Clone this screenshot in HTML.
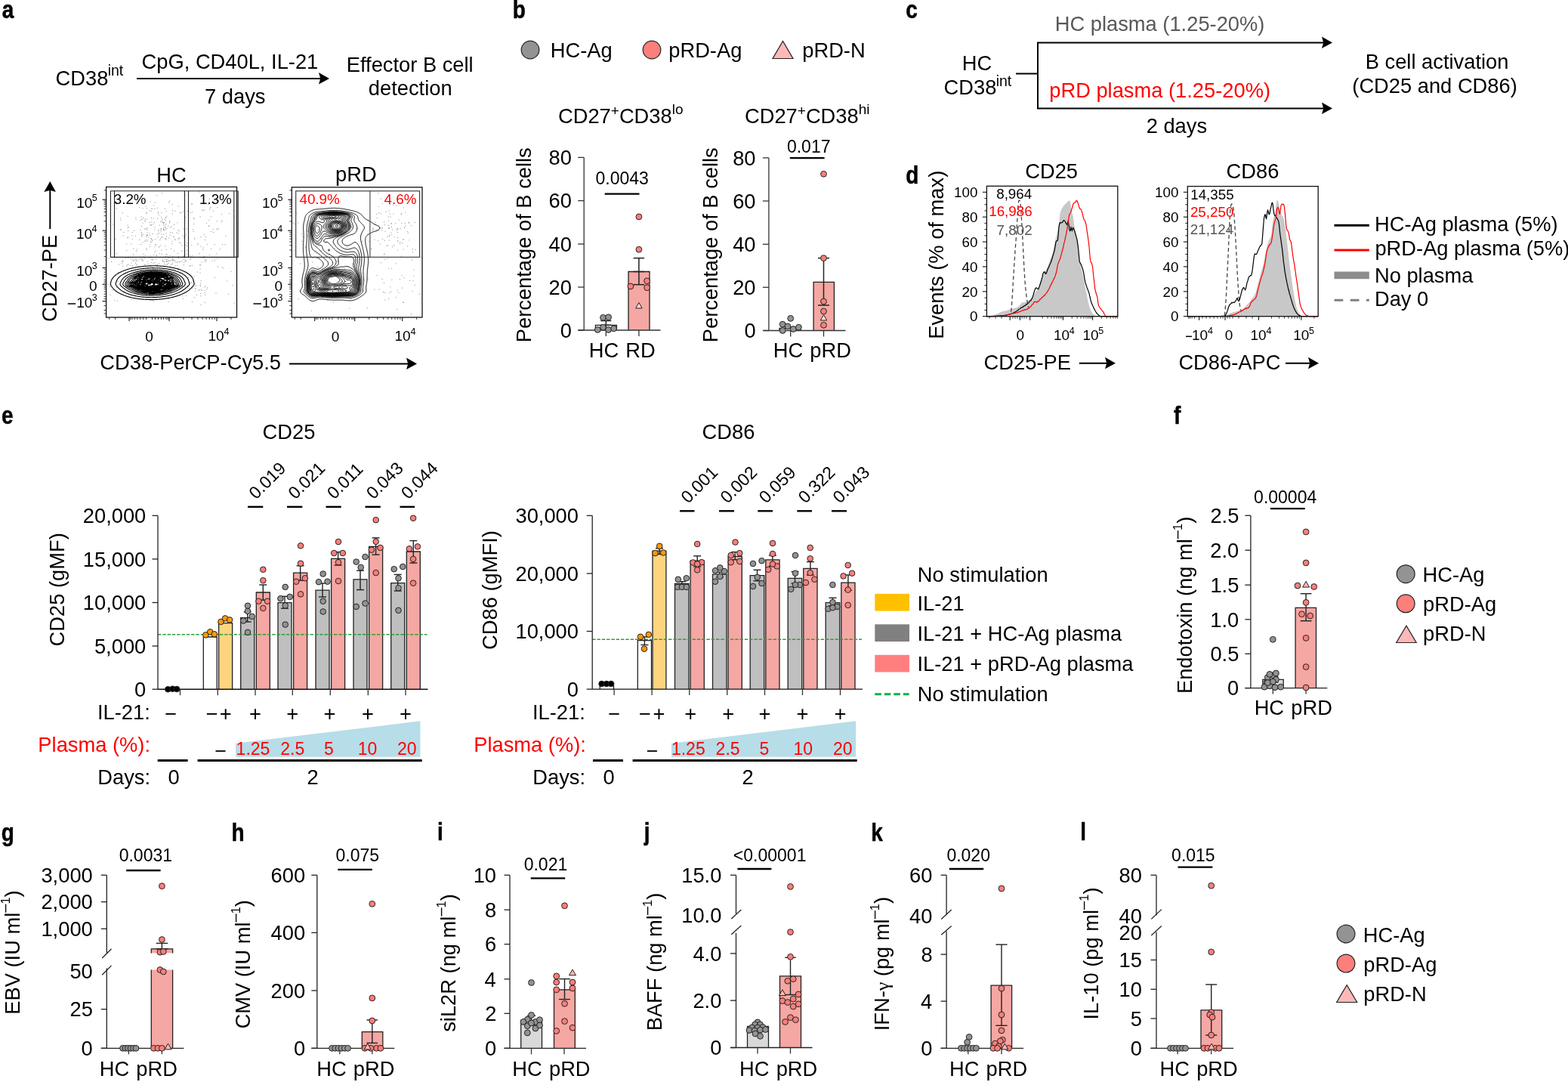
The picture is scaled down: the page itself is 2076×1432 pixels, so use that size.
<!DOCTYPE html>
<html><head><meta charset="utf-8"><title>Figure</title>
<style>
html,body{margin:0;padding:0;background:#fff;width:2076px;height:1432px;overflow:hidden}
svg{display:block}
svg{font-family:"Liberation Sans",Arial,Helvetica,sans-serif;font-size:27.3px;fill:#000}
</style></head><body>
<svg width="2076" height="1432" viewBox="0 0 2076 1432">
<rect width="2076" height="1432" fill="#fff"/>
<text transform="translate(2.68 24.4) scale(0.86 1)" font-size="32.5" font-weight="bold" stroke="#000" stroke-width="0.5">a</text>
<text transform="translate(678.66 24.2) scale(0.86 1)" font-size="32.5" font-weight="bold" stroke="#000" stroke-width="0.5">b</text>
<text transform="translate(1199.21 24.2) scale(0.86 1)" font-size="32.5" font-weight="bold" stroke="#000" stroke-width="0.5">c</text>
<text transform="translate(1199.35 243.4) scale(0.86 1)" font-size="32.5" font-weight="bold" stroke="#000" stroke-width="0.5">d</text>
<text transform="translate(2.11 561.2) scale(0.86 1)" font-size="32.5" font-weight="bold" stroke="#000" stroke-width="0.5">e</text>
<text transform="translate(1553.92 560.8) scale(0.86 1)" font-size="32.5" font-weight="bold" stroke="#000" stroke-width="0.5">f</text>
<text transform="translate(1.85 1112.5) scale(0.86 1)" font-size="32.5" font-weight="bold" stroke="#000" stroke-width="0.5">g</text>
<text transform="translate(306.45 1112.7) scale(0.86 1)" font-size="32.5" font-weight="bold" stroke="#000" stroke-width="0.5">h</text>
<text transform="translate(579.05 1112.3) scale(0.86 1)" font-size="32.5" font-weight="bold" stroke="#000" stroke-width="0.5">i</text>
<text transform="translate(852.74 1112.3) scale(0.86 1)" font-size="32.5" font-weight="bold" stroke="#000" stroke-width="0.5">j</text>
<text transform="translate(1153.25 1112.7) scale(0.86 1)" font-size="32.5" font-weight="bold" stroke="#000" stroke-width="0.5">k</text>
<text transform="translate(1430.15 1112.3) scale(0.86 1)" font-size="32.5" font-weight="bold" stroke="#000" stroke-width="0.5">l</text>
<text x="73.61" y="112.5">CD38</text>
<text x="142.7" y="100" font-size="19.5">int</text>
<line x1="181" y1="104" x2="425" y2="104" stroke="#000" stroke-width="2"/>
<polygon points="422,96 436,104 422,111.6 424.2,104" fill="#000" stroke="none" stroke-width="1"/>
<text x="187.61" y="91">CpG, CD40L, IL-21</text>
<text x="271.1" y="137">7 days</text>
<text x="458.76" y="94.5">Effector B cell</text>
<text x="487.85" y="126">detection</text>
<circle cx="702" cy="66" r="11.8" fill="#939393" stroke="#222" stroke-width="1.2"/>
<text x="728.76" y="76">HC-Ag</text>
<circle cx="863" cy="66" r="11.8" fill="#fc7f7b" stroke="#222" stroke-width="1.2"/>
<text x="885.24" y="76">pRD-Ag</text>
<polygon points="1023,77.5 1050,77.5 1036.5,54.5" fill="#ffb8b8" stroke="#222" stroke-width="1.2"/>
<text x="1062.24" y="76">pRD-N</text>
<text x="739" y="163">CD27<tspan font-size="19" dy="-10.5">+</tspan><tspan dy="10.5">CD38</tspan><tspan font-size="19" dy="-12">lo</tspan></text>
<text x="986" y="163">CD27<tspan font-size="19" dy="-10.5">+</tspan><tspan dy="10.5">CD38</tspan><tspan font-size="19" dy="-12">hi</tspan></text>
<line x1="773.2" y1="208.4" x2="773.2" y2="437" stroke="#333" stroke-width="1.3"/>
<line x1="765.2" y1="208.4" x2="773.2" y2="208.4" stroke="#333" stroke-width="1.3"/>
<text x="726.5" y="218.1">80</text>
<line x1="765.2" y1="265.6" x2="773.2" y2="265.6" stroke="#333" stroke-width="1.3"/>
<text x="726.5" y="275.3">60</text>
<line x1="765.2" y1="323" x2="773.2" y2="323" stroke="#333" stroke-width="1.3"/>
<text x="726.5" y="332.7">40</text>
<line x1="765.2" y1="380" x2="773.2" y2="380" stroke="#333" stroke-width="1.3"/>
<text x="726.5" y="389.7">20</text>
<line x1="765.2" y1="437" x2="773.2" y2="437" stroke="#333" stroke-width="1.3"/>
<text x="741.68" y="446.7">0</text>
<path d="M788.4 437V430.3H816.4V437" fill="#fff" stroke="#222" stroke-width="1.3"/>
<path d="M832 437V359.5H860V437" fill="#f5a7a3" stroke="#222" stroke-width="1.3"/>
<line x1="765.4" y1="437" x2="874.5" y2="437" stroke="#333" stroke-width="1.3"/>
<line x1="802.3" y1="437" x2="802.3" y2="445" stroke="#333" stroke-width="1.3"/>
<line x1="845.9" y1="437" x2="845.9" y2="445" stroke="#333" stroke-width="1.3"/>
<line x1="802.3" y1="424.5" x2="802.3" y2="436" stroke="#222" stroke-width="1.5"/>
<line x1="795.3" y1="424.5" x2="809.3" y2="424.5" stroke="#222" stroke-width="1.5"/>
<line x1="795.3" y1="430.3" x2="809.3" y2="430.3" stroke="#222" stroke-width="1.5"/>
<line x1="795.3" y1="436" x2="809.3" y2="436" stroke="#222" stroke-width="1.5"/>
<line x1="845.9" y1="341.6" x2="845.9" y2="376.7" stroke="#222" stroke-width="1.5"/>
<line x1="838.7" y1="341.6" x2="853.1" y2="341.6" stroke="#222" stroke-width="1.5"/>
<line x1="838.7" y1="359.5" x2="853.1" y2="359.5" stroke="#222" stroke-width="1.5"/>
<line x1="838.7" y1="376.7" x2="853.1" y2="376.7" stroke="#222" stroke-width="1.5"/>
<circle cx="798.5" cy="420.3" r="3.9" fill="#939393" stroke="#222" stroke-width="1"/>
<circle cx="805.6" cy="419.8" r="3.9" fill="#939393" stroke="#222" stroke-width="1"/>
<circle cx="791.3" cy="436.4" r="3.9" fill="#939393" stroke="#222" stroke-width="1"/>
<circle cx="798.5" cy="433.2" r="3.9" fill="#939393" stroke="#222" stroke-width="1"/>
<circle cx="805.6" cy="436.4" r="3.9" fill="#939393" stroke="#222" stroke-width="1"/>
<circle cx="812.6" cy="434.8" r="3.9" fill="#939393" stroke="#222" stroke-width="1"/>
<circle cx="845.9" cy="286.9" r="3.9" fill="#fc7f7b" stroke="#222" stroke-width="1"/>
<circle cx="845.9" cy="330.2" r="3.9" fill="#fc7f7b" stroke="#222" stroke-width="1"/>
<circle cx="856.6" cy="371.8" r="3.9" fill="#fc7f7b" stroke="#222" stroke-width="1"/>
<circle cx="834.9" cy="378.9" r="3.9" fill="#fc7f7b" stroke="#222" stroke-width="1"/>
<circle cx="856.6" cy="380.7" r="3.9" fill="#fc7f7b" stroke="#222" stroke-width="1"/>
<polygon points="841.65,407.95 850.15,407.95 845.9,400.59" fill="#fdd" stroke="#222" stroke-width="1"/>
<line x1="800.7" y1="256.7" x2="846.5" y2="256.7" stroke="#000" stroke-width="2.2"/>
<text x="788.48" y="244.4" font-size="23">0.0043</text>
<text x="779.76" y="473" word-spacing="1.6">HC RD</text>
<text transform="translate(702.5 323.6) rotate(-90)" x="-129.62" y="0">Percentage of B cells</text>
<line x1="1017.9" y1="208.9" x2="1017.9" y2="437.5" stroke="#333" stroke-width="1.3"/>
<line x1="1009.9" y1="208.9" x2="1017.9" y2="208.9" stroke="#333" stroke-width="1.3"/>
<text x="970.2" y="218.6">80</text>
<line x1="1009.9" y1="266" x2="1017.9" y2="266" stroke="#333" stroke-width="1.3"/>
<text x="970.2" y="275.7">60</text>
<line x1="1009.9" y1="323.3" x2="1017.9" y2="323.3" stroke="#333" stroke-width="1.3"/>
<text x="970.2" y="333">40</text>
<line x1="1009.9" y1="380.3" x2="1017.9" y2="380.3" stroke="#333" stroke-width="1.3"/>
<text x="970.2" y="390">20</text>
<line x1="1009.9" y1="437.5" x2="1017.9" y2="437.5" stroke="#333" stroke-width="1.3"/>
<text x="985.38" y="447.2">0</text>
<path d="M1077.1 437.5V373.4H1104.4V437.5" fill="#f5a7a3" stroke="#222" stroke-width="1.3"/>
<path d="M1032 437.5V434.5H1060V437.5" fill="#fff" stroke="#222" stroke-width="1.3"/>
<line x1="1010.5" y1="437.5" x2="1119.5" y2="437.5" stroke="#333" stroke-width="1.3"/>
<line x1="1046.7" y1="437.5" x2="1046.7" y2="445.5" stroke="#333" stroke-width="1.3"/>
<line x1="1090.5" y1="437.5" x2="1090.5" y2="445.5" stroke="#333" stroke-width="1.3"/>
<line x1="1090.5" y1="341.6" x2="1090.5" y2="404" stroke="#222" stroke-width="1.5"/>
<line x1="1083" y1="341.6" x2="1098" y2="341.6" stroke="#222" stroke-width="1.5"/>
<line x1="1083" y1="404" x2="1098" y2="404" stroke="#222" stroke-width="1.5"/>
<circle cx="1046.7" cy="421.4" r="3.9" fill="#939393" stroke="#222" stroke-width="1"/>
<circle cx="1036.2" cy="429.2" r="3.9" fill="#939393" stroke="#222" stroke-width="1"/>
<circle cx="1042.9" cy="431.9" r="3.9" fill="#939393" stroke="#222" stroke-width="1"/>
<circle cx="1050.3" cy="435.5" r="3.9" fill="#939393" stroke="#222" stroke-width="1"/>
<circle cx="1057.4" cy="433.2" r="3.9" fill="#939393" stroke="#222" stroke-width="1"/>
<circle cx="1036.2" cy="437.5" r="3.9" fill="#939393" stroke="#222" stroke-width="1"/>
<circle cx="1090.5" cy="230.3" r="3.9" fill="#fc7f7b" stroke="#222" stroke-width="1"/>
<circle cx="1090.5" cy="341.6" r="3.9" fill="#fc7f7b" stroke="#222" stroke-width="1"/>
<circle cx="1090.5" cy="399" r="3.9" fill="#fc7f7b" stroke="#222" stroke-width="1"/>
<circle cx="1090.5" cy="412" r="3.9" fill="#fc7f7b" stroke="#222" stroke-width="1"/>
<circle cx="1090.5" cy="430.3" r="3.9" fill="#fc7f7b" stroke="#222" stroke-width="1"/>
<polygon points="1086.25,423.95 1094.75,423.95 1090.5,416.59" fill="#fdd" stroke="#222" stroke-width="1"/>
<line x1="1045.8" y1="209.1" x2="1091.6" y2="209.1" stroke="#000" stroke-width="2.2"/>
<text x="1041.95" y="202" font-size="23">0.017</text>
<text x="1023.76" y="473" word-spacing="1.6">HC pRD</text>
<text transform="translate(949.5 323.6) rotate(-90)" x="-129.62" y="0">Percentage of B cells</text>
<text x="1396.76" y="41" fill="#595959">HC plasma (1.25-20%)</text>
<line x1="1374" y1="56.5" x2="1374" y2="143.5" stroke="#000" stroke-width="2"/>
<line x1="1345" y1="97.5" x2="1374" y2="97.5" stroke="#000" stroke-width="2"/>
<line x1="1373" y1="56.5" x2="1753" y2="56.5" stroke="#000" stroke-width="2"/>
<polygon points="1750,48.5 1764,56.5 1750,64.1 1752.2,56.5" fill="#000" stroke="none" stroke-width="1"/>
<line x1="1373" y1="143.5" x2="1753" y2="143.5" stroke="#000" stroke-width="2"/>
<polygon points="1750,135.5 1764,143.5 1750,151.1 1752.2,143.5" fill="#000" stroke="none" stroke-width="1"/>
<text x="1273.76" y="93">HC</text>
<text x="1249.61" y="125">CD38</text>
<text x="1318.7" y="113.75" font-size="19.5">int</text>
<text x="1389.24" y="129" fill="#ff0000">pRD plasma (1.25-20%)</text>
<text x="1517.63" y="175.5">2 days</text>
<text x="1807.76" y="90.5">B cell activation</text>
<text x="1790.31" y="122.5">(CD25 and CD86)</text>
<text x="207.36" y="240.5">HC</text>
<text x="444.04" y="240.2">pRD</text>
<rect x="140.6" y="247.4" width="172.9" height="172.6" fill="none" stroke="#111" stroke-width="1.3"/>
<line x1="135.6" y1="264.2" x2="140.6" y2="264.2" stroke="#111" stroke-width="1.1"/>
<line x1="135.6" y1="305.2" x2="140.6" y2="305.2" stroke="#111" stroke-width="1.1"/>
<line x1="135.6" y1="354.5" x2="140.6" y2="354.5" stroke="#111" stroke-width="1.1"/>
<line x1="135.6" y1="376.3" x2="140.6" y2="376.3" stroke="#111" stroke-width="1.1"/>
<line x1="135.6" y1="398.6" x2="140.6" y2="398.6" stroke="#111" stroke-width="1.1"/>
<line x1="137.6" y1="292.86" x2="140.6" y2="292.86" stroke="#111" stroke-width="0.8"/>
<line x1="137.6" y1="339.66" x2="140.6" y2="339.66" stroke="#111" stroke-width="0.8"/>
<line x1="137.6" y1="285.64" x2="140.6" y2="285.64" stroke="#111" stroke-width="0.8"/>
<line x1="137.6" y1="330.98" x2="140.6" y2="330.98" stroke="#111" stroke-width="0.8"/>
<line x1="137.6" y1="280.52" x2="140.6" y2="280.52" stroke="#111" stroke-width="0.8"/>
<line x1="137.6" y1="324.82" x2="140.6" y2="324.82" stroke="#111" stroke-width="0.8"/>
<line x1="137.6" y1="276.54" x2="140.6" y2="276.54" stroke="#111" stroke-width="0.8"/>
<line x1="137.6" y1="320.04" x2="140.6" y2="320.04" stroke="#111" stroke-width="0.8"/>
<line x1="137.6" y1="273.3" x2="140.6" y2="273.3" stroke="#111" stroke-width="0.8"/>
<line x1="137.6" y1="316.14" x2="140.6" y2="316.14" stroke="#111" stroke-width="0.8"/>
<line x1="137.6" y1="270.55" x2="140.6" y2="270.55" stroke="#111" stroke-width="0.8"/>
<line x1="137.6" y1="312.84" x2="140.6" y2="312.84" stroke="#111" stroke-width="0.8"/>
<line x1="137.6" y1="268.17" x2="140.6" y2="268.17" stroke="#111" stroke-width="0.8"/>
<line x1="137.6" y1="309.98" x2="140.6" y2="309.98" stroke="#111" stroke-width="0.8"/>
<line x1="137.6" y1="266.08" x2="140.6" y2="266.08" stroke="#111" stroke-width="0.8"/>
<line x1="137.6" y1="307.46" x2="140.6" y2="307.46" stroke="#111" stroke-width="0.8"/>
<line x1="137.6" y1="251.86" x2="140.6" y2="251.86" stroke="#111" stroke-width="0.8"/>
<line x1="137.6" y1="374.15" x2="140.6" y2="374.15" stroke="#111" stroke-width="0.8"/>
<line x1="137.6" y1="378.45" x2="140.6" y2="378.45" stroke="#111" stroke-width="0.8"/>
<line x1="137.6" y1="372" x2="140.6" y2="372" stroke="#111" stroke-width="0.8"/>
<line x1="137.6" y1="380.6" x2="140.6" y2="380.6" stroke="#111" stroke-width="0.8"/>
<line x1="137.6" y1="369.85" x2="140.6" y2="369.85" stroke="#111" stroke-width="0.8"/>
<line x1="137.6" y1="382.75" x2="140.6" y2="382.75" stroke="#111" stroke-width="0.8"/>
<line x1="137.6" y1="366.62" x2="140.6" y2="366.62" stroke="#111" stroke-width="0.8"/>
<line x1="137.6" y1="385.98" x2="140.6" y2="385.98" stroke="#111" stroke-width="0.8"/>
<line x1="137.6" y1="363.4" x2="140.6" y2="363.4" stroke="#111" stroke-width="0.8"/>
<line x1="137.6" y1="389.2" x2="140.6" y2="389.2" stroke="#111" stroke-width="0.8"/>
<line x1="137.6" y1="360.18" x2="140.6" y2="360.18" stroke="#111" stroke-width="0.8"/>
<line x1="137.6" y1="392.43" x2="140.6" y2="392.43" stroke="#111" stroke-width="0.8"/>
<line x1="137.6" y1="356.95" x2="140.6" y2="356.95" stroke="#111" stroke-width="0.8"/>
<line x1="137.6" y1="395.65" x2="140.6" y2="395.65" stroke="#111" stroke-width="0.8"/>
<line x1="137.6" y1="404.5" x2="140.6" y2="404.5" stroke="#111" stroke-width="0.8"/>
<line x1="137.6" y1="410.5" x2="140.6" y2="410.5" stroke="#111" stroke-width="0.8"/>
<line x1="137.6" y1="415" x2="140.6" y2="415" stroke="#111" stroke-width="0.8"/>
<line x1="171" y1="420" x2="171" y2="425" stroke="#111" stroke-width="1.1"/>
<line x1="224" y1="420" x2="224" y2="425" stroke="#111" stroke-width="1.1"/>
<line x1="287" y1="420" x2="287" y2="425" stroke="#111" stroke-width="1.1"/>
<line x1="193.61" y1="420" x2="193.61" y2="423" stroke="#111" stroke-width="0.8"/>
<line x1="201.56" y1="420" x2="201.56" y2="423" stroke="#111" stroke-width="0.8"/>
<line x1="189.62" y1="420" x2="189.62" y2="423" stroke="#111" stroke-width="0.8"/>
<line x1="205.52" y1="420" x2="205.52" y2="423" stroke="#111" stroke-width="0.8"/>
<line x1="185.63" y1="420" x2="185.63" y2="423" stroke="#111" stroke-width="0.8"/>
<line x1="209.48" y1="420" x2="209.48" y2="423" stroke="#111" stroke-width="0.8"/>
<line x1="181.64" y1="420" x2="181.64" y2="423" stroke="#111" stroke-width="0.8"/>
<line x1="213.44" y1="420" x2="213.44" y2="423" stroke="#111" stroke-width="0.8"/>
<line x1="178.45" y1="420" x2="178.45" y2="423" stroke="#111" stroke-width="0.8"/>
<line x1="216.61" y1="420" x2="216.61" y2="423" stroke="#111" stroke-width="0.8"/>
<line x1="174.99" y1="420" x2="174.99" y2="423" stroke="#111" stroke-width="0.8"/>
<line x1="220.04" y1="420" x2="220.04" y2="423" stroke="#111" stroke-width="0.8"/>
<line x1="172.86" y1="420" x2="172.86" y2="423" stroke="#111" stroke-width="0.8"/>
<line x1="222.15" y1="420" x2="222.15" y2="423" stroke="#111" stroke-width="0.8"/>
<line x1="242.96" y1="420" x2="242.96" y2="423" stroke="#111" stroke-width="0.8"/>
<line x1="305.96" y1="420" x2="305.96" y2="423" stroke="#111" stroke-width="0.8"/>
<line x1="254.06" y1="420" x2="254.06" y2="423" stroke="#111" stroke-width="0.8"/>
<line x1="261.93" y1="420" x2="261.93" y2="423" stroke="#111" stroke-width="0.8"/>
<line x1="268.04" y1="420" x2="268.04" y2="423" stroke="#111" stroke-width="0.8"/>
<line x1="273.02" y1="420" x2="273.02" y2="423" stroke="#111" stroke-width="0.8"/>
<line x1="277.24" y1="420" x2="277.24" y2="423" stroke="#111" stroke-width="0.8"/>
<line x1="280.89" y1="420" x2="280.89" y2="423" stroke="#111" stroke-width="0.8"/>
<line x1="284.12" y1="420" x2="284.12" y2="423" stroke="#111" stroke-width="0.8"/>
<line x1="144.6" y1="420" x2="144.6" y2="423" stroke="#111" stroke-width="0.8"/>
<line x1="152.6" y1="420" x2="152.6" y2="423" stroke="#111" stroke-width="0.8"/>
<text x="101.28" y="274.8" font-size="19">10</text>
<text x="121.77" y="266.2" font-size="12.5">5</text>
<text x="100.91" y="316" font-size="19">10</text>
<text x="121.61" y="307.4" font-size="12.5">4</text>
<text x="101.28" y="364.5" font-size="19">10</text>
<text x="121.8" y="355.9" font-size="12.5">3</text>
<text x="117.88" y="385.2" font-size="19">0</text>
<text x="101.28" y="406.6" font-size="19">10</text>
<text x="121.8" y="398" font-size="12.5">3</text>
<line x1="89.73" y1="402" x2="100.23" y2="402" stroke="#000" stroke-width="1.5"/>
<text x="192.32" y="451.5" font-size="19">0</text>
<text x="275.55" y="451.2" font-size="19">10</text>
<text x="296.46" y="442.6" font-size="12.5">4</text>
<rect x="386.3" y="247.8" width="172.7" height="172.2" fill="none" stroke="#111" stroke-width="1.3"/>
<line x1="381.3" y1="264.2" x2="386.3" y2="264.2" stroke="#111" stroke-width="1.1"/>
<line x1="381.3" y1="305.2" x2="386.3" y2="305.2" stroke="#111" stroke-width="1.1"/>
<line x1="381.3" y1="354.5" x2="386.3" y2="354.5" stroke="#111" stroke-width="1.1"/>
<line x1="381.3" y1="376.3" x2="386.3" y2="376.3" stroke="#111" stroke-width="1.1"/>
<line x1="381.3" y1="398.6" x2="386.3" y2="398.6" stroke="#111" stroke-width="1.1"/>
<line x1="383.3" y1="292.86" x2="386.3" y2="292.86" stroke="#111" stroke-width="0.8"/>
<line x1="383.3" y1="339.66" x2="386.3" y2="339.66" stroke="#111" stroke-width="0.8"/>
<line x1="383.3" y1="285.64" x2="386.3" y2="285.64" stroke="#111" stroke-width="0.8"/>
<line x1="383.3" y1="330.98" x2="386.3" y2="330.98" stroke="#111" stroke-width="0.8"/>
<line x1="383.3" y1="280.52" x2="386.3" y2="280.52" stroke="#111" stroke-width="0.8"/>
<line x1="383.3" y1="324.82" x2="386.3" y2="324.82" stroke="#111" stroke-width="0.8"/>
<line x1="383.3" y1="276.54" x2="386.3" y2="276.54" stroke="#111" stroke-width="0.8"/>
<line x1="383.3" y1="320.04" x2="386.3" y2="320.04" stroke="#111" stroke-width="0.8"/>
<line x1="383.3" y1="273.3" x2="386.3" y2="273.3" stroke="#111" stroke-width="0.8"/>
<line x1="383.3" y1="316.14" x2="386.3" y2="316.14" stroke="#111" stroke-width="0.8"/>
<line x1="383.3" y1="270.55" x2="386.3" y2="270.55" stroke="#111" stroke-width="0.8"/>
<line x1="383.3" y1="312.84" x2="386.3" y2="312.84" stroke="#111" stroke-width="0.8"/>
<line x1="383.3" y1="268.17" x2="386.3" y2="268.17" stroke="#111" stroke-width="0.8"/>
<line x1="383.3" y1="309.98" x2="386.3" y2="309.98" stroke="#111" stroke-width="0.8"/>
<line x1="383.3" y1="266.08" x2="386.3" y2="266.08" stroke="#111" stroke-width="0.8"/>
<line x1="383.3" y1="307.46" x2="386.3" y2="307.46" stroke="#111" stroke-width="0.8"/>
<line x1="383.3" y1="251.86" x2="386.3" y2="251.86" stroke="#111" stroke-width="0.8"/>
<line x1="383.3" y1="374.15" x2="386.3" y2="374.15" stroke="#111" stroke-width="0.8"/>
<line x1="383.3" y1="378.45" x2="386.3" y2="378.45" stroke="#111" stroke-width="0.8"/>
<line x1="383.3" y1="372" x2="386.3" y2="372" stroke="#111" stroke-width="0.8"/>
<line x1="383.3" y1="380.6" x2="386.3" y2="380.6" stroke="#111" stroke-width="0.8"/>
<line x1="383.3" y1="369.85" x2="386.3" y2="369.85" stroke="#111" stroke-width="0.8"/>
<line x1="383.3" y1="382.75" x2="386.3" y2="382.75" stroke="#111" stroke-width="0.8"/>
<line x1="383.3" y1="366.62" x2="386.3" y2="366.62" stroke="#111" stroke-width="0.8"/>
<line x1="383.3" y1="385.98" x2="386.3" y2="385.98" stroke="#111" stroke-width="0.8"/>
<line x1="383.3" y1="363.4" x2="386.3" y2="363.4" stroke="#111" stroke-width="0.8"/>
<line x1="383.3" y1="389.2" x2="386.3" y2="389.2" stroke="#111" stroke-width="0.8"/>
<line x1="383.3" y1="360.18" x2="386.3" y2="360.18" stroke="#111" stroke-width="0.8"/>
<line x1="383.3" y1="392.43" x2="386.3" y2="392.43" stroke="#111" stroke-width="0.8"/>
<line x1="383.3" y1="356.95" x2="386.3" y2="356.95" stroke="#111" stroke-width="0.8"/>
<line x1="383.3" y1="395.65" x2="386.3" y2="395.65" stroke="#111" stroke-width="0.8"/>
<line x1="383.3" y1="404.5" x2="386.3" y2="404.5" stroke="#111" stroke-width="0.8"/>
<line x1="383.3" y1="410.5" x2="386.3" y2="410.5" stroke="#111" stroke-width="0.8"/>
<line x1="383.3" y1="415" x2="386.3" y2="415" stroke="#111" stroke-width="0.8"/>
<line x1="416.7" y1="420" x2="416.7" y2="425" stroke="#111" stroke-width="1.1"/>
<line x1="469.7" y1="420" x2="469.7" y2="425" stroke="#111" stroke-width="1.1"/>
<line x1="532.7" y1="420" x2="532.7" y2="425" stroke="#111" stroke-width="1.1"/>
<line x1="439.9" y1="420" x2="439.9" y2="423" stroke="#111" stroke-width="0.8"/>
<line x1="447.86" y1="420" x2="447.86" y2="423" stroke="#111" stroke-width="0.8"/>
<line x1="435.81" y1="420" x2="435.81" y2="423" stroke="#111" stroke-width="0.8"/>
<line x1="451.71" y1="420" x2="451.71" y2="423" stroke="#111" stroke-width="0.8"/>
<line x1="431.71" y1="420" x2="431.71" y2="423" stroke="#111" stroke-width="0.8"/>
<line x1="455.56" y1="420" x2="455.56" y2="423" stroke="#111" stroke-width="0.8"/>
<line x1="427.62" y1="420" x2="427.62" y2="423" stroke="#111" stroke-width="0.8"/>
<line x1="459.42" y1="420" x2="459.42" y2="423" stroke="#111" stroke-width="0.8"/>
<line x1="424.34" y1="420" x2="424.34" y2="423" stroke="#111" stroke-width="0.8"/>
<line x1="462.5" y1="420" x2="462.5" y2="423" stroke="#111" stroke-width="0.8"/>
<line x1="420.8" y1="420" x2="420.8" y2="423" stroke="#111" stroke-width="0.8"/>
<line x1="465.84" y1="420" x2="465.84" y2="423" stroke="#111" stroke-width="0.8"/>
<line x1="418.61" y1="420" x2="418.61" y2="423" stroke="#111" stroke-width="0.8"/>
<line x1="467.9" y1="420" x2="467.9" y2="423" stroke="#111" stroke-width="0.8"/>
<line x1="488.66" y1="420" x2="488.66" y2="423" stroke="#111" stroke-width="0.8"/>
<line x1="551.66" y1="420" x2="551.66" y2="423" stroke="#111" stroke-width="0.8"/>
<line x1="499.76" y1="420" x2="499.76" y2="423" stroke="#111" stroke-width="0.8"/>
<line x1="507.63" y1="420" x2="507.63" y2="423" stroke="#111" stroke-width="0.8"/>
<line x1="513.74" y1="420" x2="513.74" y2="423" stroke="#111" stroke-width="0.8"/>
<line x1="518.72" y1="420" x2="518.72" y2="423" stroke="#111" stroke-width="0.8"/>
<line x1="522.94" y1="420" x2="522.94" y2="423" stroke="#111" stroke-width="0.8"/>
<line x1="526.59" y1="420" x2="526.59" y2="423" stroke="#111" stroke-width="0.8"/>
<line x1="529.82" y1="420" x2="529.82" y2="423" stroke="#111" stroke-width="0.8"/>
<line x1="390.3" y1="420" x2="390.3" y2="423" stroke="#111" stroke-width="0.8"/>
<line x1="398.3" y1="420" x2="398.3" y2="423" stroke="#111" stroke-width="0.8"/>
<text x="346.98" y="274.8" font-size="19">10</text>
<text x="367.47" y="266.2" font-size="12.5">5</text>
<text x="346.61" y="316" font-size="19">10</text>
<text x="367.31" y="307.4" font-size="12.5">4</text>
<text x="346.98" y="364.5" font-size="19">10</text>
<text x="367.5" y="355.9" font-size="12.5">3</text>
<text x="363.58" y="385.2" font-size="19">0</text>
<text x="346.98" y="406.6" font-size="19">10</text>
<text x="367.5" y="398" font-size="12.5">3</text>
<line x1="335.43" y1="402" x2="345.93" y2="402" stroke="#000" stroke-width="1.5"/>
<text x="438.72" y="451.5" font-size="19">0</text>
<text x="522.55" y="451.2" font-size="19">10</text>
<text x="543.46" y="442.6" font-size="12.5">4</text>
<path d="M205.8 332.2h1M234.4 294.8h1M197.8 294.5h1M218.7 303.9h1M222.9 268.1h1M242.6 303.1h1M221.3 302.3h1M195.9 314.3h1M224.8 300.9h1M201.3 318.7h1M184.1 274.7h1M214.5 291.6h1M158.9 288.7h1M193.8 281.1h1M169.2 305.7h1M226.5 300.3h1M187.2 312.7h1M222.2 299.0h1M218.1 325.9h1M200.0 288.7h1M213.3 310.0h1M231.4 279.3h1M189.1 288.2h1M163.4 307.5h1M217.7 290.2h1M238.3 321.4h1M220.1 313.0h1M227.9 278.4h1M219.7 317.1h1M162.6 311.9h1M199.0 320.6h1M194.5 304.6h1M213.2 287.5h1M219.4 302.9h1M216.8 294.6h1M231.1 317.1h1M200.7 317.6h1M235.2 340.8h1M167.2 322.7h1M216.2 303.1h1M180.8 330.1h1M174.7 316.3h1M236.2 273.0h1M197.7 278.8h1M210.9 335.3h1M253.6 269.4h1M191.2 319.1h1M242.9 313.4h1M187.1 310.9h1M204.6 300.9h1M187.4 312.7h1M212.4 303.1h1M199.7 279.3h1M193.3 329.1h1M200.4 276.2h1M237.0 315.6h1M255.6 306.3h1M193.9 276.0h1M236.8 356.4h1M185.3 292.1h1M219.3 288.4h1M198.5 298.0h1M209.6 326.9h1M205.5 323.4h1M194.9 311.6h1M153.7 276.0h1M224.1 293.2h1M218.9 315.8h1M236.7 321.2h1M229.4 302.8h1M188.2 290.4h1M193.3 282.4h1M191.9 303.1h1M211.0 298.2h1M158.8 303.6h1M210.4 326.7h1M218.9 292.1h1M187.6 345.2h1M223.2 341.6h1M256.1 288.6h1M214.2 314.2h1M218.4 315.8h1M209.8 308.5h1M168.9 301.7h1M187.1 307.5h1M193.8 317.4h1M224.7 311.2h1M212.6 306.9h1M194.3 301.7h1M193.1 312.8h1M205.3 316.6h1M173.1 322.8h1M186.7 290.3h1M200.3 293.7h1M212.0 293.5h1M179.3 288.1h1M236.5 305.9h1M177.0 305.2h1M167.7 340.8h1M168.4 314.6h1M218.0 276.0h1M212.2 324.9h1M216.2 310.2h1M227.8 308.2h1M213.1 302.5h1M220.2 286.2h1M224.0 294.9h1M178.8 312.3h1M245.6 324.2h1M192.6 319.0h1M194.1 302.5h1M207.1 258.7h1M209.6 284.4h1M188.3 275.5h1M168.6 286.1h1M224.8 338.3h1M204.4 326.8h1M198.7 266.8h1M208.6 313.9h1M194.7 311.0h1M218.7 287.7h1M169.6 300.6h1M199.9 297.9h1M228.7 339.5h1M195.0 319.0h1M227.6 319.3h1M230.1 297.2h1M222.8 345.5h1M224.3 292.6h1M219.6 330.2h1M213.9 293.7h1M242.0 280.0h1M217.1 304.7h1M176.4 329.4h1M213.3 281.7h1M219.4 296.4h1M159.3 291.2h1M211.3 317.7h1M209.0 305.9h1M216.3 300.8h1M233.2 308.0h1M212.1 315.8h1M179.6 290.8h1M241.7 311.7h1M198.2 311.8h1M193.4 310.6h1M189.0 310.5h1M167.1 331.6h1M192.7 273.4h1M199.6 297.6h1M208.7 282.1h1M214.5 377.5h1M174.3 311.8h1M197.5 308.9h1M161.5 282.0h1M216.0 304.2h1M244.2 290.9h1M209.2 363.3h1M186.6 286.9h1M204.2 304.1h1M225.3 307.6h1M186.8 309.2h1M268.3 330.4h1M184.0 317.4h1M200.8 343.7h1M227.3 322.8h1M209.5 304.2h1M213.2 330.9h1M217.8 298.0h1M235.6 308.8h1M203.1 289.2h1M191.4 292.3h1M218.6 300.7h1M230.1 313.8h1M213.9 255.5h1M199.4 315.6h1M243.6 341.8h1M239.2 281.8h1M152.3 316.4h1M205.7 324.3h1M202.0 309.4h1M169.0 314.0h1M194.3 312.0h1M216.0 302.7h1M212.6 304.7h1M223.2 315.0h1M191.9 293.2h1M246.8 303.0h1M228.8 312.9h1M191.5 290.0h1M207.9 310.1h1M219.7 279.7h1M190.7 303.1h1M243.4 257.8h1M215.5 294.2h1M215.4 295.2h1M213.7 336.3h1M213.5 313.7h1M213.9 290.0h1M218.0 300.8h1M185.5 304.2h1M199.5 320.1h1M204.0 294.4h1M239.9 324.8h1M235.5 317.2h1M202.4 296.6h1M198.3 324.0h1M207.7 275.3h1M204.1 276.7h1M209.0 280.9h1M174.7 307.4h1M203.1 271.8h1M223.0 348.3h1M169.4 341.4h1M188.5 295.1h1M200.7 276.1h1M236.2 314.9h1M187.0 299.5h1M168.6 298.0h1M227.5 270.7h1M194.5 307.9h1M230.2 332.0h1M194.0 290.2h1M215.8 297.7h1M197.6 326.6h1M245.6 310.3h1M200.4 316.4h1M159.7 304.6h1M250.8 352.6h1M286.4 303.1h1M286.3 335.8h1M257.4 315.0h1M286.5 265.9h1M290.7 329.8h1M276.6 298.6h1M287.8 266.1h1M273.9 323.2h1M247.2 321.8h1M263.6 254.2h1M269.9 278.6h1M278.4 274.2h1M293.0 283.7h1M279.1 286.9h1M265.5 326.2h1M276.3 291.3h1M247.0 325.5h1M286.7 292.8h1M276.9 277.3h1M251.7 281.8h1M279.1 306.5h1M257.1 316.2h1M287.7 303.8h1M292.8 293.7h1M269.7 310.4h1M271.3 317.5h1M246.9 331.4h1M256.4 296.4h1M244.4 313.2h1M297.5 323.6h1M288.7 265.7h1M256.4 289.8h1M253.3 324.7h1M275.7 299.5h1M281.8 279.1h1M253.8 280.6h1M282.0 307.5h1M283.6 323.7h1M244.9 287.7h1M275.0 270.3h1M261.4 322.3h1M294.1 323.7h1M272.9 295.3h1M293.6 291.8h1M278.8 329.2h1M264.6 286.6h1M271.8 313.2h1M281.6 303.4h1M283.1 264.8h1M254.8 303.6h1M253.4 270.5h1M247.8 279.8h1M268.4 277.5h1M276.7 337.3h1M269.0 328.0h1M277.8 275.4h1M266.9 278.4h1M287.4 274.6h1M298.5 312.7h1M231.6 317.3h1M303.1 282.6h1M291.7 260.4h1M277.0 263.4h1M281.6 260.7h1M219.3 308.7h1M288.6 302.4h1M265.5 313.5h1M269.5 339.4h1M231.7 346.6h1M162.1 352.3h1M280.2 340.7h1M272.8 345.3h1M206.3 351.8h1M220.0 346.5h1M265.1 350.8h1M243.3 338.7h1M157.0 350.1h1M179.6 345.7h1M174.4 344.2h1M167.2 352.3h1M176.3 344.5h1M205.4 350.4h1M162.3 344.8h1M204.7 347.4h1M228.5 342.9h1M220.4 343.3h1M228.4 344.5h1M189.1 344.9h1M224.7 355.2h1M194.8 346.4h1M263.2 335.6h1M151.0 339.7h1M208.0 356.0h1M225.7 350.4h1M204.2 333.9h1M218.5 339.2h1M251.1 338.1h1M251.7 351.5h1M185.2 340.0h1M241.6 340.1h1M242.2 339.6h1M240.3 345.4h1M196.9 341.0h1M220.3 336.5h1M202.3 343.2h1M235.7 339.4h1M272.0 343.6h1M172.2 351.2h1M270.2 344.2h1M180.8 345.1h1M187.8 343.6h1M266.5 346.8h1M217.1 346.6h1M210.0 348.8h1M242.8 343.3h1M215.7 355.9h1M226.8 344.2h1M283.7 345.0h1M173.6 348.0h1M180.5 342.8h1M223.4 344.4h1M185.3 342.5h1M191.2 350.2h1M186.8 342.4h1M283.3 342.5h1M264.1 350.9h1M206.7 338.6h1M227.9 348.0h1M245.9 345.3h1M254.2 351.3h1M175.1 351.4h1M218.1 342.5h1M200.8 353.4h1M246.4 336.9h1M214.9 344.4h1M205.9 342.7h1M161.0 348.9h1M179.1 343.3h1M190.9 341.7h1M238.0 346.7h1M188.4 340.7h1M195.6 349.4h1M216.4 346.0h1M200.5 343.8h1M219.6 336.7h1M268.4 341.5h1M192.1 351.0h1M219.8 345.2h1M191.6 338.0h1M218.5 350.4h1M180.5 351.1h1M172.6 341.7h1M229.7 345.0h1M236.2 341.7h1M175.9 336.6h1M169.9 340.2h1M162.1 346.4h1M188.8 336.1h1M298.9 341.2h1M168.1 350.6h1M252.8 339.8h1M160.4 340.5h1M251.5 343.6h1M183.7 344.9h1M254.1 338.7h1M198.6 338.8h1M288.0 353.2h1M245.3 344.4h1M235.1 335.5h1M221.7 339.0h1M165.6 341.8h1M199.7 347.6h1M236.5 346.2h1M178.9 348.0h1M207.8 350.3h1M179.9 332.6h1M195.3 354.7h1M228.4 344.1h1M242.9 347.3h1M228.1 342.7h1M214.7 345.9h1M189.5 340.0h1M216.9 349.4h1M234.7 347.2h1M229.7 356.6h1M221.1 349.7h1M280.5 345.2h1M221.3 349.7h1M271.1 346.4h1M224.7 345.4h1M169.8 350.0h1M203.2 337.3h1M207.0 337.2h1M176.8 345.1h1M179.9 349.8h1M160.8 346.2h1M231.7 351.6h1M244.5 346.1h1M215.1 344.8h1M252.2 342.1h1M230.6 344.6h1M220.8 343.9h1M287.1 342.1h1M221.2 346.3h1M233.7 347.1h1M227.3 349.5h1M142.3 376.3h1M153.7 379.9h1M155.8 360.8h1M203.0 398.5h1M229.8 380.9h1M264.5 361.1h1M193.9 396.0h1M295.4 354.9h1M309.6 401.2h1M240.8 382.1h1M307.5 377.5h1M185.7 378.4h1M148.1 383.8h1M201.0 381.5h1M220.7 359.3h1M260.9 360.0h1M242.9 350.7h1M221.2 363.1h1M207.4 365.8h1M208.5 386.2h1M143.9 342.2h1M169.0 372.9h1M179.1 363.3h1M241.4 391.7h1M236.8 361.2h1M208.9 373.1h1M145.7 390.4h1M209.3 368.5h1M265.2 388.5h1M241.6 395.4h1M235.8 356.0h1M189.3 392.3h1M173.3 376.8h1M222.3 399.3h1M260.2 390.6h1M197.8 390.9h1M227.8 373.6h1M262.6 384.1h1M173.8 396.5h1M194.8 385.7h1M165.8 360.6h1M199.2 380.0h1M252.0 374.2h1M227.0 354.4h1M213.7 369.5h1M226.4 379.0h1M147.2 346.5h1M162.7 387.9h1M223.2 382.6h1M179.1 370.8h1M179.9 381.8h1M198.1 357.1h1M168.3 378.4h1M208.3 374.9h1M300.4 371.9h1M210.2 360.1h1M190.0 384.4h1M228.9 373.5h1M221.7 376.9h1M302.1 389.3h1M202.6 348.2h1M151.4 397.7h1M241.5 378.3h1M236.7 373.9h1M305.5 359.6h1M147.8 380.4h1M265.0 375.1h1M249.1 367.5h1M155.2 398.4h1M270.9 400.5h1M186.6 357.5h1M155.9 372.4h1M229.5 384.1h1M144.8 379.1h1M205.7 377.4h1M204.0 372.8h1M229.9 378.0h1M214.5 364.9h1M221.6 374.1h1M193.9 390.8h1M198.2 374.5h1M213.9 375.8h1M256.6 365.7h1M284.1 367.4h1M257.9 385.2h1M266.6 384.5h1M271.2 390.1h1M265.6 403.3h1M249.8 381.8h1M257.7 375.6h1M265.4 391.7h1M253.5 374.3h1M270.7 384.4h1M285.5 388.2h1M264.8 377.4h1M264.6 378.6h1M245.6 380.1h1M259.9 378.1h1M256.8 393.5h1M270.4 387.5h1M254.7 371.8h1M258.6 382.0h1M257.9 378.5h1M273.5 382.4h1M250.2 376.6h1M254.1 381.4h1M248.0 378.6h1M270.3 380.2h1M251.0 375.1h1M263.5 383.9h1M272.0 378.8h1M246.2 391.4h1M265.6 383.2h1M265.7 371.7h1M258.2 382.1h1M274.4 380.5h1M224.6 378.1h1M234.4 351.8h1M254.1 399.6h1M293.3 353.9h1M261.6 324.0h1M186.1 323.5h1M238.0 281.4h1M208.2 289.5h1M227.7 283.0h1M188.4 320.7h1M216.2 295.6h1M218.8 362.8h1M154.2 335.5h1M224.0 265.9h1M226.3 329.1h1M149.3 296.9h1M204.7 268.1h1M288.6 265.0h1M308.5 278.7h1M240.0 332.2h1M264.6 356.1h1M310.3 286.1h1M193.7 330.4h1M235.8 304.6h1" stroke="#8a8a8a" stroke-width="1" fill="none"/>
<path d="M210.0,396.2 209.2,396.3 208.4,396.3 207.6,396.4 206.8,396.4 206.0,396.5 205.2,396.5 204.4,396.5 203.6,396.5 202.8,396.6 202.0,396.6 201.2,396.6 200.4,396.6 199.6,396.6 198.8,396.6 198.0,396.6 197.2,396.5 196.4,396.5 195.6,396.5 194.8,396.5 194.0,396.4 193.2,396.4 192.4,396.3 191.6,396.3 190.8,396.2 190.3,396.2 189.6,396.1 188.8,396.1 188.0,396.0 187.2,395.9 186.4,395.8 186.0,395.8 185.2,395.7 184.4,395.6 183.6,395.5 182.9,395.4 182.4,395.3 181.6,395.2 180.8,395.1 180.3,395.0 179.6,394.9 178.8,394.8 178.0,394.6 177.2,394.5 176.4,394.3 176.0,394.2 175.2,394.0 174.4,393.9 174.0,393.8 173.2,393.6 172.5,393.4 172.0,393.3 171.2,393.1 170.8,393.0 170.0,392.7 169.5,392.6 168.8,392.4 168.2,392.2 167.6,392.0 167.0,391.8 166.4,391.6 165.8,391.4 165.2,391.2 164.7,391.0 164.0,390.8 163.6,390.6 162.8,390.3 162.4,390.1 161.7,389.8 161.2,389.6 160.8,389.4 160.0,389.0 159.6,388.9 159.1,388.6 158.4,388.2 158.0,388.0 157.6,387.8 156.9,387.4 156.4,387.1 156.0,386.9 155.5,386.6 154.9,386.2 154.4,385.8 154.0,385.5 153.6,385.3 153.2,385.0 152.8,384.6 152.3,384.2 151.8,383.8 151.4,383.4 151.0,383.0 150.6,382.6 150.2,382.2 149.8,381.8 149.5,381.4 149.2,381.0 148.8,380.5 148.4,380.0 148.0,379.5 147.7,379.0 147.4,378.6 147.2,378.2 146.8,377.4 146.6,377.0 146.5,376.2 146.4,375.4 146.5,374.6 146.7,373.8 146.8,373.3 147.0,372.6 147.2,371.9 147.4,371.4 147.6,370.9 147.9,370.2 148.1,369.8 148.4,369.3 148.8,368.6 149.1,368.2 149.4,367.8 149.7,367.4 150.0,367.0 150.4,366.6 150.8,366.1 151.2,365.7 151.6,365.4 152.0,365.0 152.5,364.6 153.0,364.2 153.5,363.8 154.0,363.4 154.4,363.1 154.8,362.9 155.2,362.6 155.8,362.2 156.4,361.8 156.8,361.6 157.2,361.4 157.8,361.0 158.4,360.7 158.8,360.5 159.4,360.2 160.0,359.9 160.4,359.7 161.1,359.4 161.6,359.2 162.0,359.0 162.8,358.7 163.2,358.5 163.9,358.2 164.4,358.0 165.0,357.8 165.6,357.6 166.1,357.4 166.8,357.2 167.3,357.0 168.0,356.8 168.5,356.6 169.2,356.4 169.8,356.2 170.4,356.0 171.2,355.8 171.6,355.7 172.4,355.5 172.8,355.4 173.6,355.2 174.4,355.0 174.8,354.9 175.6,354.7 176.1,354.6 176.8,354.5 177.6,354.3 178.1,354.2 178.8,354.1 179.6,353.9 180.2,353.8 180.8,353.7 181.6,353.6 182.4,353.4 182.8,353.4 183.6,353.2 184.4,353.1 185.2,353.0 185.6,353.0 186.4,352.9 187.2,352.8 188.0,352.7 188.7,352.6 189.2,352.5 190.0,352.5 190.8,352.4 191.6,352.3 192.4,352.3 193.1,352.2 193.6,352.2 194.4,352.1 195.2,352.1 196.0,352.0 196.8,352.0 197.6,351.9 198.4,351.9 199.2,351.9 200.0,351.9 200.8,351.8 201.6,351.8 202.4,351.8 203.2,351.8 204.0,351.8 204.8,351.8 205.6,351.8 206.4,351.8 207.2,351.9 208.0,351.9 208.8,351.9 209.6,351.9 210.4,352.0 211.2,352.0 212.0,352.1 212.8,352.1 213.6,352.2 214.0,352.2 214.8,352.3 215.6,352.3 216.4,352.4 217.2,352.5 218.0,352.6 218.4,352.6 219.2,352.7 220.0,352.8 220.8,352.9 221.5,353.0 222.0,353.1 222.8,353.2 223.6,353.3 224.2,353.4 224.8,353.5 225.6,353.6 226.4,353.8 226.8,353.9 227.6,354.0 228.4,354.2 228.8,354.3 229.6,354.4 230.3,354.6 230.8,354.7 231.6,354.9 232.0,355.0 232.8,355.2 233.5,355.4 234.0,355.5 234.8,355.8 235.2,355.9 236.0,356.1 236.4,356.2 237.2,356.5 237.6,356.6 238.4,356.9 238.8,357.1 239.6,357.3 240.0,357.5 240.8,357.8 241.2,358.0 241.7,358.2 242.4,358.5 242.8,358.7 243.5,359.0 244.0,359.2 244.4,359.4 245.2,359.8 245.6,360.0 246.0,360.2 246.6,360.6 247.2,360.9 247.6,361.2 248.0,361.4 248.6,361.8 249.2,362.2 249.6,362.5 250.0,362.8 250.4,363.1 250.8,363.4 251.2,363.8 251.7,364.2 252.1,364.6 252.5,365.0 252.9,365.4 253.3,365.8 253.6,366.2 254.0,366.7 254.4,367.2 254.8,367.8 255.0,368.2 255.2,368.6 255.6,369.4 255.8,369.8 256.0,370.4 256.2,371.0 256.4,371.8 256.5,372.2 256.6,373.0 256.8,373.8 256.9,374.2 257.0,375.0 257.0,375.8 256.8,376.6 256.7,377.0 256.4,377.5 256.0,378.1 255.6,378.6 255.3,379.0 254.9,379.4 254.6,379.8 254.2,380.2 253.8,380.6 253.4,381.0 253.0,381.4 252.6,381.8 252.2,382.2 251.7,382.6 251.3,383.0 250.8,383.4 250.4,383.7 250.0,384.1 249.6,384.4 249.2,384.7 248.7,385.0 248.1,385.4 247.6,385.8 247.2,386.0 246.8,386.3 246.2,386.6 245.6,387.0 245.2,387.2 244.8,387.4 244.0,387.8 243.6,388.0 243.2,388.2 242.4,388.6 242.0,388.8 241.6,389.0 240.8,389.3 240.4,389.5 239.7,389.8 239.2,390.0 238.7,390.2 238.0,390.5 237.6,390.6 236.8,390.9 236.4,391.0 235.6,391.3 235.2,391.4 234.4,391.7 234.0,391.8 233.2,392.1 232.8,392.2 232.0,392.4 231.4,392.6 230.8,392.8 230.0,393.0 229.6,393.1 228.8,393.3 228.3,393.4 227.6,393.6 226.8,393.8 226.4,393.8 225.6,394.0 224.8,394.2 224.4,394.3 223.6,394.4 222.8,394.6 222.4,394.6 221.6,394.8 220.8,394.9 220.3,395.0 219.6,395.1 218.8,395.2 218.0,395.3 217.6,395.4 216.8,395.5 216.0,395.6 215.2,395.7 214.4,395.8 214.0,395.8 213.2,395.9 212.4,396.0 211.6,396.1 210.8,396.1 210.1,396.2Z M208.0,393.4 207.2,393.5 206.4,393.5 205.6,393.6 204.8,393.6 204.0,393.6 203.2,393.6 202.4,393.6 201.6,393.7 200.8,393.7 200.0,393.7 199.2,393.7 198.4,393.7 197.6,393.6 196.8,393.6 196.0,393.6 195.2,393.5 194.4,393.5 193.6,393.5 192.8,393.4 192.4,393.4 191.6,393.3 190.8,393.2 190.0,393.2 189.2,393.1 188.4,393.0 188.0,393.0 187.2,392.9 186.4,392.8 185.6,392.7 185.1,392.6 184.4,392.5 183.6,392.4 182.8,392.2 182.4,392.2 181.6,392.0 180.8,391.9 180.4,391.8 179.6,391.6 178.8,391.5 178.4,391.4 177.6,391.2 176.8,391.0 176.4,390.9 175.6,390.7 175.1,390.6 174.4,390.4 173.7,390.2 173.2,390.1 172.4,389.8 172.0,389.7 171.2,389.4 170.8,389.3 170.0,389.0 169.6,388.9 168.9,388.6 168.4,388.4 167.8,388.2 167.2,387.9 166.8,387.8 166.0,387.4 165.6,387.2 165.2,387.0 164.4,386.6 164.0,386.4 163.6,386.2 162.9,385.8 162.4,385.5 162.0,385.3 161.5,385.0 160.9,384.6 160.4,384.2 160.0,384.0 159.6,383.7 159.2,383.4 158.8,383.0 158.3,382.6 157.9,382.2 157.4,381.8 157.0,381.4 156.6,381.0 156.2,380.6 155.8,380.2 155.5,379.8 155.1,379.4 154.7,379.0 154.1,378.2 153.8,377.8 153.6,377.4 153.3,376.6 153.2,375.8 153.3,375.0 153.5,374.2 153.6,373.8 153.9,373.0 154.1,372.6 154.4,371.8 154.5,371.4 154.8,370.9 155.1,370.2 155.4,369.8 155.6,369.4 156.0,368.9 156.4,368.3 156.8,367.9 157.2,367.4 157.6,367.0 158.0,366.6 158.4,366.2 158.8,365.9 159.2,365.6 159.6,365.3 160.0,365.0 160.5,364.6 161.1,364.2 161.6,363.9 162.0,363.6 162.4,363.4 163.1,363.0 163.6,362.7 164.0,362.5 164.6,362.2 165.2,361.9 165.6,361.7 166.3,361.4 166.8,361.2 167.2,361.0 168.0,360.7 168.4,360.5 169.1,360.2 169.6,360.0 170.2,359.8 170.8,359.6 171.3,359.4 172.0,359.2 172.5,359.0 173.2,358.8 173.8,358.6 174.4,358.4 175.2,358.2 175.6,358.1 176.4,357.9 176.8,357.8 177.6,357.6 178.3,357.4 178.8,357.3 179.6,357.1 180.2,357.0 180.8,356.9 181.6,356.7 182.2,356.6 182.8,356.5 183.6,356.3 184.4,356.2 184.8,356.1 185.6,356.0 186.4,355.9 187.1,355.8 187.6,355.7 188.4,355.6 189.2,355.5 190.0,355.4 190.4,355.4 191.2,355.3 192.0,355.2 192.8,355.1 193.6,355.1 194.4,355.0 194.8,355.0 195.6,354.9 196.4,354.9 197.2,354.8 198.0,354.8 198.8,354.7 199.6,354.7 200.4,354.7 201.2,354.7 202.0,354.7 202.8,354.6 203.6,354.6 204.4,354.7 205.2,354.7 206.0,354.7 206.8,354.7 207.6,354.7 208.4,354.7 209.2,354.8 210.0,354.8 210.8,354.8 211.6,354.9 212.4,355.0 212.9,355.0 213.6,355.1 214.4,355.1 215.2,355.2 216.0,355.3 216.8,355.4 217.2,355.4 218.0,355.5 218.8,355.6 219.6,355.7 220.2,355.8 220.8,355.9 221.6,356.0 222.4,356.1 222.8,356.2 223.6,356.4 224.4,356.5 224.9,356.6 225.6,356.7 226.4,356.9 226.8,357.0 227.6,357.2 228.4,357.4 228.8,357.5 229.6,357.7 230.0,357.8 230.8,358.0 231.3,358.2 232.0,358.4 232.6,358.6 233.2,358.8 233.9,359.0 234.4,359.2 235.0,359.4 235.6,359.6 236.0,359.8 236.8,360.1 237.2,360.3 238.0,360.6 238.4,360.8 238.8,361.0 239.6,361.4 240.0,361.6 240.4,361.8 241.2,362.2 241.6,362.5 242.0,362.7 242.5,363.0 243.1,363.4 243.6,363.7 244.0,364.0 244.4,364.3 244.8,364.6 245.3,365.0 245.7,365.4 246.1,365.8 246.5,366.2 246.9,366.6 247.3,367.0 247.6,367.4 248.0,368.0 248.4,368.6 248.7,369.0 248.9,369.4 249.2,370.1 249.4,370.6 249.6,371.0 249.8,371.8 250.0,372.4 250.2,373.0 250.4,373.8 250.5,374.2 250.7,375.0 250.7,375.8 250.6,376.6 250.4,377.0 250.0,377.6 249.6,378.1 249.2,378.5 248.8,378.9 248.4,379.3 248.0,379.6 247.6,380.0 247.2,380.3 246.8,380.7 246.4,381.0 245.9,381.4 245.4,381.8 244.9,382.2 244.4,382.6 244.0,382.9 243.6,383.2 243.2,383.5 242.7,383.8 242.1,384.2 241.6,384.5 241.2,384.8 240.8,385.0 240.1,385.4 239.6,385.7 239.2,385.9 238.6,386.2 238.0,386.5 237.6,386.7 236.9,387.0 236.4,387.2 236.0,387.4 235.2,387.7 234.8,387.9 234.0,388.2 233.6,388.3 232.9,388.6 232.4,388.8 231.7,389.0 231.2,389.2 230.5,389.4 230.0,389.6 229.2,389.8 228.8,389.9 228.0,390.2 227.6,390.3 226.8,390.5 226.3,390.6 225.6,390.8 224.8,391.0 224.4,391.1 223.6,391.2 222.9,391.4 222.4,391.5 221.6,391.7 220.9,391.8 220.4,391.9 219.6,392.0 218.8,392.2 218.4,392.2 217.6,392.4 216.8,392.5 216.0,392.6 215.6,392.6 214.8,392.8 214.0,392.9 213.2,393.0 212.7,393.0 212.0,393.1 211.2,393.2 210.4,393.2 209.6,393.3 208.8,393.4 208.2,393.4Z M205.2,391.0 204.4,391.0 203.6,391.1 202.8,391.1 202.0,391.1 201.2,391.1 200.4,391.1 199.6,391.1 198.8,391.1 198.0,391.1 197.2,391.1 196.4,391.0 196.0,391.0 195.2,391.0 194.4,390.9 193.6,390.9 192.8,390.8 192.0,390.7 191.2,390.7 190.5,390.6 190.0,390.5 189.2,390.5 188.4,390.4 187.6,390.3 187.2,390.2 186.4,390.1 185.6,390.0 184.8,389.8 184.4,389.8 183.6,389.6 182.8,389.4 182.4,389.4 181.6,389.2 180.8,389.0 180.4,388.9 179.6,388.7 179.2,388.6 178.4,388.4 177.7,388.2 177.2,388.0 176.4,387.8 176.0,387.7 175.2,387.5 174.8,387.3 174.0,387.0 173.6,386.9 172.9,386.6 172.4,386.4 171.9,386.2 171.2,385.9 170.8,385.7 170.1,385.4 169.6,385.2 169.2,385.0 168.4,384.6 168.0,384.4 167.6,384.1 167.0,383.8 166.4,383.4 166.0,383.1 165.6,382.8 165.2,382.5 164.7,382.2 164.2,381.8 163.7,381.4 163.2,381.0 162.8,380.7 162.4,380.3 162.0,380.0 161.6,379.7 161.2,379.3 160.8,378.9 160.4,378.5 160.0,378.1 159.6,377.5 159.3,377.0 159.1,376.6 159.0,375.8 159.1,375.0 159.2,374.6 159.6,373.8 159.8,373.4 160.0,372.9 160.4,372.2 160.6,371.8 160.8,371.3 161.2,370.7 161.5,370.2 161.8,369.8 162.1,369.4 162.4,369.0 162.8,368.6 163.2,368.1 163.6,367.7 164.0,367.3 164.4,367.0 164.9,366.6 165.4,366.2 166.0,365.8 166.4,365.6 166.8,365.3 167.3,365.0 167.9,364.6 168.4,364.3 168.8,364.1 169.4,363.8 170.0,363.5 170.4,363.3 171.1,363.0 171.6,362.8 172.0,362.6 172.8,362.3 173.2,362.1 174.0,361.8 174.4,361.7 175.2,361.4 175.6,361.3 176.3,361.0 176.8,360.8 177.5,360.6 178.0,360.5 178.8,360.2 179.2,360.1 180.0,359.9 180.5,359.8 181.2,359.6 182.0,359.5 182.4,359.4 183.2,359.2 184.0,359.0 184.4,358.9 185.2,358.8 186.0,358.6 186.4,358.6 187.2,358.4 188.0,358.3 188.8,358.2 189.2,358.1 190.0,358.0 190.8,357.9 191.6,357.8 192.0,357.8 192.8,357.7 193.6,357.6 194.4,357.5 195.2,357.5 195.9,357.4 196.4,357.4 197.2,357.3 198.0,357.3 198.8,357.2 199.6,357.2 200.4,357.2 201.2,357.1 202.0,357.1 202.8,357.1 203.6,357.1 204.4,357.1 205.2,357.1 206.0,357.1 206.8,357.1 207.6,357.2 208.4,357.2 209.2,357.3 210.0,357.3 210.8,357.3 211.6,357.4 212.0,357.4 212.8,357.5 213.6,357.6 214.4,357.6 215.2,357.7 215.8,357.8 216.4,357.9 217.2,358.0 218.0,358.1 218.8,358.2 219.2,358.3 220.0,358.4 220.8,358.6 221.2,358.6 222.0,358.8 222.8,358.9 223.2,359.0 224.0,359.2 224.8,359.3 225.2,359.4 226.0,359.6 226.6,359.8 227.2,360.0 228.0,360.2 228.4,360.3 229.2,360.6 229.6,360.7 230.4,361.0 230.8,361.1 231.5,361.4 232.0,361.6 232.5,361.8 233.2,362.1 233.6,362.3 234.2,362.6 234.8,362.9 235.2,363.1 235.9,363.4 236.4,363.7 236.8,363.9 237.4,364.2 238.0,364.6 238.4,364.9 238.8,365.2 239.2,365.4 239.7,365.8 240.2,366.2 240.6,366.6 241.0,367.0 241.4,367.4 241.8,367.8 242.1,368.2 242.4,368.6 242.8,369.2 243.2,369.8 243.4,370.2 243.6,370.7 243.9,371.4 244.1,371.8 244.4,372.5 244.6,373.0 244.8,373.6 245.0,374.2 245.2,374.8 245.3,375.4 245.3,376.2 245.2,376.6 244.8,377.2 244.4,377.7 244.0,378.1 243.6,378.5 243.2,378.8 242.8,379.1 242.4,379.4 241.9,379.8 241.3,380.2 240.8,380.6 240.4,380.8 240.0,381.1 239.5,381.4 239.0,381.8 238.4,382.2 238.0,382.4 237.6,382.7 237.1,383.0 236.5,383.4 236.0,383.7 235.6,383.9 235.0,384.2 234.4,384.5 234.0,384.7 233.5,385.0 232.8,385.3 232.4,385.5 231.6,385.8 231.2,386.0 230.5,386.2 230.0,386.4 229.5,386.6 228.8,386.8 228.4,387.0 227.6,387.2 227.1,387.4 226.4,387.6 225.7,387.8 225.2,388.0 224.4,388.2 224.0,388.3 223.2,388.5 222.8,388.6 222.0,388.8 221.2,389.0 220.8,389.1 220.0,389.2 219.2,389.4 218.4,389.6 217.6,389.7 217.1,389.8 216.4,389.9 215.6,390.0 214.8,390.1 214.4,390.2 213.6,390.3 212.8,390.4 212.0,390.5 211.2,390.6 210.8,390.6 210.0,390.7 209.2,390.8 208.4,390.8 207.6,390.9 206.8,390.9 206.0,391.0 205.5,391.0Z M203.2,389.4 202.4,389.4 201.6,389.4 200.8,389.5 200.0,389.4 199.2,389.4 198.5,389.4 198.0,389.4 197.2,389.4 196.4,389.3 195.6,389.3 194.8,389.3 194.0,389.2 193.2,389.1 192.4,389.1 191.7,389.0 191.2,388.9 190.4,388.8 189.6,388.7 189.0,388.6 188.4,388.5 187.6,388.4 186.8,388.3 186.2,388.2 185.6,388.1 184.8,387.9 184.0,387.8 183.6,387.8 182.8,387.6 182.2,387.4 181.6,387.2 180.8,387.0 180.4,386.9 179.6,386.7 179.2,386.6 178.4,386.3 178.0,386.2 177.2,385.9 176.8,385.7 176.0,385.4 175.6,385.3 174.8,385.0 174.4,384.8 173.9,384.6 173.2,384.3 172.8,384.1 172.1,383.8 171.6,383.5 171.2,383.3 170.7,383.0 170.0,382.6 169.6,382.4 169.2,382.1 168.8,381.8 168.2,381.4 167.6,381.0 167.2,380.6 166.8,380.3 166.4,380.0 166.0,379.7 165.6,379.4 165.0,379.0 164.5,378.6 164.0,378.2 163.6,377.8 163.3,377.4 163.0,377.0 162.8,376.4 162.8,375.8 162.8,375.4 163.1,374.6 163.3,374.2 163.6,373.7 164.0,373.0 164.2,372.6 164.4,372.2 164.8,371.5 165.1,371.0 165.4,370.6 165.7,370.2 166.0,369.8 166.4,369.4 166.8,369.0 167.2,368.5 167.6,368.1 168.0,367.8 168.5,367.4 169.0,367.0 169.6,366.7 170.0,366.4 170.4,366.1 170.9,365.8 171.5,365.4 172.0,365.1 172.4,364.9 173.0,364.6 173.6,364.3 174.0,364.2 174.8,363.9 175.2,363.7 176.0,363.4 176.4,363.2 176.9,363.0 177.6,362.7 178.0,362.6 178.8,362.3 179.2,362.2 180.0,362.0 180.6,361.8 181.2,361.6 182.0,361.4 182.8,361.2 183.5,361.0 184.0,360.9 184.8,360.7 185.3,360.6 186.0,360.5 186.8,360.3 187.2,360.2 188.0,360.1 188.8,359.9 189.6,359.8 190.0,359.8 190.8,359.6 191.6,359.5 192.4,359.4 192.8,359.4 193.6,359.3 194.4,359.2 195.2,359.1 196.0,359.1 196.8,359.0 197.2,359.0 198.0,358.9 198.8,358.9 199.6,358.9 200.4,358.9 201.2,358.8 202.0,358.8 202.8,358.8 203.6,358.7 204.4,358.7 205.2,358.7 206.0,358.7 206.8,358.8 207.6,358.8 208.4,358.9 209.2,358.9 210.0,359.0 210.4,359.0 211.2,359.0 212.0,359.1 212.8,359.2 213.6,359.2 214.4,359.3 215.0,359.4 215.6,359.5 216.4,359.6 217.2,359.7 217.7,359.8 218.4,359.9 219.2,360.0 220.0,360.2 220.4,360.3 221.2,360.4 221.9,360.6 222.4,360.7 223.2,360.9 223.6,361.0 224.4,361.2 225.2,361.4 225.6,361.5 226.4,361.7 226.8,361.9 227.6,362.1 228.0,362.3 228.8,362.6 229.2,362.7 229.9,363.0 230.4,363.2 230.9,363.4 231.6,363.7 232.0,363.9 232.5,364.2 233.2,364.6 233.6,364.8 234.0,365.0 234.7,365.4 235.2,365.7 235.6,366.0 236.0,366.3 236.4,366.7 236.8,367.0 237.3,367.4 237.7,367.8 238.1,368.2 238.4,368.7 238.8,369.3 239.1,369.8 239.4,370.2 239.6,370.6 240.0,371.3 240.2,371.8 240.4,372.2 240.7,373.0 240.9,373.4 241.2,374.0 241.5,374.6 241.7,375.0 241.8,375.8 241.7,376.6 241.5,377.0 241.2,377.4 240.8,377.8 240.3,378.2 239.8,378.6 239.2,379.0 238.8,379.3 238.4,379.5 237.9,379.8 237.2,380.2 236.8,380.5 236.4,380.7 235.8,381.0 235.2,381.4 234.8,381.6 234.4,381.8 233.8,382.2 233.2,382.5 232.8,382.8 232.3,383.0 231.6,383.4 231.2,383.6 230.8,383.8 230.0,384.1 229.6,384.3 229.0,384.6 228.4,384.8 228.0,385.0 227.2,385.3 226.8,385.4 226.0,385.7 225.6,385.8 224.8,386.1 224.4,386.2 223.6,386.4 223.0,386.6 222.4,386.8 221.8,387.0 221.2,387.2 220.4,387.3 219.8,387.4 219.2,387.5 218.4,387.7 218.0,387.8 217.2,388.0 216.4,388.2 216.0,388.3 215.2,388.4 214.4,388.5 213.6,388.6 213.2,388.6 212.4,388.8 211.6,388.9 210.8,389.0 210.4,389.0 209.6,389.1 208.8,389.2 208.0,389.2 207.2,389.3 206.4,389.3 205.6,389.3 204.8,389.4 204.0,389.4 203.6,389.4Z M210.0,387.8 209.2,387.8 208.4,387.9 207.6,388.0 206.8,388.0 206.0,388.0 205.2,388.1 204.4,388.1 203.6,388.1 202.8,388.1 202.0,388.2 201.2,388.2 200.4,388.2 199.6,388.2 198.8,388.2 198.0,388.1 197.2,388.1 196.4,388.0 195.6,388.0 194.8,388.0 194.0,387.9 193.5,387.8 192.8,387.8 192.0,387.7 191.2,387.6 190.4,387.4 190.0,387.3 189.2,387.1 188.4,387.1 187.6,387.0 187.2,386.9 186.4,386.8 185.8,386.6 185.2,386.5 184.4,386.4 183.6,386.2 183.2,386.1 182.4,385.9 182.0,385.8 181.2,385.6 180.5,385.4 180.0,385.2 179.4,385.0 178.8,384.7 178.4,384.5 177.6,384.2 177.2,384.0 176.6,383.8 176.0,383.5 175.6,383.4 174.9,383.0 174.4,382.7 174.0,382.5 173.3,382.2 172.8,381.9 172.4,381.7 171.8,381.4 171.2,381.1 170.8,380.9 170.3,380.6 169.6,380.2 169.2,380.0 168.8,379.7 168.4,379.4 167.9,379.0 167.4,378.6 167.0,378.2 166.6,377.8 166.3,377.4 166.0,377.0 165.8,376.2 166.0,375.4 166.1,375.0 166.4,374.3 166.6,373.8 166.9,373.4 167.2,373.0 167.6,372.6 168.0,372.1 168.4,371.5 168.7,371.0 169.0,370.6 169.3,370.2 169.6,369.7 170.0,369.2 170.4,368.8 170.8,368.4 171.2,368.1 171.6,367.7 172.1,367.4 172.6,367.0 173.2,366.6 173.6,366.3 174.0,366.1 174.6,365.8 175.2,365.6 175.7,365.4 176.4,365.1 176.8,364.9 177.4,364.6 178.0,364.3 178.4,364.1 179.2,363.8 179.6,363.7 180.4,363.4 180.8,363.3 181.6,363.1 182.0,363.0 182.8,362.7 183.2,362.5 184.0,362.3 184.5,362.2 185.2,362.1 186.0,361.9 186.7,361.8 187.2,361.7 188.0,361.5 188.6,361.4 189.2,361.3 190.0,361.2 190.7,361.0 191.2,360.9 192.0,360.7 192.8,360.7 193.6,360.6 194.4,360.6 194.8,360.6 195.6,360.5 196.4,360.3 197.2,360.3 198.0,360.2 198.5,360.2 199.2,360.2 200.0,360.1 200.8,360.1 201.6,360.1 202.4,360.0 203.2,360.0 204.0,360.0 204.8,359.9 205.6,360.0 206.4,360.1 207.2,360.1 208.0,360.1 208.8,360.2 209.2,360.2 210.0,360.3 210.8,360.4 211.6,360.4 212.4,360.4 213.2,360.5 214.0,360.6 214.4,360.6 215.2,360.7 216.0,360.9 216.6,361.0 217.2,361.1 218.0,361.2 218.8,361.4 219.2,361.4 220.0,361.6 220.8,361.7 221.2,361.8 222.0,362.0 222.8,362.2 223.2,362.3 224.0,362.6 224.8,362.8 225.3,363.0 226.0,363.2 226.6,363.4 227.2,363.6 227.6,363.8 228.4,364.2 228.8,364.4 229.3,364.6 230.0,364.9 230.4,365.1 230.9,365.4 231.6,365.8 232.0,366.1 232.4,366.3 232.9,366.6 233.4,367.0 233.9,367.4 234.3,367.8 234.7,368.2 235.0,368.6 235.4,369.0 235.7,369.4 236.0,369.8 236.4,370.4 236.8,371.0 237.1,371.4 237.3,371.8 237.6,372.4 237.9,373.0 238.0,373.4 238.4,374.1 238.7,374.6 238.9,375.0 239.0,375.8 238.8,376.6 238.6,377.0 238.2,377.4 237.9,377.8 237.4,378.2 236.9,378.6 236.4,378.9 236.0,379.1 235.5,379.4 234.8,379.8 234.4,380.0 234.0,380.2 233.3,380.6 232.8,380.9 232.4,381.1 231.7,381.4 231.2,381.6 230.8,381.8 230.1,382.2 229.6,382.5 229.2,382.7 228.7,383.0 228.0,383.4 227.6,383.6 227.1,383.8 226.4,384.1 225.9,384.2 225.2,384.4 224.5,384.6 224.0,384.7 223.2,385.0 222.8,385.1 222.0,385.4 221.6,385.5 220.8,385.8 220.4,385.9 219.6,386.0 218.8,386.1 218.4,386.2 217.6,386.5 216.9,386.6 216.4,386.7 215.6,386.9 214.9,387.0 214.4,387.1 213.6,387.3 212.9,387.4 212.4,387.5 211.6,387.6 210.8,387.8 210.1,387.8Z M203.2,387.0 202.4,387.1 201.6,387.1 200.8,387.1 200.0,387.1 199.2,387.1 198.4,387.0 198.0,387.0 197.2,386.8 196.4,386.8 195.6,386.8 194.8,386.7 194.0,386.6 193.6,386.6 192.8,386.6 192.0,386.5 191.2,386.4 190.5,386.2 190.0,386.1 189.2,385.9 188.4,385.9 187.7,385.8 187.2,385.7 186.4,385.5 186.0,385.3 185.2,385.1 184.6,385.0 184.0,384.9 183.2,384.7 182.8,384.6 182.0,384.3 181.6,384.2 180.8,384.0 180.2,383.8 179.6,383.6 179.2,383.4 178.4,383.0 178.0,382.8 177.4,382.6 176.8,382.3 176.4,382.1 175.8,381.8 175.3,381.4 174.8,381.1 174.4,380.8 174.0,380.6 173.2,380.2 172.8,380.0 172.3,379.8 171.6,379.4 171.2,379.3 170.6,379.0 170.0,378.7 169.6,378.5 168.8,377.8 168.4,377.4 168.2,377.0 168.0,376.2 168.1,375.4 168.4,374.7 168.7,374.2 169.1,373.8 169.5,373.4 169.9,373.0 170.2,372.6 170.5,372.2 170.8,371.6 171.1,371.0 171.4,370.6 171.7,370.2 172.1,369.8 172.6,369.4 173.0,369.0 173.5,368.6 174.0,368.2 174.4,368.0 174.8,367.7 175.3,367.4 176.0,367.0 176.4,366.8 176.8,366.6 177.6,366.2 178.0,366.0 178.4,365.8 179.1,365.4 179.6,365.2 180.0,365.0 180.8,364.7 181.4,364.6 182.0,364.4 182.4,364.2 183.2,363.8 183.6,363.6 184.4,363.4 184.8,363.3 185.6,363.3 186.4,363.2 186.8,363.0 187.6,362.7 188.2,362.6 188.8,362.5 189.6,362.3 190.4,362.2 190.8,362.1 191.6,362.0 192.4,361.9 193.1,361.8 193.6,361.8 194.4,361.7 195.2,361.6 196.0,361.5 196.7,361.4 197.2,361.4 198.0,361.4 198.8,361.3 199.6,361.2 200.4,361.2 201.2,361.2 202.0,361.1 202.8,361.1 203.6,361.1 204.4,361.0 205.2,361.0 206.0,361.1 206.8,361.1 207.6,361.1 208.4,361.2 209.2,361.3 209.9,361.4 210.4,361.4 211.2,361.5 212.0,361.5 212.8,361.5 213.6,361.6 214.4,361.8 214.8,361.8 215.6,362.0 216.4,362.1 216.9,362.2 217.6,362.3 218.4,362.4 219.2,362.6 219.6,362.7 220.4,362.9 220.8,363.1 221.6,363.2 222.4,363.4 222.8,363.5 223.6,363.8 224.0,364.0 224.7,364.2 225.2,364.4 225.7,364.6 226.4,365.0 226.8,365.2 227.2,365.4 227.8,365.8 228.4,366.1 228.8,366.3 229.4,366.6 230.0,366.9 230.4,367.1 230.8,367.4 231.3,367.8 231.7,368.2 232.2,368.6 232.6,369.0 233.0,369.4 233.4,369.8 233.8,370.2 234.1,370.6 234.4,371.0 234.8,371.6 235.2,372.1 235.5,372.6 235.7,373.0 235.9,373.8 236.0,374.2 236.3,375.0 236.4,375.4 236.5,376.2 236.4,376.8 236.1,377.4 235.7,377.8 235.2,378.2 234.8,378.5 234.4,378.7 233.9,379.0 233.2,379.3 232.8,379.5 232.1,379.8 231.6,380.0 231.2,380.2 230.4,380.6 230.0,380.8 229.5,381.0 228.8,381.3 228.4,381.5 227.8,381.8 227.2,382.2 226.8,382.4 226.3,382.6 225.6,382.9 225.2,383.0 224.4,383.3 224.0,383.4 223.2,383.6 222.6,383.8 222.0,384.0 221.5,384.2 220.8,384.5 220.4,384.6 219.6,384.7 218.8,384.9 218.3,385.0 217.6,385.2 216.8,385.4 216.4,385.5 215.6,385.6 215.0,385.8 214.4,385.9 213.6,386.2 213.2,386.3 212.4,386.5 211.7,386.6 211.2,386.7 210.4,386.7 209.6,386.7 208.8,386.7 208.0,386.8 207.2,386.9 206.4,386.9 205.6,386.9 204.8,387.0 204.0,387.0 203.4,387.0Z M208.0,385.8 207.2,385.9 206.4,385.9 205.6,385.9 204.8,386.0 204.0,386.0 203.2,386.0 202.4,386.0 201.6,386.0 200.8,386.1 200.0,386.2 199.2,386.1 198.4,386.0 197.7,385.8 197.2,385.7 196.4,385.6 195.6,385.6 194.8,385.7 194.0,385.6 193.2,385.6 192.4,385.5 191.6,385.4 191.2,385.3 190.4,385.0 190.0,384.9 189.2,384.8 188.4,384.7 187.7,384.6 187.2,384.5 186.5,384.2 186.0,384.0 185.2,383.8 184.8,383.8 184.0,383.7 183.2,383.5 182.8,383.4 182.0,383.1 181.6,383.0 180.8,382.7 180.4,382.5 179.7,382.2 179.2,382.0 178.7,381.8 178.0,381.5 177.6,381.3 177.1,381.0 176.5,380.6 176.0,380.3 175.6,380.0 175.2,379.8 174.4,379.5 174.0,379.4 173.2,379.1 172.8,378.9 172.2,378.6 171.6,378.2 171.2,377.9 170.8,377.6 170.4,377.0 170.2,376.6 170.2,375.8 170.4,375.0 170.6,374.6 170.9,374.2 171.2,373.8 171.7,373.4 172.2,373.0 172.6,372.6 173.0,372.2 173.4,371.8 173.9,371.4 174.4,371.0 174.8,370.7 175.1,370.2 175.3,369.8 175.6,369.4 176.0,368.9 176.4,368.6 176.9,368.2 177.5,367.8 178.0,367.4 178.4,367.2 178.8,366.9 179.4,366.6 180.0,366.3 180.4,366.1 181.2,366.0 182.0,365.8 182.4,365.6 182.8,365.4 183.4,365.0 184.0,364.7 184.4,364.6 185.2,364.5 186.0,364.4 186.6,364.2 187.2,363.9 187.6,363.7 188.4,363.4 188.8,363.4 189.6,363.3 190.4,363.3 191.2,363.2 192.0,363.0 192.4,362.9 193.2,362.8 194.0,362.7 194.4,362.6 195.2,362.4 196.0,362.4 196.8,362.4 197.6,362.4 198.4,362.4 199.2,362.3 199.9,362.2 200.4,362.1 201.2,362.1 202.0,362.0 202.8,361.9 203.6,362.0 204.4,362.0 205.2,361.9 206.0,361.9 206.8,361.9 207.6,362.0 208.4,362.1 208.9,362.2 209.6,362.3 210.4,362.4 211.2,362.4 212.0,362.3 212.8,362.4 213.6,362.6 214.0,362.7 214.8,363.0 215.2,363.1 216.0,363.3 216.8,363.4 217.2,363.4 217.6,363.4 218.0,363.4 218.8,363.5 219.6,363.8 220.0,364.0 220.6,364.2 221.2,364.4 222.0,364.6 222.4,364.7 223.2,364.9 223.6,365.1 224.2,365.4 224.8,365.7 225.2,365.9 225.8,366.2 226.4,366.5 226.8,366.7 227.6,367.0 228.0,367.3 228.4,367.5 228.8,367.8 229.3,368.2 229.7,368.6 230.0,369.0 230.4,369.4 230.9,369.8 231.3,370.2 231.8,370.6 232.1,371.0 232.4,371.4 232.8,371.9 233.2,372.5 233.5,373.0 233.7,373.4 234.0,374.2 234.2,374.6 234.4,375.0 234.8,375.6 235.0,376.2 234.8,377.0 234.5,377.4 234.0,377.7 233.6,378.0 233.0,378.2 232.4,378.4 231.9,378.6 231.2,378.9 230.8,379.2 230.4,379.5 229.8,379.8 229.2,380.1 228.8,380.2 228.0,380.5 227.6,380.7 226.9,381.0 226.4,381.2 226.0,381.4 225.2,381.8 224.8,382.0 224.1,382.2 223.6,382.4 222.8,382.5 222.0,382.7 221.2,382.9 220.8,383.1 220.1,383.4 219.6,383.6 218.8,383.8 218.4,383.9 217.6,384.1 217.0,384.2 216.4,384.3 215.6,384.5 215.2,384.7 214.4,384.9 214.0,385.0 213.2,385.3 212.8,385.4 212.0,385.6 211.2,385.7 210.4,385.8 209.6,385.7 208.8,385.7 208.0,385.8Z M206.8,385.0 206.0,385.1 205.2,385.1 204.4,385.1 203.6,385.1 203.2,385.0 202.4,384.8 201.6,384.8 200.8,384.9 200.4,385.0 199.6,385.1 198.8,385.1 198.1,385.0 197.6,384.9 196.8,384.9 196.0,384.8 195.2,384.8 194.4,384.9 193.6,384.9 192.8,384.8 192.2,384.6 191.6,384.3 191.2,384.2 190.4,383.9 189.9,383.8 189.2,383.6 188.4,383.5 187.6,383.4 187.2,383.3 186.6,383.0 186.0,382.8 185.2,382.8 184.4,382.8 183.6,382.7 183.2,382.6 182.4,382.3 182.0,382.1 181.4,381.8 180.8,381.5 180.4,381.4 179.6,381.1 179.2,380.9 178.7,380.6 178.0,380.2 177.6,380.0 177.2,379.8 176.4,379.4 176.0,379.2 175.6,379.0 174.8,378.7 174.3,378.6 173.6,378.4 173.2,378.2 172.7,377.8 172.3,377.4 172.0,376.7 171.9,376.2 171.9,375.4 172.1,375.0 172.4,374.5 172.8,374.2 173.4,373.8 174.0,373.4 174.4,373.1 174.8,372.8 175.2,372.5 175.6,372.2 176.1,371.8 176.4,371.4 176.8,370.8 177.0,370.2 177.2,369.8 177.6,369.3 178.0,368.9 178.4,368.5 178.8,368.1 179.3,367.8 180.0,367.4 180.4,367.3 181.2,367.1 182.0,367.0 182.4,367.0 183.1,366.6 183.6,366.2 184.0,366.0 184.4,365.8 185.2,365.6 186.0,365.5 186.4,365.4 187.1,365.0 187.6,364.7 188.0,364.5 188.8,364.3 189.6,364.3 190.4,364.2 190.8,364.2 191.6,364.0 192.4,363.8 192.8,363.7 193.6,363.6 194.4,363.4 194.8,363.4 195.6,363.3 196.4,363.3 197.2,363.3 198.0,363.2 198.8,363.2 199.6,363.2 200.4,363.1 200.8,363.0 201.6,362.9 202.4,362.7 203.2,362.8 204.0,362.9 204.8,362.9 205.6,362.7 206.4,362.7 207.2,362.7 208.0,362.9 208.8,363.0 209.2,363.0 210.0,363.2 210.8,363.3 211.6,363.2 212.4,363.2 213.2,363.4 213.6,363.6 214.2,363.8 214.8,364.0 215.6,364.2 216.0,364.2 216.8,364.4 217.6,364.4 218.4,364.4 219.1,364.6 219.6,364.8 220.1,365.0 220.8,365.3 221.2,365.5 221.9,365.8 222.4,366.2 222.6,366.6 222.9,367.0 223.6,367.2 224.4,367.2 225.2,367.3 225.7,367.4 226.4,367.5 227.1,367.8 227.6,368.1 228.0,368.6 228.4,369.3 228.6,369.8 228.9,370.2 229.3,370.6 229.6,371.0 230.0,371.6 230.3,372.2 230.5,372.6 230.8,373.0 231.5,373.4 232.0,373.8 232.3,374.2 232.5,374.6 232.8,375.2 233.1,375.8 233.1,376.6 232.6,377.0 232.0,377.2 231.5,377.4 230.8,377.8 230.4,378.1 230.0,378.6 229.6,378.9 229.2,379.2 228.8,379.4 228.0,379.6 227.4,379.8 226.8,380.0 226.3,380.2 225.6,380.5 225.2,380.7 224.7,381.0 224.0,381.3 223.6,381.4 222.8,381.7 222.0,381.8 221.6,381.9 220.8,382.0 220.3,382.2 219.6,382.5 219.2,382.7 218.4,383.0 218.0,383.1 217.2,383.2 216.4,383.3 216.0,383.4 215.2,383.7 214.8,383.8 214.0,384.0 213.2,384.2 212.8,384.3 212.0,384.5 211.6,384.7 210.8,384.8 210.0,384.8 209.2,384.7 208.4,384.8 207.6,384.9 207.1,385.0Z M206.4,384.3 205.6,384.4 204.8,384.5 204.0,384.4 203.3,384.2 202.8,384.0 202.1,383.8 201.6,383.8 201.2,383.8 200.4,383.9 199.6,384.1 198.9,384.2 198.4,384.2 198.0,384.2 197.2,384.2 196.4,384.1 195.6,384.1 194.8,384.2 194.4,384.3 193.6,384.3 193.2,384.2 192.4,383.8 192.0,383.6 191.6,383.4 190.8,383.1 190.4,383.0 189.6,382.9 188.8,382.7 188.0,382.6 187.6,382.5 186.8,382.2 186.4,382.1 185.6,382.0 184.8,382.0 184.0,381.8 183.6,381.8 182.8,381.5 182.4,381.3 181.6,381.0 181.2,380.9 180.4,380.6 180.0,380.4 179.6,380.2 179.0,379.8 178.4,379.5 178.0,379.3 177.2,379.0 176.8,378.8 176.4,378.6 175.7,378.2 175.2,378.0 174.7,377.8 174.0,377.5 173.6,377.2 173.3,376.6 173.3,375.8 173.6,375.2 174.0,374.8 174.4,374.5 174.8,374.2 175.4,373.8 176.0,373.4 176.4,373.2 176.8,373.0 177.4,372.6 177.8,372.2 178.2,371.8 178.5,371.4 178.8,370.7 178.9,370.2 179.2,369.5 179.6,369.0 180.0,368.8 180.7,368.6 181.2,368.5 182.0,368.3 182.4,368.2 183.2,368.0 183.6,367.8 184.2,367.4 184.6,367.0 185.2,366.6 185.6,366.5 186.4,366.4 187.0,366.2 187.6,365.8 188.0,365.5 188.4,365.3 189.2,365.2 190.0,365.1 190.5,365.0 191.2,364.9 192.0,364.7 192.4,364.5 193.2,364.3 194.0,364.2 194.7,364.2 195.2,364.2 196.0,364.2 196.4,364.2 197.2,364.2 197.6,364.2 198.4,364.1 199.2,364.1 200.0,364.2 200.8,364.0 201.3,363.8 202.0,363.6 202.8,363.6 203.6,363.7 204.0,363.8 204.7,363.8 205.2,363.7 206.0,363.6 206.8,363.5 207.6,363.6 208.4,363.7 209.2,363.8 209.6,363.9 210.4,364.1 211.2,364.2 212.0,364.1 212.6,364.2 213.2,364.4 213.6,364.6 214.4,364.8 215.2,364.9 216.0,365.0 216.4,365.1 217.2,365.2 218.0,365.3 218.8,365.4 219.2,365.5 220.0,365.7 220.4,365.9 220.9,366.2 221.3,366.6 221.6,367.1 222.0,367.6 222.4,367.9 223.2,368.1 224.0,368.2 224.4,368.3 225.2,368.5 225.6,368.6 226.4,368.8 226.8,369.1 227.2,369.8 227.3,370.2 227.6,370.6 228.0,371.0 228.4,371.4 228.8,372.0 229.0,372.6 229.2,373.4 229.4,373.8 229.6,374.2 230.0,374.6 230.4,375.2 230.7,375.8 230.4,376.5 230.0,377.0 229.7,377.4 229.5,377.8 229.1,378.2 228.6,378.6 228.0,378.9 227.5,379.0 226.8,379.2 226.3,379.4 225.6,379.7 225.2,379.8 224.5,380.2 224.0,380.5 223.6,380.7 222.8,381.0 222.4,381.1 221.6,381.2 220.8,381.3 220.1,381.4 219.6,381.6 219.1,381.8 218.4,382.1 218.0,382.2 217.2,382.4 216.4,382.4 215.6,382.5 214.8,382.3 214.0,382.3 213.3,382.6 212.8,382.9 212.4,383.1 211.7,383.4 211.2,383.7 210.8,383.8 210.0,383.9 209.2,383.8 208.4,383.8 207.6,384.0 206.8,384.2Z M204.4,383.8 204.0,383.8 203.2,383.4 202.8,383.2 202.0,383.1 201.2,383.1 200.4,383.1 199.6,383.2 198.8,383.3 198.0,383.4 197.6,383.4 196.8,383.5 196.0,383.4 195.2,383.5 194.4,383.5 193.6,383.4 193.2,383.3 192.6,383.0 192.0,382.7 191.6,382.5 190.8,382.3 190.0,382.2 189.6,382.2 188.8,382.0 188.0,381.9 187.6,381.8 186.8,381.6 186.0,381.5 185.6,381.4 184.8,381.2 184.2,381.0 183.6,380.8 182.8,380.6 182.4,380.5 181.6,380.2 181.2,380.1 180.5,379.8 180.0,379.5 179.6,379.2 179.2,379.0 178.4,378.6 178.0,378.4 177.5,378.2 176.8,377.9 176.4,377.7 176.0,377.4 175.4,377.0 174.9,376.6 174.8,376.2 174.9,375.8 175.2,375.3 175.6,374.8 176.0,374.5 176.8,374.3 177.2,374.2 177.8,373.8 178.3,373.4 178.8,373.0 179.2,372.7 179.6,372.4 180.0,372.0 180.4,371.4 180.6,371.0 180.9,370.6 181.3,370.2 181.9,369.8 182.4,369.5 182.8,369.3 183.3,369.0 184.0,368.7 184.4,368.5 184.8,368.2 185.3,367.8 186.0,367.5 186.8,367.5 187.3,367.4 188.0,367.0 188.4,366.7 188.8,366.5 189.5,367.0 190.0,367.2 190.6,367.0 190.9,366.6 191.2,366.1 191.6,365.7 192.1,365.4 192.8,365.1 193.4,365.0 193.9,365.0 194.4,365.0 195.2,365.0 195.6,365.0 196.4,365.0 196.8,365.1 197.6,365.2 198.4,365.3 199.2,365.3 200.0,365.2 200.8,365.0 201.2,364.8 202.0,364.6 202.4,364.6 202.8,364.7 203.6,364.8 204.4,364.7 204.8,364.6 205.6,364.5 206.4,364.4 207.2,364.4 208.0,364.4 208.8,364.4 209.6,364.6 210.0,364.7 210.8,364.9 211.4,365.0 212.0,365.1 212.8,365.4 213.2,365.6 213.7,365.8 214.4,365.8 214.8,365.8 215.6,365.7 216.4,365.8 216.8,365.8 217.6,366.0 218.3,366.2 218.8,366.3 219.6,366.5 220.0,366.6 220.5,367.0 220.8,367.4 221.2,368.0 221.6,368.3 222.3,368.6 222.8,368.7 223.6,368.9 224.0,369.1 224.4,369.4 224.9,369.8 225.5,370.2 225.9,370.6 226.1,371.0 226.4,371.8 226.8,372.1 227.2,372.2 227.7,372.6 228.0,373.2 228.2,373.8 228.5,374.2 228.9,374.6 229.2,375.0 229.6,375.8 229.6,375.8 229.4,376.6 229.1,377.0 228.8,377.4 228.3,377.8 227.6,378.1 227.2,378.3 226.6,378.6 226.0,378.8 225.3,379.0 224.8,379.2 224.3,379.4 223.8,379.8 223.2,380.2 222.8,380.4 222.0,380.6 221.6,380.6 220.8,380.6 220.0,380.7 219.2,381.0 218.8,381.2 218.2,381.4 217.6,381.5 216.8,381.7 216.0,381.7 215.2,381.6 214.6,381.4 214.0,381.4 213.6,381.5 213.1,381.8 212.4,382.2 212.0,382.4 211.4,382.6 210.8,382.8 210.0,383.0 209.6,383.0 208.8,383.0 208.0,383.0 207.2,383.1 206.4,383.2 205.9,383.4 205.2,383.7 204.5,383.8Z M204.8,383.1 204.0,383.2 203.6,383.0 202.8,382.7 202.4,382.6 201.6,382.5 200.8,382.5 200.0,382.4 199.2,382.2 198.4,382.4 197.9,382.6 197.2,382.8 196.4,382.8 195.6,382.8 194.8,382.6 194.4,382.5 193.6,382.4 192.8,382.3 192.4,382.1 191.6,381.9 191.2,381.8 190.4,381.7 189.6,381.6 188.8,381.5 188.4,381.4 187.6,381.2 186.9,381.0 186.4,380.9 185.6,380.7 185.2,380.6 184.4,380.3 184.0,380.1 183.2,380.0 182.5,379.8 182.0,379.6 181.6,379.3 181.1,379.0 180.4,378.7 180.0,378.6 179.3,378.2 178.9,377.8 178.5,377.4 178.0,377.0 177.6,376.9 176.8,376.7 176.4,376.2 176.8,375.5 177.2,375.4 177.9,375.0 178.2,374.6 178.6,374.2 179.0,373.8 179.6,373.5 180.0,373.3 180.5,373.0 180.9,372.6 181.2,372.0 181.6,371.4 182.0,371.0 182.8,370.6 183.2,370.5 184.0,370.3 184.4,369.9 184.8,369.4 185.2,369.0 185.6,368.7 186.0,368.5 186.8,368.5 187.6,368.5 188.4,368.5 189.2,368.4 189.7,368.2 190.4,368.0 191.1,367.8 191.6,367.5 191.9,367.0 192.1,366.6 192.4,366.1 192.9,365.8 193.6,365.7 194.4,365.8 194.8,365.8 195.2,365.8 196.0,365.7 196.8,365.7 197.2,365.8 198.0,366.0 198.8,366.0 199.6,365.9 200.0,365.8 200.8,365.7 201.6,365.6 202.3,365.8 202.8,365.9 203.6,365.9 204.0,365.7 204.6,365.4 205.2,365.2 206.0,365.1 206.8,365.2 207.6,365.2 208.4,365.1 209.2,365.1 210.0,365.3 210.4,365.4 211.2,365.8 211.6,366.1 212.0,366.3 212.8,366.5 213.2,366.6 214.0,366.7 214.7,366.6 215.2,366.5 216.0,366.5 216.6,366.6 217.2,366.9 217.6,367.2 218.0,367.5 218.6,367.8 219.2,367.9 220.0,368.2 220.4,368.4 220.8,368.7 221.5,369.0 222.0,369.2 222.6,369.4 223.2,369.8 223.6,370.2 224.0,370.6 224.4,371.0 224.6,371.4 224.6,372.2 224.8,372.8 225.2,373.4 225.6,373.7 226.4,373.7 226.9,373.8 227.5,374.2 227.8,374.6 228.3,375.0 228.6,375.4 228.7,376.2 228.4,376.6 227.7,377.0 227.2,377.3 226.8,377.7 226.4,378.0 226.0,378.2 225.2,378.5 224.5,378.6 224.0,378.8 223.6,379.1 223.2,379.5 222.7,379.8 222.0,380.0 221.2,380.1 220.4,380.0 219.6,380.1 219.2,380.3 218.6,380.6 218.0,380.9 217.3,381.0 216.8,381.1 216.0,381.1 215.3,381.0 214.8,380.9 214.0,380.8 213.4,381.0 212.9,381.4 212.4,381.7 212.0,381.9 211.2,382.0 210.4,382.1 210.0,382.2 209.2,382.4 208.4,382.4 207.6,382.2 207.2,382.1 206.4,382.0 205.9,382.2 205.4,382.6 205.0,383.0Z M204.8,382.3 204.0,382.5 203.2,382.3 202.8,382.2 202.0,382.0 201.2,381.9 200.8,381.8 200.2,381.4 199.6,381.0 199.6,381.0 198.8,381.3 198.4,381.6 197.9,381.8 197.2,382.0 196.4,382.1 195.6,382.0 194.8,381.8 194.4,381.8 193.6,381.7 192.8,381.7 192.0,381.5 191.2,381.4 190.8,381.3 190.0,381.2 189.2,381.0 188.8,381.0 188.0,380.8 187.3,380.6 186.8,380.4 186.4,380.2 185.6,379.9 185.2,379.8 184.4,379.5 183.8,379.4 183.2,379.3 182.5,379.0 182.2,378.6 181.9,378.2 181.5,377.8 180.8,377.4 180.4,377.3 179.7,377.0 179.2,376.6 178.9,376.2 178.7,375.8 178.8,375.0 179.0,374.6 179.5,374.2 180.0,374.0 180.5,373.8 181.0,373.4 181.3,373.0 181.6,372.5 182.0,371.9 182.4,371.5 182.8,371.4 183.6,371.3 184.4,371.1 184.8,370.8 185.2,370.4 185.6,370.0 186.0,369.8 186.7,369.8 187.2,370.0 187.6,370.3 188.0,370.7 188.5,371.0 188.9,371.0 189.2,370.6 189.3,369.8 189.6,369.0 190.0,368.7 190.4,368.5 191.2,368.4 192.0,368.5 192.6,368.2 192.8,367.8 193.1,367.0 193.5,366.6 194.0,366.6 194.4,366.6 195.2,366.6 195.6,366.5 196.4,366.4 197.2,366.5 198.0,366.6 198.8,366.6 199.6,366.4 200.4,366.3 201.2,366.4 201.7,366.6 202.4,366.9 202.8,367.0 203.3,367.0 204.0,366.6 204.4,366.3 204.8,366.0 205.2,365.8 206.0,365.7 206.4,365.8 207.2,366.0 208.0,365.8 208.4,365.8 209.2,365.8 209.6,365.9 210.2,366.2 210.5,366.6 211.2,367.3 211.6,367.4 212.4,367.5 213.2,367.5 214.0,367.5 214.4,367.4 215.2,367.2 216.0,367.2 216.4,367.4 216.8,367.9 217.2,368.3 218.0,368.5 218.7,368.6 219.2,368.7 219.7,369.0 220.4,369.3 220.8,369.5 221.5,369.8 222.0,370.2 222.1,370.6 222.0,371.0 221.7,371.8 222.0,372.6 222.4,372.7 223.1,372.6 223.3,372.6 224.0,373.0 224.3,373.4 224.7,373.8 225.2,374.2 225.6,374.5 226.0,374.6 226.7,375.0 226.9,375.4 226.8,375.9 226.6,376.6 226.4,377.1 226.0,377.6 225.6,377.8 224.8,378.0 224.1,378.2 223.6,378.5 223.2,378.8 222.8,379.1 222.3,379.4 221.6,379.6 220.8,379.5 220.0,379.5 219.2,379.7 218.8,380.0 218.4,380.2 217.6,380.5 216.8,380.5 216.0,380.6 215.2,380.5 214.4,380.3 213.6,380.4 213.2,380.6 212.7,381.0 212.0,381.4 211.6,381.5 210.8,381.5 210.0,381.5 209.2,381.7 208.4,381.6 207.6,381.4 207.2,381.3 206.4,381.4 206.0,381.5 205.4,381.8 204.9,382.2Z M204.4,381.4 203.6,381.6 202.8,381.6 202.1,381.4 201.6,381.2 201.2,381.0 200.5,380.6 200.0,380.5 199.2,380.5 198.8,380.7 198.3,381.0 197.6,381.2 196.8,381.2 196.0,381.2 195.2,381.1 194.4,381.1 193.6,381.1 192.8,381.2 192.0,381.1 191.2,381.0 190.8,380.9 190.0,380.6 189.6,380.4 188.8,380.4 188.0,380.3 187.6,380.2 187.0,379.8 186.4,379.4 186.0,379.3 185.2,379.0 184.8,378.9 184.0,378.8 183.2,378.6 182.8,378.3 182.4,377.9 182.0,377.4 181.7,377.0 181.2,376.6 180.8,376.5 180.1,376.2 179.6,375.8 179.5,375.4 179.7,375.0 180.2,374.6 180.8,374.4 181.2,374.1 181.6,373.7 182.0,373.1 182.3,372.6 182.8,372.3 183.6,372.6 183.8,373.0 184.3,373.0 184.5,372.6 184.8,371.9 185.2,371.4 185.6,371.0 186.0,370.7 186.8,370.7 187.4,371.0 188.0,371.4 188.4,371.6 189.2,371.6 189.6,371.2 189.9,370.6 190.0,369.8 190.2,369.4 190.8,369.1 191.6,369.3 192.4,369.2 192.8,369.0 193.3,368.6 193.7,368.2 194.3,367.8 194.8,367.7 195.6,367.5 196.0,367.3 196.8,367.1 197.6,367.2 198.4,367.3 199.2,367.2 200.0,367.0 200.8,367.2 201.2,367.4 202.0,367.6 202.8,367.7 203.6,367.7 204.1,367.4 204.5,367.0 204.9,366.6 205.6,366.3 206.4,366.5 206.8,366.7 207.6,366.8 208.2,366.6 208.8,366.6 209.2,366.7 209.6,367.0 210.1,367.4 210.7,367.8 211.2,368.0 211.7,368.2 212.3,368.6 212.8,368.9 213.2,369.2 213.7,369.4 214.4,369.7 214.8,370.0 215.2,370.2 216.0,370.5 216.8,370.3 217.2,369.9 217.6,369.5 218.0,369.3 218.8,369.4 219.2,369.7 219.6,370.0 220.0,370.2 220.6,370.6 220.8,371.0 220.9,371.8 221.1,372.6 221.4,373.0 221.9,373.4 222.4,373.6 223.2,373.7 223.6,373.9 224.0,374.2 224.5,374.6 225.1,375.0 225.5,375.4 225.7,375.8 225.7,376.6 225.6,377.0 224.9,377.4 224.4,377.5 223.8,377.8 223.3,378.2 222.8,378.6 222.4,378.8 221.9,379.0 221.2,379.0 220.8,379.0 220.0,378.9 219.6,379.0 218.9,379.4 218.4,379.7 218.0,379.9 217.2,380.0 216.4,380.0 215.6,379.9 214.8,379.9 214.0,379.8 213.2,380.0 212.8,380.4 212.4,380.7 211.6,381.0 210.8,380.8 210.0,380.7 209.2,380.8 208.4,380.7 207.9,380.6 207.5,380.6 206.8,380.7 206.0,380.9 205.6,381.1 204.8,381.3 204.4,381.4Z M205.2,380.6 204.4,380.6 203.6,380.7 202.8,380.8 202.2,380.6 201.6,380.3 201.2,380.1 200.4,380.0 199.6,380.1 199.1,380.2 198.4,380.6 198.0,380.7 197.2,380.8 196.4,380.6 196.0,380.5 195.2,380.3 194.4,380.5 193.6,380.5 193.2,380.6 192.4,380.7 191.6,380.7 191.0,380.6 190.4,380.2 190.2,379.8 190.0,379.1 189.6,379.0 189.2,379.4 188.8,379.7 188.4,379.9 187.9,379.8 187.2,379.4 186.8,379.1 186.4,378.9 185.6,378.6 185.2,378.5 184.4,378.4 183.6,378.2 183.2,378.0 182.8,377.7 182.4,377.2 182.0,376.6 181.6,376.2 181.2,375.9 181.0,375.4 181.3,375.0 181.9,374.6 182.4,374.2 183.2,374.5 184.0,374.2 184.4,373.9 184.8,373.6 185.2,373.0 185.3,372.6 185.6,372.0 186.0,371.6 186.4,371.4 186.9,371.4 187.6,371.7 188.0,372.0 188.4,372.2 189.2,372.3 189.6,372.0 190.0,371.6 190.4,371.0 190.7,370.6 191.2,370.2 191.6,370.1 192.4,369.8 192.8,369.6 193.2,369.4 193.8,369.0 194.4,368.8 195.2,368.8 195.9,368.6 196.2,368.2 196.8,367.9 197.6,367.9 198.4,368.2 198.8,368.6 199.0,369.0 199.2,369.4 199.4,369.0 200.0,368.2 200.4,368.1 201.2,368.2 202.0,368.1 202.8,368.2 203.2,368.2 204.0,368.3 204.4,368.1 204.8,367.6 205.2,367.2 205.6,367.0 206.0,367.0 206.7,367.4 207.2,367.7 208.0,367.7 208.8,367.5 209.6,367.8 210.0,368.0 210.5,368.2 211.2,368.5 211.6,368.8 212.0,369.1 212.4,369.4 213.1,369.8 213.6,370.2 214.0,370.5 214.4,370.7 215.2,371.0 215.6,371.1 216.4,371.2 217.2,371.3 217.6,371.4 218.1,371.8 218.7,372.2 219.2,372.4 219.9,372.2 220.0,372.2 220.4,372.6 220.8,373.1 221.2,373.5 221.6,373.8 222.1,374.2 222.6,374.6 223.2,374.9 223.6,375.1 224.1,375.4 224.6,375.8 224.6,376.6 224.0,377.0 223.6,377.3 223.2,377.7 222.8,378.1 222.4,378.3 221.6,378.5 220.8,378.2 220.4,378.2 220.0,378.3 219.5,378.6 218.8,379.0 218.4,379.2 217.8,379.4 217.2,379.5 216.8,379.4 216.0,379.2 215.2,379.4 214.8,379.4 214.4,379.4 213.6,379.3 213.2,379.4 212.8,379.8 212.4,380.2 211.6,380.5 210.8,380.2 210.4,380.1 209.6,380.0 208.8,380.0 208.0,380.0 207.2,380.1 206.8,380.2 206.0,380.4 205.3,380.6Z M198.4,380.3 197.6,380.5 196.8,380.4 196.3,380.2 195.6,379.9 195.2,379.7 194.4,379.8 194.0,379.8 193.2,380.0 192.7,380.2 192.0,380.4 191.2,380.3 190.8,379.9 190.6,379.4 190.4,378.6 190.0,378.4 189.2,378.6 188.8,379.0 188.4,379.3 187.6,379.2 187.2,378.9 186.6,378.6 186.0,378.4 185.5,378.2 184.8,378.1 184.0,377.9 183.6,377.8 183.1,377.4 182.8,377.0 182.5,376.2 182.8,375.5 183.2,375.3 183.7,375.0 184.2,374.6 184.6,374.2 185.2,373.8 185.6,373.4 185.9,373.0 186.1,372.6 186.6,372.2 187.0,372.2 187.6,372.6 187.9,373.0 188.4,373.1 188.8,373.0 189.6,372.7 190.4,372.7 190.7,373.4 191.2,373.5 191.4,373.0 191.0,372.6 190.6,372.2 190.8,371.7 191.2,371.2 191.6,370.8 192.0,370.5 192.8,370.3 193.2,370.2 194.0,369.8 194.4,369.7 195.1,369.8 195.6,370.0 196.4,370.2 197.2,370.0 198.0,370.0 198.4,370.3 199.2,370.5 199.6,370.2 200.0,369.8 200.4,369.2 200.8,368.9 201.5,368.6 202.0,368.5 202.8,368.5 203.2,368.7 203.7,369.0 204.0,369.6 204.1,370.2 204.3,371.0 204.8,371.3 205.2,371.0 205.5,370.2 205.6,369.8 205.8,369.0 206.1,368.6 206.8,368.5 207.6,368.6 208.0,368.6 208.4,368.6 209.2,368.4 210.0,368.5 210.4,368.6 211.2,369.0 211.6,369.4 212.0,369.7 212.4,369.9 212.8,370.3 213.2,370.9 213.6,371.3 214.4,371.3 215.2,371.4 215.6,371.5 216.4,371.7 216.9,371.8 217.6,372.1 218.0,372.5 218.4,372.9 218.8,373.4 219.2,373.6 220.0,373.5 220.8,373.8 221.2,374.1 221.6,374.5 222.0,375.0 222.4,375.3 222.8,375.6 223.2,375.9 223.4,376.6 223.2,377.0 222.8,377.5 222.4,377.8 221.6,377.8 221.2,377.4 220.9,377.0 220.4,376.9 220.0,377.4 219.8,377.8 219.4,378.2 218.8,378.5 218.4,378.7 217.6,378.9 217.0,378.6 216.8,378.2 216.4,377.4 215.6,377.1 214.8,377.4 214.7,377.8 214.6,378.6 214.0,378.7 213.2,378.9 212.8,379.3 212.4,379.7 212.0,379.9 211.2,379.9 210.8,379.8 210.0,379.5 209.2,379.5 208.4,379.6 207.6,379.7 206.8,379.8 206.4,379.9 205.6,380.1 204.8,380.2 204.0,380.0 203.6,379.8 203.2,379.4 202.4,379.4 202.0,379.6 201.2,379.7 200.4,379.7 199.6,379.8 199.2,379.9 198.6,380.2Z M197.6,380.2 197.2,380.2 196.4,379.9 196.0,379.7 195.5,379.4 194.8,379.2 194.0,379.2 193.2,379.2 192.4,379.7 192.0,379.9 191.5,379.8 191.2,379.4 191.0,378.6 190.7,378.2 190.0,378.0 189.2,378.1 188.8,378.4 188.4,378.6 187.6,378.7 187.2,378.5 186.5,378.2 186.0,378.0 185.4,377.8 184.8,377.7 184.0,377.5 183.6,377.3 183.2,376.7 183.2,376.3 183.5,375.8 183.9,375.4 184.3,375.0 184.7,374.6 185.2,374.2 185.6,374.1 186.4,374.0 186.8,374.2 187.6,374.5 188.4,374.4 188.8,374.0 189.2,373.6 190.0,373.7 190.3,374.2 190.8,374.5 191.4,374.2 191.8,373.8 192.0,373.4 192.1,372.6 192.0,372.2 192.0,371.7 192.4,371.2 193.2,371.1 194.0,371.2 194.6,371.0 195.2,370.8 196.0,370.9 196.8,371.0 197.6,371.0 198.0,371.1 198.5,371.4 199.2,371.6 199.6,371.0 199.9,370.6 200.3,370.2 200.7,369.8 201.1,369.4 201.6,369.1 202.0,369.0 202.6,369.0 203.2,369.4 203.4,369.8 203.5,370.6 203.6,371.0 204.0,371.4 204.5,371.8 205.1,371.8 205.5,371.4 205.7,371.0 206.0,370.3 206.3,369.8 206.7,369.4 207.2,369.2 208.0,369.4 208.4,369.4 208.8,369.4 209.6,369.1 210.4,369.1 210.9,369.4 211.3,369.8 211.7,370.2 212.0,370.6 212.0,371.0 211.6,371.5 211.4,372.2 211.7,372.6 212.4,372.8 213.2,372.9 213.7,372.6 214.0,372.2 214.8,371.9 215.6,372.0 216.3,372.2 216.8,372.4 217.2,372.6 217.6,373.0 218.0,373.6 218.4,374.1 218.8,374.4 219.6,374.5 220.4,374.3 220.8,374.6 221.2,375.4 221.6,375.7 222.0,375.9 222.4,376.3 222.4,376.8 222.0,377.1 221.6,376.8 221.2,376.2 221.0,375.8 220.4,375.7 220.0,375.9 219.6,376.6 219.5,377.0 219.2,377.7 218.8,378.0 218.0,378.0 217.6,377.5 217.2,377.0 216.8,376.8 216.0,376.6 215.2,376.7 214.5,377.0 214.1,377.4 213.9,377.8 213.5,378.2 213.0,378.6 212.6,379.0 212.0,379.4 211.6,379.5 211.1,379.4 210.4,379.2 209.6,379.1 208.8,379.1 208.0,379.3 207.2,379.4 206.8,379.5 206.0,379.6 205.2,379.7 204.4,379.5 204.0,379.2 203.6,378.8 202.8,378.6 202.0,379.0 201.6,379.2 200.8,379.3 200.0,379.4 199.6,379.5 198.8,379.8 198.4,380.0 197.7,380.2Z M202.4,369.9 201.9,369.8 202.4,369.8 202.4,369.9Z M198.0,379.9 197.2,379.9 196.8,379.8 196.0,379.4 195.6,379.2 195.1,379.0 194.4,378.8 193.8,378.6 193.3,378.2 192.8,378.1 192.2,378.2 191.6,378.2 191.2,378.1 190.5,377.8 190.0,377.7 189.3,377.8 188.8,378.0 188.4,378.2 187.6,378.3 187.2,378.2 186.4,377.9 186.0,377.7 185.2,377.4 184.8,377.3 184.0,377.1 183.7,376.6 184.0,375.9 184.4,375.4 184.7,375.0 185.2,374.6 185.6,374.5 186.4,374.6 186.8,374.7 187.6,375.0 188.0,375.1 188.8,375.0 189.2,374.8 190.0,374.8 190.8,375.0 191.5,374.6 191.9,374.2 192.2,373.8 192.5,373.4 192.7,372.6 192.8,372.2 193.6,372.1 194.1,372.2 194.6,372.2 195.2,371.8 195.6,371.5 196.4,371.5 197.2,371.6 197.8,371.8 198.2,372.2 198.6,372.6 199.2,372.6 199.6,372.3 199.9,371.8 200.0,371.3 200.4,370.7 200.8,370.4 201.2,370.2 201.7,370.2 201.5,370.6 201.6,371.4 202.0,371.8 202.1,371.8 202.8,371.5 203.6,371.6 204.0,372.0 204.4,372.4 205.2,372.4 205.6,372.2 206.0,371.4 206.1,371.0 206.4,370.4 206.8,370.0 207.6,369.8 208.4,370.0 209.2,370.0 209.6,369.8 210.4,369.7 210.8,370.0 211.1,370.6 210.9,371.4 210.7,371.8 210.7,372.6 211.0,373.0 211.6,373.3 212.1,373.4 212.8,373.6 213.6,373.4 214.0,373.2 214.4,372.8 214.8,372.5 215.6,372.5 216.0,372.6 216.6,373.0 217.2,373.4 217.5,373.8 217.8,374.2 218.0,374.6 218.4,375.4 217.6,375.8 217.2,375.9 216.4,376.2 216.0,376.3 215.2,376.5 214.6,376.6 214.0,376.9 213.6,377.1 213.3,377.8 213.0,378.2 212.6,378.6 212.1,379.0 211.6,379.1 210.8,379.0 210.4,378.9 209.6,378.8 208.8,378.8 208.0,379.0 207.6,379.1 206.8,379.2 206.0,379.3 205.2,379.3 204.4,379.0 204.0,378.7 203.6,378.5 202.8,378.4 202.2,378.6 201.6,378.9 201.2,379.0 200.4,379.1 199.6,379.3 199.2,379.4 198.4,379.8 198.0,379.9Z M207.3,373.0 207.7,372.6 207.4,372.2 206.9,372.2 206.6,372.6 207.1,373.0 207.3,373.0Z M204.3,373.8 204.3,373.0 203.6,372.9 203.2,373.0 203.1,373.8 203.6,374.1 204.3,373.8Z M212.9,376.2 212.8,375.8 212.4,375.2 212.0,375.0 211.6,375.4 212.0,376.1 212.4,376.4 212.9,376.2Z M198.4,379.5 197.6,379.7 196.8,379.5 196.4,379.3 195.8,379.0 195.2,378.7 194.8,378.6 194.2,378.2 194.0,377.8 193.5,377.4 192.8,377.3 192.0,377.4 191.6,377.5 190.8,377.5 190.0,377.4 189.2,377.5 188.5,377.8 188.0,378.0 187.2,377.9 186.8,377.7 186.3,377.4 185.6,377.0 185.2,376.9 184.5,376.6 184.7,375.8 185.0,375.4 185.6,375.0 186.4,375.2 187.2,375.4 187.6,375.5 188.4,375.6 189.2,375.5 189.6,375.4 190.4,375.4 191.2,375.3 192.0,374.6 192.4,374.2 192.8,373.8 193.1,373.4 193.5,373.0 194.0,373.0 194.4,373.0 194.8,373.0 195.6,372.6 196.0,372.3 196.4,372.2 196.9,372.2 197.6,372.5 198.0,372.9 198.4,373.4 198.8,373.8 199.2,373.3 199.6,372.9 200.2,372.6 200.8,372.2 201.6,372.5 202.0,372.7 202.3,373.4 202.6,373.8 203.0,374.2 203.6,374.5 204.4,374.3 204.7,373.8 204.9,373.4 205.5,373.0 205.8,373.0 206.4,373.2 207.0,373.4 207.6,373.4 208.0,373.2 208.5,373.0 208.9,372.6 208.7,372.2 208.2,371.8 207.6,371.5 207.2,371.3 207.2,370.7 207.6,370.6 208.0,370.6 208.8,370.9 209.6,371.0 209.9,371.4 209.7,372.2 209.4,372.6 209.7,373.0 210.3,373.4 210.8,373.6 211.2,373.9 211.4,374.6 211.2,375.1 211.2,375.4 211.6,376.1 212.0,376.5 212.4,376.8 212.8,377.3 212.8,377.7 212.6,378.2 212.1,378.6 211.6,378.8 210.8,378.7 210.2,378.6 209.6,378.5 208.8,378.5 208.4,378.6 207.6,378.8 206.8,379.0 206.0,378.9 205.2,378.9 204.5,378.6 204.0,378.4 203.6,378.2 202.8,378.1 202.4,378.2 201.7,378.6 201.2,378.8 200.4,378.9 199.6,379.0 199.2,379.1 198.6,379.4Z M214.8,376.3 214.0,376.4 213.6,376.2 213.2,375.8 212.8,375.0 212.7,374.6 213.0,374.2 213.6,374.0 214.0,373.8 214.8,373.4 215.2,373.3 215.9,373.4 216.4,373.7 216.8,374.1 217.0,374.6 216.8,375.1 216.4,375.5 216.0,375.8 215.2,376.2 214.8,376.3Z M198.7,375.0 198.8,374.6 198.8,374.0 198.4,374.2 198.3,375.0 198.7,375.0Z M198.4,379.1 197.6,379.3 196.8,379.1 196.4,378.9 195.7,378.6 195.2,378.3 194.8,378.0 194.5,377.4 194.4,377.0 193.6,376.7 192.8,376.7 192.3,376.6 191.6,376.4 191.2,376.7 190.4,376.9 189.6,376.9 188.8,376.8 188.4,377.1 187.6,377.3 187.0,377.0 187.2,376.4 188.0,376.4 188.8,376.5 189.2,376.2 190.0,375.9 190.8,376.0 191.6,376.0 192.0,375.5 192.4,375.0 192.8,374.7 193.2,374.4 193.6,374.1 194.2,373.8 194.8,373.7 195.6,373.4 196.0,373.2 196.8,373.0 197.5,373.4 197.7,373.8 197.7,374.6 197.6,375.0 197.7,375.4 198.4,375.7 199.0,375.4 199.3,375.0 199.4,374.2 199.6,373.6 200.0,373.3 200.8,373.1 201.5,373.4 201.9,373.8 202.3,374.2 202.8,374.5 203.2,374.7 203.7,375.0 204.4,375.1 204.7,374.6 205.0,374.2 205.3,373.8 206.0,373.5 206.7,373.8 207.2,374.0 208.0,373.9 208.4,373.8 208.9,373.8 209.6,374.2 210.0,374.6 210.3,375.0 210.5,375.4 210.8,375.8 211.2,376.2 211.6,376.6 212.0,377.0 212.2,377.8 211.9,378.2 211.2,378.3 210.4,378.2 210.0,378.2 209.2,378.1 208.4,378.1 208.0,378.3 207.2,378.6 206.8,378.6 206.0,378.6 205.2,378.4 204.6,378.2 204.0,378.0 203.4,377.8 202.8,377.8 202.4,377.9 201.8,378.2 201.2,378.4 200.4,378.6 199.9,378.6 199.2,378.8 198.7,379.0Z M214.4,375.8 214.0,375.7 213.6,375.2 213.6,374.9 214.0,374.5 214.8,374.4 215.3,374.6 215.4,375.4 214.8,375.8 214.4,375.8Z M198.0,378.6 197.2,378.7 196.8,378.5 196.0,378.2 195.6,377.9 195.2,377.4 195.3,376.6 195.6,376.1 195.9,375.4 195.7,374.6 196.4,374.3 196.5,375.0 196.1,375.4 196.4,375.8 197.0,376.2 197.6,376.3 198.4,376.3 198.8,376.1 199.3,375.8 199.6,375.4 199.9,374.6 200.0,374.2 200.8,373.9 201.3,374.2 201.9,374.6 202.4,374.8 202.8,375.2 203.1,375.8 203.2,376.4 203.6,376.8 204.0,376.6 204.7,376.2 205.2,375.8 205.3,375.4 205.4,374.6 205.9,374.2 206.2,374.2 206.8,374.5 207.2,375.0 207.6,375.3 208.4,375.4 208.9,375.4 209.6,375.8 210.0,376.1 210.4,376.3 210.8,376.6 211.2,377.0 211.2,377.6 210.4,377.7 209.6,377.6 209.0,377.4 208.4,377.3 208.0,377.5 207.6,377.9 206.8,378.2 206.0,378.1 205.2,377.9 204.8,377.7 204.0,377.4 203.6,377.1 202.8,377.2 202.4,377.4 201.7,377.8 201.2,378.0 200.4,378.2 199.6,378.1 199.1,378.2 198.4,378.5 198.0,378.6Z" fill="none" stroke="#000" stroke-width="1.1"/>
<line x1="146.4" y1="252.8" x2="315.2" y2="252.8" stroke="#222" stroke-width="1.1"/>
<line x1="146.4" y1="340.4" x2="315.2" y2="340.4" stroke="#222" stroke-width="1.1"/>
<line x1="146.4" y1="252.8" x2="146.4" y2="340.4" stroke="#222" stroke-width="1.1"/>
<line x1="151.5" y1="252.8" x2="151.5" y2="340.4" stroke="#222" stroke-width="1.1"/>
<line x1="244.5" y1="252.8" x2="244.5" y2="340.4" stroke="#222" stroke-width="1.1"/>
<line x1="249.5" y1="252.8" x2="249.5" y2="340.4" stroke="#222" stroke-width="1.1"/>
<line x1="309.8" y1="252.8" x2="309.8" y2="340.4" stroke="#222" stroke-width="1.1"/>
<line x1="315.2" y1="252.8" x2="315.2" y2="340.4" stroke="#555" stroke-width="1.6"/>
<text x="150.78" y="270.4" font-size="18.8">3.2%</text>
<text x="263.97" y="270.4" font-size="18.8">1.3%</text>
<path d="M513.7 292.2h1M514.9 312.8h1M488.2 319.6h1M493.7 301.8h1M508.6 297.6h1M501.1 281.9h1M515.8 283.2h1M508.1 293.9h1M500.6 255.7h1M515.3 311.1h1M492.8 305.0h1M498.1 304.1h1M526.3 314.6h1M527.7 290.8h1M535.7 295.9h1M526.2 318.9h1M514.4 279.1h1M530.9 282.5h1M503.8 282.8h1M535.0 301.6h1M479.4 319.5h1M557.1 340.8h1M509.6 306.4h1M529.0 322.7h1M520.5 282.9h1M533.4 317.1h1M495.9 297.4h1M524.7 304.7h1M529.2 320.7h1M529.6 302.5h1M495.5 317.1h1M545.0 344.3h1M519.2 304.0h1M545.8 333.5h1M525.9 319.0h1M506.1 316.4h1M504.9 301.8h1M517.5 295.3h1M481.7 288.2h1M525.7 303.5h1M512.7 313.3h1M532.1 321.7h1M505.2 305.1h1M513.7 287.1h1M492.8 302.7h1M504.0 347.7h1M517.9 300.2h1M512.5 342.2h1M502.7 301.4h1M505.8 302.2h1M519.1 326.6h1M494.2 304.2h1M548.8 294.5h1M516.5 286.9h1M472.6 302.6h1M540.9 295.3h1M486.5 310.0h1M521.1 324.7h1M536.1 299.3h1M526.9 268.7h1M539.7 308.4h1M539.2 325.9h1M514.5 301.7h1M503.9 263.3h1M517.3 307.7h1M500.1 318.9h1M521.5 313.7h1M505.8 269.4h1M533.7 316.9h1M517.7 296.2h1M514.7 301.9h1M510.5 264.4h1M533.8 274.8h1M513.7 298.5h1M524.4 272.4h1M541.4 317.8h1M533.6 330.1h1M525.8 331.0h1M540.7 294.1h1M518.2 310.5h1M487.3 291.5h1M508.4 336.5h1M508.2 336.3h1M520.2 271.4h1M531.1 339.1h1M510.4 280.4h1M538.7 306.3h1M497.9 283.4h1M513.0 324.3h1M514.8 318.1h1M549.7 330.4h1M545.9 329.6h1M491.0 329.5h1M525.9 302.5h1M500.5 273.2h1M500.0 304.6h1M498.8 288.7h1M508.9 318.3h1M514.7 302.1h1M543.9 298.6h1M530.8 283.9h1M525.9 307.4h1M523.2 295.7h1M501.4 299.0h1M511.6 325.7h1M536.3 281.0h1M531.3 295.4h1M518.4 370.4h1M441.1 400.3h1M518.1 355.5h1M424.3 369.3h1M452.7 372.7h1M524.8 409.4h1M485.7 407.5h1M546.6 371.3h1M433.3 397.1h1M557.3 395.7h1M507.9 374.6h1M464.0 395.7h1M481.2 385.1h1M525.8 384.1h1M462.3 408.2h1M516.4 379.9h1M528.8 369.6h1M515.3 387.3h1M464.2 356.9h1M509.4 387.4h1M554.6 389.4h1M457.2 390.9h1M533.9 400.4h1M514.1 356.0h1M547.2 365.7h1M523.7 348.9h1M531.4 364.7h1M544.1 415.7h1M547.5 357.0h1M463.0 362.9h1M527.2 387.3h1M507.0 386.5h1M523.9 393.4h1M508.8 343.2h1M447.6 366.4h1M453.1 384.7h1M542.1 371.5h1M481.0 370.0h1M505.6 369.3h1M517.4 386.2h1M514.0 395.4h1M501.4 383.0h1M532.0 381.1h1M481.7 370.9h1M467.2 380.2h1M475.8 371.5h1M548.7 377.3h1M545.6 385.3h1M534.4 367.7h1M533.0 400.0h1M509.2 397.1h1M453.4 362.9h1M457.0 372.6h1M423.4 332.3h1M425.3 332.2h1M391.7 282.3h1M436.4 270.1h1M400.4 313.1h1M397.4 349.0h1M421.6 336.1h1M398.9 309.6h1M459.7 353.7h1M420.5 353.7h1M446.6 345.4h1M502.8 322.9h1M455.7 355.7h1M429.5 292.2h1M466.4 349.2h1M440.7 339.6h1M439.5 302.8h1M450.2 266.4h1M437.4 278.5h1M424.2 366.9h1M427.9 319.0h1M458.7 327.3h1M421.7 322.3h1M498.5 364.5h1M457.2 290.3h1M462.6 286.1h1M457.0 293.1h1M515.8 270.3h1M486.5 369.7h1M495.4 383.0h1M390.6 296.6h1M411.8 411.2h1M442.8 328.4h1M424.1 364.1h1M465.1 300.7h1M496.1 294.1h1M426.3 355.4h1M434.7 297.7h1M413.3 347.1h1M418.4 341.9h1M424.6 315.8h1M418.5 335.5h1M408.6 356.0h1M430.7 320.9h1M399.4 319.4h1M425.3 291.3h1M420.6 304.4h1M407.3 306.0h1M425.7 274.5h1M403.5 328.0h1M390.8 260.7h1M417.6 308.1h1M406.8 312.4h1M394.5 395.5h1M394.3 295.0h1M387.7 295.6h1M431.9 308.7h1M418.0 293.6h1M436.2 313.0h1M390.3 331.2h1M403.5 326.3h1" stroke="#8a8a8a" stroke-width="1" fill="none"/>
<path d="M416.2,398.2 415.4,398.4 414.6,398.5 413.8,398.5 413.0,398.4 412.2,398.2 411.8,398.1 411.0,397.8 410.6,397.6 410.2,397.3 409.7,397.0 409.2,396.6 408.7,396.2 408.3,395.8 407.8,395.4 407.4,395.0 407.0,394.6 406.6,394.2 406.2,393.8 405.8,393.4 405.4,393.0 405.0,392.7 404.6,392.3 404.2,392.0 403.8,391.7 403.4,391.4 402.9,391.0 402.3,390.6 401.8,390.3 401.4,390.0 401.0,389.7 400.5,389.4 400.0,389.0 399.4,388.6 399.0,388.2 398.6,387.8 398.2,387.4 397.9,387.0 397.7,386.6 397.5,385.8 397.5,385.0 397.8,384.2 398.0,383.8 398.2,383.4 398.6,382.8 399.0,382.3 399.3,381.8 399.5,381.4 399.8,380.9 400.1,380.2 400.2,379.7 400.3,379.0 400.3,378.2 400.3,377.4 400.2,376.6 400.2,376.2 400.1,375.4 400.0,374.6 400.0,373.8 400.0,373.0 399.9,372.2 399.9,371.4 400.0,370.6 400.0,369.8 400.1,369.0 400.2,368.2 400.3,367.8 400.4,367.0 400.5,366.2 400.6,365.8 400.8,365.0 400.9,364.2 401.0,363.8 401.2,363.0 401.4,362.2 401.5,361.8 401.7,361.0 401.8,360.6 402.0,359.8 402.2,359.0 402.3,358.6 402.4,357.8 402.6,357.1 402.7,356.6 402.8,355.8 402.9,355.0 403.0,354.6 403.1,353.8 403.2,353.0 403.2,352.2 403.2,351.4 403.2,350.6 403.2,349.8 403.2,349.0 403.1,348.2 403.1,347.4 403.0,346.6 403.0,346.2 402.9,345.4 402.8,344.6 402.7,343.8 402.6,343.0 402.6,342.6 402.5,341.8 402.4,341.0 402.3,340.2 402.2,339.7 402.1,339.0 402.0,338.2 401.9,337.4 401.8,336.6 401.8,336.2 401.7,335.4 401.7,334.6 401.6,333.8 401.5,333.0 401.5,332.2 401.5,331.4 401.4,330.6 401.4,329.8 401.4,329.0 401.4,328.2 401.4,327.8 401.4,327.0 401.4,326.2 401.4,325.4 401.5,324.6 401.5,323.8 401.6,323.0 401.6,322.2 401.6,321.4 401.7,320.6 401.8,319.8 401.8,319.0 401.8,318.6 401.9,317.8 401.9,317.0 401.9,316.2 402.0,315.4 402.0,314.6 402.0,313.8 402.0,313.0 402.0,312.2 402.0,311.4 402.0,310.6 402.0,309.8 401.9,309.0 401.9,308.2 401.9,307.4 401.8,306.6 401.8,306.2 401.7,305.4 401.7,304.6 401.7,303.8 401.6,303.0 401.6,302.2 401.6,301.4 401.6,300.6 401.6,299.8 401.7,299.0 401.7,298.2 401.8,297.7 401.9,297.0 402.0,296.2 402.2,295.4 402.2,295.0 402.4,294.2 402.6,293.5 402.7,293.0 402.9,292.2 403.0,291.8 403.2,291.0 403.4,290.4 403.5,289.8 403.7,289.0 403.8,288.4 403.9,287.8 404.1,287.0 404.3,286.6 404.6,285.8 404.8,285.4 405.0,285.0 405.4,284.5 405.8,283.9 406.2,283.5 406.6,283.1 407.0,282.7 407.4,282.3 407.8,282.0 408.2,281.6 408.6,281.3 409.0,281.0 409.6,280.6 410.2,280.2 410.6,280.0 411.0,279.7 411.6,279.4 412.2,279.1 412.6,278.9 413.2,278.6 413.8,278.3 414.2,278.2 415.0,277.9 415.4,277.8 416.2,277.5 416.8,277.4 417.4,277.3 418.2,277.1 419.0,277.0 419.4,277.0 420.2,276.9 421.0,276.8 421.8,276.8 422.6,276.8 423.4,276.7 424.2,276.7 425.0,276.7 425.8,276.6 426.6,276.6 427.0,276.6 427.8,276.5 428.6,276.4 429.4,276.3 430.2,276.2 430.6,276.2 431.4,276.1 432.2,276.0 433.0,275.9 433.8,275.8 434.2,275.8 435.0,275.7 435.8,275.6 436.6,275.6 437.4,275.5 438.2,275.5 439.0,275.5 439.8,275.4 440.6,275.4 441.4,275.4 441.8,275.4 442.3,275.4 443.0,275.4 443.8,275.4 444.6,275.4 445.4,275.5 446.2,275.5 447.0,275.6 447.8,275.6 448.6,275.7 449.4,275.8 449.8,275.8 450.6,275.9 451.4,276.0 452.2,276.1 452.8,276.2 453.4,276.3 454.2,276.4 455.0,276.5 455.4,276.6 456.2,276.7 457.0,276.9 457.7,277.0 458.2,277.1 459.0,277.2 459.8,277.4 460.2,277.5 461.0,277.6 461.8,277.8 462.2,277.9 463.0,278.0 463.7,278.2 464.2,278.3 465.0,278.5 465.6,278.6 466.2,278.7 467.0,278.9 467.4,279.0 468.2,279.2 468.8,279.4 469.4,279.6 470.2,279.8 470.6,279.9 471.4,280.2 471.8,280.3 472.5,280.6 473.0,280.8 473.4,281.0 474.2,281.4 474.6,281.6 475.1,281.8 475.8,282.2 476.2,282.4 476.6,282.7 477.1,283.0 477.6,283.4 478.1,283.8 478.6,284.2 479.0,284.6 479.4,285.0 479.8,285.4 480.1,285.8 480.5,286.2 480.8,286.6 481.1,287.0 481.4,287.4 481.8,287.9 482.2,288.3 482.6,288.7 483.0,289.1 483.4,289.4 483.9,289.8 484.5,290.2 485.0,290.5 485.4,290.7 486.0,291.0 486.6,291.3 487.0,291.5 487.5,291.8 488.2,292.1 488.6,292.3 489.1,292.6 489.8,293.0 490.2,293.2 490.6,293.4 491.2,293.8 491.8,294.2 492.2,294.5 492.6,294.7 493.0,295.0 493.5,295.4 494.1,295.8 494.6,296.1 495.0,296.3 495.4,296.6 496.2,297.0 496.6,297.2 497.0,297.4 497.8,297.7 498.2,297.9 498.9,298.2 499.4,298.4 499.8,298.6 500.5,299.0 501.0,299.3 501.4,299.6 501.8,299.9 502.2,300.4 502.6,301.0 502.7,301.4 502.7,302.2 502.6,302.7 502.2,303.4 501.9,303.8 501.4,304.2 501.0,304.5 500.6,304.7 500.0,305.0 499.4,305.2 498.9,305.4 498.2,305.6 497.5,305.8 497.0,305.9 496.2,306.2 495.8,306.3 495.0,306.5 494.6,306.7 493.8,307.0 493.4,307.1 492.8,307.4 492.2,307.7 491.8,307.9 491.2,308.2 490.6,308.5 490.2,308.7 489.7,309.0 489.0,309.4 488.6,309.7 488.2,309.9 487.7,310.2 487.2,310.6 486.6,311.0 486.2,311.4 485.8,311.8 485.4,312.2 485.1,312.6 484.8,313.0 484.6,313.4 484.2,314.2 484.1,314.6 483.8,315.4 483.8,315.8 483.7,316.6 483.6,317.4 483.6,318.2 483.6,319.0 483.7,319.8 483.7,320.6 483.8,321.1 483.9,321.8 484.0,322.6 484.2,323.4 484.3,323.8 484.4,324.6 484.6,325.4 484.7,325.8 484.8,326.6 485.0,327.3 485.1,327.8 485.3,328.6 485.4,329.1 485.6,329.8 485.7,330.6 485.8,331.0 486.0,331.8 486.2,332.6 486.2,333.0 486.4,333.8 486.5,334.6 486.6,335.0 486.8,335.8 486.9,336.6 487.0,337.4 487.1,337.8 487.2,338.6 487.3,339.4 487.3,340.2 487.4,341.0 487.4,341.4 487.5,342.2 487.5,343.0 487.5,343.8 487.6,344.6 487.5,345.4 487.5,346.2 487.5,347.0 487.5,347.8 487.4,348.6 487.4,349.0 487.3,349.8 487.2,350.6 487.2,351.4 487.1,352.2 487.0,352.8 486.9,353.4 486.8,354.2 486.7,355.0 486.7,355.8 486.6,356.3 486.5,357.0 486.4,357.8 486.4,358.6 486.3,359.4 486.3,360.2 486.2,361.0 486.2,361.4 486.2,362.2 486.1,363.0 486.1,363.8 486.1,364.6 486.1,365.4 486.1,366.2 486.1,367.0 486.1,367.8 486.0,368.6 486.0,369.4 486.0,370.2 485.9,371.0 485.9,371.8 485.8,372.4 485.7,373.0 485.6,373.8 485.5,374.6 485.4,375.4 485.3,375.8 485.2,376.6 485.0,377.4 484.9,377.8 484.8,378.6 484.7,379.4 484.6,380.2 484.6,381.0 484.7,381.8 484.7,382.6 484.8,383.4 484.9,384.2 484.9,385.0 484.7,385.8 484.6,386.2 484.2,387.0 484.0,387.4 483.7,387.8 483.3,388.2 482.9,388.6 482.5,389.0 482.0,389.4 481.5,389.8 481.0,390.2 480.6,390.5 480.2,390.8 479.8,391.1 479.3,391.4 478.7,391.8 478.2,392.2 477.8,392.4 477.4,392.7 476.9,393.0 476.3,393.4 475.8,393.7 475.4,394.0 475.0,394.2 474.4,394.6 473.8,394.9 473.4,395.2 472.9,395.4 472.2,395.8 471.8,396.0 471.3,396.2 470.6,396.5 470.2,396.6 469.4,396.9 469.0,397.0 468.2,397.3 467.6,397.4 467.0,397.5 466.2,397.7 465.4,397.8 465.0,397.8 464.2,397.9 463.4,397.9 462.6,397.9 461.8,397.9 461.0,397.8 460.5,397.8 459.8,397.7 459.0,397.7 458.2,397.6 457.4,397.5 456.7,397.4 456.2,397.3 455.4,397.3 454.6,397.2 453.8,397.1 453.0,397.1 452.2,397.0 451.7,397.0 451.0,397.0 450.2,397.0 449.4,397.0 448.6,397.0 447.8,397.0 447.1,397.0 446.6,397.0 445.8,397.0 445.0,397.0 444.2,397.1 443.4,397.1 442.6,397.1 441.8,397.1 441.0,397.1 440.2,397.0 439.4,397.0 438.9,397.0 438.2,397.0 437.4,396.9 436.6,396.9 435.8,396.8 435.0,396.8 434.2,396.7 433.4,396.6 433.0,396.6 432.2,396.5 431.4,396.4 430.6,396.3 429.8,396.2 429.4,396.2 428.6,396.1 427.8,396.0 427.0,395.9 426.2,395.8 425.8,395.8 425.0,395.8 424.2,395.8 423.4,395.8 423.0,395.8 422.2,396.0 421.4,396.2 421.0,396.3 420.2,396.6 419.8,396.8 419.3,397.0 418.6,397.3 418.2,397.5 417.5,397.8 417.0,398.0 416.3,398.2Z M416.2,394.7 415.4,394.8 414.6,394.9 413.8,394.8 413.0,394.7 412.5,394.6 411.8,394.4 411.4,394.2 410.6,393.8 410.2,393.6 409.8,393.3 409.3,393.0 408.7,392.6 408.2,392.2 407.8,391.9 407.4,391.6 407.0,391.2 406.6,390.9 406.2,390.6 405.8,390.2 405.3,389.8 404.9,389.4 404.4,389.0 404.0,388.6 403.7,388.2 403.4,387.8 403.0,387.3 402.7,386.6 402.5,386.2 402.4,385.4 402.5,384.6 402.6,384.0 402.8,383.4 403.0,382.7 403.2,382.2 403.4,381.4 403.5,381.0 403.6,380.2 403.6,379.4 403.6,378.6 403.6,377.8 403.5,377.0 403.5,376.2 403.5,375.4 403.4,374.6 403.4,373.8 403.4,373.0 403.5,372.2 403.5,371.4 403.5,370.6 403.6,369.8 403.7,369.0 403.8,368.2 403.9,367.8 404.0,367.0 404.1,366.2 404.2,365.8 404.4,365.0 404.6,364.2 404.7,363.8 404.9,363.0 405.0,362.6 405.2,361.8 405.4,361.3 405.6,360.6 405.8,360.0 406.0,359.4 406.2,358.7 406.4,358.2 406.6,357.4 406.7,357.0 407.0,356.2 407.1,355.8 407.3,355.0 407.4,354.6 407.6,353.8 407.8,353.0 407.8,352.6 407.9,351.8 408.0,351.0 408.0,350.2 408.0,349.4 407.9,348.6 407.8,347.8 407.8,347.4 407.7,346.6 407.6,345.8 407.4,345.0 407.4,344.6 407.2,343.8 407.1,343.0 407.0,342.5 406.9,341.8 406.7,341.0 406.6,340.2 406.5,339.8 406.4,339.0 406.3,338.2 406.2,337.4 406.2,337.0 406.1,336.2 406.0,335.4 405.9,334.6 405.8,333.8 405.8,333.2 405.8,332.6 405.7,331.8 405.7,331.0 405.7,330.2 405.6,329.4 405.6,328.6 405.6,327.8 405.6,327.0 405.7,326.2 405.7,325.4 405.7,324.6 405.7,323.8 405.8,323.0 405.8,322.6 405.9,321.8 405.9,321.0 406.0,320.2 406.0,319.4 406.1,318.6 406.1,317.8 406.1,317.0 406.2,316.2 406.2,315.6 406.2,315.0 406.2,314.2 406.3,313.4 406.3,312.6 406.3,311.8 406.2,311.0 406.2,310.2 406.2,309.4 406.2,308.6 406.2,308.2 406.2,307.4 406.2,306.6 406.1,305.8 406.1,305.0 406.1,304.2 406.1,303.4 406.2,302.6 406.2,301.8 406.2,301.4 406.3,300.6 406.3,299.8 406.4,299.0 406.5,298.2 406.6,297.7 406.7,297.0 406.9,296.2 407.0,295.7 407.2,295.0 407.4,294.2 407.5,293.8 407.7,293.0 407.8,292.6 408.1,291.8 408.2,291.4 408.4,290.6 408.6,289.8 408.7,289.4 408.8,288.6 409.0,287.8 409.1,287.4 409.3,286.6 409.5,286.2 409.8,285.7 410.2,285.1 410.6,284.6 411.0,284.2 411.4,283.8 411.8,283.5 412.2,283.2 412.6,282.9 413.1,282.6 413.8,282.2 414.2,282.0 414.6,281.8 415.4,281.5 415.8,281.3 416.6,281.0 417.0,280.9 417.8,280.7 418.2,280.6 419.0,280.4 419.8,280.3 420.3,280.2 421.0,280.1 421.8,280.0 422.6,279.9 423.4,279.8 423.8,279.8 424.6,279.7 425.4,279.6 426.2,279.6 427.0,279.5 427.8,279.4 428.2,279.4 429.0,279.3 429.8,279.2 430.6,279.1 431.4,279.0 431.8,279.0 432.6,278.9 433.4,278.8 434.2,278.7 435.0,278.7 435.8,278.6 436.2,278.6 437.0,278.5 437.8,278.5 438.6,278.4 439.4,278.4 440.2,278.4 441.0,278.4 441.8,278.4 442.6,278.4 443.4,278.4 444.2,278.4 445.0,278.4 445.8,278.5 446.6,278.5 447.4,278.6 447.9,278.6 448.6,278.6 449.4,278.7 450.2,278.8 451.0,278.8 451.8,278.9 452.3,279.0 453.0,279.1 453.8,279.2 454.6,279.3 455.3,279.4 455.8,279.5 456.6,279.6 457.4,279.7 457.8,279.8 458.6,279.9 459.4,280.1 459.9,280.2 460.6,280.3 461.4,280.5 461.8,280.6 462.6,280.8 463.4,281.0 463.8,281.1 464.6,281.3 465.0,281.4 465.8,281.7 466.2,281.8 467.0,282.1 467.4,282.2 468.2,282.5 468.6,282.7 469.3,283.0 469.8,283.3 470.2,283.5 470.8,283.8 471.4,284.2 471.8,284.5 472.2,284.9 472.6,285.3 473.0,285.8 473.3,286.2 473.5,286.6 473.8,287.4 473.9,287.8 474.0,288.6 474.2,289.4 474.3,289.8 474.5,290.6 474.7,291.0 475.0,291.5 475.4,292.1 475.8,292.6 476.1,293.0 476.4,293.4 476.8,293.8 477.2,294.2 477.5,294.6 477.9,295.0 478.3,295.4 478.7,295.8 479.1,296.2 479.5,296.6 479.9,297.0 480.3,297.4 480.6,297.8 481.0,298.2 481.4,298.8 481.8,299.3 482.1,299.8 482.2,300.2 482.4,301.0 482.4,301.8 482.2,302.4 482.0,303.0 481.8,303.4 481.4,304.0 481.0,304.6 480.8,305.0 480.5,305.4 480.2,306.0 479.8,306.6 479.6,307.0 479.4,307.4 479.0,308.2 478.8,308.6 478.6,309.1 478.3,309.8 478.2,310.2 478.0,311.0 477.8,311.6 477.7,312.2 477.6,313.0 477.5,313.8 477.5,314.6 477.5,315.4 477.5,316.2 477.6,317.0 477.7,317.8 477.8,318.2 478.0,319.0 478.1,319.8 478.2,320.2 478.4,321.0 478.6,321.8 478.7,322.2 478.9,323.0 479.0,323.5 479.2,324.2 479.4,325.0 479.5,325.4 479.7,326.2 479.8,326.6 480.0,327.4 480.2,328.2 480.3,328.6 480.5,329.4 480.6,329.8 480.8,330.6 481.0,331.4 481.0,331.8 481.2,332.6 481.4,333.4 481.4,333.8 481.6,334.6 481.7,335.4 481.8,336.0 481.9,336.6 482.0,337.4 482.1,338.2 482.1,339.0 482.2,339.8 482.2,340.2 482.3,341.0 482.3,341.8 482.3,342.6 482.4,343.4 482.3,344.2 482.3,345.0 482.3,345.8 482.2,346.6 482.2,347.0 482.1,347.8 482.1,348.6 482.0,349.4 481.9,350.2 481.8,350.8 481.7,351.4 481.6,352.2 481.5,353.0 481.4,353.7 481.3,354.2 481.2,355.0 481.1,355.8 481.1,356.6 481.0,357.2 481.0,357.8 480.9,358.6 480.9,359.4 480.9,360.2 480.9,361.0 481.0,361.8 481.0,362.5 481.0,363.0 481.1,363.8 481.1,364.6 481.2,365.4 481.3,366.2 481.3,367.0 481.4,367.8 481.4,368.2 481.5,369.0 481.5,369.8 481.5,370.6 481.5,371.4 481.5,372.2 481.4,373.0 481.4,373.4 481.3,374.2 481.3,375.0 481.2,375.8 481.0,376.6 481.0,377.0 480.8,377.8 480.7,378.6 480.6,379.3 480.5,379.8 480.5,380.6 480.4,381.4 480.4,382.2 480.4,383.0 480.4,383.8 480.4,384.6 480.3,385.4 480.2,385.8 479.8,386.6 479.6,387.0 479.3,387.4 479.0,387.8 478.6,388.2 478.2,388.6 477.8,389.0 477.3,389.4 476.7,389.8 476.2,390.2 475.8,390.4 475.4,390.7 474.9,391.0 474.2,391.4 473.8,391.6 473.4,391.8 472.6,392.2 472.2,392.4 471.7,392.6 471.0,392.9 470.6,393.1 469.8,393.4 469.4,393.5 468.6,393.7 468.2,393.8 467.4,394.0 466.6,394.2 466.2,394.3 465.4,394.4 464.6,394.5 463.8,394.5 463.0,394.5 462.2,394.5 461.4,394.5 460.6,394.5 459.8,394.5 459.0,394.4 458.2,394.4 457.4,394.3 456.6,394.3 455.8,394.2 455.4,394.2 454.6,394.2 453.8,394.2 453.0,394.1 452.2,394.1 451.4,394.1 450.6,394.2 449.8,394.2 449.0,394.2 448.6,394.2 447.8,394.2 447.0,394.2 446.2,394.3 445.4,394.3 444.6,394.3 443.8,394.3 443.0,394.3 442.2,394.3 441.4,394.3 440.6,394.3 439.8,394.3 439.0,394.3 438.2,394.3 437.4,394.3 436.6,394.2 436.0,394.2 435.4,394.2 434.6,394.1 433.8,394.1 433.0,394.1 432.2,394.0 431.4,393.9 430.6,393.9 430.0,393.8 429.4,393.7 428.6,393.7 427.8,393.6 427.0,393.5 426.2,393.5 425.4,393.4 424.6,393.4 423.8,393.3 423.0,393.3 422.2,393.4 421.7,393.4 421.0,393.5 420.2,393.6 419.4,393.8 419.0,393.9 418.2,394.1 417.8,394.2 417.0,394.5 416.4,394.6Z M449.4,393.0 448.6,393.0 447.8,393.1 447.0,393.1 446.2,393.1 445.4,393.1 444.6,393.1 443.8,393.2 443.0,393.2 442.2,393.2 441.4,393.2 440.6,393.2 439.8,393.2 439.0,393.2 438.2,393.2 437.4,393.1 436.6,393.1 435.8,393.1 435.0,393.1 434.2,393.0 433.8,393.0 433.0,392.9 432.2,392.9 431.4,392.8 430.6,392.8 429.8,392.7 429.0,392.6 428.6,392.6 427.8,392.5 427.0,392.4 426.2,392.4 425.4,392.3 424.6,392.2 424.1,392.2 423.4,392.2 422.6,392.2 421.8,392.2 421.2,392.2 420.6,392.2 419.8,392.3 419.0,392.5 418.2,392.6 417.8,392.7 417.0,392.8 416.2,392.9 415.5,393.0 415.0,393.0 414.2,393.0 413.8,393.0 413.0,392.9 412.2,392.6 411.8,392.5 411.1,392.2 410.6,392.0 410.2,391.7 409.6,391.4 409.0,391.0 408.6,390.7 408.2,390.4 407.8,390.1 407.4,389.7 407.0,389.3 406.6,389.0 406.2,388.5 405.8,388.0 405.4,387.5 405.1,387.0 404.9,386.6 404.7,385.8 404.6,385.0 404.7,384.2 404.8,383.4 404.9,382.6 405.0,382.2 405.1,381.4 405.2,380.6 405.2,379.8 405.2,379.0 405.2,378.2 405.1,377.4 405.1,376.6 405.1,375.8 405.0,375.0 405.0,374.2 405.0,373.4 405.1,372.6 405.1,371.8 405.2,371.0 405.3,370.2 405.4,369.4 405.4,369.0 405.5,368.2 405.7,367.4 405.8,367.0 406.0,366.2 406.2,365.4 406.3,365.0 406.6,364.2 406.7,363.8 407.0,363.0 407.1,362.6 407.4,361.8 407.6,361.4 407.8,360.9 408.1,360.2 408.3,359.8 408.6,359.3 409.0,358.6 409.2,358.2 409.5,357.8 409.8,357.3 410.2,356.8 410.6,356.3 411.0,355.9 411.4,355.6 411.8,355.3 412.3,355.0 413.0,354.7 413.8,354.7 414.6,354.7 415.4,354.9 415.8,355.1 416.6,355.3 417.0,355.5 417.8,355.8 418.2,355.9 419.0,356.1 419.4,356.2 420.2,356.3 421.0,356.4 421.8,356.3 422.2,356.2 423.0,355.8 423.4,355.6 423.8,355.4 424.4,355.0 424.9,354.6 425.4,354.2 425.8,353.9 426.2,353.5 426.6,353.1 427.0,352.6 427.3,352.2 427.6,351.8 427.8,351.3 428.0,350.6 428.1,349.8 428.1,349.0 427.9,348.2 427.7,347.8 427.4,347.2 427.0,346.6 426.7,346.2 426.3,345.8 425.9,345.4 425.6,345.0 425.2,344.6 424.8,344.2 424.4,343.8 424.0,343.4 423.5,343.0 423.1,342.6 422.6,342.3 422.2,342.0 421.8,341.8 421.1,341.4 420.6,341.2 420.2,341.0 419.4,340.7 418.9,340.6 418.2,340.5 417.4,340.4 416.6,340.4 415.8,340.5 415.4,340.6 414.6,340.8 413.8,340.8 413.0,340.7 412.6,340.6 412.1,340.2 411.7,339.8 411.4,339.4 411.0,338.8 410.7,338.2 410.6,337.8 410.3,337.0 410.2,336.6 409.9,335.8 409.8,335.2 409.7,334.6 409.5,333.8 409.4,333.0 409.4,332.6 409.3,331.8 409.2,331.0 409.1,330.2 409.1,329.4 409.1,328.6 409.0,327.8 409.0,327.4 408.9,326.6 408.9,325.8 408.9,325.0 408.9,324.2 409.0,323.4 409.0,322.6 409.0,321.8 409.0,321.0 409.0,320.2 409.0,319.8 409.0,319.0 409.0,318.2 409.1,317.4 409.0,316.6 409.0,315.8 409.0,315.4 409.0,314.6 408.9,313.8 408.9,313.0 408.9,312.2 408.9,311.4 408.8,310.6 408.8,309.8 408.7,309.0 408.7,308.2 408.7,307.4 408.6,306.6 408.6,305.8 408.6,305.0 408.6,304.2 408.7,303.4 408.7,302.6 408.7,301.8 408.8,301.0 408.9,300.2 409.0,299.4 409.0,299.0 409.2,298.2 409.3,297.4 409.4,297.0 409.6,296.2 409.8,295.4 409.9,295.0 410.2,294.2 410.3,293.8 410.6,293.0 410.7,292.6 411.0,291.9 411.1,291.4 411.4,290.6 411.5,290.2 411.7,289.4 411.8,288.8 411.9,288.2 412.1,287.4 412.3,287.0 412.6,286.3 412.9,285.8 413.2,285.4 413.6,285.0 414.0,284.6 414.5,284.2 415.0,283.8 415.4,283.6 415.8,283.4 416.5,283.0 417.0,282.8 417.5,282.6 418.2,282.4 418.8,282.2 419.4,282.0 420.2,281.9 420.6,281.8 421.4,281.6 422.2,281.5 422.9,281.4 423.4,281.3 424.2,281.2 425.0,281.1 425.8,281.0 426.2,280.9 427.0,280.8 427.8,280.7 428.6,280.6 429.0,280.6 429.8,280.5 430.6,280.4 431.4,280.3 432.0,280.2 432.6,280.1 433.4,280.0 434.2,280.0 435.0,279.9 435.8,279.8 436.6,279.8 437.0,279.8 437.8,279.7 438.6,279.7 439.4,279.7 440.2,279.6 441.0,279.6 441.8,279.6 442.6,279.6 443.4,279.7 444.2,279.7 445.0,279.7 445.8,279.7 446.6,279.8 447.2,279.8 447.8,279.8 448.6,279.9 449.4,279.9 450.2,280.0 451.0,280.1 451.8,280.2 452.2,280.2 453.0,280.3 453.8,280.4 454.6,280.6 455.0,280.6 455.8,280.8 456.6,280.9 457.1,281.0 457.8,281.1 458.6,281.3 459.1,281.4 459.8,281.6 460.6,281.8 461.0,281.9 461.8,282.1 462.2,282.2 463.0,282.5 463.4,282.6 464.2,282.9 464.6,283.1 465.4,283.4 465.8,283.6 466.2,283.8 466.9,284.2 467.4,284.5 467.8,284.8 468.2,285.2 468.6,285.7 468.9,286.2 469.1,286.6 469.2,287.4 469.2,288.2 469.0,288.9 468.9,289.4 468.7,290.2 468.6,291.0 468.6,291.0 468.7,291.8 469.0,292.6 469.2,293.0 469.4,293.4 469.8,294.1 470.1,294.6 470.4,295.0 470.7,295.4 471.0,295.9 471.4,296.6 471.6,297.0 471.8,297.4 472.1,298.2 472.3,298.6 472.5,299.4 472.6,300.2 472.6,300.6 472.7,301.4 472.7,302.2 472.6,303.0 472.5,303.4 472.4,304.2 472.2,304.8 472.0,305.4 471.8,305.8 471.4,306.5 471.1,307.0 470.8,307.4 470.5,307.8 470.2,308.2 469.8,308.6 469.3,309.0 468.7,309.4 468.2,309.7 467.8,309.9 467.0,310.1 466.6,310.2 465.8,310.4 465.1,310.6 464.6,310.7 463.8,311.0 463.4,311.1 462.6,311.4 462.2,311.5 461.4,311.8 461.0,312.0 460.4,312.2 459.8,312.5 459.4,312.6 458.6,313.0 458.2,313.2 457.8,313.5 457.2,313.8 456.6,314.2 456.2,314.5 455.8,314.8 455.4,315.1 455.0,315.4 454.6,315.8 454.2,316.2 453.8,316.8 453.4,317.4 453.3,317.8 453.0,318.6 453.0,319.4 453.0,319.8 453.2,320.6 453.4,321.2 453.7,321.8 454.0,322.2 454.3,322.6 454.6,323.0 455.1,323.4 455.6,323.8 456.2,324.1 456.6,324.3 457.3,324.6 457.8,324.7 458.6,324.9 459.2,325.0 459.8,325.0 460.6,325.0 461.0,325.0 461.8,324.8 462.3,324.6 463.0,324.3 463.4,324.1 464.1,323.8 464.6,323.5 465.0,323.3 465.5,323.0 466.1,322.6 466.6,322.2 467.0,321.9 467.4,321.7 467.8,321.4 468.6,321.0 469.0,320.8 469.8,320.6 470.6,320.7 471.4,321.0 471.8,321.2 472.2,321.5 472.6,321.9 473.0,322.4 473.4,322.9 473.8,323.4 474.0,323.8 474.3,324.2 474.6,324.7 475.0,325.4 475.2,325.8 475.4,326.3 475.7,327.0 475.9,327.4 476.2,328.2 476.4,328.6 476.6,329.3 476.8,329.8 477.0,330.5 477.2,331.0 477.4,331.8 477.5,332.2 477.7,333.0 477.8,333.4 478.0,334.2 478.1,335.0 478.2,335.4 478.4,336.2 478.5,337.0 478.6,337.8 478.6,338.2 478.7,339.0 478.8,339.8 478.8,340.6 478.9,341.4 478.9,342.2 478.9,343.0 478.9,343.8 478.8,344.6 478.8,345.4 478.7,346.2 478.7,347.0 478.6,347.7 478.5,348.2 478.4,349.0 478.3,349.8 478.2,350.5 478.1,351.0 478.0,351.8 477.9,352.6 477.8,353.0 477.7,353.8 477.6,354.6 477.5,355.4 477.4,356.2 477.4,357.0 477.4,357.8 477.5,358.6 477.6,359.4 477.7,360.2 477.8,361.0 477.8,361.4 478.0,362.2 478.1,363.0 478.2,363.7 478.3,364.2 478.4,365.0 478.5,365.8 478.6,366.2 478.8,367.0 478.9,367.8 479.0,368.6 479.0,369.0 479.1,369.8 479.1,370.6 479.1,371.4 479.1,372.2 479.1,373.0 479.1,373.8 479.0,374.6 479.0,375.0 478.9,375.8 478.8,376.6 478.7,377.4 478.6,377.8 478.4,378.6 478.3,379.4 478.2,380.2 478.2,380.6 478.1,381.4 478.0,382.2 478.0,383.0 478.0,383.8 477.9,384.6 477.8,385.0 477.6,385.8 477.4,386.2 477.0,386.9 476.6,387.4 476.3,387.8 475.8,388.2 475.4,388.6 475.0,388.9 474.6,389.2 474.2,389.5 473.7,389.8 473.0,390.2 472.6,390.4 472.2,390.6 471.4,391.0 471.0,391.1 470.3,391.4 469.8,391.6 469.2,391.8 468.6,392.0 467.9,392.2 467.4,392.3 466.6,392.5 466.0,392.6 465.4,392.7 464.6,392.8 463.8,392.9 463.0,392.9 462.2,392.9 461.4,393.0 460.6,393.0 459.8,393.0 459.0,392.9 458.2,392.9 457.4,392.9 456.6,392.9 455.8,392.9 455.0,392.9 454.2,392.9 453.4,392.9 452.6,392.9 451.8,392.9 451.0,392.9 450.2,393.0 449.5,393.0Z M451.8,392.2 451.0,392.3 450.2,392.3 449.4,392.3 448.6,392.4 447.8,392.4 447.0,392.4 446.2,392.5 445.4,392.5 444.6,392.5 443.8,392.5 443.0,392.5 442.2,392.5 441.4,392.5 440.6,392.5 439.8,392.5 439.0,392.5 438.2,392.5 437.4,392.5 436.6,392.5 435.8,392.4 435.0,392.4 434.2,392.4 433.4,392.3 432.6,392.3 431.8,392.2 431.4,392.2 430.6,392.1 429.8,392.0 429.0,392.0 428.2,391.9 427.4,391.8 427.0,391.8 426.2,391.7 425.4,391.6 424.6,391.6 423.8,391.5 423.0,391.5 422.2,391.4 421.4,391.4 420.6,391.5 419.8,391.5 419.0,391.6 418.2,391.7 417.6,391.8 417.0,391.9 416.2,392.0 415.4,392.0 414.6,392.0 413.8,391.9 413.1,391.8 412.6,391.7 411.8,391.4 411.4,391.2 410.9,391.0 410.2,390.6 409.8,390.4 409.4,390.1 409.0,389.8 408.5,389.4 408.0,389.0 407.6,388.6 407.3,388.2 407.0,387.8 406.6,387.2 406.3,386.6 406.1,386.2 405.9,385.4 405.9,384.6 405.9,383.8 406.0,383.0 406.1,382.2 406.2,381.4 406.2,381.0 406.2,380.2 406.2,379.4 406.2,379.0 406.1,378.2 406.1,377.4 406.1,376.6 406.0,375.8 406.0,375.0 406.0,374.2 406.0,373.4 406.0,372.6 406.1,371.8 406.2,371.0 406.2,370.6 406.3,369.8 406.5,369.0 406.6,368.3 406.7,367.8 406.9,367.0 407.0,366.6 407.3,365.8 407.4,365.4 407.7,364.6 407.8,364.2 408.2,363.4 408.4,363.0 408.6,362.5 409.0,361.8 409.2,361.4 409.5,361.0 409.8,360.5 410.2,360.0 410.6,359.6 411.0,359.2 411.4,358.8 411.8,358.5 412.3,358.2 413.0,357.9 413.4,357.8 414.2,357.7 415.0,357.7 415.4,357.8 416.2,358.0 416.9,358.2 417.4,358.4 418.1,358.6 418.6,358.8 419.4,359.0 419.8,359.1 420.6,359.2 421.4,359.2 422.2,359.0 422.6,358.9 423.4,358.6 423.8,358.4 424.2,358.2 424.9,357.8 425.4,357.5 425.8,357.2 426.2,357.0 426.9,356.6 427.4,356.3 427.8,356.0 428.2,355.8 428.8,355.4 429.4,355.0 429.8,354.8 430.2,354.5 430.7,354.2 431.2,353.8 431.7,353.4 432.2,353.0 432.6,352.6 433.0,352.3 433.4,351.9 433.8,351.4 434.1,351.0 434.3,350.6 434.5,349.8 434.6,349.0 434.5,348.2 434.3,347.4 434.1,347.0 433.8,346.4 433.4,345.8 433.0,345.4 432.7,345.0 432.3,344.6 431.9,344.2 431.4,343.8 431.0,343.4 430.6,343.1 430.2,342.8 429.8,342.5 429.4,342.2 428.9,341.8 428.4,341.4 427.9,341.0 427.4,340.6 427.0,340.3 426.6,339.9 426.2,339.6 425.8,339.2 425.4,338.8 425.0,338.5 424.6,338.1 424.2,337.8 423.8,337.4 423.3,337.0 422.8,336.6 422.4,336.2 421.9,335.8 421.4,335.4 421.0,335.1 420.6,334.8 420.2,334.5 419.8,334.2 419.3,333.8 418.6,333.4 418.2,333.2 417.8,332.9 417.1,332.6 416.6,332.4 416.2,332.2 415.5,331.8 415.1,331.4 414.7,331.0 414.4,330.6 414.2,330.2 413.8,329.6 413.4,329.0 413.3,328.6 413.0,327.9 412.8,327.4 412.6,326.6 412.5,326.2 412.3,325.4 412.2,324.8 412.1,324.2 411.9,323.4 411.8,322.7 411.7,322.2 411.6,321.4 411.5,320.6 411.4,319.8 411.4,319.4 411.3,318.6 411.3,317.8 411.2,317.0 411.1,316.2 411.0,315.6 410.9,315.0 410.8,314.2 410.8,313.4 410.7,312.6 410.6,311.8 410.6,311.4 410.5,310.6 410.5,309.8 410.4,309.0 410.3,308.2 410.3,307.4 410.2,306.6 410.2,305.9 410.2,305.4 410.2,304.6 410.2,303.8 410.2,303.4 410.3,302.6 410.3,301.8 410.4,301.0 410.5,300.2 410.6,299.4 410.7,299.0 410.8,298.2 411.0,297.4 411.0,297.0 411.3,296.2 411.4,295.7 411.6,295.0 411.8,294.6 412.1,293.8 412.3,293.4 412.6,292.7 412.8,292.2 413.0,291.7 413.3,291.0 413.4,290.5 413.6,289.8 413.8,289.1 413.9,288.6 414.1,287.8 414.3,287.4 414.6,286.6 414.9,286.2 415.2,285.8 415.5,285.4 415.9,285.0 416.5,284.6 417.0,284.3 417.4,284.0 417.9,283.8 418.6,283.5 419.0,283.3 419.8,283.1 420.2,283.0 421.0,282.8 421.7,282.6 422.2,282.5 423.0,282.3 423.8,282.2 424.2,282.1 425.0,282.0 425.8,281.9 426.2,281.8 427.0,281.7 427.8,281.5 428.6,281.4 429.0,281.4 429.8,281.2 430.6,281.1 431.4,281.0 431.8,281.0 432.6,280.9 433.4,280.8 434.2,280.7 435.0,280.6 435.4,280.6 436.2,280.5 437.0,280.5 437.8,280.4 438.6,280.4 439.4,280.4 440.2,280.4 441.0,280.3 441.8,280.3 442.6,280.4 443.4,280.4 444.2,280.4 445.0,280.4 445.8,280.4 446.6,280.5 447.4,280.5 448.2,280.6 448.6,280.6 449.4,280.7 450.2,280.7 451.0,280.8 451.8,280.9 452.3,281.0 453.0,281.1 453.8,281.2 454.6,281.3 455.0,281.4 455.8,281.5 456.6,281.7 457.1,281.8 457.8,282.0 458.6,282.1 459.0,282.2 459.8,282.5 460.2,282.6 461.0,282.8 461.4,283.0 462.2,283.3 462.6,283.4 463.4,283.8 463.8,284.0 464.2,284.2 464.7,284.6 465.3,285.0 465.7,285.4 466.0,285.8 466.2,286.2 466.4,287.0 466.3,287.8 466.2,288.2 465.8,289.0 465.6,289.4 465.3,289.8 465.0,290.5 464.8,291.0 464.7,291.8 464.9,292.6 465.0,293.0 465.4,293.7 465.7,294.2 465.9,294.6 466.2,295.2 466.5,295.8 466.6,296.2 466.9,297.0 467.0,297.4 467.2,298.2 467.4,299.0 467.4,299.8 467.4,300.6 467.3,301.4 467.1,302.2 466.9,302.6 466.6,303.2 466.2,303.8 465.9,304.2 465.6,304.6 465.3,305.0 464.9,305.4 464.5,305.8 464.0,306.2 463.6,306.6 463.1,307.0 462.6,307.4 462.2,307.6 461.8,307.9 461.3,308.2 460.7,308.6 460.2,308.9 459.8,309.1 459.4,309.4 458.7,309.8 458.2,310.1 457.8,310.3 457.3,310.6 456.6,311.0 456.2,311.2 455.8,311.4 455.1,311.8 454.6,312.1 454.2,312.3 453.7,312.6 453.0,313.0 452.6,313.2 452.2,313.4 451.6,313.8 451.0,314.2 450.6,314.4 450.2,314.7 449.8,315.0 449.3,315.4 448.8,315.8 448.3,316.2 447.9,316.6 447.6,317.0 447.3,317.4 447.0,318.1 446.9,318.6 446.8,319.4 446.9,320.2 447.0,320.9 447.2,321.4 447.4,322.0 447.7,322.6 447.9,323.0 448.2,323.4 448.6,323.9 449.0,324.4 449.4,324.8 449.8,325.2 450.2,325.5 450.6,325.9 451.0,326.2 451.5,326.6 452.1,327.0 452.6,327.4 453.0,327.6 453.4,327.9 453.8,328.2 454.5,328.6 455.0,328.8 455.4,329.0 456.2,329.3 456.6,329.4 457.4,329.7 457.8,329.8 458.6,330.0 459.4,330.1 460.2,330.1 461.0,330.0 461.8,329.9 462.5,329.8 463.0,329.7 463.8,329.4 464.2,329.3 465.0,329.0 465.4,328.9 466.1,328.6 466.6,328.4 467.2,328.2 467.8,328.0 468.6,328.0 469.4,328.0 470.2,328.2 470.6,328.3 471.2,328.6 471.8,329.0 472.2,329.4 472.6,329.8 472.9,330.2 473.2,330.6 473.4,331.0 473.8,331.7 474.1,332.2 474.3,332.6 474.6,333.3 474.8,333.8 475.0,334.5 475.1,335.0 475.3,335.8 475.4,336.2 475.6,337.0 475.8,337.8 475.8,338.2 475.9,339.0 476.1,339.8 476.1,340.6 476.2,341.4 476.2,342.2 476.2,343.0 476.1,343.8 476.1,344.6 476.0,345.4 476.0,346.2 475.9,347.0 475.8,347.8 475.8,348.2 475.6,349.0 475.5,349.8 475.4,350.3 475.3,351.0 475.2,351.8 475.0,352.6 475.0,353.0 474.9,353.8 474.8,354.6 474.8,355.4 474.8,356.2 474.9,357.0 475.0,357.8 475.0,358.2 475.2,359.0 475.4,359.8 475.5,360.2 475.7,361.0 475.8,361.5 476.0,362.2 476.2,363.0 476.3,363.4 476.5,364.2 476.6,364.7 476.8,365.4 477.0,366.2 477.0,366.6 477.2,367.4 477.4,368.2 477.4,368.6 477.5,369.4 477.6,370.2 477.7,371.0 477.7,371.8 477.7,372.6 477.7,373.4 477.6,374.2 477.5,375.0 477.5,375.8 477.4,376.3 477.3,377.0 477.2,377.8 477.0,378.6 476.9,379.0 476.8,379.8 476.7,380.6 476.6,381.2 476.5,381.8 476.5,382.6 476.4,383.4 476.3,384.2 476.2,384.9 476.1,385.4 475.8,386.0 475.5,386.6 475.2,387.0 474.8,387.4 474.5,387.8 474.0,388.2 473.5,388.6 473.0,388.9 472.6,389.2 472.2,389.4 471.4,389.8 471.0,390.0 470.6,390.2 469.8,390.5 469.4,390.7 468.6,391.0 468.2,391.1 467.4,391.3 467.0,391.4 466.2,391.6 465.4,391.7 464.7,391.8 464.2,391.9 463.4,391.9 462.6,392.0 461.8,392.0 461.0,392.1 460.2,392.1 459.4,392.1 458.6,392.1 457.8,392.1 457.0,392.1 456.2,392.1 455.4,392.1 454.6,392.1 453.8,392.1 453.0,392.2 452.2,392.2 451.8,392.2Z M449.8,391.8 449.0,391.9 448.2,391.9 447.4,391.9 446.6,392.0 445.8,392.0 445.0,392.0 444.2,392.0 443.4,392.1 442.6,392.1 441.8,392.1 441.0,392.1 440.2,392.1 439.4,392.1 438.6,392.1 437.8,392.0 437.0,392.0 436.2,392.0 435.4,392.0 434.6,391.9 433.8,391.9 433.0,391.8 432.4,391.8 431.8,391.8 431.0,391.7 430.2,391.6 429.4,391.5 428.6,391.5 427.9,391.4 427.4,391.3 426.6,391.3 425.8,391.2 425.0,391.1 424.2,391.0 423.8,391.0 423.0,390.9 422.2,390.9 421.4,390.9 420.6,390.9 419.8,391.0 419.2,391.0 418.6,391.1 417.8,391.1 417.0,391.2 416.2,391.3 415.4,391.3 414.6,391.3 413.8,391.2 413.0,391.0 412.6,390.9 411.8,390.6 411.4,390.4 410.9,390.2 410.2,389.8 409.8,389.5 409.4,389.2 409.0,388.9 408.6,388.5 408.2,388.1 407.8,387.6 407.4,387.0 407.2,386.6 407.0,385.9 406.9,385.4 406.8,384.6 406.8,383.8 406.8,383.0 406.9,382.2 407.0,381.4 407.0,380.6 407.0,379.8 406.9,379.0 406.9,378.2 406.8,377.4 406.8,376.6 406.7,375.8 406.7,375.0 406.7,374.2 406.7,373.4 406.8,372.6 406.8,371.8 406.9,371.0 407.0,370.5 407.1,369.8 407.3,369.0 407.4,368.4 407.5,367.8 407.8,367.0 407.9,366.6 408.2,365.8 408.3,365.4 408.6,364.8 408.9,364.2 409.1,363.8 409.4,363.2 409.8,362.6 410.1,362.2 410.4,361.8 410.8,361.4 411.2,361.0 411.6,360.6 412.2,360.2 412.6,360.0 413.0,359.8 413.8,359.6 414.6,359.5 415.4,359.6 416.2,359.7 416.6,359.9 417.4,360.1 417.8,360.3 418.6,360.5 419.0,360.7 419.8,360.9 420.6,361.0 421.0,361.0 421.4,361.0 422.2,360.8 422.9,360.6 423.4,360.4 423.9,360.2 424.6,359.8 425.0,359.6 425.4,359.3 426.0,359.0 426.6,358.6 427.0,358.4 427.4,358.2 428.1,357.8 428.6,357.5 429.0,357.3 429.6,357.0 430.2,356.7 430.6,356.5 431.1,356.2 431.8,355.9 432.2,355.7 432.7,355.4 433.4,355.0 433.8,354.8 434.2,354.6 435.0,354.2 435.4,354.0 435.8,353.8 436.5,353.4 437.0,353.1 437.4,352.8 437.8,352.6 438.3,352.2 438.8,351.8 439.2,351.4 439.6,351.0 439.8,350.6 440.2,349.8 440.3,349.4 440.5,348.6 440.6,347.8 440.5,347.0 440.2,346.2 440.0,345.8 439.8,345.4 439.4,344.9 439.0,344.4 438.6,344.0 438.2,343.5 437.8,343.0 437.4,342.6 437.0,342.2 436.5,341.8 435.9,341.4 435.4,341.0 435.0,340.8 434.6,340.5 434.1,340.2 433.4,339.8 433.0,339.5 432.6,339.3 432.1,339.0 431.5,338.6 431.0,338.2 430.6,337.9 430.2,337.6 429.8,337.3 429.4,337.0 428.9,336.6 428.4,336.2 428.0,335.8 427.5,335.4 427.1,335.0 426.7,334.6 426.3,334.2 426.0,333.8 425.6,333.4 425.3,333.0 425.0,332.6 424.6,332.2 424.2,331.7 423.8,331.3 423.4,331.0 422.9,330.6 422.5,330.2 422.1,329.8 421.7,329.4 421.3,329.0 420.9,328.6 420.5,328.2 420.0,327.8 419.6,327.4 419.1,327.0 418.6,326.7 418.2,326.4 417.8,326.1 417.4,325.8 416.9,325.4 416.5,325.0 416.1,324.6 415.8,324.2 415.4,323.7 415.0,323.1 414.7,322.6 414.5,322.2 414.2,321.4 414.1,321.0 413.8,320.2 413.7,319.8 413.5,319.0 413.4,318.6 413.2,317.8 413.0,317.2 412.8,316.6 412.6,315.8 412.5,315.4 412.4,314.6 412.2,313.8 412.1,313.4 412.0,312.6 411.9,311.8 411.8,311.0 411.8,310.6 411.7,309.8 411.6,309.0 411.5,308.2 411.5,307.4 411.4,306.6 411.4,306.2 411.3,305.4 411.3,304.6 411.3,303.8 411.4,303.0 411.4,302.6 411.5,301.8 411.6,301.0 411.7,300.2 411.8,299.4 411.8,299.0 412.0,298.2 412.2,297.4 412.3,297.0 412.5,296.2 412.7,295.8 413.0,295.0 413.2,294.6 413.4,294.1 413.8,293.4 414.0,293.0 414.2,292.5 414.6,291.8 414.7,291.4 415.0,290.8 415.2,290.2 415.4,289.6 415.6,289.0 415.8,288.2 415.9,287.8 416.2,287.0 416.4,286.6 416.7,286.2 417.1,285.8 417.5,285.4 418.0,285.0 418.6,284.6 419.0,284.4 419.5,284.2 420.2,283.9 420.6,283.8 421.4,283.5 421.8,283.4 422.6,283.2 423.4,283.0 423.8,282.9 424.6,282.8 425.4,282.6 425.8,282.5 426.6,282.4 427.4,282.2 427.8,282.2 428.6,282.0 429.4,281.9 429.9,281.8 430.6,281.7 431.4,281.6 432.2,281.5 432.7,281.4 433.4,281.3 434.2,281.2 435.0,281.1 435.8,281.1 436.6,281.0 437.0,281.0 437.8,281.0 438.6,280.9 439.4,280.9 440.2,280.9 441.0,280.9 441.8,280.9 442.6,280.9 443.4,280.9 444.2,280.9 445.0,280.9 445.8,281.0 446.6,281.0 447.0,281.0 447.8,281.1 448.6,281.1 449.4,281.2 450.2,281.3 451.0,281.4 451.4,281.4 452.2,281.5 453.0,281.6 453.8,281.8 454.2,281.8 455.0,282.0 455.8,282.1 456.2,282.2 457.0,282.4 457.8,282.6 458.2,282.7 459.0,282.9 459.4,283.1 460.2,283.4 460.6,283.5 461.3,283.8 461.8,284.1 462.2,284.3 462.7,284.6 463.3,285.0 463.7,285.4 464.0,285.8 464.2,286.2 464.4,287.0 464.2,287.8 464.0,288.2 463.8,288.6 463.4,289.1 463.0,289.7 462.7,290.2 462.4,290.6 462.2,291.3 462.1,291.8 462.2,292.4 462.4,293.0 462.6,293.5 463.0,294.2 463.2,294.6 463.4,295.1 463.7,295.8 463.9,296.2 464.1,297.0 464.3,297.4 464.4,298.2 464.5,299.0 464.6,299.8 464.5,300.6 464.3,301.4 464.1,301.8 463.8,302.6 463.6,303.0 463.4,303.4 463.0,304.0 462.6,304.5 462.2,305.0 461.8,305.4 461.4,305.8 461.0,306.1 460.6,306.5 460.2,306.8 459.8,307.1 459.3,307.4 458.8,307.8 458.2,308.2 457.8,308.5 457.4,308.7 457.0,309.0 456.3,309.4 455.8,309.7 455.4,309.9 454.8,310.2 454.2,310.5 453.8,310.8 453.3,311.0 452.6,311.4 452.2,311.5 451.6,311.8 451.0,312.0 450.6,312.2 449.8,312.5 449.4,312.7 448.7,313.0 448.2,313.2 447.8,313.4 447.0,313.7 446.6,313.9 445.9,314.2 445.4,314.5 445.0,314.7 444.5,315.0 443.9,315.4 443.4,315.8 443.0,316.2 442.6,316.6 442.2,317.0 441.9,317.4 441.7,317.8 441.4,318.6 441.3,319.0 441.2,319.8 441.2,320.6 441.4,321.2 441.7,321.8 441.9,322.2 442.2,322.7 442.6,323.3 442.9,323.8 443.2,324.2 443.5,324.6 443.8,325.0 444.2,325.5 444.6,326.0 445.0,326.4 445.4,326.9 445.8,327.4 446.1,327.8 446.5,328.2 446.9,328.6 447.4,329.0 447.8,329.3 448.2,329.7 448.6,330.0 449.0,330.2 449.5,330.6 450.2,331.0 450.6,331.2 451.0,331.5 451.7,331.8 452.2,332.0 452.6,332.2 453.4,332.5 453.8,332.6 454.6,332.8 455.2,333.0 455.8,333.2 456.6,333.4 457.0,333.5 457.8,333.6 458.6,333.8 459.0,333.8 459.8,333.9 460.6,333.9 461.3,333.8 461.8,333.7 462.6,333.6 463.4,333.5 464.0,333.4 464.6,333.3 465.4,333.2 466.2,333.2 467.0,333.1 467.8,333.2 468.6,333.3 469.0,333.4 469.8,333.8 470.2,334.0 470.6,334.3 471.0,334.7 471.4,335.2 471.8,335.7 472.1,336.2 472.4,336.6 472.6,337.1 472.9,337.8 473.0,338.2 473.2,339.0 473.4,339.8 473.4,340.2 473.5,341.0 473.5,341.8 473.4,342.6 473.4,343.4 473.4,344.0 473.4,344.6 473.4,345.4 473.3,346.2 473.3,347.0 473.1,347.8 473.0,348.2 472.8,349.0 472.6,349.6 472.5,350.2 472.4,351.0 472.3,351.8 472.2,352.6 472.2,353.2 472.2,353.8 472.2,354.6 472.2,355.0 472.3,355.8 472.5,356.6 472.6,357.0 472.9,357.8 473.0,358.2 473.3,359.0 473.4,359.4 473.7,360.2 473.9,360.6 474.2,361.4 474.3,361.8 474.6,362.6 474.7,363.0 475.0,363.8 475.1,364.2 475.4,365.0 475.5,365.4 475.7,366.2 475.8,366.6 476.0,367.4 476.2,368.2 476.3,368.6 476.4,369.4 476.5,370.2 476.6,371.0 476.6,371.8 476.6,372.2 476.6,372.7 476.6,373.4 476.5,374.2 476.5,375.0 476.4,375.8 476.3,376.6 476.2,377.2 476.1,377.8 475.9,378.6 475.8,379.3 475.7,379.8 475.6,380.6 475.5,381.4 475.4,381.9 475.3,382.6 475.3,383.4 475.2,384.2 475.0,384.9 474.8,385.4 474.6,385.9 474.2,386.6 473.9,387.0 473.5,387.4 473.1,387.8 472.6,388.2 472.2,388.5 471.8,388.7 471.3,389.0 470.6,389.4 470.2,389.5 469.6,389.8 469.0,390.0 468.6,390.2 467.8,390.4 467.2,390.6 466.6,390.8 465.8,390.9 465.3,391.0 464.6,391.1 463.8,391.2 463.0,391.3 462.2,391.4 461.7,391.4 461.0,391.4 460.2,391.5 459.4,391.5 458.6,391.5 457.8,391.5 457.0,391.5 456.2,391.6 455.4,391.6 454.6,391.6 453.8,391.6 453.0,391.7 452.2,391.7 451.4,391.7 450.6,391.8 450.1,391.8Z M451.4,391.4 450.6,391.5 449.8,391.5 449.0,391.6 448.2,391.6 447.4,391.6 446.6,391.7 445.8,391.7 445.0,391.7 444.2,391.7 443.4,391.8 442.6,391.8 441.8,391.8 441.0,391.8 440.2,391.8 439.4,391.8 438.6,391.8 437.8,391.8 437.0,391.7 436.2,391.7 435.4,391.7 434.6,391.7 433.8,391.6 433.0,391.6 432.2,391.5 431.4,391.4 431.0,391.4 430.2,391.3 429.4,391.2 428.6,391.2 427.8,391.1 427.0,391.0 426.6,391.0 425.8,390.9 425.0,390.8 424.2,390.7 423.4,390.6 423.0,390.6 422.2,390.6 421.4,390.5 420.6,390.5 419.8,390.6 419.4,390.6 418.6,390.7 417.8,390.7 417.0,390.8 416.2,390.8 415.4,390.9 414.6,390.8 413.8,390.7 413.3,390.6 412.6,390.4 412.0,390.2 411.4,389.9 411.0,389.7 410.5,389.4 409.9,389.0 409.4,388.6 409.0,388.2 408.6,387.8 408.3,387.4 408.1,387.0 407.8,386.5 407.6,385.8 407.4,385.0 407.4,384.6 407.4,383.8 407.4,383.0 407.4,382.6 407.4,381.8 407.5,381.0 407.4,380.2 407.4,379.4 407.4,379.0 407.3,378.2 407.3,377.4 407.2,376.6 407.2,375.8 407.2,375.0 407.2,374.2 407.2,373.4 407.2,372.6 407.3,371.8 407.4,371.1 407.5,370.6 407.6,369.8 407.8,369.0 407.9,368.6 408.1,367.8 408.2,367.4 408.5,366.6 408.6,366.2 409.0,365.4 409.2,365.0 409.4,364.6 409.8,363.9 410.1,363.4 410.4,363.0 410.7,362.6 411.1,362.2 411.6,361.8 412.1,361.4 412.6,361.1 413.0,360.9 413.8,360.7 414.3,360.6 415.0,360.6 415.4,360.6 416.2,360.8 416.9,361.0 417.4,361.2 418.0,361.4 418.6,361.6 419.1,361.8 419.8,362.0 420.6,362.2 421.4,362.2 422.2,362.0 422.8,361.8 423.4,361.5 423.8,361.4 424.5,361.0 425.0,360.7 425.4,360.4 425.8,360.2 426.4,359.8 427.0,359.5 427.4,359.2 427.8,359.0 428.6,358.6 429.0,358.4 429.4,358.1 430.1,357.8 430.6,357.5 431.0,357.4 431.8,357.0 432.2,356.8 432.7,356.6 433.4,356.3 433.8,356.1 434.5,355.8 435.0,355.6 435.5,355.4 436.2,355.1 436.6,355.0 437.4,354.6 437.8,354.5 438.5,354.2 439.0,354.0 439.4,353.8 440.2,353.4 440.6,353.2 441.1,353.0 441.7,352.6 442.2,352.2 442.6,351.9 443.0,351.5 443.4,351.0 443.7,350.6 444.0,350.2 444.2,349.8 444.6,349.0 444.7,348.6 444.9,347.8 445.0,347.1 445.0,346.6 444.9,345.8 444.7,345.0 444.5,344.6 444.2,343.9 443.9,343.4 443.6,343.0 443.4,342.6 443.0,342.0 442.6,341.4 442.3,341.0 441.9,340.6 441.5,340.2 441.1,339.8 440.6,339.4 440.2,339.1 439.8,338.8 439.4,338.6 438.8,338.2 438.2,337.8 437.8,337.6 437.4,337.3 436.8,337.0 436.2,336.7 435.8,336.6 435.0,336.3 434.6,336.1 434.0,335.8 433.4,335.4 433.0,335.2 432.6,334.9 432.2,334.6 431.7,334.2 431.3,333.8 430.8,333.4 430.3,333.0 429.8,332.6 429.4,332.3 429.0,331.9 428.6,331.5 428.3,331.0 428.1,330.6 427.8,330.0 427.6,329.4 427.4,328.9 427.1,328.2 427.0,327.8 426.7,327.0 426.6,326.6 426.3,325.8 426.1,325.4 425.6,325.0 425.0,324.8 424.2,324.6 423.8,324.6 423.0,324.4 422.2,324.2 421.8,324.1 421.0,323.9 420.6,323.7 419.8,323.5 419.4,323.3 418.6,323.0 418.2,322.8 417.8,322.5 417.3,322.2 416.9,321.8 416.5,321.4 416.1,321.0 415.8,320.5 415.4,319.8 415.2,319.4 415.0,318.9 414.7,318.2 414.5,317.8 414.2,317.0 414.1,316.6 413.8,315.9 413.6,315.4 413.4,314.7 413.3,314.2 413.1,313.4 413.0,313.0 412.8,312.2 412.7,311.4 412.6,310.6 412.6,310.2 412.5,309.4 412.4,308.6 412.3,307.8 412.2,307.0 412.2,306.6 412.1,305.8 412.1,305.0 412.1,304.2 412.1,303.4 412.2,302.6 412.2,302.2 412.3,301.4 412.4,300.6 412.5,299.8 412.6,299.1 412.7,298.6 412.9,297.8 413.0,297.4 413.2,296.6 413.4,296.1 413.7,295.4 413.9,295.0 414.2,294.4 414.6,293.8 414.8,293.4 415.0,293.0 415.4,292.4 415.7,291.8 415.9,291.4 416.2,290.8 416.5,290.2 416.6,289.8 416.8,289.0 417.0,288.3 417.1,287.8 417.4,287.2 417.8,286.6 418.1,286.2 418.5,285.8 418.9,285.4 419.4,285.1 419.8,284.9 420.3,284.6 421.0,284.3 421.4,284.2 422.2,283.9 422.6,283.8 423.4,283.6 424.0,283.4 424.6,283.3 425.4,283.1 425.8,283.0 426.6,282.8 427.4,282.6 427.8,282.6 428.6,282.4 429.4,282.3 429.8,282.2 430.6,282.0 431.4,281.9 432.2,281.8 432.6,281.8 433.4,281.6 434.2,281.6 435.0,281.5 435.8,281.4 436.2,281.4 437.0,281.3 437.8,281.3 438.6,281.2 439.4,281.2 440.2,281.2 441.0,281.2 441.8,281.2 442.6,281.2 443.4,281.2 444.2,281.2 445.0,281.2 445.8,281.3 446.6,281.3 447.4,281.4 448.1,281.4 448.6,281.4 449.4,281.5 450.2,281.6 451.0,281.7 451.7,281.8 452.2,281.9 453.0,282.0 453.8,282.1 454.2,282.2 455.0,282.4 455.8,282.5 456.2,282.6 457.0,282.8 457.6,283.0 458.2,283.2 458.9,283.4 459.4,283.6 459.9,283.8 460.6,284.1 461.0,284.3 461.4,284.6 462.0,285.0 462.4,285.4 462.8,285.8 463.0,286.3 463.1,287.0 463.0,287.5 462.7,288.2 462.4,288.6 462.1,289.0 461.8,289.4 461.4,289.9 461.0,290.5 460.8,291.0 460.7,291.8 460.8,292.6 461.0,293.1 461.3,293.8 461.6,294.2 461.8,294.7 462.2,295.4 462.3,295.8 462.6,296.5 462.7,297.0 462.9,297.8 463.0,298.2 463.1,299.0 463.1,299.8 463.0,300.6 462.9,301.0 462.7,301.8 462.6,302.2 462.2,303.0 462.0,303.4 461.7,303.8 461.4,304.2 461.0,304.7 460.6,305.1 460.2,305.5 459.8,305.8 459.3,306.2 458.8,306.6 458.3,307.0 457.8,307.4 457.4,307.7 457.0,307.9 456.6,308.2 455.9,308.6 455.4,308.9 455.0,309.1 454.5,309.4 453.8,309.8 453.4,310.0 453.0,310.2 452.2,310.6 451.8,310.7 451.1,311.0 450.6,311.2 450.0,311.4 449.4,311.6 448.8,311.8 448.2,312.0 447.6,312.2 447.0,312.4 446.3,312.6 445.8,312.8 445.0,313.0 444.6,313.1 443.8,313.4 443.4,313.6 442.7,313.8 442.2,314.0 441.5,314.2 441.0,314.4 440.3,314.6 439.8,314.8 439.0,314.9 438.6,315.0 437.8,315.1 437.0,315.2 436.2,315.3 435.7,315.4 435.0,315.6 434.2,315.7 433.4,315.7 432.6,315.6 431.8,315.6 431.2,315.8 430.6,316.2 430.2,316.5 429.8,316.9 429.4,317.3 429.0,317.8 428.8,318.2 428.7,319.0 429.0,319.7 429.4,320.1 429.8,320.3 430.6,320.5 431.4,320.5 432.2,320.4 433.0,320.3 433.8,320.6 434.2,320.9 434.6,321.2 435.0,321.5 435.4,321.8 435.8,322.2 436.3,322.6 436.6,323.0 437.0,323.5 437.4,324.0 437.8,324.5 438.2,324.9 438.6,325.3 439.0,325.7 439.4,326.2 439.7,326.6 440.0,327.0 440.3,327.4 440.7,327.8 441.1,328.2 441.4,328.6 441.8,329.0 442.2,329.4 442.6,329.8 443.0,330.2 443.4,330.6 443.8,331.0 444.2,331.4 444.7,331.8 445.2,332.2 445.8,332.6 446.2,332.8 446.6,333.0 447.2,333.4 447.8,333.8 448.2,334.0 448.6,334.3 449.1,334.6 449.8,335.0 450.2,335.2 450.6,335.4 451.4,335.7 451.9,335.8 452.6,336.0 453.2,336.2 453.8,336.4 454.5,336.6 455.0,336.7 455.8,336.9 456.6,337.0 457.0,337.0 457.8,337.2 458.6,337.3 459.1,337.4 459.8,337.5 460.6,337.4 461.0,337.4 461.8,337.2 462.6,337.0 463.0,336.9 463.8,336.8 464.6,336.8 465.4,336.7 466.2,336.7 467.0,336.7 467.8,336.9 468.2,337.0 468.8,337.4 469.3,337.8 469.6,338.2 469.9,338.6 470.2,339.1 470.5,339.8 470.6,340.2 470.8,341.0 470.9,341.8 470.9,342.6 470.9,343.4 470.9,344.2 470.9,345.0 470.9,345.8 470.8,346.6 470.6,347.4 470.5,347.8 470.3,348.6 470.2,349.2 470.1,349.8 469.9,350.6 469.8,351.4 469.8,351.8 469.8,352.6 469.8,353.0 470.0,353.8 470.2,354.6 470.3,355.0 470.5,355.8 470.6,356.2 470.9,357.0 471.1,357.4 471.4,358.1 471.6,358.6 471.8,359.0 472.2,359.7 472.5,360.2 472.7,360.6 473.0,361.3 473.2,361.8 473.4,362.2 473.7,363.0 473.9,363.4 474.2,364.2 474.4,364.6 474.6,365.3 474.8,365.8 475.0,366.6 475.1,367.0 475.3,367.8 475.4,368.2 475.6,369.0 475.7,369.8 475.8,370.3 475.9,371.0 475.9,371.8 475.9,372.6 475.9,373.4 475.8,374.2 475.8,374.8 475.8,375.4 475.7,376.2 475.5,377.0 475.4,377.8 475.3,378.2 475.2,379.0 475.0,379.7 474.9,380.2 474.8,381.0 474.7,381.8 474.6,382.6 474.6,383.0 474.5,383.8 474.3,384.6 474.2,385.0 473.9,385.8 473.6,386.2 473.3,386.6 473.0,387.0 472.6,387.4 472.1,387.8 471.6,388.2 471.0,388.6 470.6,388.8 470.2,389.0 469.4,389.4 469.0,389.5 468.3,389.8 467.8,390.0 467.0,390.2 466.6,390.3 465.8,390.5 465.0,390.6 464.6,390.7 463.8,390.8 463.0,390.9 462.2,391.0 461.6,391.0 461.0,391.0 460.2,391.1 459.4,391.1 458.6,391.2 457.8,391.2 457.0,391.2 456.2,391.2 455.4,391.2 454.6,391.2 453.8,391.3 453.0,391.3 452.2,391.4 451.7,391.4Z M422.2,321.9 421.4,321.9 420.6,321.9 420.2,321.8 419.4,321.6 418.9,321.4 418.2,321.0 417.8,320.8 417.4,320.4 417.0,320.0 416.6,319.5 416.2,319.0 416.0,318.6 415.7,318.2 415.4,317.6 415.1,317.0 414.9,316.6 414.6,316.0 414.4,315.4 414.2,315.0 413.9,314.2 413.8,313.8 413.6,313.0 413.4,312.2 413.3,311.8 413.2,311.0 413.1,310.2 413.0,309.6 412.9,309.0 412.8,308.2 412.7,307.4 412.6,306.6 412.6,306.2 412.5,305.4 412.5,304.6 412.6,303.8 412.6,303.2 412.6,302.6 412.7,301.8 412.8,301.0 412.9,300.2 413.0,299.5 413.1,299.0 413.3,298.2 413.4,297.8 413.6,297.0 413.8,296.5 414.1,295.8 414.3,295.4 414.6,294.9 415.0,294.2 415.2,293.8 415.5,293.4 415.8,292.9 416.2,292.3 416.5,291.8 416.7,291.4 417.0,290.9 417.3,290.2 417.5,289.8 417.7,289.0 417.8,288.6 418.1,287.8 418.2,287.4 418.6,286.7 419.0,286.2 419.4,285.8 419.8,285.5 420.2,285.2 420.6,285.0 421.4,284.6 421.8,284.5 422.5,284.2 423.0,284.0 423.8,283.8 424.2,283.7 425.0,283.5 425.4,283.4 426.2,283.2 427.0,283.0 427.4,282.9 428.2,282.7 428.9,282.6 429.4,282.5 430.2,282.4 431.0,282.2 431.4,282.1 432.2,282.0 433.0,281.9 433.8,281.8 434.2,281.8 435.0,281.7 435.8,281.6 436.6,281.5 437.4,281.5 438.2,281.4 439.0,281.4 439.5,281.4 440.2,281.4 441.0,281.4 441.8,281.4 442.6,281.4 443.4,281.4 443.8,281.4 444.6,281.4 445.4,281.5 446.2,281.5 447.0,281.5 447.8,281.6 448.6,281.6 449.4,281.7 450.2,281.8 450.6,281.8 451.4,282.0 452.2,282.1 452.8,282.2 453.4,282.3 454.2,282.5 454.9,282.6 455.4,282.7 456.2,282.9 456.6,283.0 457.4,283.2 458.0,283.4 458.6,283.6 459.1,283.8 459.8,284.1 460.2,284.3 460.6,284.6 461.2,285.0 461.7,285.4 462.0,285.8 462.2,286.2 462.3,287.0 462.2,287.5 461.8,288.2 461.6,288.6 461.2,289.0 460.9,289.4 460.6,289.8 460.2,290.3 459.9,291.0 459.8,291.4 459.8,291.8 460.0,292.6 460.2,293.1 460.6,293.8 460.8,294.2 461.0,294.6 461.4,295.4 461.6,295.8 461.8,296.4 462.0,297.0 462.2,297.8 462.3,298.2 462.3,299.0 462.3,299.8 462.3,300.6 462.2,301.0 462.0,301.8 461.8,302.2 461.4,303.0 461.2,303.4 460.9,303.8 460.5,304.2 460.2,304.6 459.8,305.0 459.4,305.4 459.0,305.8 458.5,306.2 458.0,306.6 457.4,307.0 457.0,307.3 456.6,307.6 456.2,307.8 455.6,308.2 455.0,308.6 454.6,308.8 454.2,309.0 453.5,309.4 453.0,309.6 452.6,309.8 451.8,310.2 451.4,310.3 450.7,310.6 450.2,310.8 449.4,311.0 449.0,311.1 448.2,311.4 447.8,311.5 447.0,311.7 446.6,311.8 445.8,312.0 445.0,312.2 444.6,312.3 443.8,312.5 443.3,312.6 442.6,312.7 441.8,312.9 441.2,313.0 440.6,313.1 439.8,313.2 439.0,313.2 438.2,313.2 437.4,313.2 436.6,313.1 435.8,313.1 435.0,313.0 434.6,313.0 433.8,312.8 433.0,312.6 432.6,312.5 431.8,312.4 431.0,312.4 430.2,312.6 429.8,312.8 429.4,313.0 428.9,313.4 428.4,313.8 428.0,314.2 427.7,314.6 427.3,315.0 427.0,315.4 426.6,316.0 426.3,316.6 426.0,317.0 425.8,317.5 425.5,318.2 425.4,318.6 425.1,319.4 424.9,319.8 424.6,320.2 424.2,320.7 423.8,321.1 423.4,321.4 422.6,321.8 422.2,321.9Z M436.2,331.9 435.4,332.0 434.9,331.8 434.6,331.4 434.6,330.6 434.9,330.2 435.4,330.0 436.0,330.2 436.4,330.6 436.6,331.4 436.6,331.4 436.2,331.9Z M448.2,391.4 447.4,391.5 446.6,391.5 445.8,391.5 445.0,391.6 444.2,391.6 443.4,391.6 442.6,391.6 441.8,391.6 441.0,391.6 440.2,391.6 439.4,391.6 438.6,391.6 437.8,391.6 437.0,391.6 436.2,391.5 435.4,391.5 434.6,391.5 433.8,391.4 433.3,391.4 432.6,391.3 431.8,391.3 431.0,391.2 430.2,391.1 429.4,391.1 428.8,391.0 428.2,390.9 427.4,390.9 426.6,390.8 425.8,390.7 425.2,390.6 424.6,390.5 423.8,390.5 423.0,390.4 422.2,390.3 421.4,390.3 420.6,390.3 419.8,390.3 419.0,390.4 418.2,390.4 417.4,390.5 416.6,390.5 415.8,390.6 415.0,390.6 414.2,390.5 413.4,390.3 412.9,390.2 412.2,390.0 411.8,389.8 411.1,389.4 410.6,389.1 410.2,388.8 409.8,388.5 409.4,388.2 409.0,387.7 408.6,387.2 408.2,386.6 408.1,386.2 407.8,385.4 407.8,385.0 407.7,384.2 407.7,383.4 407.7,382.6 407.8,381.8 407.8,381.0 407.7,380.2 407.7,379.4 407.7,378.6 407.6,377.8 407.6,377.0 407.5,376.2 407.5,375.4 407.5,374.6 407.5,373.8 407.5,373.0 407.6,372.2 407.7,371.4 407.8,370.6 407.9,370.2 408.0,369.4 408.2,368.6 408.3,368.2 408.6,367.4 408.7,367.0 409.0,366.3 409.2,365.8 409.4,365.4 409.8,364.7 410.1,364.2 410.4,363.8 410.7,363.4 411.0,363.0 411.4,362.6 411.9,362.2 412.5,361.8 413.0,361.6 413.5,361.4 414.2,361.2 415.0,361.2 415.8,361.3 416.2,361.4 417.0,361.7 417.4,361.8 418.2,362.1 418.6,362.3 419.4,362.6 419.8,362.7 420.6,362.9 421.4,362.9 422.2,362.7 422.6,362.6 423.4,362.2 423.8,362.0 424.2,361.8 424.9,361.4 425.4,361.1 425.8,360.9 426.2,360.6 426.8,360.2 427.4,359.9 427.8,359.6 428.2,359.4 429.0,359.0 429.4,358.8 429.8,358.6 430.5,358.2 431.0,358.0 431.4,357.8 432.2,357.4 432.6,357.2 433.2,357.0 433.8,356.7 434.2,356.6 435.0,356.3 435.4,356.1 436.2,355.8 436.6,355.7 437.4,355.5 437.8,355.3 438.6,355.1 439.0,354.9 439.8,354.7 440.2,354.5 441.0,354.2 441.4,354.1 442.2,353.8 442.6,353.6 443.1,353.4 443.8,353.1 444.2,352.8 444.7,352.6 445.3,352.2 445.8,351.9 446.2,351.6 446.6,351.4 447.0,351.0 447.4,350.6 447.8,349.9 448.0,349.4 448.1,348.6 448.1,347.8 448.1,347.0 448.1,346.2 448.1,345.4 448.0,344.6 447.9,343.8 447.8,343.0 447.8,342.6 447.8,341.9 447.9,341.4 448.1,340.6 448.2,340.2 448.6,339.7 449.0,339.3 449.5,339.0 450.2,338.7 450.6,338.6 451.4,338.6 451.9,338.6 452.6,338.7 453.4,338.9 453.8,339.0 454.6,339.1 455.4,339.2 456.2,339.3 456.7,339.4 457.4,339.5 458.2,339.7 458.7,339.8 459.4,339.9 460.2,340.0 461.0,340.0 461.8,339.9 462.6,339.9 463.4,339.8 463.8,339.8 464.5,339.8 465.0,339.8 465.8,340.1 466.2,340.3 466.6,340.6 467.0,341.0 467.4,341.5 467.8,342.2 468.0,342.6 468.2,343.0 468.5,343.8 468.6,344.2 468.7,345.0 468.6,345.8 468.6,346.2 468.4,347.0 468.2,347.8 468.1,348.2 468.0,349.0 467.9,349.8 467.9,350.6 467.8,351.4 467.9,352.2 468.0,353.0 468.2,353.7 468.4,354.2 468.6,354.6 468.9,355.4 469.1,355.8 469.4,356.4 469.7,357.0 469.9,357.4 470.2,357.9 470.6,358.6 471.0,359.2 471.4,359.8 471.6,360.2 471.9,360.6 472.2,361.2 472.5,361.8 472.7,362.2 473.0,362.8 473.3,363.4 473.5,363.8 473.8,364.6 474.0,365.0 474.2,365.7 474.4,366.2 474.6,366.9 474.7,367.4 475.0,368.2 475.1,368.6 475.2,369.4 475.3,370.2 475.4,370.7 475.5,371.4 475.5,372.2 475.5,373.0 475.5,373.8 475.4,374.6 475.4,375.0 475.3,375.8 475.2,376.6 475.0,377.4 475.0,377.8 474.8,378.6 474.6,379.4 474.5,379.8 474.4,380.6 474.3,381.4 474.2,382.2 474.2,382.6 474.1,383.4 474.0,384.2 473.8,384.8 473.6,385.4 473.4,385.8 473.0,386.4 472.6,386.9 472.2,387.3 471.8,387.6 471.4,387.9 471.0,388.2 470.3,388.6 469.8,388.8 469.4,389.0 468.6,389.4 468.2,389.5 467.4,389.8 467.0,389.9 466.2,390.1 465.6,390.2 465.0,390.3 464.2,390.4 463.4,390.6 463.0,390.6 462.2,390.7 461.4,390.8 460.6,390.8 459.8,390.9 459.0,390.9 458.2,390.9 457.4,391.0 456.6,391.0 455.8,391.0 455.4,391.0 454.6,391.0 453.8,391.1 453.0,391.1 452.2,391.2 451.4,391.2 450.6,391.3 449.8,391.3 449.0,391.4 448.5,391.4Z M421.4,319.2 420.6,319.4 419.8,319.3 419.0,319.0 418.6,318.8 418.2,318.5 417.8,318.2 417.4,317.8 417.0,317.3 416.6,316.9 416.2,316.3 415.8,315.8 415.6,315.4 415.4,315.0 415.0,314.3 414.8,313.8 414.6,313.3 414.4,312.6 414.2,311.9 414.1,311.4 413.9,310.6 413.8,309.8 413.7,309.4 413.6,308.6 413.5,307.8 413.4,307.3 413.3,306.6 413.2,305.8 413.2,305.0 413.2,304.2 413.3,303.4 413.3,302.6 413.4,301.8 413.4,301.4 413.5,300.6 413.6,299.8 413.8,299.0 413.9,298.6 414.2,297.8 414.3,297.4 414.6,296.6 414.8,296.2 415.0,295.8 415.4,295.1 415.7,294.6 416.0,294.2 416.3,293.8 416.6,293.4 417.0,292.8 417.4,292.3 417.8,291.8 418.1,291.4 418.4,291.0 418.8,290.6 419.0,290.2 419.3,289.4 419.4,289.0 419.5,288.2 419.7,287.4 419.8,287.0 420.2,286.5 420.6,286.0 421.0,285.7 421.5,285.4 422.2,285.0 422.6,284.8 423.1,284.6 423.8,284.3 424.2,284.2 425.0,284.0 425.5,283.8 426.2,283.6 427.0,283.4 427.4,283.3 428.2,283.1 428.8,283.0 429.4,282.9 430.2,282.7 430.7,282.6 431.4,282.5 432.2,282.3 433.0,282.2 433.4,282.2 434.2,282.1 435.0,282.0 435.8,281.9 436.6,281.8 437.1,281.8 437.8,281.8 438.6,281.7 439.4,281.7 440.2,281.7 441.0,281.6 441.8,281.6 442.6,281.7 443.4,281.7 444.2,281.7 445.0,281.7 445.8,281.7 446.6,281.8 447.0,281.8 447.8,281.9 448.6,281.9 449.4,282.0 450.2,282.1 451.0,282.2 451.4,282.3 452.2,282.4 453.0,282.6 453.4,282.6 454.2,282.8 455.0,283.0 455.4,283.1 456.2,283.3 456.6,283.4 457.4,283.7 457.8,283.8 458.6,284.1 459.0,284.3 459.5,284.6 460.1,285.0 460.6,285.4 460.9,285.8 461.1,286.2 461.2,287.0 461.0,287.6 460.7,288.2 460.4,288.6 460.0,289.0 459.6,289.4 459.3,289.8 459.0,290.2 458.6,291.0 458.6,291.4 458.6,291.8 458.9,292.6 459.1,293.0 459.4,293.6 459.7,294.2 460.0,294.6 460.2,295.0 460.6,295.8 460.8,296.2 461.0,296.9 461.1,297.4 461.3,298.2 461.4,299.0 461.4,299.8 461.3,300.6 461.1,301.4 460.9,301.8 460.6,302.5 460.3,303.0 460.0,303.4 459.7,303.8 459.4,304.2 459.0,304.7 458.6,305.1 458.2,305.5 457.8,305.8 457.3,306.2 456.8,306.6 456.2,307.0 455.8,307.3 455.4,307.5 455.0,307.8 454.3,308.2 453.8,308.5 453.4,308.7 452.8,309.0 452.2,309.3 451.8,309.5 451.0,309.8 450.6,309.9 449.8,310.1 449.4,310.3 448.6,310.5 448.1,310.6 447.4,310.8 446.6,311.0 446.2,311.0 445.4,311.2 444.6,311.3 444.1,311.4 443.4,311.5 442.6,311.6 441.8,311.6 441.0,311.7 440.2,311.7 439.4,311.7 438.6,311.6 437.8,311.5 437.0,311.4 436.6,311.4 435.8,311.3 435.0,311.1 434.6,311.0 433.8,310.7 433.4,310.5 432.6,310.2 432.2,310.1 431.4,309.8 431.0,309.7 430.2,309.6 429.4,309.6 428.9,309.8 428.4,310.2 428.0,310.6 427.7,311.0 427.4,311.5 427.0,312.0 426.6,312.6 426.3,313.0 426.0,313.4 425.7,313.8 425.4,314.2 425.0,314.8 424.6,315.4 424.3,315.8 424.1,316.2 423.8,316.6 423.4,317.1 423.0,317.7 422.6,318.2 422.2,318.6 421.8,318.9 421.4,319.2Z M450.2,391.0 449.4,391.1 448.6,391.1 447.8,391.2 447.0,391.2 446.2,391.3 445.4,391.3 444.6,391.3 443.8,391.3 443.0,391.3 442.2,391.4 441.4,391.4 440.6,391.4 439.8,391.4 439.0,391.4 438.2,391.3 437.4,391.3 436.6,391.3 435.8,391.3 435.0,391.3 434.2,391.2 433.4,391.2 432.6,391.1 431.8,391.0 431.4,391.0 430.6,390.9 429.8,390.8 429.0,390.8 428.2,390.7 427.5,390.6 427.0,390.5 426.2,390.4 425.4,390.3 424.6,390.3 424.1,390.2 423.4,390.1 422.6,390.1 421.8,390.0 421.0,390.0 420.2,390.0 419.4,390.0 418.6,390.1 417.8,390.1 417.0,390.1 416.2,390.2 415.4,390.2 414.6,390.1 413.8,390.0 413.0,389.8 412.6,389.7 412.0,389.4 411.4,389.1 411.0,388.9 410.6,388.6 410.1,388.2 409.7,387.8 409.3,387.4 409.0,386.9 408.6,386.2 408.5,385.8 408.3,385.0 408.2,384.2 408.2,383.8 408.2,383.0 408.2,382.6 408.2,381.8 408.2,381.0 408.2,380.6 408.1,379.8 408.1,379.0 408.0,378.2 408.0,377.4 408.0,376.6 407.9,375.8 407.9,375.0 407.9,374.2 407.9,373.4 407.9,372.6 408.0,371.8 408.2,371.0 408.2,370.6 408.4,369.8 408.6,369.0 408.7,368.6 409.0,367.8 409.1,367.4 409.4,366.7 409.6,366.2 409.8,365.8 410.2,365.2 410.6,364.6 410.9,364.2 411.2,363.8 411.7,363.4 412.1,363.0 412.6,362.7 413.0,362.5 413.8,362.2 414.2,362.1 415.0,362.1 415.8,362.2 416.2,362.3 417.0,362.5 417.4,362.7 418.1,363.0 418.6,363.2 419.0,363.4 419.8,363.7 420.2,363.8 421.0,364.0 421.8,363.9 422.2,363.8 423.0,363.5 423.4,363.3 423.9,363.0 424.5,362.6 425.0,362.3 425.4,362.0 425.8,361.8 426.4,361.4 427.0,361.0 427.4,360.7 427.8,360.5 428.3,360.2 429.0,359.8 429.4,359.6 429.8,359.4 430.5,359.0 431.0,358.8 431.4,358.6 432.2,358.2 432.6,358.1 433.2,357.8 433.8,357.6 434.3,357.4 435.0,357.1 435.4,357.0 436.2,356.7 436.8,356.6 437.4,356.4 438.2,356.2 438.6,356.1 439.4,355.9 439.8,355.8 440.6,355.6 441.3,355.4 441.8,355.3 442.6,355.1 443.0,355.0 443.8,354.8 444.5,354.6 445.0,354.5 445.8,354.3 446.3,354.2 447.0,354.1 447.8,353.9 448.6,353.8 449.4,353.6 450.2,353.4 450.6,353.3 451.4,353.1 452.2,353.1 453.0,353.1 453.8,353.2 454.6,353.2 455.4,353.1 455.9,353.0 456.6,352.8 457.1,352.6 457.8,352.4 458.6,352.4 459.4,352.5 460.1,352.6 460.6,352.7 461.4,353.0 461.8,353.1 462.4,353.4 463.0,353.7 463.4,353.9 463.9,354.2 464.6,354.6 465.0,354.8 465.4,355.1 465.9,355.4 466.4,355.8 466.9,356.2 467.3,356.6 467.7,357.0 468.0,357.4 468.4,357.8 468.7,358.2 469.0,358.6 469.4,359.1 469.8,359.6 470.2,360.1 470.6,360.6 470.9,361.0 471.2,361.4 471.4,361.8 471.8,362.4 472.2,363.0 472.4,363.4 472.6,363.9 473.0,364.6 473.1,365.0 473.4,365.6 473.6,366.2 473.8,366.7 474.0,367.4 474.2,368.0 474.4,368.6 474.6,369.4 474.6,369.8 474.8,370.6 474.8,371.4 474.9,372.2 474.9,373.0 474.9,373.8 474.8,374.6 474.7,375.4 474.6,376.2 474.6,376.6 474.4,377.4 474.3,378.2 474.2,378.6 474.0,379.4 473.8,380.2 473.7,380.6 473.6,381.4 473.6,382.2 473.5,383.0 473.4,383.7 473.3,384.2 473.0,385.0 472.9,385.4 472.6,385.8 472.2,386.4 471.8,386.9 471.4,387.2 471.0,387.6 470.6,387.8 470.0,388.2 469.4,388.5 469.0,388.7 468.4,389.0 467.8,389.2 467.2,389.4 466.6,389.6 465.8,389.8 465.4,389.8 464.6,390.0 463.8,390.1 463.3,390.2 462.6,390.3 461.8,390.4 461.0,390.4 460.2,390.5 459.4,390.5 458.6,390.6 458.2,390.6 457.4,390.6 456.6,390.7 455.8,390.7 455.0,390.7 454.2,390.8 453.4,390.8 452.6,390.9 451.8,390.9 451.0,391.0 450.5,391.0Z M420.2,315.5 419.4,315.5 419.0,315.3 418.4,315.0 417.8,314.6 417.4,314.2 417.0,313.8 416.7,313.4 416.4,313.0 416.2,312.6 415.8,311.8 415.7,311.4 415.5,310.6 415.4,310.2 415.2,309.4 415.0,308.6 414.9,308.2 414.7,307.4 414.6,306.7 414.5,306.2 414.5,305.4 414.5,304.6 414.5,303.8 414.5,303.0 414.5,302.2 414.6,301.4 414.6,301.0 414.8,300.2 415.0,299.4 415.1,299.0 415.4,298.3 415.6,297.8 415.9,297.4 416.2,296.8 416.6,296.2 416.8,295.8 417.2,295.4 417.5,295.0 417.9,294.6 418.4,294.2 418.9,293.8 419.4,293.5 419.8,293.3 420.6,293.1 421.4,293.1 422.2,293.2 423.0,293.4 423.4,293.5 424.1,293.8 424.6,294.0 425.0,294.2 425.8,294.5 426.2,294.6 427.0,294.7 427.6,294.6 428.2,294.3 428.6,294.1 429.0,293.8 429.4,293.4 429.8,292.6 429.5,291.8 429.1,291.4 428.6,291.1 428.2,290.9 427.5,290.6 427.0,290.4 426.3,290.2 425.8,290.1 425.0,289.8 424.6,289.6 424.1,289.4 423.5,289.0 423.0,288.6 422.7,288.2 422.6,287.8 422.6,287.1 422.8,286.6 423.2,286.2 423.6,285.8 424.2,285.4 424.6,285.2 425.0,285.0 425.8,284.6 426.2,284.5 427.0,284.2 427.4,284.1 428.2,283.9 428.6,283.8 429.4,283.5 429.9,283.4 430.6,283.2 431.4,283.1 431.8,283.0 432.6,282.8 433.4,282.7 434.2,282.6 435.0,282.5 435.8,282.4 436.6,282.3 437.4,282.3 438.2,282.2 438.6,282.2 439.4,282.2 440.2,282.1 441.0,282.1 441.8,282.1 442.6,282.1 443.4,282.1 444.2,282.2 445.0,282.2 445.4,282.2 446.2,282.3 447.0,282.3 447.8,282.4 448.6,282.4 449.4,282.5 450.2,282.6 450.6,282.7 451.4,282.8 452.2,283.0 452.6,283.0 453.4,283.2 454.1,283.4 454.6,283.6 455.4,283.8 455.8,283.9 456.6,284.2 457.0,284.4 457.5,284.6 458.2,285.0 458.6,285.4 459.0,285.8 459.2,286.2 459.3,287.0 459.0,287.8 458.7,288.2 458.4,288.6 458.0,289.0 457.6,289.4 457.3,289.8 457.0,290.2 456.6,291.0 456.6,291.4 456.7,291.8 457.0,292.6 457.3,293.0 457.5,293.4 457.8,293.8 458.2,294.4 458.6,295.0 458.8,295.4 459.0,295.8 459.4,296.6 459.5,297.0 459.8,297.8 459.8,298.2 459.9,299.0 459.9,299.8 459.8,300.2 459.6,301.0 459.4,301.5 459.1,302.2 458.9,302.6 458.6,303.0 458.2,303.6 457.8,304.1 457.4,304.6 457.0,305.0 456.6,305.3 456.2,305.7 455.8,306.0 455.4,306.3 454.9,306.6 454.3,307.0 453.8,307.3 453.4,307.5 452.9,307.8 452.2,308.1 451.8,308.3 451.1,308.6 450.6,308.8 449.9,309.0 449.4,309.1 448.6,309.3 448.2,309.4 447.4,309.6 446.6,309.8 446.2,309.8 445.4,309.9 444.6,310.0 443.8,310.1 443.0,310.1 442.2,310.1 441.4,310.1 440.6,310.0 439.8,310.0 439.0,309.8 438.6,309.8 437.8,309.6 437.0,309.4 436.6,309.3 435.9,309.0 435.4,308.8 435.0,308.6 434.2,308.2 433.8,308.0 433.4,307.8 432.7,307.4 432.2,307.1 431.8,306.9 431.2,306.6 430.6,306.3 430.2,306.2 429.4,306.0 428.6,306.0 428.1,306.2 427.4,306.6 427.0,306.9 426.6,307.4 426.3,307.8 426.1,308.2 425.8,308.8 425.5,309.4 425.3,309.8 425.0,310.4 424.6,311.0 424.3,311.4 424.0,311.8 423.7,312.2 423.4,312.6 423.0,313.2 422.6,313.7 422.2,314.2 421.8,314.6 421.4,314.9 421.0,315.2 420.5,315.4Z M449.4,390.6 448.6,390.7 447.8,390.7 447.0,390.8 446.2,390.8 445.4,390.9 444.6,390.9 443.8,390.9 443.0,390.9 442.2,390.9 441.4,390.9 440.6,390.9 439.8,390.9 439.0,390.9 438.2,390.9 437.4,390.9 436.6,390.9 435.8,390.9 435.0,390.8 434.2,390.8 433.4,390.7 432.6,390.7 431.9,390.6 431.4,390.5 430.6,390.5 429.8,390.4 429.0,390.3 428.2,390.2 427.8,390.2 427.0,390.1 426.2,390.0 425.4,389.9 424.9,389.8 424.2,389.7 423.4,389.6 422.6,389.5 421.8,389.4 421.1,389.4 420.6,389.4 419.8,389.4 419.4,389.4 418.6,389.4 417.8,389.5 417.0,389.5 416.2,389.5 415.4,389.5 414.6,389.4 414.2,389.4 413.4,389.2 412.9,389.0 412.2,388.7 411.8,388.5 411.4,388.2 410.8,387.8 410.4,387.4 410.1,387.0 409.8,386.6 409.4,385.8 409.3,385.4 409.1,384.6 409.0,383.8 409.0,383.0 409.0,382.2 409.0,381.7 409.0,381.0 408.9,380.2 408.9,379.4 408.8,378.6 408.7,377.8 408.7,377.0 408.6,376.2 408.6,375.4 408.6,375.0 408.6,374.2 408.6,373.4 408.6,373.0 408.7,372.2 408.9,371.4 409.0,370.8 409.1,370.2 409.4,369.4 409.5,369.0 409.8,368.2 409.9,367.8 410.2,367.2 410.5,366.6 410.8,366.2 411.1,365.8 411.4,365.4 411.8,365.0 412.2,364.6 412.8,364.2 413.4,363.9 413.8,363.8 414.6,363.7 415.4,363.7 415.9,363.8 416.6,364.0 417.1,364.2 417.8,364.5 418.2,364.7 418.8,365.0 419.4,365.3 419.8,365.5 420.6,365.8 421.0,365.9 421.8,365.9 422.2,365.8 423.0,365.4 423.4,365.2 423.8,364.9 424.2,364.6 424.7,364.2 425.2,363.8 425.7,363.4 426.2,363.0 426.6,362.7 427.0,362.4 427.4,362.2 428.0,361.8 428.6,361.4 429.0,361.1 429.4,360.9 430.0,360.6 430.6,360.3 431.0,360.1 431.5,359.8 432.2,359.5 432.6,359.3 433.3,359.0 433.8,358.8 434.4,358.6 435.0,358.4 435.7,358.2 436.2,358.1 437.0,357.9 437.4,357.8 438.2,357.6 439.0,357.5 439.4,357.4 440.2,357.2 441.0,357.0 441.4,357.0 442.2,356.8 443.0,356.7 443.8,356.6 444.2,356.6 445.0,356.5 445.8,356.4 446.6,356.4 447.4,356.4 448.2,356.4 449.0,356.4 449.8,356.4 450.6,356.5 451.4,356.5 452.2,356.6 452.6,356.6 453.4,356.7 454.2,356.8 455.0,356.9 455.8,357.0 456.2,357.0 457.0,357.1 457.8,357.2 458.6,357.2 459.4,357.3 460.2,357.4 460.6,357.4 461.4,357.6 462.2,357.7 462.8,357.8 463.4,357.9 464.2,358.2 464.6,358.3 465.4,358.6 465.8,358.8 466.2,359.0 466.8,359.4 467.3,359.8 467.8,360.2 468.2,360.6 468.6,361.0 469.0,361.4 469.4,361.8 469.8,362.2 470.1,362.6 470.4,363.0 470.7,363.4 471.0,363.8 471.4,364.5 471.7,365.0 471.9,365.4 472.2,366.0 472.5,366.6 472.6,367.0 472.9,367.8 473.1,368.2 473.3,369.0 473.4,369.4 473.6,370.2 473.7,371.0 473.8,371.7 473.8,372.2 473.9,373.0 473.8,373.8 473.8,374.6 473.8,375.0 473.7,375.8 473.5,376.6 473.4,377.2 473.3,377.8 473.1,378.6 473.0,379.0 472.8,379.8 472.6,380.6 472.5,381.0 472.4,381.8 472.4,382.6 472.2,383.4 472.2,383.8 471.9,384.6 471.8,385.0 471.4,385.6 471.0,386.2 470.6,386.6 470.2,387.0 469.8,387.3 469.4,387.6 469.0,387.8 468.3,388.2 467.8,388.4 467.3,388.6 466.6,388.8 466.0,389.0 465.4,389.2 464.6,389.3 464.2,389.4 463.4,389.5 462.6,389.7 461.8,389.8 461.4,389.8 460.6,389.9 459.8,389.9 459.0,390.0 458.2,390.0 457.4,390.1 456.6,390.1 455.8,390.2 455.2,390.2 454.6,390.2 453.8,390.3 453.0,390.4 452.2,390.4 451.4,390.5 450.6,390.5 449.8,390.6 449.4,390.6Z M444.6,309.0 443.8,309.0 443.0,309.1 442.2,309.0 441.6,309.0 441.0,308.9 440.2,308.8 439.4,308.6 439.0,308.5 438.2,308.3 437.8,308.2 437.0,307.9 436.6,307.7 435.9,307.4 435.4,307.1 435.0,306.9 434.6,306.6 433.9,306.2 433.4,305.8 433.0,305.5 432.6,305.2 432.2,304.9 431.8,304.6 431.3,304.2 430.7,303.8 430.3,303.4 429.8,303.0 429.4,302.6 429.1,302.2 428.8,301.8 428.5,301.4 428.3,300.6 428.3,299.8 428.4,299.0 428.6,298.6 429.0,297.8 429.2,297.4 429.5,297.0 429.8,296.5 430.2,295.9 430.6,295.5 431.0,295.0 431.4,294.6 431.7,294.2 432.1,293.8 432.4,293.4 432.6,293.0 432.8,292.2 432.6,291.7 432.2,291.3 431.8,290.9 431.2,290.6 430.6,290.3 430.2,290.1 429.4,289.8 428.6,289.5 428.2,289.3 427.6,289.0 427.0,288.7 426.6,288.5 426.2,288.2 425.7,287.8 425.4,287.2 425.4,286.6 425.6,286.2 426.0,285.8 426.6,285.4 427.0,285.2 427.4,285.0 428.2,284.7 428.6,284.5 429.4,284.2 429.8,284.1 430.6,283.9 431.0,283.7 431.8,283.6 432.5,283.4 433.0,283.3 433.8,283.2 434.6,283.0 435.0,283.0 435.8,282.9 436.6,282.8 437.4,282.7 438.2,282.6 439.0,282.6 439.4,282.6 440.2,282.6 441.0,282.5 441.8,282.5 442.6,282.6 443.4,282.6 444.2,282.6 444.6,282.6 445.4,282.6 446.2,282.7 447.0,282.7 447.8,282.8 448.6,282.9 449.4,283.0 449.8,283.0 450.6,283.1 451.4,283.3 451.9,283.4 452.6,283.6 453.4,283.8 453.8,283.9 454.6,284.2 455.0,284.4 455.6,284.6 456.2,284.9 456.6,285.1 457.0,285.4 457.4,285.8 457.7,286.6 457.6,287.4 457.4,287.8 457.0,288.3 456.6,288.7 456.2,289.1 455.8,289.5 455.4,289.9 455.0,290.4 454.8,291.0 454.9,291.8 455.1,292.2 455.4,292.6 455.8,293.1 456.2,293.5 456.6,294.1 457.0,294.6 457.3,295.0 457.5,295.4 457.8,295.9 458.1,296.6 458.3,297.0 458.5,297.8 458.6,298.2 458.7,299.0 458.6,299.8 458.5,300.2 458.3,301.0 458.1,301.4 457.8,302.1 457.6,302.6 457.3,303.0 457.0,303.5 456.6,304.0 456.2,304.4 455.8,304.8 455.4,305.1 455.0,305.4 454.5,305.8 453.9,306.2 453.4,306.5 453.0,306.8 452.6,307.0 451.8,307.4 451.4,307.6 450.9,307.8 450.2,308.0 449.7,308.2 449.0,308.4 448.2,308.6 447.8,308.7 447.0,308.8 446.2,308.9 445.4,309.0 444.8,309.0Z M420.2,312.3 419.4,312.4 418.8,312.2 418.2,311.8 417.8,311.4 417.5,311.0 417.3,310.6 417.0,309.8 416.9,309.4 416.6,308.6 416.5,308.2 416.2,307.5 416.1,307.0 415.9,306.2 415.8,305.8 415.7,305.0 415.7,304.2 415.7,303.4 415.7,302.6 415.7,301.8 415.8,301.1 415.9,300.6 416.1,299.8 416.3,299.4 416.6,298.9 417.0,298.3 417.3,297.8 417.7,297.4 418.0,297.0 418.5,296.6 419.0,296.3 419.4,296.1 420.2,295.8 420.6,295.8 421.1,295.8 421.8,296.0 422.4,296.2 423.0,296.5 423.4,296.7 423.9,297.0 424.5,297.4 424.9,297.8 425.3,298.2 425.6,298.6 425.8,299.0 426.1,299.8 426.2,300.6 426.2,300.7 426.2,301.4 426.1,302.2 425.9,303.0 425.8,303.7 425.7,304.2 425.4,304.8 425.1,305.4 424.9,305.8 424.6,306.3 424.3,307.0 424.2,307.4 423.9,308.2 423.7,308.6 423.4,309.2 423.0,309.8 422.7,310.2 422.3,310.6 422.0,311.0 421.6,311.4 421.1,311.8 420.6,312.2 420.2,312.3Z M449.4,390.2 448.6,390.3 447.8,390.4 447.0,390.4 446.2,390.5 445.4,390.5 444.6,390.5 443.8,390.6 443.0,390.6 442.2,390.6 441.4,390.6 440.6,390.6 439.8,390.6 439.0,390.6 438.2,390.6 437.4,390.6 436.6,390.5 435.8,390.5 435.0,390.5 434.2,390.4 433.4,390.4 432.6,390.3 431.8,390.2 431.4,390.2 430.6,390.1 429.8,390.0 429.0,389.9 428.2,389.8 427.8,389.8 427.0,389.7 426.2,389.5 425.4,389.4 425.0,389.4 424.2,389.3 423.4,389.1 422.6,389.0 422.2,389.0 421.4,388.9 420.6,388.8 419.8,388.8 419.0,388.8 418.2,388.9 417.4,388.9 416.6,388.9 415.8,388.9 415.0,388.8 414.2,388.7 413.8,388.6 413.0,388.3 412.6,388.1 412.1,387.8 411.5,387.4 411.1,387.0 410.7,386.6 410.5,386.2 410.2,385.6 410.0,385.0 409.8,384.2 409.8,383.6 409.8,383.0 409.7,382.2 409.7,381.4 409.6,380.6 409.6,379.8 409.5,379.0 409.4,378.2 409.4,377.8 409.3,377.0 409.3,376.2 409.2,375.4 409.2,374.6 409.2,373.8 409.3,373.0 409.4,372.2 409.5,371.8 409.7,371.0 409.8,370.6 410.1,369.8 410.2,369.4 410.5,368.6 410.7,368.2 411.0,367.6 411.4,367.0 411.7,366.6 412.1,366.2 412.5,365.8 413.0,365.5 413.4,365.3 414.2,365.1 415.0,365.1 415.8,365.2 416.3,365.4 417.0,365.7 417.4,365.9 418.0,366.2 418.6,366.6 419.0,366.8 419.4,367.1 419.8,367.4 420.5,367.8 421.0,368.0 421.8,368.1 422.4,367.8 423.0,367.4 423.4,367.0 423.8,366.6 424.2,366.3 424.6,365.9 425.0,365.5 425.4,365.2 425.8,364.8 426.2,364.4 426.6,364.1 427.0,363.8 427.4,363.4 428.0,363.0 428.5,362.6 429.0,362.3 429.4,362.0 429.8,361.8 430.5,361.4 431.0,361.1 431.4,360.9 432.0,360.6 432.6,360.3 433.0,360.2 433.8,359.8 434.2,359.7 435.0,359.4 435.4,359.3 436.2,359.1 436.6,359.0 437.4,358.8 438.2,358.7 438.7,358.6 439.4,358.5 440.2,358.3 440.7,358.2 441.4,358.1 442.2,358.0 443.0,357.9 443.8,357.9 444.4,357.8 445.0,357.7 445.8,357.7 446.6,357.7 447.4,357.8 447.8,357.8 448.6,357.9 449.4,358.0 450.2,358.1 451.0,358.2 451.4,358.2 452.2,358.3 453.0,358.4 453.8,358.6 454.2,358.6 455.0,358.8 455.8,358.9 456.2,359.0 457.0,359.1 457.8,359.2 458.6,359.2 459.4,359.4 459.8,359.5 460.6,359.6 461.4,359.8 461.8,359.8 462.6,360.0 463.4,360.1 463.9,360.2 464.6,360.4 465.3,360.6 465.8,360.8 466.2,361.0 466.7,361.4 467.3,361.8 467.7,362.2 468.2,362.6 468.6,363.0 469.0,363.3 469.4,363.8 469.7,364.2 470.0,364.6 470.3,365.0 470.6,365.4 471.0,366.1 471.3,366.6 471.5,367.0 471.8,367.7 472.0,368.2 472.2,368.8 472.4,369.4 472.6,370.2 472.7,370.6 472.8,371.4 472.9,372.2 473.0,373.0 473.0,373.8 472.9,374.6 472.8,375.4 472.7,376.2 472.6,376.6 472.4,377.4 472.2,378.1 472.1,378.6 471.9,379.4 471.8,379.8 471.6,380.6 471.4,381.4 471.4,381.8 471.2,382.6 471.1,383.4 471.0,383.8 470.7,384.6 470.5,385.0 470.2,385.5 469.8,386.0 469.4,386.5 469.0,386.8 468.6,387.1 468.2,387.4 467.4,387.8 467.0,388.0 466.4,388.2 465.8,388.4 465.1,388.6 464.6,388.7 463.8,388.9 463.3,389.0 462.6,389.1 461.8,389.2 461.0,389.3 460.2,389.4 459.8,389.4 459.0,389.5 458.2,389.5 457.4,389.6 456.6,389.7 455.8,389.7 455.0,389.8 454.5,389.8 453.8,389.9 453.0,389.9 452.2,390.0 451.4,390.1 450.6,390.1 449.8,390.2 449.4,390.2Z M424.3,380.2 424.9,379.8 425.2,379.4 425.3,378.6 425.0,378.0 424.6,377.5 424.2,377.2 423.8,376.9 423.0,376.7 422.3,377.0 422.0,377.4 421.7,377.8 421.5,378.6 421.5,379.4 421.8,379.9 422.2,380.2 423.0,380.4 423.8,380.4 424.3,380.2Z M445.0,308.2 444.2,308.2 443.4,308.2 442.7,308.2 442.2,308.2 441.4,308.1 440.6,307.9 440.1,307.8 439.4,307.6 438.8,307.4 438.2,307.2 437.7,307.0 437.0,306.7 436.6,306.5 436.1,306.2 435.4,305.8 435.0,305.5 434.6,305.2 434.2,304.9 433.8,304.5 433.4,304.1 433.0,303.8 432.6,303.4 432.2,302.9 431.8,302.5 431.4,301.9 431.1,301.4 430.9,301.0 430.8,300.2 430.8,299.4 430.9,298.6 431.1,298.2 431.4,297.5 431.6,297.0 431.9,296.6 432.2,296.1 432.6,295.6 433.0,295.1 433.4,294.6 433.8,294.2 434.1,293.8 434.4,293.4 434.7,293.0 435.0,292.2 434.7,291.4 434.3,291.0 433.8,290.7 433.4,290.4 432.9,290.2 432.2,289.9 431.8,289.7 431.1,289.4 430.6,289.2 430.1,289.0 429.4,288.7 429.0,288.4 428.6,288.1 428.2,287.8 427.8,287.3 427.6,286.6 427.8,286.2 428.2,285.8 428.8,285.4 429.4,285.0 429.8,284.9 430.4,284.6 431.0,284.4 431.5,284.2 432.2,284.0 433.0,283.8 433.4,283.7 434.2,283.6 435.0,283.4 435.4,283.3 436.2,283.2 437.0,283.1 437.8,283.1 438.6,283.0 439.0,283.0 439.8,282.9 440.6,282.9 441.4,282.9 442.2,282.9 443.0,282.9 443.8,283.0 444.6,283.0 445.0,283.0 445.8,283.1 446.6,283.1 447.4,283.2 448.2,283.2 449.0,283.3 449.5,283.4 450.2,283.5 451.0,283.7 451.5,283.8 452.2,284.0 452.9,284.2 453.4,284.4 453.9,284.6 454.6,284.9 455.0,285.1 455.4,285.4 455.9,285.8 456.2,286.2 456.3,287.0 456.2,287.4 455.8,288.0 455.4,288.4 455.0,288.8 454.6,289.1 454.2,289.5 453.8,289.8 453.4,290.3 453.2,291.0 453.4,291.8 453.7,292.2 454.0,292.6 454.4,293.0 454.8,293.4 455.2,293.8 455.6,294.2 455.9,294.6 456.2,295.0 456.6,295.6 456.9,296.2 457.1,296.6 457.4,297.4 457.5,297.8 457.6,298.6 457.6,299.4 457.5,300.2 457.4,300.6 457.1,301.4 456.9,301.8 456.6,302.4 456.2,303.0 455.9,303.4 455.6,303.8 455.2,304.2 454.8,304.6 454.3,305.0 453.8,305.4 453.4,305.7 453.0,305.9 452.6,306.2 451.8,306.6 451.4,306.8 451.0,307.0 450.2,307.3 449.8,307.4 449.0,307.7 448.5,307.8 447.8,307.9 447.0,308.1 446.2,308.2 445.4,308.2 445.0,308.2Z M420.2,308.7 419.5,308.6 419.0,308.3 418.6,307.8 418.4,307.4 418.1,307.0 417.8,306.4 417.6,305.8 417.4,305.3 417.2,304.6 417.1,303.8 417.1,303.0 417.1,302.2 417.2,301.4 417.4,300.6 417.6,300.2 417.8,299.8 418.2,299.4 418.7,299.0 419.4,298.8 420.2,298.8 420.7,299.0 421.3,299.4 421.8,299.8 422.1,300.2 422.4,300.6 422.6,301.0 422.9,301.8 423.0,302.2 423.2,303.0 423.2,303.8 423.1,304.6 423.0,305.0 422.7,305.8 422.5,306.2 422.2,306.9 421.9,307.4 421.6,307.8 421.2,308.2 420.6,308.6 420.2,308.7Z M444.6,390.2 443.8,390.2 443.0,390.3 442.2,390.3 441.4,390.3 440.6,390.3 439.8,390.3 439.0,390.3 438.2,390.3 437.4,390.3 436.6,390.2 435.8,390.2 435.4,390.2 434.6,390.1 433.8,390.1 433.0,390.0 432.2,389.9 431.4,389.8 431.0,389.8 430.2,389.7 429.4,389.6 428.6,389.5 427.8,389.4 427.4,389.3 426.6,389.2 425.8,389.1 425.2,389.0 424.6,388.9 423.8,388.8 423.0,388.6 422.6,388.5 421.8,388.4 421.0,388.3 420.2,388.3 419.4,388.3 418.6,388.3 417.8,388.3 417.0,388.3 416.2,388.3 415.4,388.3 414.9,388.2 414.2,388.1 413.4,387.8 413.0,387.6 412.6,387.3 412.1,387.0 411.7,386.6 411.4,386.2 411.0,385.6 410.8,385.0 410.6,384.3 410.5,383.8 410.5,383.0 410.4,382.2 410.4,381.4 410.3,380.6 410.2,379.8 410.1,379.4 410.0,378.6 410.0,377.8 409.9,377.0 409.8,376.2 409.8,375.6 409.8,375.0 409.8,374.2 409.8,373.8 409.9,373.0 410.0,372.2 410.2,371.5 410.4,371.0 410.6,370.3 410.8,369.8 411.0,369.4 411.4,368.6 411.7,368.2 411.9,367.8 412.3,367.4 412.7,367.0 413.3,366.6 413.8,366.4 414.6,366.3 415.4,366.5 415.9,366.6 416.6,366.9 417.0,367.1 417.5,367.4 418.1,367.8 418.5,368.2 418.9,368.6 419.3,369.0 419.6,369.4 420.0,369.8 420.3,370.2 420.6,370.7 421.0,371.2 421.4,371.8 421.6,372.2 421.7,373.0 421.6,373.8 421.4,374.2 421.1,375.0 421.0,375.4 420.7,376.2 420.5,376.6 420.2,377.4 420.1,377.8 419.9,378.6 419.9,379.4 420.1,380.2 420.3,380.6 420.7,381.0 421.4,381.4 421.8,381.5 422.6,381.6 423.4,381.6 424.2,381.5 424.6,381.3 425.4,381.1 425.8,380.9 426.3,380.6 426.8,380.2 427.1,379.8 427.3,379.0 427.1,378.2 426.8,377.8 426.6,377.4 426.2,376.9 425.8,376.4 425.4,375.9 425.0,375.4 424.6,375.0 424.3,374.6 424.0,374.2 423.7,373.8 423.4,373.4 423.0,372.8 422.7,372.2 422.7,371.4 423.0,370.6 423.3,369.8 423.5,369.4 423.8,368.8 424.1,368.2 424.4,367.8 424.7,367.4 425.0,367.0 425.4,366.6 425.8,366.2 426.2,365.8 426.6,365.4 427.0,365.0 427.4,364.6 427.9,364.2 428.3,363.8 428.9,363.4 429.4,363.0 429.8,362.8 430.2,362.5 430.7,362.2 431.4,361.8 431.8,361.6 432.2,361.4 433.0,361.0 433.4,360.9 434.1,360.6 434.6,360.4 435.2,360.2 435.8,360.0 436.6,359.8 437.0,359.7 437.8,359.6 438.6,359.4 439.0,359.4 439.8,359.2 440.6,359.1 441.2,359.0 441.8,358.9 442.6,358.9 443.4,358.8 444.2,358.8 445.0,358.7 445.8,358.7 446.6,358.8 447.4,358.8 448.2,358.9 448.6,359.0 449.4,359.1 450.2,359.2 451.0,359.3 451.5,359.4 452.2,359.5 453.0,359.7 453.4,359.8 454.2,360.1 454.7,360.2 455.4,360.4 456.2,360.5 457.0,360.5 457.6,360.6 458.2,360.7 459.0,360.8 459.8,361.0 460.2,361.1 461.0,361.2 461.8,361.4 462.2,361.4 463.0,361.6 463.8,361.8 464.2,361.9 465.0,362.1 465.4,362.3 466.0,362.6 466.6,362.9 467.0,363.2 467.4,363.5 467.8,363.8 468.3,364.2 468.6,364.6 469.0,365.0 469.4,365.6 469.8,366.1 470.1,366.6 470.3,367.0 470.6,367.5 471.0,368.2 471.1,368.6 471.4,369.3 471.6,369.8 471.8,370.6 471.9,371.0 472.0,371.8 472.1,372.6 472.1,373.4 472.1,374.2 472.0,375.0 471.9,375.8 471.8,376.2 471.6,377.0 471.4,377.7 471.3,378.2 471.1,379.0 471.0,379.4 470.7,380.2 470.6,380.7 470.4,381.4 470.3,382.2 470.2,382.6 470.0,383.4 469.8,384.1 469.6,384.6 469.4,385.0 469.0,385.5 468.6,386.0 468.2,386.4 467.8,386.7 467.4,387.0 466.7,387.4 466.2,387.6 465.8,387.8 465.0,388.1 464.5,388.2 463.8,388.4 463.0,388.5 462.6,388.6 461.8,388.7 461.0,388.8 460.2,388.9 459.4,389.0 459.0,389.0 458.2,389.1 457.4,389.2 456.6,389.2 455.8,389.3 455.0,389.4 454.5,389.4 453.8,389.5 453.0,389.6 452.2,389.6 451.4,389.7 450.6,389.8 450.2,389.8 449.4,389.9 448.6,390.0 447.8,390.0 447.0,390.1 446.2,390.1 445.4,390.2 444.9,390.2Z M445.8,307.4 445.0,307.4 444.2,307.4 443.4,307.4 442.6,307.3 441.8,307.2 441.0,307.1 440.6,306.9 439.8,306.7 439.4,306.6 438.6,306.3 438.2,306.1 437.6,305.8 437.0,305.5 436.6,305.2 436.2,305.0 435.7,304.6 435.3,304.2 434.8,303.8 434.5,303.4 434.1,303.0 433.8,302.6 433.4,302.1 433.0,301.5 432.7,301.0 432.6,300.5 432.5,299.8 432.6,299.2 432.7,298.6 433.0,297.9 433.2,297.4 433.4,297.0 433.8,296.4 434.2,295.9 434.6,295.4 434.9,295.0 435.3,294.6 435.6,294.2 435.9,293.8 436.3,293.4 436.6,292.9 437.0,292.3 437.2,291.8 437.0,291.0 436.6,290.6 436.2,290.4 435.8,290.2 435.0,289.9 434.6,289.7 433.8,289.4 433.4,289.3 432.7,289.0 432.2,288.8 431.8,288.6 431.0,288.2 430.6,288.0 430.2,287.6 429.8,287.1 429.8,286.6 429.9,286.2 430.2,285.8 430.8,285.4 431.4,285.0 431.8,284.9 432.5,284.6 433.0,284.4 433.8,284.2 434.2,284.1 435.0,283.9 435.7,283.8 436.2,283.7 437.0,283.6 437.8,283.5 438.6,283.4 439.2,283.4 439.8,283.4 440.6,283.3 441.4,283.3 442.2,283.4 443.0,283.4 443.8,283.4 444.2,283.4 445.0,283.4 445.8,283.5 446.6,283.6 447.4,283.7 448.2,283.7 448.8,283.8 449.4,283.9 450.2,284.0 450.9,284.2 451.4,284.4 452.1,284.6 452.6,284.8 453.0,285.0 453.7,285.4 454.2,285.8 454.6,286.2 454.7,286.6 454.6,287.4 454.4,287.8 454.0,288.2 453.5,288.6 453.0,289.0 452.6,289.3 452.2,289.6 451.8,290.0 451.4,290.5 451.3,291.0 451.5,291.4 451.8,291.9 452.2,292.3 452.6,292.6 453.0,293.0 453.5,293.4 454.0,293.8 454.4,294.2 454.8,294.6 455.1,295.0 455.4,295.4 455.8,296.0 456.1,296.6 456.3,297.0 456.5,297.8 456.6,298.5 456.6,299.0 456.6,299.4 456.4,300.2 456.2,300.9 456.0,301.4 455.8,301.8 455.4,302.5 455.1,303.0 454.8,303.4 454.4,303.8 454.0,304.2 453.5,304.6 453.0,305.0 452.6,305.3 452.2,305.5 451.7,305.8 451.0,306.2 450.6,306.4 450.0,306.6 449.4,306.8 448.8,307.0 448.2,307.1 447.4,307.3 446.6,307.4 446.1,307.4Z M445.8,389.8 445.0,389.9 444.2,389.9 443.4,389.9 442.6,389.9 441.8,389.9 441.0,389.9 440.2,389.9 439.4,389.9 438.6,389.9 437.8,389.9 437.0,389.9 436.2,389.9 435.4,389.8 434.9,389.8 434.2,389.7 433.4,389.7 432.6,389.6 431.8,389.5 431.0,389.4 430.6,389.4 429.8,389.3 429.0,389.2 428.2,389.1 427.8,389.0 427.0,388.9 426.2,388.7 425.5,388.6 425.0,388.5 424.2,388.4 423.5,388.2 423.0,388.1 422.2,387.9 421.8,387.8 421.0,387.6 420.2,387.6 419.4,387.6 418.6,387.6 417.8,387.6 417.0,387.6 416.2,387.6 415.4,387.5 414.6,387.4 414.2,387.3 413.6,387.0 413.0,386.6 412.6,386.3 412.2,385.9 411.9,385.4 411.7,385.0 411.4,384.2 411.4,383.8 411.3,383.0 411.3,382.2 411.3,381.4 411.2,380.6 411.0,379.9 410.9,379.4 410.7,378.6 410.6,377.8 410.6,377.4 410.5,376.6 410.4,375.8 410.4,375.0 410.4,374.2 410.5,373.4 410.6,372.8 410.7,372.2 411.0,371.4 411.2,371.0 411.4,370.5 411.8,369.8 412.0,369.4 412.3,369.0 412.7,368.6 413.2,368.2 413.8,367.9 414.2,367.8 414.9,367.8 415.4,367.9 416.2,368.2 416.6,368.4 417.0,368.7 417.4,369.0 417.8,369.5 418.2,370.0 418.6,370.6 418.8,371.0 419.0,371.6 419.2,372.2 419.4,373.0 419.5,373.4 419.5,374.2 419.5,375.0 419.4,375.4 419.2,376.2 419.0,377.0 418.9,377.4 418.7,378.2 418.6,378.8 418.5,379.4 418.6,380.2 418.7,380.6 419.0,381.3 419.4,381.7 419.8,382.0 420.2,382.3 421.0,382.6 421.4,382.6 422.2,382.7 423.0,382.6 423.4,382.6 424.2,382.4 424.9,382.2 425.4,382.0 426.0,381.8 426.6,381.6 427.0,381.4 427.8,381.0 428.2,380.7 428.6,380.3 428.9,379.8 428.9,379.0 428.6,378.2 428.4,377.8 428.1,377.4 427.8,377.0 427.4,376.4 427.0,375.9 426.7,375.4 426.4,375.0 426.2,374.6 425.8,374.0 425.5,373.4 425.3,373.0 425.1,372.2 425.0,371.7 424.9,371.0 425.0,370.2 425.1,369.8 425.3,369.0 425.4,368.6 425.8,368.0 426.2,367.4 426.5,367.0 426.9,366.6 427.2,366.2 427.6,365.8 428.0,365.4 428.4,365.0 428.8,364.6 429.3,364.2 429.8,363.8 430.2,363.6 430.6,363.3 431.1,363.0 431.8,362.6 432.2,362.4 432.6,362.2 433.4,361.8 433.8,361.6 434.3,361.4 435.0,361.1 435.4,361.0 436.2,360.8 436.8,360.6 437.4,360.5 438.2,360.3 438.9,360.2 439.4,360.1 440.2,360.0 441.0,359.9 441.8,359.8 442.2,359.8 443.0,359.8 443.8,359.7 444.6,359.7 445.4,359.7 446.2,359.7 446.9,359.8 447.4,359.9 448.2,360.0 449.0,360.1 449.8,360.2 450.2,360.2 451.0,360.4 451.8,360.6 452.2,360.7 453.0,361.0 453.4,361.1 454.1,361.4 454.6,361.5 455.4,361.7 455.8,361.8 456.6,361.9 457.4,362.0 458.2,362.1 458.6,362.2 459.4,362.4 460.2,362.5 460.7,362.6 461.4,362.7 462.2,362.9 462.8,363.0 463.4,363.2 464.1,363.4 464.6,363.6 465.1,363.8 465.8,364.1 466.2,364.3 466.7,364.6 467.3,365.0 467.7,365.4 468.1,365.8 468.4,366.2 468.7,366.6 469.0,367.0 469.4,367.6 469.8,368.2 470.0,368.6 470.2,369.1 470.5,369.8 470.6,370.2 470.9,371.0 471.0,371.5 471.1,372.2 471.2,373.0 471.2,373.8 471.1,374.6 471.0,375.4 470.9,375.8 470.7,376.6 470.6,377.0 470.4,377.8 470.2,378.4 470.0,379.0 469.8,379.7 469.6,380.2 469.4,380.9 469.3,381.4 469.1,382.2 469.0,382.6 468.7,383.4 468.6,383.8 468.2,384.5 467.9,385.0 467.6,385.4 467.3,385.8 466.9,386.2 466.5,386.6 465.8,387.0 465.4,387.2 465.0,387.4 464.2,387.7 463.7,387.8 463.0,388.0 462.2,388.1 461.7,388.2 461.0,388.3 460.2,388.4 459.4,388.4 458.6,388.5 457.9,388.6 457.4,388.7 456.6,388.7 455.8,388.8 455.0,388.9 454.2,389.0 453.8,389.0 453.0,389.1 452.2,389.2 451.4,389.3 450.6,389.4 450.2,389.4 449.4,389.5 448.6,389.6 447.8,389.7 447.0,389.7 446.2,389.8 445.8,389.8Z M446.2,306.6 445.4,306.6 444.8,306.6 444.2,306.6 443.4,306.5 442.6,306.4 441.8,306.3 441.4,306.2 440.6,306.0 440.2,305.8 439.4,305.5 439.0,305.4 438.3,305.0 437.8,304.7 437.4,304.5 437.0,304.2 436.6,303.8 436.2,303.4 435.8,303.0 435.4,302.5 435.0,301.9 434.7,301.4 434.5,301.0 434.3,300.2 434.2,299.4 434.4,298.6 434.6,298.0 434.9,297.4 435.1,297.0 435.4,296.5 435.8,296.0 436.2,295.4 436.5,295.0 436.9,294.6 437.2,294.2 437.6,293.8 438.0,293.4 438.5,293.0 439.0,292.6 439.4,292.2 439.8,291.8 440.1,291.4 439.8,290.6 439.4,290.3 439.0,290.1 438.3,289.8 437.8,289.6 437.1,289.4 436.6,289.2 435.8,289.0 435.4,288.9 434.6,288.6 434.2,288.5 433.5,288.2 433.0,287.9 432.6,287.7 432.2,287.3 431.9,286.6 432.2,286.0 432.6,285.6 433.0,285.4 433.8,285.0 434.2,284.8 435.0,284.6 435.4,284.5 436.2,284.3 436.9,284.2 437.4,284.1 438.2,284.0 439.0,283.9 439.8,283.9 440.6,283.8 441.4,283.8 442.2,283.9 443.0,283.9 443.8,283.9 444.6,283.9 445.4,284.0 446.2,284.1 447.0,284.2 447.4,284.3 448.2,284.4 449.0,284.5 449.6,284.6 450.2,284.8 450.9,285.0 451.4,285.2 451.8,285.5 452.3,285.8 452.6,286.2 452.8,287.0 452.6,287.5 452.2,287.9 451.8,288.2 451.3,288.6 450.6,289.0 450.2,289.2 449.8,289.4 449.1,289.8 448.6,290.2 448.4,290.6 448.6,291.2 449.0,291.5 449.4,291.8 450.0,292.2 450.6,292.5 451.0,292.8 451.4,293.0 452.0,293.4 452.6,293.8 453.0,294.1 453.4,294.4 453.8,294.8 454.2,295.2 454.6,295.8 454.9,296.2 455.1,296.6 455.4,297.4 455.5,297.8 455.6,298.6 455.6,299.4 455.4,300.1 455.2,300.6 455.0,301.2 454.7,301.8 454.4,302.2 454.2,302.6 453.8,303.1 453.4,303.5 453.0,303.9 452.6,304.3 452.1,304.6 451.5,305.0 451.0,305.3 450.6,305.5 450.0,305.8 449.4,306.0 448.8,306.2 448.2,306.4 447.4,306.5 446.6,306.6 446.2,306.6Z M446.2,389.4 445.4,389.5 444.6,389.5 443.8,389.5 443.0,389.5 442.2,389.6 441.4,389.5 440.6,389.5 439.8,389.5 439.0,389.5 438.2,389.6 437.4,389.6 436.6,389.5 435.8,389.5 435.0,389.4 434.6,389.4 433.8,389.3 433.0,389.3 432.2,389.2 431.4,389.1 431.0,389.0 430.2,388.9 429.4,388.8 428.6,388.7 428.2,388.6 427.4,388.4 426.6,388.3 426.2,388.2 425.4,388.0 424.6,387.9 424.2,387.7 423.4,387.5 423.0,387.3 422.2,387.0 421.8,386.9 421.0,386.6 420.6,386.6 419.8,386.5 419.0,386.5 418.5,386.6 417.8,386.7 417.0,386.7 416.2,386.7 415.4,386.6 415.0,386.5 414.2,386.2 413.8,385.9 413.4,385.6 413.0,385.1 412.8,384.6 412.6,384.2 412.5,383.4 412.5,382.6 412.6,381.8 412.5,381.0 412.3,380.2 412.1,379.8 411.8,379.0 411.7,378.6 411.4,377.8 411.4,377.4 411.3,376.6 411.2,375.8 411.2,375.0 411.2,374.2 411.4,373.4 411.4,373.0 411.7,372.2 411.8,371.8 412.2,371.1 412.6,370.6 413.0,370.2 413.4,369.9 413.8,369.7 414.6,369.5 415.4,369.7 415.8,369.9 416.2,370.2 416.6,370.6 417.0,371.1 417.4,371.8 417.6,372.2 417.8,372.8 417.9,373.4 418.0,374.2 418.0,375.0 417.9,375.8 417.8,376.5 417.7,377.0 417.4,377.8 417.3,378.2 417.1,379.0 417.0,379.8 417.1,380.6 417.3,381.4 417.5,381.8 417.8,382.2 418.2,382.7 418.6,383.0 419.2,383.4 419.8,383.7 420.2,383.9 421.0,384.0 421.8,383.9 422.3,383.8 423.0,383.7 423.8,383.5 424.2,383.4 425.0,383.1 425.4,383.0 426.2,382.7 426.6,382.5 427.4,382.2 427.8,382.0 428.3,381.8 429.0,381.4 429.4,381.2 429.8,380.9 430.2,380.6 430.6,380.0 430.7,379.4 430.6,379.0 430.2,378.3 429.8,377.8 429.5,377.4 429.2,377.0 428.9,376.6 428.6,376.2 428.2,375.5 427.9,375.0 427.6,374.6 427.4,374.2 427.0,373.4 426.9,373.0 426.6,372.2 426.6,371.8 426.5,371.0 426.6,370.2 426.6,369.8 426.9,369.0 427.0,368.6 427.4,368.0 427.8,367.4 428.1,367.0 428.4,366.6 428.7,366.2 429.1,365.8 429.5,365.4 429.9,365.0 430.5,364.6 431.0,364.2 431.4,364.0 431.8,363.7 432.3,363.4 433.0,363.0 433.4,362.8 433.8,362.6 434.6,362.2 435.0,362.1 435.7,361.8 436.2,361.6 437.0,361.4 437.4,361.3 438.2,361.1 438.9,361.0 439.4,360.9 440.2,360.8 441.0,360.7 441.8,360.7 442.6,360.6 443.4,360.6 444.2,360.6 445.0,360.6 445.8,360.7 446.6,360.8 447.4,360.9 448.2,361.0 448.6,361.0 449.4,361.1 450.2,361.3 450.9,361.4 451.4,361.5 452.1,361.8 452.6,362.0 453.0,362.2 453.8,362.5 454.2,362.7 455.0,362.9 455.4,363.0 456.2,363.2 457.0,363.3 457.4,363.4 458.2,363.6 459.0,363.8 459.4,363.9 460.2,364.0 461.0,364.1 461.4,364.2 462.2,364.4 463.0,364.6 463.4,364.7 464.2,365.0 464.6,365.2 465.1,365.4 465.8,365.7 466.2,366.0 466.6,366.3 467.0,366.6 467.4,367.0 467.8,367.5 468.2,368.0 468.6,368.6 468.8,369.0 469.2,369.8 469.4,370.4 469.6,371.0 469.8,371.6 469.9,372.2 470.0,373.0 470.1,373.8 470.0,374.6 469.9,375.4 469.8,375.8 469.6,376.6 469.4,377.2 469.2,377.8 469.0,378.4 468.8,379.0 468.6,379.4 468.2,380.2 468.1,380.6 467.8,381.3 467.6,381.8 467.4,382.2 467.1,383.0 466.9,383.4 466.6,384.1 466.4,384.6 466.2,385.0 465.8,385.7 465.4,386.1 465.0,386.4 464.6,386.7 463.8,387.0 463.4,387.1 462.6,387.4 462.2,387.5 461.4,387.6 460.6,387.7 459.8,387.8 459.4,387.8 458.6,387.9 457.8,388.0 457.0,388.1 456.4,388.2 455.8,388.3 455.0,388.4 454.2,388.5 453.4,388.6 453.0,388.7 452.2,388.8 451.4,388.9 450.6,389.0 450.2,389.0 449.4,389.1 448.6,389.2 447.8,389.3 447.0,389.4 446.5,389.4Z M445.0,289.9 444.2,290.0 443.4,290.0 442.6,290.0 441.8,289.8 441.4,289.7 440.6,289.5 440.2,289.4 439.4,289.1 438.9,289.0 438.2,288.8 437.5,288.6 437.0,288.5 436.2,288.2 435.8,288.1 435.0,287.8 434.6,287.6 434.2,287.3 433.8,286.9 433.8,286.2 434.2,285.8 434.6,285.5 435.0,285.3 435.8,285.1 436.2,285.0 437.0,284.8 437.8,284.6 438.2,284.6 439.0,284.4 439.8,284.3 440.6,284.3 441.4,284.3 442.2,284.3 443.0,284.4 443.8,284.4 444.6,284.4 445.4,284.5 446.0,284.6 446.6,284.7 447.4,284.9 448.2,285.0 448.6,285.1 449.4,285.3 449.8,285.5 450.4,285.8 450.8,286.2 451.0,286.6 451.0,287.0 450.6,287.6 450.2,287.9 449.6,288.2 449.0,288.5 448.6,288.6 447.8,288.8 447.3,289.0 446.6,289.3 446.2,289.4 445.4,289.7 445.0,289.9Z M447.4,305.9 446.6,305.9 445.8,306.0 445.0,306.0 444.2,305.9 443.4,305.9 443.0,305.8 442.2,305.6 441.4,305.4 441.0,305.3 440.2,305.0 439.8,304.9 439.2,304.6 438.6,304.3 438.2,304.0 437.8,303.7 437.4,303.4 437.0,303.0 436.6,302.5 436.2,301.9 435.9,301.4 435.8,301.0 435.5,300.2 435.5,299.4 435.7,298.6 435.8,298.2 436.1,297.4 436.3,297.0 436.6,296.5 437.0,295.9 437.4,295.4 437.7,295.0 438.1,294.6 438.5,294.2 439.0,293.8 439.4,293.5 439.8,293.2 440.2,293.0 441.0,292.6 441.4,292.4 442.1,292.2 442.6,292.0 443.4,291.8 443.8,291.7 444.6,291.6 445.4,291.6 446.2,291.8 446.6,291.9 447.4,292.2 447.8,292.3 448.6,292.6 449.0,292.7 449.6,293.0 450.2,293.3 450.6,293.5 451.2,293.8 451.8,294.2 452.2,294.4 452.6,294.7 453.0,295.0 453.7,295.8 454.0,296.2 454.3,296.6 454.6,297.4 454.7,297.8 454.8,298.6 454.8,299.4 454.6,300.1 454.4,300.6 454.2,301.0 453.8,301.7 453.5,302.2 453.2,302.6 452.9,303.0 452.5,303.4 452.1,303.8 451.6,304.2 451.0,304.6 450.6,304.8 450.2,305.0 449.4,305.3 449.0,305.5 448.2,305.7 447.8,305.8Z M447.4,389.0 446.6,389.1 445.8,389.1 445.0,389.2 444.2,389.2 443.4,389.2 442.6,389.2 441.8,389.2 441.0,389.2 440.2,389.2 439.4,389.2 438.6,389.2 437.8,389.2 437.0,389.2 436.2,389.2 435.4,389.2 434.6,389.1 433.8,389.0 433.4,389.0 432.6,388.9 431.8,388.8 431.0,388.7 430.6,388.6 429.8,388.5 429.0,388.3 428.2,388.2 427.8,388.1 427.0,387.9 426.6,387.8 425.8,387.6 425.1,387.4 424.6,387.2 424.0,387.0 423.4,386.6 423.0,386.3 422.6,385.8 422.5,385.4 422.8,385.0 423.4,384.6 423.8,384.4 424.4,384.2 425.0,383.9 425.4,383.8 426.2,383.4 426.6,383.3 427.3,383.0 427.8,382.8 428.2,382.6 429.0,382.2 429.4,382.1 430.0,381.8 430.6,381.5 431.0,381.3 431.6,381.0 432.1,380.6 432.4,380.2 432.3,379.4 432.1,379.0 431.8,378.6 431.4,378.2 431.0,377.7 430.6,377.3 430.2,376.8 429.8,376.3 429.4,375.8 429.2,375.4 428.9,375.0 428.6,374.4 428.3,373.8 428.1,373.4 427.8,372.6 427.8,372.2 427.7,371.4 427.7,370.6 427.8,370.0 427.9,369.4 428.2,368.7 428.4,368.2 428.7,367.8 429.0,367.3 429.4,366.8 429.8,366.3 430.2,365.9 430.6,365.6 431.0,365.3 431.4,365.0 431.9,364.6 432.5,364.2 433.0,363.8 433.4,363.6 433.8,363.4 434.6,363.0 435.0,362.8 435.5,362.6 436.2,362.3 436.6,362.2 437.4,362.0 438.0,361.8 438.6,361.7 439.4,361.5 440.2,361.4 440.6,361.4 441.4,361.3 442.2,361.3 443.0,361.3 443.8,361.3 444.6,361.3 445.4,361.4 445.8,361.4 446.6,361.5 447.4,361.6 448.2,361.8 448.6,361.8 449.4,361.9 450.2,362.1 450.7,362.2 451.4,362.4 451.9,362.6 452.6,362.9 453.0,363.1 453.8,363.4 454.2,363.5 455.0,363.8 455.4,363.9 456.2,364.1 456.6,364.2 457.4,364.5 457.8,364.6 458.6,364.9 459.0,365.1 459.8,365.3 460.3,365.4 461.0,365.5 461.8,365.6 462.6,365.8 463.0,365.9 463.8,366.1 464.2,366.3 465.0,366.6 465.4,366.8 465.8,367.0 466.3,367.4 466.7,367.8 467.1,368.2 467.4,368.6 467.8,369.3 468.1,369.8 468.2,370.2 468.5,371.0 468.6,371.4 468.8,372.2 469.0,373.0 469.0,373.8 468.9,374.6 468.8,375.4 468.6,376.2 468.5,376.6 468.3,377.4 468.1,377.8 467.8,378.5 467.5,379.0 467.3,379.4 467.0,379.8 466.6,380.3 466.2,380.8 465.8,381.3 465.5,381.8 465.4,382.2 465.2,383.0 465.1,383.8 465.0,384.6 464.9,385.0 464.6,385.4 464.2,385.9 463.7,386.2 463.0,386.5 462.6,386.7 461.8,386.9 461.2,387.0 460.6,387.1 459.8,387.2 459.0,387.3 458.2,387.4 457.8,387.4 457.0,387.6 456.2,387.7 455.6,387.8 455.0,387.9 454.2,388.0 453.4,388.2 453.0,388.2 452.2,388.4 451.4,388.5 450.6,388.6 450.2,388.6 449.4,388.8 448.6,388.9 447.8,389.0 447.4,389.0Z M415.0,379.9 414.2,379.8 413.8,379.6 413.4,379.2 413.0,378.8 412.6,378.2 412.4,377.8 412.2,377.2 412.1,376.6 412.0,375.8 412.0,375.0 412.1,374.2 412.2,373.6 412.4,373.0 412.6,372.5 413.0,371.9 413.4,371.6 413.8,371.4 414.6,371.3 415.0,371.5 415.5,371.8 415.9,372.2 416.2,372.7 416.6,373.4 416.7,373.8 416.8,374.6 416.8,375.4 416.6,376.2 416.5,376.6 416.3,377.4 416.1,377.8 415.8,378.6 415.6,379.0 415.4,379.4 415.0,379.9Z M417.0,385.4 416.2,385.6 415.4,385.4 415.0,385.3 414.6,385.0 414.2,384.4 414.0,383.8 414.1,383.0 414.3,382.6 414.6,382.2 415.4,382.1 415.8,382.4 416.2,382.7 416.6,383.1 417.0,383.5 417.4,384.0 417.7,384.6 417.4,385.2 417.0,385.4Z M444.6,288.6 443.8,288.8 443.0,288.8 442.2,288.8 441.4,288.7 440.6,288.6 440.2,288.5 439.4,288.3 439.0,288.1 438.2,287.9 437.8,287.8 437.0,287.4 436.6,287.2 436.2,287.0 436.0,286.2 436.6,285.8 437.0,285.6 437.7,285.4 438.2,285.3 439.0,285.1 439.4,285.0 440.2,284.8 441.0,284.8 441.8,284.8 442.6,284.9 443.4,284.9 444.2,285.0 444.6,285.0 445.4,285.1 446.2,285.3 446.6,285.5 447.4,285.8 447.8,285.9 448.3,286.2 448.6,286.6 448.5,287.0 447.9,287.4 447.4,287.6 447.0,287.8 446.2,288.1 445.8,288.3 445.0,288.5 444.6,288.6Z M448.2,305.1 447.4,305.2 446.6,305.3 445.8,305.3 445.0,305.3 444.2,305.3 443.4,305.2 442.6,305.1 442.2,305.0 441.4,304.7 441.0,304.6 440.2,304.3 439.8,304.1 439.2,303.8 438.6,303.4 438.2,303.0 437.8,302.6 437.4,302.2 437.2,301.8 437.0,301.4 436.7,300.6 436.6,300.2 436.6,299.4 436.6,299.0 436.8,298.2 437.0,297.7 437.3,297.0 437.5,296.6 437.8,296.2 438.2,295.6 438.6,295.2 439.0,294.8 439.4,294.5 440.2,294.0 440.6,293.7 441.4,293.4 441.8,293.3 442.6,293.1 443.0,293.0 443.8,292.8 444.6,292.7 445.4,292.7 446.2,292.7 447.0,292.9 447.4,293.0 448.2,293.3 448.6,293.4 449.4,293.7 449.8,293.8 450.5,294.2 451.0,294.5 451.4,294.7 451.8,295.0 452.4,295.4 452.8,295.8 453.2,296.2 453.5,296.6 453.8,297.3 454.0,297.8 454.1,298.6 454.0,299.4 453.8,300.2 453.6,300.6 453.4,301.1 453.0,301.7 452.7,302.2 452.4,302.6 452.0,303.0 451.6,303.4 451.1,303.8 450.6,304.1 450.2,304.3 449.6,304.6 449.0,304.8 448.5,305.0Z M448.2,388.6 447.4,388.7 446.6,388.8 445.8,388.8 445.0,388.8 444.2,388.9 443.4,388.9 442.6,388.9 441.8,388.9 441.0,388.9 440.2,388.9 439.4,388.9 438.6,388.9 437.8,388.9 437.0,388.9 436.2,388.9 435.4,388.8 434.6,388.8 433.8,388.7 433.1,388.6 432.6,388.5 431.8,388.4 431.0,388.3 430.3,388.2 429.8,388.1 429.0,387.9 428.4,387.8 427.8,387.6 427.0,387.4 426.6,387.3 425.9,387.0 425.4,386.8 425.0,386.5 424.6,386.2 424.6,385.4 425.0,385.0 425.4,384.7 425.8,384.5 426.3,384.2 427.0,383.8 427.4,383.7 427.9,383.4 428.6,383.1 429.0,382.9 429.7,382.6 430.2,382.4 430.7,382.2 431.4,382.0 431.9,381.8 432.6,381.6 433.0,381.4 433.8,381.0 434.2,380.6 434.4,380.2 434.2,379.6 433.8,379.1 433.4,378.8 433.0,378.4 432.6,378.1 432.2,377.7 431.8,377.4 431.4,376.9 431.0,376.5 430.6,376.0 430.2,375.4 429.9,375.0 429.7,374.6 429.4,374.1 429.1,373.4 428.9,373.0 428.7,372.2 428.7,371.4 428.7,370.6 428.8,369.8 429.0,369.3 429.3,368.6 429.5,368.2 429.8,367.7 430.2,367.1 430.6,366.7 431.0,366.3 431.4,365.9 431.8,365.6 432.2,365.3 432.6,365.0 433.1,364.6 433.7,364.2 434.2,363.9 434.6,363.7 435.2,363.4 435.8,363.2 436.2,363.0 437.0,362.7 437.4,362.6 438.2,362.4 438.8,362.2 439.4,362.1 440.2,361.9 441.0,361.9 441.8,361.9 442.6,361.9 443.4,361.9 444.2,361.9 445.0,362.0 445.8,362.1 446.4,362.2 447.0,362.3 447.8,362.4 448.6,362.6 449.0,362.7 449.8,362.8 450.6,363.0 451.0,363.1 451.8,363.4 452.2,363.6 452.8,363.8 453.4,364.0 453.9,364.2 454.6,364.4 455.0,364.6 455.8,364.9 456.2,365.0 457.0,365.4 457.4,365.6 457.8,365.8 458.6,366.2 459.0,366.4 459.5,366.6 460.2,366.8 461.0,367.0 461.4,367.0 462.2,367.1 463.0,367.2 463.8,367.3 464.2,367.4 465.0,367.8 465.4,368.0 465.8,368.3 466.2,368.6 466.6,369.1 467.0,369.8 467.2,370.2 467.4,370.7 467.6,371.4 467.8,372.2 467.8,372.6 467.9,373.4 467.8,374.2 467.8,374.6 467.7,375.4 467.6,376.2 467.4,376.8 467.1,377.4 466.9,377.8 466.6,378.2 466.2,378.6 465.6,379.0 465.0,379.2 464.5,379.4 463.8,379.8 463.4,380.1 463.0,380.6 462.9,381.0 463.0,381.8 463.1,382.2 463.4,383.0 463.5,383.4 463.5,384.2 463.4,384.8 463.0,385.4 462.6,385.6 462.2,385.8 461.4,386.1 461.0,386.2 460.2,386.4 459.4,386.5 458.9,386.6 458.2,386.7 457.4,386.9 456.8,387.0 456.2,387.1 455.4,387.3 454.9,387.4 454.2,387.6 453.4,387.7 453.0,387.8 452.2,387.9 451.4,388.1 450.7,388.2 450.2,388.3 449.4,388.4 448.6,388.5 448.2,388.6Z M414.6,376.8 413.8,376.9 413.4,376.3 413.3,375.8 413.3,375.0 413.4,374.6 413.8,374.0 414.6,374.0 415.0,374.6 415.1,375.0 415.1,375.8 414.9,376.2 414.6,376.8Z M459.0,381.8 459.4,381.6 459.8,381.3 460.2,380.6 459.9,379.8 459.5,379.4 459.0,379.1 458.6,378.9 457.8,378.8 457.0,378.7 456.2,378.6 455.4,378.7 454.6,378.7 453.8,378.9 453.4,379.0 452.8,379.4 452.5,379.8 452.6,380.5 453.0,380.9 453.4,381.1 453.9,381.4 454.6,381.7 455.1,381.8 455.8,381.9 456.6,382.0 457.4,382.0 458.2,382.0 459.0,381.8Z M443.8,287.4 443.0,287.6 442.2,287.7 441.4,287.7 440.6,287.6 440.0,287.4 439.4,287.1 439.0,286.6 439.4,286.0 439.8,285.8 440.6,285.6 441.4,285.5 442.2,285.6 443.0,285.8 443.4,285.8 444.2,286.0 445.0,286.2 445.2,286.6 444.9,287.0 444.2,287.3 443.8,287.4Z M447.4,304.6 446.6,304.7 445.8,304.7 445.0,304.7 444.2,304.7 443.4,304.7 443.0,304.6 442.2,304.4 441.7,304.2 441.0,303.9 440.6,303.7 440.0,303.4 439.4,303.0 439.0,302.7 438.6,302.3 438.2,301.9 437.9,301.4 437.7,301.0 437.5,300.2 437.5,299.4 437.6,298.6 437.8,298.0 438.0,297.4 438.2,297.0 438.6,296.4 439.0,295.9 439.4,295.5 439.8,295.2 440.2,294.9 440.6,294.6 441.4,294.2 441.8,294.1 442.6,293.8 443.0,293.7 443.8,293.5 444.6,293.4 445.4,293.4 446.2,293.5 447.0,293.6 447.6,293.8 448.2,294.0 449.0,294.2 449.4,294.4 449.9,294.6 450.6,295.0 451.0,295.2 451.4,295.5 451.8,295.8 452.2,296.2 452.6,296.7 453.0,297.3 453.2,297.8 453.4,298.6 453.3,299.4 453.1,300.2 452.9,300.6 452.6,301.1 452.2,301.8 451.9,302.2 451.5,302.6 451.1,303.0 450.6,303.4 450.2,303.7 449.8,303.9 449.0,304.2 448.6,304.3 447.8,304.5 447.4,304.6Z M443.4,388.6 442.6,388.6 441.8,388.6 441.0,388.6 440.2,388.6 439.8,388.6 439.0,388.6 438.2,388.6 437.4,388.6 436.6,388.6 436.1,388.6 435.4,388.5 434.6,388.4 433.8,388.3 433.0,388.3 432.6,388.2 431.8,388.1 431.0,387.9 430.3,387.8 429.8,387.7 429.0,387.5 428.6,387.4 427.8,387.1 427.4,386.9 426.9,386.6 426.4,386.2 426.4,385.4 426.7,385.0 427.2,384.6 427.8,384.3 428.2,384.0 428.6,383.8 429.4,383.4 429.8,383.2 430.3,383.0 431.0,382.7 431.4,382.6 432.2,382.4 432.9,382.2 433.4,382.1 434.2,381.8 434.6,381.7 435.2,381.4 435.8,381.0 436.1,380.6 436.3,380.2 436.2,379.8 435.8,379.3 435.4,378.9 434.9,378.6 434.2,378.2 433.8,378.0 433.4,377.7 433.0,377.4 432.5,377.0 432.1,376.6 431.8,376.2 431.4,375.7 431.0,375.2 430.6,374.6 430.4,374.2 430.2,373.8 429.9,373.0 429.7,372.6 429.6,371.8 429.6,371.0 429.7,370.2 429.8,369.8 430.1,369.0 430.2,368.6 430.6,368.0 431.0,367.4 431.4,367.0 431.8,366.6 432.2,366.2 432.6,365.8 433.0,365.5 433.4,365.2 433.8,364.9 434.3,364.6 435.0,364.2 435.4,364.0 435.9,363.8 436.6,363.5 437.0,363.4 437.8,363.1 438.2,363.0 439.0,362.7 439.5,362.6 440.2,362.5 441.0,362.4 441.8,362.4 442.6,362.4 443.4,362.5 444.2,362.5 444.9,362.6 445.4,362.7 446.2,362.8 447.0,363.0 447.4,363.1 448.2,363.3 448.8,363.4 449.4,363.5 450.2,363.8 450.6,363.9 451.4,364.1 451.8,364.2 452.6,364.5 453.0,364.6 453.8,364.9 454.2,365.1 454.9,365.4 455.4,365.6 455.8,365.8 456.4,366.2 457.0,366.6 457.4,366.8 457.8,367.1 458.3,367.4 459.0,367.8 459.4,368.0 459.8,368.2 460.6,368.4 461.4,368.5 462.2,368.4 463.0,368.4 463.8,368.5 464.2,368.6 465.0,369.0 465.4,369.4 465.8,369.8 466.0,370.2 466.2,370.6 466.5,371.4 466.6,372.0 466.7,372.6 466.7,373.4 466.6,374.2 466.6,374.6 466.5,375.4 466.3,376.2 466.2,376.6 465.8,377.1 465.4,377.4 464.6,377.7 463.8,377.8 463.3,377.8 462.6,377.9 461.8,377.9 461.3,377.8 460.6,377.7 459.8,377.5 459.1,377.4 458.6,377.3 457.8,377.3 457.0,377.2 456.2,377.2 455.4,377.2 454.6,377.3 454.2,377.4 453.4,377.6 452.6,377.8 452.2,377.9 451.4,378.2 451.0,378.3 450.2,378.6 449.8,378.8 449.3,379.0 448.7,379.4 448.4,379.8 448.6,380.4 449.0,380.7 449.6,381.0 450.2,381.2 450.6,381.4 451.4,381.8 451.8,382.0 452.3,382.2 453.0,382.5 453.4,382.7 454.2,383.0 454.6,383.2 455.3,383.4 455.8,383.6 456.6,383.8 457.0,383.9 457.8,384.1 458.2,384.2 458.9,384.6 458.6,385.2 458.2,385.4 457.4,385.8 457.0,385.9 456.3,386.2 455.8,386.4 455.3,386.6 454.6,386.8 454.1,387.0 453.4,387.2 452.6,387.4 452.2,387.4 451.4,387.6 450.7,387.8 450.2,387.9 449.4,388.1 448.7,388.2 448.2,388.3 447.4,388.4 446.6,388.4 445.8,388.5 445.0,388.5 444.2,388.6 443.5,388.6Z M447.8,303.8 447.0,303.9 446.2,304.0 445.4,304.1 444.6,304.1 443.8,304.0 443.0,303.9 442.6,303.8 441.8,303.4 441.4,303.2 441.0,303.0 440.3,302.6 439.8,302.2 439.4,301.9 439.0,301.4 438.8,301.0 438.6,300.5 438.5,299.8 438.5,299.0 438.6,298.4 438.8,297.8 439.0,297.4 439.4,296.8 439.8,296.3 440.2,296.0 440.6,295.7 441.0,295.4 441.7,295.0 442.2,294.8 442.7,294.6 443.4,294.4 444.2,294.2 445.0,294.2 445.8,294.2 446.2,294.2 447.0,294.4 447.8,294.6 448.2,294.7 449.0,295.0 449.4,295.1 449.9,295.4 450.6,295.8 451.0,296.2 451.4,296.5 451.8,297.0 452.0,297.4 452.2,297.8 452.5,298.6 452.4,299.4 452.2,300.2 452.0,300.6 451.8,301.0 451.4,301.6 451.0,302.1 450.6,302.5 450.2,302.8 449.8,303.1 449.1,303.4 448.6,303.6 447.8,303.8Z M443.4,388.2 442.6,388.2 441.8,388.2 441.0,388.2 440.2,388.2 439.4,388.2 438.6,388.2 437.8,388.2 437.0,388.3 436.2,388.2 435.8,388.2 435.0,388.1 434.2,388.0 433.4,387.9 432.8,387.8 432.2,387.7 431.4,387.5 430.8,387.4 430.2,387.2 429.6,387.0 429.0,386.7 428.6,386.4 428.2,385.8 428.6,385.0 429.0,384.6 429.4,384.3 429.8,384.0 430.2,383.8 431.0,383.4 431.4,383.3 432.2,383.0 432.6,383.0 433.4,382.8 434.2,382.6 434.6,382.5 435.4,382.3 435.8,382.2 436.6,381.8 437.0,381.6 437.4,381.3 437.8,381.0 438.2,380.4 438.2,379.8 438.0,379.4 437.6,379.0 437.1,378.6 436.6,378.3 436.2,378.1 435.5,377.8 435.0,377.6 434.6,377.4 433.9,377.0 433.4,376.6 433.0,376.3 432.6,375.8 432.2,375.4 431.9,375.0 431.7,374.6 431.4,374.1 431.0,373.4 430.9,373.0 430.7,372.2 430.6,371.4 430.7,370.6 430.9,369.8 431.0,369.4 431.4,368.6 431.6,368.2 431.9,367.8 432.2,367.4 432.6,366.9 433.0,366.5 433.4,366.1 433.8,365.8 434.4,365.4 435.0,365.0 435.4,364.8 435.9,364.6 436.6,364.3 437.0,364.1 437.8,363.8 438.2,363.7 439.0,363.4 439.4,363.3 440.2,363.1 441.0,363.0 441.8,363.0 442.6,363.1 443.4,363.1 444.2,363.2 445.0,363.3 445.5,363.4 446.2,363.6 447.0,363.8 447.4,363.9 448.2,364.1 448.6,364.2 449.4,364.5 449.8,364.6 450.6,364.9 451.0,365.0 451.8,365.2 452.4,365.4 453.0,365.6 453.4,365.8 454.2,366.2 454.6,366.5 455.0,366.8 455.4,367.1 455.8,367.5 456.2,367.9 456.6,368.3 457.0,368.7 457.4,369.1 457.8,369.4 458.3,369.8 459.0,370.1 459.4,370.3 460.2,370.4 461.0,370.5 461.8,370.4 462.6,370.4 463.4,370.5 463.8,370.6 464.2,371.0 464.6,371.5 464.9,372.2 465.0,373.0 464.9,373.8 464.6,374.6 464.2,375.0 463.8,375.2 463.0,375.3 462.2,375.3 461.4,375.4 461.0,375.4 460.2,375.6 459.4,375.6 458.6,375.6 457.8,375.6 457.0,375.6 456.2,375.6 455.4,375.7 455.0,375.8 454.2,376.1 453.8,376.3 453.0,376.6 452.6,376.7 451.8,376.9 451.4,377.1 450.6,377.3 450.1,377.4 449.4,377.6 448.9,377.8 448.2,378.1 447.8,378.3 447.0,378.6 446.6,378.7 445.8,378.9 445.0,379.0 444.2,379.0 443.8,379.0 443.0,379.1 442.3,379.4 441.8,379.8 441.7,380.2 441.9,380.6 442.4,381.0 443.0,381.2 443.8,381.3 444.6,381.4 445.4,381.4 445.8,381.4 446.6,381.5 447.4,381.7 447.9,381.8 448.6,382.0 449.4,382.2 449.8,382.3 450.5,382.6 451.0,382.8 451.4,383.0 452.2,383.4 452.6,383.6 453.0,383.8 453.6,384.2 454.0,384.6 454.2,385.0 454.2,385.6 453.8,386.0 453.4,386.3 452.6,386.6 452.2,386.7 451.4,387.0 451.0,387.1 450.2,387.4 449.8,387.5 449.0,387.7 448.6,387.8 447.8,387.9 447.0,388.0 446.2,388.1 445.4,388.1 444.6,388.1 443.8,388.2 443.4,388.2Z M447.8,303.0 447.0,303.2 446.2,303.3 445.4,303.3 444.6,303.4 443.8,303.3 443.0,303.1 442.6,303.0 441.9,302.6 441.4,302.3 441.0,302.0 440.6,301.7 440.2,301.3 439.8,300.7 439.6,300.2 439.4,299.4 439.5,298.6 439.8,297.9 440.1,297.4 440.5,297.0 441.0,296.6 441.4,296.3 441.8,296.0 442.2,295.7 442.9,295.4 443.4,295.2 444.2,295.1 444.6,295.0 445.4,295.0 446.2,295.0 447.0,295.2 447.8,295.4 448.2,295.5 449.0,295.8 449.4,296.0 449.8,296.2 450.3,296.6 450.7,297.0 451.0,297.4 451.4,298.2 451.5,298.6 451.5,299.4 451.4,299.9 451.1,300.6 450.8,301.0 450.5,301.4 450.1,301.8 449.6,302.2 449.0,302.6 448.6,302.7 447.8,303.0Z M441.4,378.2 440.6,378.4 439.8,378.4 439.0,378.2 438.6,378.1 437.9,377.8 437.4,377.6 437.0,377.4 436.2,377.1 435.8,377.0 435.0,376.6 434.6,376.4 434.2,376.2 433.8,375.8 433.4,375.4 433.0,374.9 432.6,374.4 432.2,373.8 432.0,373.4 431.8,372.9 431.6,372.2 431.6,371.4 431.6,370.6 431.8,370.0 432.0,369.4 432.2,369.0 432.6,368.3 432.9,367.8 433.3,367.4 433.6,367.0 434.0,366.6 434.5,366.2 435.0,365.9 435.4,365.6 435.9,365.4 436.6,365.1 437.0,364.9 437.8,364.7 438.2,364.5 439.0,364.3 439.4,364.1 440.2,363.9 440.7,363.8 441.4,363.7 442.2,363.7 443.0,363.7 443.7,363.8 444.2,363.9 445.0,364.0 445.8,364.2 446.2,364.3 447.0,364.5 447.4,364.6 448.2,364.9 448.6,365.1 449.3,365.4 449.8,365.6 450.2,365.8 451.0,366.2 451.4,366.4 452.0,366.6 452.6,366.9 453.0,367.2 453.4,367.5 453.8,367.9 454.2,368.4 454.6,368.9 455.0,369.4 455.2,369.8 455.5,370.2 455.8,370.6 456.2,371.3 456.5,371.8 456.7,372.2 456.9,373.0 456.5,373.4 455.8,373.8 455.4,374.0 455.0,374.2 454.3,374.6 453.8,374.9 453.4,375.2 453.0,375.4 452.2,375.8 451.8,376.0 451.0,376.2 450.6,376.3 449.8,376.4 449.3,376.6 448.6,376.9 448.2,377.0 447.4,377.4 447.0,377.5 446.2,377.7 445.8,377.8 445.0,377.9 444.2,377.9 443.4,378.0 442.6,378.0 441.8,378.1 441.4,378.2Z M443.0,387.8 442.2,387.8 441.4,387.8 440.6,387.8 440.2,387.8 439.4,387.8 438.6,387.8 437.8,387.8 437.4,387.8 436.6,387.8 436.2,387.8 435.4,387.7 434.6,387.6 433.8,387.4 433.4,387.4 432.6,387.2 431.8,387.0 431.4,386.9 430.6,386.6 430.2,386.2 430.0,385.8 430.2,385.0 430.5,384.6 431.0,384.3 431.4,384.0 432.0,383.8 432.6,383.6 433.4,383.5 433.8,383.4 434.6,383.2 435.4,383.1 435.8,383.0 436.6,382.8 437.4,382.6 437.8,382.5 438.6,382.2 439.0,382.1 439.8,382.0 440.6,382.0 441.2,382.2 441.8,382.3 442.6,382.4 443.4,382.5 444.2,382.5 445.0,382.5 445.8,382.6 446.2,382.6 447.0,382.7 447.8,382.8 448.6,382.9 449.0,383.0 449.8,383.3 450.2,383.5 450.7,383.8 451.2,384.2 451.6,384.6 451.7,385.4 451.4,385.8 451.0,386.2 450.4,386.6 449.8,386.9 449.4,387.0 448.6,387.3 448.2,387.4 447.4,387.5 446.6,387.6 445.8,387.6 445.0,387.7 444.2,387.7 443.4,387.8 443.0,387.8Z M444.6,302.2 444.2,302.2 443.4,302.0 443.0,301.8 442.4,301.4 442.0,301.0 441.6,300.6 441.3,300.2 441.1,299.4 441.2,298.6 441.4,298.2 441.8,297.7 442.2,297.3 442.6,297.0 443.3,296.6 443.8,296.4 444.6,296.2 445.4,296.2 446.2,296.3 447.0,296.4 447.8,296.6 448.2,296.7 448.9,297.0 449.4,297.4 449.8,297.8 450.0,298.2 450.2,299.0 450.2,299.0 450.0,299.8 449.8,300.2 449.4,300.6 449.0,301.0 448.4,301.4 447.8,301.7 447.4,301.8 446.6,302.0 445.8,302.1 445.0,302.2Z M445.4,376.6 444.6,376.8 443.8,376.8 443.0,376.8 442.2,376.8 441.4,376.9 440.6,376.9 439.8,376.9 439.0,376.7 438.5,376.6 437.8,376.3 437.4,376.2 436.6,375.9 436.2,375.8 435.4,375.4 435.0,375.2 434.6,374.9 434.2,374.4 433.8,374.0 433.4,373.4 433.2,373.0 433.0,372.6 432.8,371.8 432.8,371.0 432.9,370.2 433.1,369.8 433.4,369.2 433.7,368.6 434.0,368.2 434.3,367.8 434.7,367.4 435.1,367.0 435.7,366.6 436.2,366.3 436.6,366.1 437.4,365.8 437.8,365.7 438.6,365.5 439.2,365.4 439.8,365.2 440.6,365.0 441.0,364.9 441.8,364.7 442.6,364.7 443.4,364.7 444.2,364.8 445.0,364.9 445.4,365.0 446.2,365.2 446.7,365.4 447.4,365.7 447.8,365.9 448.3,366.2 448.8,366.6 449.3,367.0 449.7,367.4 450.1,367.8 450.5,368.2 450.9,368.6 451.3,369.0 451.7,369.4 452.0,369.8 452.4,370.2 452.6,370.6 453.0,371.3 453.2,371.8 453.1,372.6 452.9,373.0 452.6,373.5 452.2,373.9 451.8,374.2 451.0,374.6 450.6,374.7 449.8,374.8 449.2,375.0 448.6,375.3 448.2,375.5 447.7,375.8 447.0,376.1 446.6,376.3 445.8,376.5 445.4,376.6Z M443.8,387.0 443.0,387.1 442.2,387.1 441.4,387.1 440.6,387.1 439.8,387.1 439.0,387.0 438.2,387.0 437.4,387.0 436.6,387.0 436.2,387.0 435.4,386.9 434.6,386.7 434.1,386.6 433.4,386.4 433.0,386.2 432.4,385.8 432.5,385.0 433.0,384.7 433.4,384.6 434.2,384.4 434.9,384.2 435.4,384.1 436.2,384.0 437.0,384.0 437.8,383.9 438.2,383.8 439.0,383.6 439.8,383.5 440.6,383.5 441.4,383.6 442.2,383.7 443.0,383.7 443.8,383.7 444.6,383.7 445.4,383.8 445.8,383.9 446.6,384.0 447.4,384.1 447.9,384.2 448.6,384.5 449.0,384.8 449.2,385.4 449.0,385.8 448.6,386.2 447.8,386.6 447.4,386.7 446.6,386.8 445.8,386.8 445.0,386.9 444.2,387.0 443.8,387.0Z M446.2,300.2 445.4,300.4 444.6,300.3 444.2,300.0 443.8,299.4 444.1,298.6 444.6,298.2 445.0,298.1 445.8,298.0 446.6,298.1 447.0,298.2 447.6,298.6 447.5,299.4 447.1,299.8 446.6,300.1 446.2,300.2Z M444.6,375.4 443.8,375.6 443.0,375.7 442.2,375.7 441.4,375.7 440.6,375.7 439.8,375.6 439.2,375.4 438.6,375.1 438.2,374.9 437.6,374.6 437.0,374.3 436.6,374.2 435.8,373.9 435.4,373.6 435.0,373.3 434.6,372.9 434.2,372.3 434.0,371.8 433.9,371.0 434.1,370.2 434.3,369.8 434.6,369.2 435.0,368.6 435.4,368.2 435.7,367.8 436.2,367.4 436.6,367.1 437.0,366.9 437.8,366.7 438.5,366.6 439.0,366.6 439.8,366.5 440.6,366.3 441.0,366.1 441.8,365.8 442.2,365.7 443.0,365.7 443.8,365.7 444.5,365.8 445.0,365.9 445.8,366.2 446.2,366.4 446.6,366.6 447.2,367.0 447.6,367.4 448.0,367.8 448.3,368.2 448.7,368.6 449.0,369.0 449.4,369.5 449.8,370.2 449.9,370.6 449.9,371.4 449.7,371.8 449.4,372.2 449.0,372.6 448.5,373.0 448.1,373.4 447.6,373.8 447.1,374.2 446.6,374.6 446.2,374.8 445.8,375.0 445.0,375.3 444.6,375.4Z M441.0,385.7 440.2,385.7 440.2,385.3 441.0,385.3 441.0,385.7Z" fill="none" stroke="#000" stroke-width="0.95"/>
<rect x="391.7" y="252.8" width="163.9" height="87.5" fill="none" stroke="#333" stroke-width="1.1"/>
<line x1="489.9" y1="252.8" x2="489.9" y2="340.3" stroke="#444" stroke-width="1.1"/>
<text x="396.47" y="270.4" font-size="18.8" fill="#ff0000">40.9%</text>
<text x="508.57" y="270.4" font-size="18.8" fill="#ff0000">4.6%</text>
<text transform="translate(74.8 368.3) rotate(-90)" x="-57.76" y="0">CD27-PE</text>
<line x1="66.3" y1="303" x2="66.3" y2="251" stroke="#000" stroke-width="2"/>
<polygon points="58.3,254 66.3,240 73.9,254 66.3,251.8" fill="#000" stroke="none" stroke-width="1"/>
<text x="132.31" y="488.7">CD38-PerCP-Cy5.5</text>
<line x1="383" y1="481.5" x2="541" y2="481.5" stroke="#000" stroke-width="2"/>
<polygon points="538,473.5 552,481.5 538,489.1 540.2,481.5" fill="#000" stroke="none" stroke-width="1"/>
<text x="1357.21" y="236.2">CD25</text>
<text x="1623.61" y="236.2">CD86</text>
<polygon points="1306.37,418.7 1307.03,418.65 1307.7,418.58 1308.36,418.49 1309.03,418.39 1309.69,418.27 1310.36,418.15 1311.02,418.02 1311.68,417.88 1312.35,417.73 1313.01,417.58 1313.68,417.42 1314.34,417.25 1315.01,417.08 1315.67,416.9 1316.33,416.72 1317,416.53 1317.66,416.34 1318.33,416.11 1318.99,415.85 1319.66,415.57 1320.32,415.27 1320.99,414.95 1321.65,414.63 1322.31,414.3 1322.98,413.97 1323.64,413.66 1324.31,413.35 1324.97,413.06 1325.64,412.8 1326.3,412.56 1326.97,412.35 1327.63,412.16 1328.29,411.99 1328.96,411.83 1329.62,411.68 1330.29,411.53 1330.95,411.38 1331.62,411.23 1332.28,411.08 1332.95,410.92 1333.61,410.75 1334.27,410.56 1334.94,410.35 1335.6,410.11 1336.27,409.84 1336.93,409.56 1337.6,409.28 1338.26,409.01 1338.92,408.77 1339.59,408.56 1340.25,408.39 1340.92,408.26 1341.58,408.14 1342.25,408.03 1342.91,407.93 1343.58,407.81 1344.24,407.67 1344.9,407.5 1345.57,407.28 1346.23,407 1346.9,406.66 1347.56,406.26 1348.23,405.82 1348.89,405.34 1349.56,404.75 1350.22,403.9 1350.88,402.92 1351.55,401.96 1352.21,401.14 1352.88,400.62 1353.54,400.42 1354.21,400.3 1354.87,400.21 1355.53,400.13 1356.2,400.05 1356.86,399.92 1357.53,399.74 1358.19,399.47 1358.86,399.15 1359.52,398.79 1360.19,398.4 1360.85,398 1361.51,397.6 1362.18,397.2 1362.84,396.78 1363.51,396.33 1364.17,395.84 1364.84,395.32 1365.5,394.73 1366.17,394.09 1366.83,393.31 1367.49,392.3 1368.16,391.12 1368.82,389.88 1369.49,388.65 1370.15,387.53 1370.82,386.58 1371.48,385.74 1372.15,384.96 1372.81,384.15 1373.47,383.27 1374.14,382.25 1374.8,380.97 1375.47,379.36 1376.13,377.51 1376.8,375.51 1377.46,373.44 1378.12,371.39 1378.79,369.46 1379.45,367.73 1380.12,366.23 1380.78,364.85 1381.45,363.53 1382.11,362.26 1382.78,361 1383.44,359.7 1384.1,358.4 1384.77,357.15 1385.43,355.92 1386.1,354.64 1386.76,353.28 1387.43,351.79 1388.09,350.02 1388.76,347.92 1389.42,345.76 1390.08,343.83 1390.75,342.36 1391.41,341.19 1392.08,340.01 1392.74,338.54 1393.41,336.38 1394.07,333.43 1394.74,330.1 1395.4,326.83 1396.06,323.81 1396.73,320.76 1397.39,317.75 1398.06,314.83 1398.72,312.17 1399.39,309.77 1400.05,307.28 1400.71,304.31 1401.38,300.44 1402.04,295.61 1402.71,290.11 1403.37,283.22 1404.04,280.33 1404.7,278.51 1405.37,277.19 1406.03,276.03 1406.69,274.84 1407.36,273.77 1408.02,272.83 1408.69,271.97 1409.35,271.22 1410.02,270.55 1410.68,269.93 1411.35,269.29 1412.01,268.61 1412.67,267.9 1413.34,267.22 1414,266.62 1414.67,266.05 1415.33,265.5 1416,265.21 1416.66,266.58 1417.33,270.02 1417.99,274.47 1418.65,279.33 1419.32,281.91 1419.98,283.71 1420.65,286.02 1421.31,290.68 1421.98,296.46 1422.64,300.35 1423.3,303.57 1423.97,306.59 1424.63,309.86 1425.3,313.45 1425.96,317.22 1426.63,321.65 1427.29,327.93 1427.96,334.86 1428.62,340.04 1429.28,344.58 1429.95,348.41 1430.61,351.48 1431.28,354.04 1431.94,356.45 1432.61,359.09 1433.27,362.17 1433.94,365.5 1434.6,368.93 1435.26,372.34 1435.93,375.66 1436.59,378.98 1437.26,382.3 1437.92,385.63 1438.59,389.04 1439.25,392.55 1439.92,395.93 1440.58,398.97 1441.24,401.65 1441.91,404.17 1442.57,406.43 1443.24,408.36 1443.9,409.98 1444.57,411.44 1445.23,412.7 1445.89,413.74 1446.56,414.63 1447.22,415.47 1447.89,416.24 1448.55,416.89 1449.22,417.42 1449.88,417.77 1450.55,418.02 1451.21,418.24 1451.87,418.43 1452.54,418.58 1453.2,418.68 1453.87,418.7 1454.53,418.7 1455.2,418.7 1455.86,418.7 1456.53,418.7 1457.19,418.7 1457.85,418.7 1458.52,418.7 1459.18,418.7 1459.85,418.7 1460.51,418.7 1461.18,418.7 1461.84,418.7 1462.51,418.7 1463.17,418.7 1463.83,418.7 1464.5,418.7 1465.16,418.7 1465.83,418.7 1466.49,418.7 1467.16,418.7 1467.82,418.7 1468.48,418.7 1469.15,418.7 1469.81,418.7 1470.48,418.7 1471.14,418.7 1471.81,418.7 1472.47,418.7 1473.14,418.7 1473.8,418.7 1474.46,418.7 1475.13,418.7 1475.79,418.7 1476.46,418.7 1477.12,418.7 1477.79,418.7 1478.45,418.7 1479.12,418.7 1479.78,418.7 1479.78,418.7 1306.37,418.7" fill="#c8c8c8" stroke="none" stroke-width="1"/>
<polyline points="1338.48,412.48 1338.76,410.54 1339.05,407.83 1339.36,404.52 1339.68,400.76 1340.01,396.43 1340.36,390.77 1340.73,384.29 1341.1,377.61 1341.48,371.33 1341.88,365.08 1342.29,358.76 1342.69,352.65 1343.06,347.02 1343.39,341.97 1343.7,337.28 1343.99,332.85 1344.28,328.58 1344.58,324.39 1344.9,320.33 1345.22,316.41 1345.52,312.57 1345.79,308.78 1346.02,305.01 1346.24,301.28 1346.44,297.65 1346.64,294.18 1346.83,290.9 1347.02,287.73 1347.2,284.68 1347.38,281.79 1347.54,279.05 1347.69,276.25 1347.83,273.53 1347.97,271.14 1348.14,269.34 1348.36,268.02 1348.62,266.8 1348.91,265.84 1349.21,265.29 1349.5,265.23 1349.81,265.38 1350.13,265.68 1350.43,266.09 1350.71,266.61 1350.97,268.11 1351.21,270.78 1351.44,274.11 1351.68,277.56 1351.92,280.91 1352.16,284.62 1352.39,288.63 1352.64,292.85 1352.89,297.19 1353.16,301.77 1353.43,306.59 1353.71,311.58 1353.99,316.67 1354.25,321.91 1354.52,327.34 1354.79,332.87 1355.07,338.4 1355.35,343.9 1355.65,349.54 1355.95,355.16 1356.26,360.56 1356.57,365.51 1356.89,370.15 1357.22,374.56 1357.55,378.7 1357.9,382.5 1358.27,385.95 1358.65,389.13 1359.04,392.1 1359.45,394.9 1359.87,397.6 1360.31,400.19 1360.75,402.65 1361.22,404.98 1361.7,407.18" fill="none" stroke="#444" stroke-width="1.3" stroke-dasharray="5 3.5"/>
<polyline points="1306.37,418.7 1307.03,418.7 1307.7,418.7 1308.36,418.7 1309.03,418.7 1309.69,418.69 1310.36,418.67 1311.02,418.66 1311.68,418.64 1312.35,418.62 1313.01,418.6 1313.68,418.57 1314.34,418.55 1315.01,418.52 1315.67,418.49 1316.33,418.46 1317,418.43 1317.66,418.39 1318.33,418.36 1318.99,418.31 1319.66,418.28 1320.32,418.25 1320.99,418.2 1321.65,418.14 1322.31,418.1 1322.98,418.06 1323.64,418.03 1324.31,417.96 1324.97,417.91 1325.64,417.87 1326.3,417.79 1326.97,417.75 1327.63,417.7 1328.29,417.62 1328.96,417.53 1329.62,417.44 1330.29,417.25 1330.95,417.23 1331.62,417.06 1332.28,416.9 1332.95,416.82 1333.61,416.69 1334.27,416.5 1334.94,416.31 1335.6,416.2 1336.27,416.03 1336.93,415.93 1337.6,415.72 1338.26,415.49 1338.92,415.33 1339.59,415.01 1340.25,414.7 1340.92,414.53 1341.58,414.25 1342.25,413.88 1342.91,413.51 1343.58,413.27 1344.24,412.65 1344.9,412.58 1345.57,412.12 1346.23,411.39 1346.9,411.11 1347.56,410.46 1348.23,410.2 1348.89,409.26 1349.56,408.94 1350.22,408.76 1350.88,408.41 1351.55,407.37 1352.21,407.28 1352.88,407.04 1353.54,406.45 1354.21,406.52 1354.87,405.48 1355.53,405.4 1356.2,404.61 1356.86,404.76 1357.53,403.94 1358.19,403.38 1358.86,402.51 1359.52,402.95 1360.19,402.16 1360.85,401.6 1361.51,401.13 1362.18,400.3 1362.84,399.37 1363.51,398.67 1364.17,397.96 1364.84,397.93 1365.5,396.05 1366.17,395.32 1366.83,394.05 1367.49,392.24 1368.16,390.1 1368.82,387.32 1369.49,385.17 1370.15,383.58 1370.82,382.12 1371.48,380.95 1372.15,380.9 1372.81,381.34 1373.47,382.27 1374.14,382.52 1374.8,382.57 1375.47,380.69 1376.13,379.14 1376.8,377.06 1377.46,375.29 1378.12,372.8 1378.79,371.1 1379.45,368.38 1380.12,366.16 1380.78,362.51 1381.45,361.06 1382.11,359.9 1382.78,360.46 1383.44,360.11 1384.1,362.03 1384.77,362.42 1385.43,361.14 1386.1,359.65 1386.76,357.56 1387.43,355.81 1388.09,354.42 1388.76,353.4 1389.42,351.14 1390.08,349.98 1390.75,348.21 1391.41,347.11 1392.08,344.97 1392.74,343.3 1393.41,340.42 1394.07,338.56 1394.74,336.04 1395.4,334.39 1396.06,331.41 1396.73,328.08 1397.39,323.78 1398.06,320.05 1398.72,318.89 1399.39,318.53 1400.05,318.59 1400.71,315.93 1401.38,307.18 1402.04,300.21 1402.71,296.72 1403.37,294.7 1404.04,295.03 1404.7,295.01 1405.37,294.61 1406.03,294.56 1406.69,294 1407.36,293.14 1408.02,291.69 1408.69,291.6 1409.35,292.13 1410.02,292.87 1410.68,294.29 1411.35,295.31 1412.01,296.34 1412.67,297.34 1413.34,295.37 1414,293.08 1414.67,294.9 1415.33,299.19 1416,304.28 1416.66,305.56 1417.33,304.56 1417.99,300.94 1418.65,302.65 1419.32,305.25 1419.98,303.81 1420.65,301.45 1421.31,301.8 1421.98,304.03 1422.64,305.25 1423.3,307.62 1423.97,310.31 1424.63,311.89 1425.3,314.82 1425.96,316.93 1426.63,321.3 1427.29,326.06 1427.96,332.03 1428.62,339.53 1429.28,346.07 1429.95,347.5 1430.61,348.93 1431.28,349.95 1431.94,352.15 1432.61,353.16 1433.27,355.82 1433.94,357.59 1434.6,360.6 1435.26,364.7 1435.93,368.63 1436.59,372.47 1437.26,375.15 1437.92,376.83 1438.59,378.81 1439.25,381.03 1439.92,382.5 1440.58,384.37 1441.24,386.17 1441.91,387.84 1442.57,391.19 1443.24,393.19 1443.9,396.87 1444.57,399.05 1445.23,401.31 1445.89,402.67 1446.56,404.06 1447.22,405.81 1447.89,406.98 1448.55,408.38 1449.22,409.71 1449.88,410.97 1450.55,412.2 1451.21,413.26 1451.87,414.3 1452.54,414.96 1453.2,415.74 1453.87,416.34 1454.53,417.03 1455.2,417.57 1455.86,418 1456.53,418.39 1457.19,418.63 1457.85,418.7 1458.52,418.7 1459.18,418.7 1459.85,418.7 1460.51,418.7 1461.18,418.7 1461.84,418.7 1462.51,418.7 1463.17,418.7 1463.83,418.7 1464.5,418.7 1465.16,418.7 1465.83,418.7 1466.49,418.7 1467.16,418.7 1467.82,418.7 1468.48,418.7 1469.15,418.7 1469.81,418.7 1470.48,418.7 1471.14,418.7 1471.81,418.7 1472.47,418.7 1473.14,418.7 1473.8,418.7 1474.46,418.7 1475.13,418.7 1475.79,418.7 1476.46,418.7 1477.12,418.7 1477.79,418.7 1478.45,418.7 1479.12,418.7 1479.78,418.7" fill="none" stroke="#000" stroke-width="1.2"/>
<polyline points="1306.37,418.7 1307.03,418.7 1307.7,418.7 1308.36,418.7 1309.03,418.7 1309.69,418.7 1310.36,418.69 1311.02,418.68 1311.68,418.67 1312.35,418.65 1313.01,418.64 1313.68,418.62 1314.34,418.6 1315.01,418.58 1315.67,418.57 1316.33,418.55 1317,418.52 1317.66,418.49 1318.33,418.47 1318.99,418.45 1319.66,418.4 1320.32,418.39 1320.99,418.36 1321.65,418.32 1322.31,418.3 1322.98,418.26 1323.64,418.22 1324.31,418.19 1324.97,418.13 1325.64,418.1 1326.3,418.09 1326.97,418.01 1327.63,417.98 1328.29,417.88 1328.96,417.79 1329.62,417.66 1330.29,417.48 1330.95,417.37 1331.62,417.24 1332.28,417.04 1332.95,416.86 1333.61,416.74 1334.27,416.52 1334.94,416.29 1335.6,416.15 1336.27,416.04 1336.93,415.8 1337.6,415.7 1338.26,415.57 1338.92,415.33 1339.59,415.11 1340.25,414.96 1340.92,414.92 1341.58,414.86 1342.25,414.7 1342.91,414.6 1343.58,414.4 1344.24,414.33 1344.9,414.14 1345.57,414 1346.23,413.75 1346.9,413.54 1347.56,413.41 1348.23,413.09 1348.89,412.83 1349.56,412.71 1350.22,412.32 1350.88,412.38 1351.55,411.86 1352.21,411.39 1352.88,411.33 1353.54,411.05 1354.21,410.71 1354.87,410.78 1355.53,410.34 1356.2,409.83 1356.86,410.23 1357.53,409.83 1358.19,409.96 1358.86,409.39 1359.52,409.05 1360.19,409.21 1360.85,408.39 1361.51,408.21 1362.18,407.99 1362.84,407.23 1363.51,406.64 1364.17,406.08 1364.84,405.53 1365.5,404.32 1366.17,403.84 1366.83,403 1367.49,402.74 1368.16,401.18 1368.82,400.11 1369.49,399.89 1370.15,399.1 1370.82,399.37 1371.48,399.53 1372.15,400.11 1372.81,399.65 1373.47,399.75 1374.14,398.55 1374.8,398.52 1375.47,398.67 1376.13,397.16 1376.8,396.46 1377.46,395.66 1378.12,395.65 1378.79,394.84 1379.45,393.68 1380.12,393.64 1380.78,392.82 1381.45,392.35 1382.11,391.24 1382.78,391.46 1383.44,390.36 1384.1,389.5 1384.77,388.6 1385.43,387.82 1386.1,387.21 1386.76,385.72 1387.43,385.02 1388.09,383.64 1388.76,382.69 1389.42,381.27 1390.08,379.67 1390.75,377.69 1391.41,377.1 1392.08,375.9 1392.74,374.33 1393.41,373.16 1394.07,371.52 1394.74,370.24 1395.4,368.65 1396.06,368 1396.73,366.1 1397.39,364.24 1398.06,362.01 1398.72,359.74 1399.39,356.65 1400.05,352.51 1400.71,348.97 1401.38,347.69 1402.04,346.1 1402.71,344.49 1403.37,342.77 1404.04,340.87 1404.7,338.39 1405.37,336.05 1406.03,333.02 1406.69,331.31 1407.36,328.26 1408.02,326.2 1408.69,322.01 1409.35,320.14 1410.02,317.34 1410.68,313.88 1411.35,310.99 1412.01,307.8 1412.67,304.34 1413.34,300.28 1414,296.34 1414.67,291.16 1415.33,285.95 1416,283.82 1416.66,282.69 1417.33,281.25 1417.99,279.96 1418.65,277.54 1419.32,275.62 1419.98,273.83 1420.65,270.75 1421.31,269.1 1421.98,268.72 1422.64,268.49 1423.3,267.55 1423.97,267.5 1424.63,265.74 1425.3,266.07 1425.96,265.74 1426.63,267.05 1427.29,269.23 1427.96,270.94 1428.62,273.53 1429.28,275.57 1429.95,276.45 1430.61,276.58 1431.28,277.06 1431.94,278.89 1432.61,280.63 1433.27,283.32 1433.94,286.25 1434.6,289.31 1435.26,290.77 1435.93,291.97 1436.59,292.62 1437.26,294.15 1437.92,297.36 1438.59,301.16 1439.25,306.22 1439.92,310.68 1440.58,314.94 1441.24,320.24 1441.91,325.7 1442.57,333.37 1443.24,341.58 1443.9,345.9 1444.57,347.6 1445.23,347.76 1445.89,350.04 1446.56,353.57 1447.22,359.08 1447.89,365.91 1448.55,371.2 1449.22,378.06 1449.88,383.1 1450.55,385.49 1451.21,388.31 1451.87,390.33 1452.54,391.91 1453.2,395.85 1453.87,401.28 1454.53,404.41 1455.2,405.56 1455.86,406.78 1456.53,407.63 1457.19,408.43 1457.85,409.44 1458.52,410.13 1459.18,411.07 1459.85,411.77 1460.51,412.52 1461.18,413.61 1461.84,414.93 1462.51,416.25 1463.17,417.43 1463.83,418.36 1464.5,418.7 1465.16,418.7 1465.83,418.7 1466.49,418.7 1467.16,418.7 1467.82,418.7 1468.48,418.7 1469.15,418.7 1469.81,418.7 1470.48,418.7 1471.14,418.7 1471.81,418.7 1472.47,418.7 1473.14,418.7 1473.8,418.7 1474.46,418.7 1475.13,418.7 1475.79,418.7 1476.46,418.7 1477.12,418.7 1477.79,418.7 1478.45,418.7 1479.12,418.7 1479.78,418.7" fill="none" stroke="#ff0000" stroke-width="1.2"/>
<rect x="1306.4" y="246.3" width="173.4" height="172.4" fill="none" stroke="#111" stroke-width="1.3"/>
<line x1="1300.9" y1="418.7" x2="1306.4" y2="418.7" stroke="#111" stroke-width="1.1"/>
<text x="1283.98" y="425.4" font-size="18.8">0</text>
<line x1="1303.4" y1="410.48" x2="1306.4" y2="410.48" stroke="#111" stroke-width="0.9"/>
<line x1="1303.4" y1="402.26" x2="1306.4" y2="402.26" stroke="#111" stroke-width="0.9"/>
<line x1="1303.4" y1="394.04" x2="1306.4" y2="394.04" stroke="#111" stroke-width="0.9"/>
<line x1="1300.9" y1="385.82" x2="1306.4" y2="385.82" stroke="#111" stroke-width="1.1"/>
<text x="1273.52" y="392.52" font-size="18.8">20</text>
<line x1="1303.4" y1="377.6" x2="1306.4" y2="377.6" stroke="#111" stroke-width="0.9"/>
<line x1="1303.4" y1="369.38" x2="1306.4" y2="369.38" stroke="#111" stroke-width="0.9"/>
<line x1="1303.4" y1="361.16" x2="1306.4" y2="361.16" stroke="#111" stroke-width="0.9"/>
<line x1="1300.9" y1="352.94" x2="1306.4" y2="352.94" stroke="#111" stroke-width="1.1"/>
<text x="1273.52" y="359.64" font-size="18.8">40</text>
<line x1="1303.4" y1="344.72" x2="1306.4" y2="344.72" stroke="#111" stroke-width="0.9"/>
<line x1="1303.4" y1="336.5" x2="1306.4" y2="336.5" stroke="#111" stroke-width="0.9"/>
<line x1="1303.4" y1="328.28" x2="1306.4" y2="328.28" stroke="#111" stroke-width="0.9"/>
<line x1="1300.9" y1="320.06" x2="1306.4" y2="320.06" stroke="#111" stroke-width="1.1"/>
<text x="1273.52" y="326.76" font-size="18.8">60</text>
<line x1="1303.4" y1="311.84" x2="1306.4" y2="311.84" stroke="#111" stroke-width="0.9"/>
<line x1="1303.4" y1="303.62" x2="1306.4" y2="303.62" stroke="#111" stroke-width="0.9"/>
<line x1="1303.4" y1="295.4" x2="1306.4" y2="295.4" stroke="#111" stroke-width="0.9"/>
<line x1="1300.9" y1="287.18" x2="1306.4" y2="287.18" stroke="#111" stroke-width="1.1"/>
<text x="1273.52" y="293.88" font-size="18.8">80</text>
<line x1="1303.4" y1="278.96" x2="1306.4" y2="278.96" stroke="#111" stroke-width="0.9"/>
<line x1="1303.4" y1="270.74" x2="1306.4" y2="270.74" stroke="#111" stroke-width="0.9"/>
<line x1="1303.4" y1="262.52" x2="1306.4" y2="262.52" stroke="#111" stroke-width="0.9"/>
<line x1="1300.9" y1="254.3" x2="1306.4" y2="254.3" stroke="#111" stroke-width="1.1"/>
<text x="1263.07" y="261" font-size="18.8">100</text>
<line x1="1337.2" y1="418.7" x2="1337.2" y2="423.7" stroke="#111" stroke-width="1.1"/>
<line x1="1350.4" y1="418.7" x2="1350.4" y2="423.7" stroke="#111" stroke-width="1.1"/>
<line x1="1363.7" y1="418.7" x2="1363.7" y2="423.7" stroke="#111" stroke-width="1.1"/>
<line x1="1407.5" y1="418.7" x2="1407.5" y2="423.7" stroke="#111" stroke-width="1.1"/>
<line x1="1446.6" y1="418.7" x2="1446.6" y2="423.7" stroke="#111" stroke-width="1.1"/>
<line x1="1380.17" y1="418.7" x2="1380.17" y2="421.7" stroke="#111" stroke-width="0.8"/>
<line x1="1419.27" y1="418.7" x2="1419.27" y2="421.7" stroke="#111" stroke-width="0.8"/>
<line x1="1458.37" y1="418.7" x2="1458.37" y2="421.7" stroke="#111" stroke-width="0.8"/>
<line x1="1387.06" y1="418.7" x2="1387.06" y2="421.7" stroke="#111" stroke-width="0.8"/>
<line x1="1426.16" y1="418.7" x2="1426.16" y2="421.7" stroke="#111" stroke-width="0.8"/>
<line x1="1465.26" y1="418.7" x2="1465.26" y2="421.7" stroke="#111" stroke-width="0.8"/>
<line x1="1391.94" y1="418.7" x2="1391.94" y2="421.7" stroke="#111" stroke-width="0.8"/>
<line x1="1431.04" y1="418.7" x2="1431.04" y2="421.7" stroke="#111" stroke-width="0.8"/>
<line x1="1470.14" y1="418.7" x2="1470.14" y2="421.7" stroke="#111" stroke-width="0.8"/>
<line x1="1395.73" y1="418.7" x2="1395.73" y2="421.7" stroke="#111" stroke-width="0.8"/>
<line x1="1434.83" y1="418.7" x2="1434.83" y2="421.7" stroke="#111" stroke-width="0.8"/>
<line x1="1473.93" y1="418.7" x2="1473.93" y2="421.7" stroke="#111" stroke-width="0.8"/>
<line x1="1398.83" y1="418.7" x2="1398.83" y2="421.7" stroke="#111" stroke-width="0.8"/>
<line x1="1437.93" y1="418.7" x2="1437.93" y2="421.7" stroke="#111" stroke-width="0.8"/>
<line x1="1477.03" y1="418.7" x2="1477.03" y2="421.7" stroke="#111" stroke-width="0.8"/>
<line x1="1401.44" y1="418.7" x2="1401.44" y2="421.7" stroke="#111" stroke-width="0.8"/>
<line x1="1440.54" y1="418.7" x2="1440.54" y2="421.7" stroke="#111" stroke-width="0.8"/>
<line x1="1479.64" y1="418.7" x2="1479.64" y2="421.7" stroke="#111" stroke-width="0.8"/>
<line x1="1403.71" y1="418.7" x2="1403.71" y2="421.7" stroke="#111" stroke-width="0.8"/>
<line x1="1442.81" y1="418.7" x2="1442.81" y2="421.7" stroke="#111" stroke-width="0.8"/>
<line x1="1405.71" y1="418.7" x2="1405.71" y2="421.7" stroke="#111" stroke-width="0.8"/>
<line x1="1444.81" y1="418.7" x2="1444.81" y2="421.7" stroke="#111" stroke-width="0.8"/>
<line x1="1310" y1="418.7" x2="1310" y2="421.7" stroke="#111" stroke-width="0.8"/>
<line x1="1318" y1="418.7" x2="1318" y2="421.7" stroke="#111" stroke-width="0.8"/>
<line x1="1326" y1="418.7" x2="1326" y2="421.7" stroke="#111" stroke-width="0.8"/>
<line x1="1341" y1="418.7" x2="1341" y2="421.7" stroke="#111" stroke-width="0.8"/>
<line x1="1344" y1="418.7" x2="1344" y2="421.7" stroke="#111" stroke-width="0.8"/>
<line x1="1347" y1="418.7" x2="1347" y2="421.7" stroke="#111" stroke-width="0.8"/>
<line x1="1353" y1="418.7" x2="1353" y2="421.7" stroke="#111" stroke-width="0.8"/>
<line x1="1356" y1="418.7" x2="1356" y2="421.7" stroke="#111" stroke-width="0.8"/>
<line x1="1359" y1="418.7" x2="1359" y2="421.7" stroke="#111" stroke-width="0.8"/>
<text x="1345.42" y="450.4" font-size="19">0</text>
<text x="1394.95" y="450.4" font-size="19">10</text>
<text x="1415.86" y="441.8" font-size="12.5">4</text>
<text x="1433.55" y="450.4" font-size="19">10</text>
<text x="1454.24" y="441.8" font-size="12.5">5</text>
<text x="1319.2" y="263.2" font-size="18.8">8,964</text>
<text x="1309.22" y="286.4" font-size="18.8" fill="#ff0000">16,986</text>
<text x="1319.6" y="311" font-size="18.8" fill="#555555">7,802</text>
<text transform="translate(1249.3 337) rotate(-90)" x="-111.78" y="0">Events (% of max)</text>
<text x="1302.61" y="489">CD25-PE</text>
<line x1="1428.8" y1="480.7" x2="1466" y2="480.7" stroke="#000" stroke-width="2"/>
<polygon points="1463,472.7 1477,480.7 1463,488.3 1465.2,480.7" fill="#000" stroke="none" stroke-width="1"/>
<polygon points="1572.3,418.7 1572.96,418.7 1573.63,418.7 1574.29,418.7 1574.96,418.7 1575.62,418.7 1576.29,418.7 1576.95,418.7 1577.62,418.7 1578.28,418.7 1578.95,418.7 1579.61,418.7 1580.28,418.7 1580.94,418.7 1581.61,418.7 1582.27,418.7 1582.94,418.7 1583.6,418.7 1584.27,418.7 1584.93,418.7 1585.6,418.7 1586.26,418.7 1586.93,418.7 1587.59,418.7 1588.26,418.7 1588.92,418.7 1589.59,418.7 1590.25,418.7 1590.92,418.7 1591.58,418.7 1592.25,418.7 1592.91,418.7 1593.57,418.7 1594.24,418.7 1594.9,418.7 1595.57,418.7 1596.23,418.7 1596.9,418.7 1597.56,418.7 1598.23,418.7 1598.89,418.7 1599.56,418.7 1600.22,418.7 1600.89,418.7 1601.55,418.7 1602.22,418.7 1602.88,418.7 1603.55,418.7 1604.21,418.7 1604.88,418.7 1605.54,418.7 1606.21,418.7 1606.87,418.7 1607.54,418.7 1608.2,418.7 1608.87,418.7 1609.53,418.7 1610.2,418.7 1610.86,418.7 1611.53,418.7 1612.19,418.7 1612.86,418.7 1613.52,418.7 1614.19,418.7 1614.85,418.7 1615.52,418.7 1616.18,418.7 1616.85,418.7 1617.51,418.7 1618.18,418.7 1618.84,418.7 1619.51,418.7 1620.17,418.7 1620.84,418.7 1621.5,418.61 1622.17,418.38 1622.83,418.05 1623.5,417.64 1624.16,417.18 1624.83,416.69 1625.49,416.22 1626.16,415.77 1626.82,415.39 1627.49,415.08 1628.15,414.83 1628.82,414.59 1629.48,414.36 1630.15,414.15 1630.81,413.94 1631.48,413.75 1632.14,413.56 1632.81,413.37 1633.47,413.19 1634.14,413 1634.8,412.81 1635.47,412.62 1636.13,412.42 1636.8,412.22 1637.46,412 1638.12,411.77 1638.79,411.53 1639.45,411.31 1640.12,411.08 1640.78,410.84 1641.45,410.6 1642.11,410.34 1642.78,410.06 1643.44,409.76 1644.11,409.43 1644.77,409.07 1645.44,408.65 1646.1,408.16 1646.77,407.62 1647.43,407.03 1648.1,406.41 1648.76,405.75 1649.43,405.07 1650.09,404.39 1650.76,403.69 1651.42,403.01 1652.09,402.31 1652.75,401.59 1653.42,400.85 1654.08,400.09 1654.75,399.31 1655.41,398.5 1656.08,397.66 1656.74,396.79 1657.41,395.89 1658.07,394.96 1658.74,394.02 1659.4,393.07 1660.07,392.04 1660.73,390.9 1661.4,389.61 1662.06,388.09 1662.73,386.02 1663.39,383.55 1664.06,380.97 1664.72,378.57 1665.39,376.29 1666.05,374 1666.72,371.66 1667.38,369.19 1668.05,366.54 1668.71,363.8 1669.38,361.11 1670.04,358.59 1670.71,356.29 1671.37,354.07 1672.04,351.76 1672.7,349.2 1673.37,346.36 1674.03,343.34 1674.7,340.21 1675.36,337.02 1676.03,333.52 1676.69,329.94 1677.36,326.66 1678.02,324.02 1678.69,321.77 1679.35,319.77 1680.02,317.98 1680.68,316.41 1681.35,315.3 1682.01,314.3 1682.67,312.91 1683.34,310.06 1684,302.5 1684.67,296.53 1685.33,292.5 1686,289.21 1686.66,286.62 1687.33,284.3 1687.99,281.7 1688.66,278.03 1689.32,271.81 1689.99,266.36 1690.65,265.24 1691.32,265.54 1691.98,266.11 1692.65,267.2 1693.31,270.76 1693.98,275.17 1694.64,278.29 1695.31,280.8 1695.97,282.87 1696.64,284.33 1697.3,285.27 1697.97,286.05 1698.63,287.01 1699.3,288.57 1699.96,291.24 1700.63,294.77 1701.29,298.77 1701.96,302.97 1702.62,307.91 1703.29,313.43 1703.95,319.17 1704.62,324.9 1705.28,330.96 1705.95,337.16 1706.61,343.15 1707.28,348.65 1707.94,353.79 1708.61,358.71 1709.27,363.53 1709.94,368.35 1710.6,373.2 1711.27,377.96 1711.93,382.45 1712.6,386.59 1713.26,390.51 1713.93,394.2 1714.59,397.61 1715.26,400.75 1715.92,403.8 1716.59,406.61 1717.25,408.93 1717.92,410.62 1718.58,412.1 1719.25,413.42 1719.91,414.56 1720.58,415.5 1721.24,416.21 1721.91,416.7 1722.57,417.14 1723.24,417.54 1723.9,417.9 1724.57,418.21 1725.23,418.45 1725.89,418.62 1726.56,418.7 1727.22,418.7 1727.89,418.7 1728.55,418.7 1729.22,418.7 1729.88,418.7 1730.55,418.7 1731.21,418.7 1731.88,418.7 1732.54,418.7 1733.21,418.7 1733.87,418.7 1734.54,418.7 1735.2,418.7 1735.87,418.7 1736.53,418.7 1737.2,418.7 1737.86,418.7 1738.53,418.7 1739.19,418.7 1739.86,418.7 1740.52,418.7 1741.19,418.7 1741.85,418.7 1742.52,418.7 1743.18,418.7 1743.85,418.7 1744.51,418.7 1745.18,418.7 1745.18,418.7 1572.3,418.7" fill="#c8c8c8" stroke="none" stroke-width="1"/>
<polyline points="1621.39,417.79 1621.82,413.31 1622.24,408.48 1622.65,403.34 1623.03,397.91 1623.4,392.22 1623.75,385.91 1624.08,378.99 1624.4,371.87 1624.71,364.96 1625.01,358.67 1625.3,352.96 1625.57,347.58 1625.84,342.36 1626.1,337.18 1626.34,331.86 1626.57,326.33 1626.78,320.7 1626.99,315.18 1627.2,309.96 1627.41,305.19 1627.63,300.71 1627.84,296.44 1628.06,292.43 1628.27,288.75 1628.49,285.42 1628.7,282.12 1628.91,278.94 1629.12,276.16 1629.34,274.04 1629.57,272.77 1629.8,271.77 1630.04,270.92 1630.28,270.28 1630.53,269.91 1630.79,269.87 1631.05,270.08 1631.32,270.45 1631.6,270.95 1631.87,271.54 1632.14,272.2 1632.41,273.17 1632.68,274.45 1632.95,275.97 1633.22,277.68 1633.47,279.62 1633.72,282.13 1633.96,285.1 1634.19,288.38 1634.43,291.79 1634.67,295.28 1634.92,299.08 1635.16,303.13 1635.4,307.35 1635.64,311.63 1635.88,315.96 1636.13,320.42 1636.37,325 1636.61,329.66 1636.85,334.35 1637.09,339.08 1637.33,343.89 1637.56,348.76 1637.8,353.64 1638.06,358.5 1638.33,363.39 1638.61,368.36 1638.9,373.32 1639.21,378.15 1639.53,382.74 1639.85,387.26 1640.19,391.88 1640.54,396.27 1640.9,400.11 1641.27,403.05 1641.65,405.31 1642.04,407.37 1642.44,409.12 1642.86,410.42 1643.28,411.16" fill="none" stroke="#444" stroke-width="1.3" stroke-dasharray="5 3.5"/>
<polyline points="1572.3,418.7 1572.96,418.7 1573.63,418.7 1574.29,418.7 1574.96,418.7 1575.62,418.7 1576.29,418.7 1576.95,418.7 1577.62,418.7 1578.28,418.7 1578.95,418.7 1579.61,418.7 1580.28,418.7 1580.94,418.7 1581.61,418.7 1582.27,418.7 1582.94,418.7 1583.6,418.7 1584.27,418.7 1584.93,418.7 1585.6,418.7 1586.26,418.7 1586.93,418.7 1587.59,418.7 1588.26,418.7 1588.92,418.7 1589.59,418.69 1590.25,418.69 1590.92,418.69 1591.58,418.69 1592.25,418.69 1592.91,418.68 1593.57,418.68 1594.24,418.68 1594.9,418.67 1595.57,418.67 1596.23,418.67 1596.9,418.66 1597.56,418.66 1598.23,418.65 1598.89,418.65 1599.56,418.65 1600.22,418.64 1600.89,418.64 1601.55,418.63 1602.22,418.63 1602.88,418.62 1603.55,418.62 1604.21,418.61 1604.88,418.61 1605.54,418.6 1606.21,418.6 1606.87,418.59 1607.54,418.59 1608.2,418.58 1608.87,418.57 1609.53,418.56 1610.2,418.55 1610.86,418.55 1611.53,418.54 1612.19,418.54 1612.86,418.52 1613.52,418.51 1614.19,418.51 1614.85,418.5 1615.52,418.49 1616.18,418.48 1616.85,418.47 1617.51,418.46 1618.18,418.45 1618.84,418.42 1619.51,418.35 1620.17,418.26 1620.84,418.12 1621.5,417.96 1622.17,417.76 1622.83,416.94 1623.5,415.51 1624.16,413.79 1624.83,412.14 1625.49,410.23 1626.16,407.63 1626.82,405.96 1627.49,404.4 1628.15,403.33 1628.82,402.2 1629.48,401.95 1630.15,401.51 1630.81,400.29 1631.48,400.86 1632.14,400.75 1632.81,400.15 1633.47,400.04 1634.14,400.51 1634.8,399.89 1635.47,398.8 1636.13,398.1 1636.8,396.67 1637.46,395.53 1638.12,394.46 1638.79,396.72 1639.45,397.79 1640.12,398.56 1640.78,397.36 1641.45,395.77 1642.11,393.3 1642.78,390.39 1643.44,387.69 1644.11,385.19 1644.77,382.85 1645.44,382.22 1646.1,380.96 1646.77,380.51 1647.43,382.19 1648.1,382.6 1648.76,383.57 1649.43,381.5 1650.09,379.07 1650.76,375.43 1651.42,373.1 1652.09,371.35 1652.75,368.68 1653.42,366.78 1654.08,365.74 1654.75,365.72 1655.41,364.87 1656.08,364.69 1656.74,364.34 1657.41,361.55 1658.07,358.01 1658.74,353 1659.4,347.04 1660.07,341.93 1660.73,337.61 1661.4,335.92 1662.06,336.5 1662.73,336.67 1663.39,336.62 1664.06,335.44 1664.72,334.31 1665.39,331.94 1666.05,330.81 1666.72,329.31 1667.38,327.71 1668.05,326.28 1668.71,325.04 1669.38,325.08 1670.04,324 1670.71,322.98 1671.37,315.96 1672.04,306.9 1672.7,299.11 1673.37,289.99 1674.03,286.5 1674.7,284.18 1675.36,284.12 1676.03,288.28 1676.69,289.27 1677.36,284.31 1678.02,279.72 1678.69,278.2 1679.35,280.72 1680.02,283.5 1680.68,283.52 1681.35,281 1682.01,277.24 1682.67,274.82 1683.34,271.51 1684,268.67 1684.67,268.33 1685.33,271.42 1686,277.96 1686.66,282.18 1687.33,284.24 1687.99,285.49 1688.66,285.2 1689.32,286.76 1689.99,287.53 1690.65,288.59 1691.32,290.07 1691.98,291.2 1692.65,292.32 1693.31,295.78 1693.98,301.66 1694.64,308.34 1695.31,313.33 1695.97,317.78 1696.64,322.92 1697.3,327.46 1697.97,332.7 1698.63,338.58 1699.3,346.28 1699.96,350.01 1700.63,355.59 1701.29,360.75 1701.96,363.93 1702.62,367.77 1703.29,370.75 1703.95,374.92 1704.62,377.08 1705.28,380.54 1705.95,383.28 1706.61,385.51 1707.28,388.71 1707.94,390.33 1708.61,392.91 1709.27,395.4 1709.94,397.47 1710.6,400 1711.27,402.33 1711.93,404.09 1712.6,405.97 1713.26,407.67 1713.93,409.1 1714.59,410.58 1715.26,411.67 1715.92,412.89 1716.59,413.89 1717.25,414.77 1717.92,415.65 1718.58,416.18 1719.25,416.69 1719.91,417.15 1720.58,417.49 1721.24,417.87 1721.91,418.17 1722.57,418.43 1723.24,418.61 1723.9,418.7 1724.57,418.7 1725.23,418.7 1725.89,418.7 1726.56,418.7 1727.22,418.7 1727.89,418.7 1728.55,418.7 1729.22,418.7 1729.88,418.7 1730.55,418.7 1731.21,418.7 1731.88,418.7 1732.54,418.7 1733.21,418.7 1733.87,418.7 1734.54,418.7 1735.2,418.7 1735.87,418.7 1736.53,418.7 1737.2,418.7 1737.86,418.7 1738.53,418.7 1739.19,418.7 1739.86,418.7 1740.52,418.7 1741.19,418.7 1741.85,418.7 1742.52,418.7 1743.18,418.7 1743.85,418.7 1744.51,418.7 1745.18,418.7" fill="none" stroke="#000" stroke-width="1.2"/>
<polyline points="1622.05,418.7 1622.72,418.61 1623.38,418.5 1624.05,418.38 1624.71,418.27 1625.38,418.15 1626.05,418.02 1626.71,417.91 1627.38,417.79 1628.04,417.67 1628.71,417.51 1629.37,417.37 1630.04,417.31 1630.7,417.16 1631.37,417.09 1632.04,416.97 1632.7,416.81 1633.37,416.62 1634.03,416.45 1634.7,416.27 1635.36,415.9 1636.03,415.66 1636.69,415.29 1637.36,414.89 1638.02,414.6 1638.69,414.07 1639.36,413.86 1640.02,413.37 1640.69,413.06 1641.35,412.71 1642.02,412.55 1642.68,412.07 1643.35,411.85 1644.01,411.34 1644.68,411.25 1645.35,410.92 1646.01,410.18 1646.68,409.87 1647.34,409.22 1648.01,409.1 1648.67,408.5 1649.34,408.06 1650,408.52 1650.67,408.16 1651.34,407.91 1652,407.86 1652.67,407.49 1653.33,407.12 1654,405.76 1654.66,404.9 1655.33,403.15 1655.99,401.01 1656.66,399.89 1657.33,399.31 1657.99,398.09 1658.66,398.07 1659.32,397.48 1659.99,396.61 1660.65,396.03 1661.32,395.66 1661.98,395.11 1662.65,394.09 1663.32,392.3 1663.98,390.44 1664.65,386.99 1665.31,384.32 1665.98,381.09 1666.64,379.12 1667.31,375.9 1667.97,373.5 1668.64,371.41 1669.31,369.28 1669.97,366.37 1670.64,364.74 1671.3,363.16 1671.97,361.22 1672.63,358.48 1673.3,355.87 1673.96,352.37 1674.63,349.34 1675.3,345.36 1675.96,340.32 1676.63,335.4 1677.29,332.23 1677.96,330.11 1678.62,328.14 1679.29,327.12 1679.95,325.54 1680.62,324.13 1681.29,323.99 1681.95,322.97 1682.62,322.17 1683.28,319.84 1683.95,316.86 1684.61,311.92 1685.28,307.93 1685.94,302.66 1686.61,298.03 1687.28,294.6 1687.94,292.99 1688.61,290.7 1689.27,288.22 1689.94,284.4 1690.6,276.7 1691.27,275.05 1691.93,274.5 1692.6,275.95 1693.27,278.25 1693.93,282.76 1694.6,283.24 1695.26,278.48 1695.93,272.47 1696.59,270.75 1697.26,270.15 1697.92,270.54 1698.59,269.94 1699.26,270.55 1699.92,271.25 1700.59,275.07 1701.25,281.54 1701.92,288.47 1702.58,296.26 1703.25,301.6 1703.91,304.38 1704.58,304.64 1705.25,306.25 1705.91,307.23 1706.58,310.68 1707.24,315.37 1707.91,317.97 1708.57,318.49 1709.24,320.07 1709.9,323.31 1710.57,329.63 1711.23,335.03 1711.9,339.36 1712.57,343.91 1713.23,347.27 1713.9,351 1714.56,356.11 1715.23,360.25 1715.89,365.6 1716.56,369.52 1717.22,373.8 1717.89,378.48 1718.56,383.74 1719.22,387.87 1719.89,392.9 1720.55,397.83 1721.22,401.79 1721.88,404.34 1722.55,406.36 1723.21,408.31 1723.88,409.82 1724.55,410.6 1725.21,412.27 1725.88,413.02 1726.54,414.1 1727.21,414.88 1727.87,415.76 1728.54,416.44 1729.2,416.95 1729.87,417.32 1730.54,417.62 1731.2,417.88 1731.87,418.14 1732.53,418.36 1733.2,418.53 1733.86,418.65 1734.53,418.7 1735.19,418.7 1735.86,418.7 1736.53,418.7 1737.19,418.7 1737.86,418.7 1738.52,418.7 1739.19,418.7 1739.85,418.7 1740.52,418.7 1741.18,418.7 1741.85,418.7 1742.52,418.7 1743.18,418.7 1743.85,418.7 1744.51,418.7 1745.18,418.7" fill="none" stroke="#ff0000" stroke-width="1.2"/>
<rect x="1572.3" y="246.6" width="172.9" height="172.1" fill="none" stroke="#111" stroke-width="1.3"/>
<line x1="1566.8" y1="418.7" x2="1572.3" y2="418.7" stroke="#111" stroke-width="1.1"/>
<text x="1549.98" y="425.4" font-size="18.8">0</text>
<line x1="1569.3" y1="410.48" x2="1572.3" y2="410.48" stroke="#111" stroke-width="0.9"/>
<line x1="1569.3" y1="402.26" x2="1572.3" y2="402.26" stroke="#111" stroke-width="0.9"/>
<line x1="1569.3" y1="394.04" x2="1572.3" y2="394.04" stroke="#111" stroke-width="0.9"/>
<line x1="1566.8" y1="385.82" x2="1572.3" y2="385.82" stroke="#111" stroke-width="1.1"/>
<text x="1539.52" y="392.52" font-size="18.8">20</text>
<line x1="1569.3" y1="377.6" x2="1572.3" y2="377.6" stroke="#111" stroke-width="0.9"/>
<line x1="1569.3" y1="369.38" x2="1572.3" y2="369.38" stroke="#111" stroke-width="0.9"/>
<line x1="1569.3" y1="361.16" x2="1572.3" y2="361.16" stroke="#111" stroke-width="0.9"/>
<line x1="1566.8" y1="352.94" x2="1572.3" y2="352.94" stroke="#111" stroke-width="1.1"/>
<text x="1539.52" y="359.64" font-size="18.8">40</text>
<line x1="1569.3" y1="344.72" x2="1572.3" y2="344.72" stroke="#111" stroke-width="0.9"/>
<line x1="1569.3" y1="336.5" x2="1572.3" y2="336.5" stroke="#111" stroke-width="0.9"/>
<line x1="1569.3" y1="328.28" x2="1572.3" y2="328.28" stroke="#111" stroke-width="0.9"/>
<line x1="1566.8" y1="320.06" x2="1572.3" y2="320.06" stroke="#111" stroke-width="1.1"/>
<text x="1539.52" y="326.76" font-size="18.8">60</text>
<line x1="1569.3" y1="311.84" x2="1572.3" y2="311.84" stroke="#111" stroke-width="0.9"/>
<line x1="1569.3" y1="303.62" x2="1572.3" y2="303.62" stroke="#111" stroke-width="0.9"/>
<line x1="1569.3" y1="295.4" x2="1572.3" y2="295.4" stroke="#111" stroke-width="0.9"/>
<line x1="1566.8" y1="287.18" x2="1572.3" y2="287.18" stroke="#111" stroke-width="1.1"/>
<text x="1539.52" y="293.88" font-size="18.8">80</text>
<line x1="1569.3" y1="278.96" x2="1572.3" y2="278.96" stroke="#111" stroke-width="0.9"/>
<line x1="1569.3" y1="270.74" x2="1572.3" y2="270.74" stroke="#111" stroke-width="0.9"/>
<line x1="1569.3" y1="262.52" x2="1572.3" y2="262.52" stroke="#111" stroke-width="0.9"/>
<line x1="1566.8" y1="254.3" x2="1572.3" y2="254.3" stroke="#111" stroke-width="1.1"/>
<text x="1529.07" y="261" font-size="18.8">100</text>
<line x1="1587.6" y1="418.7" x2="1587.6" y2="423.7" stroke="#111" stroke-width="1.1"/>
<line x1="1622" y1="418.7" x2="1622" y2="423.7" stroke="#111" stroke-width="1.1"/>
<line x1="1666.5" y1="418.7" x2="1666.5" y2="423.7" stroke="#111" stroke-width="1.1"/>
<line x1="1722.9" y1="418.7" x2="1722.9" y2="423.7" stroke="#111" stroke-width="1.1"/>
<line x1="1683.48" y1="418.7" x2="1683.48" y2="421.7" stroke="#111" stroke-width="0.8"/>
<line x1="1739.88" y1="418.7" x2="1739.88" y2="421.7" stroke="#111" stroke-width="0.8"/>
<line x1="1581.58" y1="418.7" x2="1581.58" y2="421.7" stroke="#111" stroke-width="0.8"/>
<line x1="1693.41" y1="418.7" x2="1693.41" y2="421.7" stroke="#111" stroke-width="0.8"/>
<line x1="1578.06" y1="418.7" x2="1578.06" y2="421.7" stroke="#111" stroke-width="0.8"/>
<line x1="1700.46" y1="418.7" x2="1700.46" y2="421.7" stroke="#111" stroke-width="0.8"/>
<line x1="1575.56" y1="418.7" x2="1575.56" y2="421.7" stroke="#111" stroke-width="0.8"/>
<line x1="1705.92" y1="418.7" x2="1705.92" y2="421.7" stroke="#111" stroke-width="0.8"/>
<line x1="1573.62" y1="418.7" x2="1573.62" y2="421.7" stroke="#111" stroke-width="0.8"/>
<line x1="1710.39" y1="418.7" x2="1710.39" y2="421.7" stroke="#111" stroke-width="0.8"/>
<line x1="1714.16" y1="418.7" x2="1714.16" y2="421.7" stroke="#111" stroke-width="0.8"/>
<line x1="1717.43" y1="418.7" x2="1717.43" y2="421.7" stroke="#111" stroke-width="0.8"/>
<line x1="1720.32" y1="418.7" x2="1720.32" y2="421.7" stroke="#111" stroke-width="0.8"/>
<line x1="1592" y1="418.7" x2="1592" y2="421.7" stroke="#111" stroke-width="0.8"/>
<line x1="1597" y1="418.7" x2="1597" y2="421.7" stroke="#111" stroke-width="0.8"/>
<line x1="1602" y1="418.7" x2="1602" y2="421.7" stroke="#111" stroke-width="0.8"/>
<line x1="1607" y1="418.7" x2="1607" y2="421.7" stroke="#111" stroke-width="0.8"/>
<line x1="1612" y1="418.7" x2="1612" y2="421.7" stroke="#111" stroke-width="0.8"/>
<line x1="1616" y1="418.7" x2="1616" y2="421.7" stroke="#111" stroke-width="0.8"/>
<line x1="1619" y1="418.7" x2="1619" y2="421.7" stroke="#111" stroke-width="0.8"/>
<line x1="1625" y1="418.7" x2="1625" y2="421.7" stroke="#111" stroke-width="0.8"/>
<line x1="1628" y1="418.7" x2="1628" y2="421.7" stroke="#111" stroke-width="0.8"/>
<line x1="1632" y1="418.7" x2="1632" y2="421.7" stroke="#111" stroke-width="0.8"/>
<line x1="1640" y1="418.7" x2="1640" y2="421.7" stroke="#111" stroke-width="0.8"/>
<line x1="1650" y1="418.7" x2="1650" y2="421.7" stroke="#111" stroke-width="0.8"/>
<line x1="1658" y1="418.7" x2="1658" y2="421.7" stroke="#111" stroke-width="0.8"/>
<text x="1578.05" y="450.4" font-size="19">10</text>
<text x="1598.96" y="441.8" font-size="12.5">4</text>
<line x1="1570" y1="445.3" x2="1578" y2="445.3" stroke="#000" stroke-width="1.5"/>
<text x="1621.82" y="450.4" font-size="19">0</text>
<text x="1655.55" y="450.4" font-size="19">10</text>
<text x="1676.46" y="441.8" font-size="12.5">4</text>
<text x="1712.25" y="450.4" font-size="19">10</text>
<text x="1732.94" y="441.8" font-size="12.5">5</text>
<text x="1576.19" y="263.6" font-size="18.8">14,355</text>
<text x="1575.93" y="286.7" font-size="18.8" fill="#ff0000">25,250</text>
<text x="1575.75" y="310.3" font-size="18.8" fill="#555555">21,124</text>
<text x="1560.41" y="489">CD86-APC</text>
<line x1="1702" y1="480.7" x2="1735" y2="480.7" stroke="#000" stroke-width="2"/>
<polygon points="1732,472.7 1746,480.7 1732,488.3 1734.2,480.7" fill="#000" stroke="none" stroke-width="1"/>
<line x1="1766.5" y1="298.3" x2="1812.8" y2="298.3" stroke="#000" stroke-width="3"/>
<line x1="1766.5" y1="331" x2="1812.8" y2="331" stroke="#ff0000" stroke-width="3"/>
<rect x="1766.5" y="359.5" width="46.3" height="9.7" fill="#8c8c8c" stroke="none" stroke-width="0"/>
<line x1="1766.5" y1="397.2" x2="1812.8" y2="397.2" stroke="#808080" stroke-width="3" stroke-dasharray="11.8 9.4"/>
<text x="1819.96" y="306.4">HC-Ag plasma (5%)</text>
<text x="1820.44" y="337.8">pRD-Ag plasma (5%)</text>
<text x="1819.96" y="373.6">No plasma</text>
<text x="1819.96" y="405">Day 0</text>
<path d="M269.3 912.2V843H287.2V912.2" fill="#fff" stroke="#222" stroke-width="1.3"/>
<path d="M289.6 912.2V824.6H307.6V912.2" fill="#fed47f" stroke="#222" stroke-width="1.3"/>
<path d="M318.7 912.2V817.7H336.7V912.2" fill="#bfbfbf" stroke="#222" stroke-width="1.3"/>
<path d="M339.3 912.2V784H357.3V912.2" fill="#f5a7a3" stroke="#222" stroke-width="1.3"/>
<path d="M368 912.2V797.7H386V912.2" fill="#bfbfbf" stroke="#222" stroke-width="1.3"/>
<path d="M388.6 912.2V758.1H406.6V912.2" fill="#f5a7a3" stroke="#222" stroke-width="1.3"/>
<path d="M418 912.2V781.2H436V912.2" fill="#bfbfbf" stroke="#222" stroke-width="1.3"/>
<path d="M438.6 912.2V739.3H456.6V912.2" fill="#f5a7a3" stroke="#222" stroke-width="1.3"/>
<path d="M468 912.2V766.8H486V912.2" fill="#bfbfbf" stroke="#222" stroke-width="1.3"/>
<path d="M488.6 912.2V723.4H506.6V912.2" fill="#f5a7a3" stroke="#222" stroke-width="1.3"/>
<path d="M517.7 912.2V771.7H535.7V912.2" fill="#bfbfbf" stroke="#222" stroke-width="1.3"/>
<path d="M538.3 912.2V730H556.3V912.2" fill="#f5a7a3" stroke="#222" stroke-width="1.3"/>
<line x1="209" y1="912.2" x2="566.5" y2="912.2" stroke="#111" stroke-width="1.4"/>
<line x1="238.5" y1="912.2" x2="238.5" y2="920.2" stroke="#333" stroke-width="1.3"/>
<line x1="288.3" y1="912.2" x2="288.3" y2="920.2" stroke="#333" stroke-width="1.3"/>
<line x1="338" y1="912.2" x2="338" y2="920.2" stroke="#333" stroke-width="1.3"/>
<line x1="387.3" y1="912.2" x2="387.3" y2="920.2" stroke="#333" stroke-width="1.3"/>
<line x1="437.3" y1="912.2" x2="437.3" y2="920.2" stroke="#333" stroke-width="1.3"/>
<line x1="487.3" y1="912.2" x2="487.3" y2="920.2" stroke="#333" stroke-width="1.3"/>
<line x1="537" y1="912.2" x2="537" y2="920.2" stroke="#333" stroke-width="1.3"/>
<line x1="209" y1="839.7" x2="565.5" y2="839.7" stroke="#2e9e3a" stroke-width="1.6" stroke-dasharray="4.4 1.9"/>
<line x1="209" y1="682.4" x2="209" y2="912.2" stroke="#222" stroke-width="1.3"/>
<line x1="201.5" y1="682.4" x2="209" y2="682.4" stroke="#222" stroke-width="1.3"/>
<text x="109.77" y="692.1">20,000</text>
<line x1="201.5" y1="739.9" x2="209" y2="739.9" stroke="#222" stroke-width="1.3"/>
<text x="109.77" y="749.6">15,000</text>
<line x1="201.5" y1="797.5" x2="209" y2="797.5" stroke="#222" stroke-width="1.3"/>
<text x="109.77" y="807.2">10,000</text>
<line x1="201.5" y1="855" x2="209" y2="855" stroke="#222" stroke-width="1.3"/>
<text x="124.95" y="864.7">5,000</text>
<line x1="201.5" y1="912.2" x2="209" y2="912.2" stroke="#222" stroke-width="1.3"/>
<text x="178.08" y="921.9">0</text>
<line x1="327.7" y1="810" x2="327.7" y2="823" stroke="#222" stroke-width="1.4"/>
<line x1="322.7" y1="810" x2="332.7" y2="810" stroke="#222" stroke-width="1.4"/>
<line x1="322.7" y1="823" x2="332.7" y2="823" stroke="#222" stroke-width="1.4"/>
<line x1="348.3" y1="774" x2="348.3" y2="794.2" stroke="#222" stroke-width="1.4"/>
<line x1="343.3" y1="774" x2="353.3" y2="774" stroke="#222" stroke-width="1.4"/>
<line x1="343.3" y1="794.2" x2="353.3" y2="794.2" stroke="#222" stroke-width="1.4"/>
<line x1="377" y1="789.3" x2="377" y2="805.2" stroke="#222" stroke-width="1.4"/>
<line x1="372" y1="789.3" x2="382" y2="789.3" stroke="#222" stroke-width="1.4"/>
<line x1="372" y1="805.2" x2="382" y2="805.2" stroke="#222" stroke-width="1.4"/>
<line x1="397.6" y1="748.8" x2="397.6" y2="768.2" stroke="#222" stroke-width="1.4"/>
<line x1="392.6" y1="748.8" x2="402.6" y2="748.8" stroke="#222" stroke-width="1.4"/>
<line x1="392.6" y1="768.2" x2="402.6" y2="768.2" stroke="#222" stroke-width="1.4"/>
<line x1="427" y1="772" x2="427" y2="790" stroke="#222" stroke-width="1.4"/>
<line x1="422" y1="772" x2="432" y2="772" stroke="#222" stroke-width="1.4"/>
<line x1="422" y1="790" x2="432" y2="790" stroke="#222" stroke-width="1.4"/>
<line x1="447.6" y1="730.6" x2="447.6" y2="748" stroke="#222" stroke-width="1.4"/>
<line x1="442.6" y1="730.6" x2="452.6" y2="730.6" stroke="#222" stroke-width="1.4"/>
<line x1="442.6" y1="748" x2="452.6" y2="748" stroke="#222" stroke-width="1.4"/>
<line x1="477" y1="755.2" x2="477" y2="780.6" stroke="#222" stroke-width="1.4"/>
<line x1="472" y1="755.2" x2="482" y2="755.2" stroke="#222" stroke-width="1.4"/>
<line x1="472" y1="780.6" x2="482" y2="780.6" stroke="#222" stroke-width="1.4"/>
<line x1="497.6" y1="711.8" x2="497.6" y2="734.1" stroke="#222" stroke-width="1.4"/>
<line x1="492.6" y1="711.8" x2="502.6" y2="711.8" stroke="#222" stroke-width="1.4"/>
<line x1="492.6" y1="734.1" x2="502.6" y2="734.1" stroke="#222" stroke-width="1.4"/>
<line x1="526.7" y1="760.4" x2="526.7" y2="782" stroke="#222" stroke-width="1.4"/>
<line x1="521.7" y1="760.4" x2="531.7" y2="760.4" stroke="#222" stroke-width="1.4"/>
<line x1="521.7" y1="782" x2="531.7" y2="782" stroke="#222" stroke-width="1.4"/>
<line x1="547.3" y1="715.6" x2="547.3" y2="745.1" stroke="#222" stroke-width="1.4"/>
<line x1="542.3" y1="715.6" x2="552.3" y2="715.6" stroke="#222" stroke-width="1.4"/>
<line x1="542.3" y1="745.1" x2="552.3" y2="745.1" stroke="#222" stroke-width="1.4"/>
<circle cx="222.3" cy="912.3" r="3.8" fill="#000" stroke="#222" stroke-width="1"/>
<circle cx="228.5" cy="911.7" r="3.8" fill="#000" stroke="#222" stroke-width="1"/>
<circle cx="234.1" cy="912" r="3.8" fill="#000" stroke="#222" stroke-width="1"/>
<circle cx="272.4" cy="840.4" r="3.8" fill="#fd9a0c" stroke="#222" stroke-width="1"/>
<circle cx="278.2" cy="836.3" r="3.8" fill="#fd9a0c" stroke="#222" stroke-width="1"/>
<circle cx="283.8" cy="839.3" r="3.8" fill="#fd9a0c" stroke="#222" stroke-width="1"/>
<circle cx="292.5" cy="822.9" r="3.8" fill="#fd9a0c" stroke="#222" stroke-width="1"/>
<circle cx="298.1" cy="818.4" r="3.8" fill="#fd9a0c" stroke="#222" stroke-width="1"/>
<circle cx="304.1" cy="820.4" r="3.8" fill="#fd9a0c" stroke="#222" stroke-width="1"/>
<circle cx="328" cy="801.7" r="3.8" fill="#939393" stroke="#222" stroke-width="1"/>
<circle cx="328" cy="808.9" r="3.8" fill="#939393" stroke="#222" stroke-width="1"/>
<circle cx="333.7" cy="815.9" r="3.8" fill="#939393" stroke="#222" stroke-width="1"/>
<circle cx="322.3" cy="821.5" r="3.8" fill="#939393" stroke="#222" stroke-width="1"/>
<circle cx="328" cy="836.9" r="3.8" fill="#939393" stroke="#222" stroke-width="1"/>
<circle cx="377.7" cy="776.9" r="3.8" fill="#939393" stroke="#222" stroke-width="1"/>
<circle cx="371.4" cy="792.2" r="3.8" fill="#939393" stroke="#222" stroke-width="1"/>
<circle cx="383.8" cy="789.9" r="3.8" fill="#939393" stroke="#222" stroke-width="1"/>
<circle cx="377.7" cy="801.4" r="3.8" fill="#939393" stroke="#222" stroke-width="1"/>
<circle cx="377.7" cy="826.6" r="3.8" fill="#939393" stroke="#222" stroke-width="1"/>
<circle cx="427.7" cy="759.5" r="3.8" fill="#939393" stroke="#222" stroke-width="1"/>
<circle cx="422" cy="770.2" r="3.8" fill="#939393" stroke="#222" stroke-width="1"/>
<circle cx="433.5" cy="769.7" r="3.8" fill="#939393" stroke="#222" stroke-width="1"/>
<circle cx="427.7" cy="795.7" r="3.8" fill="#939393" stroke="#222" stroke-width="1"/>
<circle cx="427.7" cy="809.5" r="3.8" fill="#939393" stroke="#222" stroke-width="1"/>
<circle cx="471.7" cy="743.6" r="3.8" fill="#939393" stroke="#222" stroke-width="1"/>
<circle cx="483.5" cy="737" r="3.8" fill="#939393" stroke="#222" stroke-width="1"/>
<circle cx="477.7" cy="750.9" r="3.8" fill="#939393" stroke="#222" stroke-width="1"/>
<circle cx="471.7" cy="802.9" r="3.8" fill="#939393" stroke="#222" stroke-width="1"/>
<circle cx="483.5" cy="798.6" r="3.8" fill="#939393" stroke="#222" stroke-width="1"/>
<circle cx="521.7" cy="753.2" r="3.8" fill="#939393" stroke="#222" stroke-width="1"/>
<circle cx="533.2" cy="750" r="3.8" fill="#939393" stroke="#222" stroke-width="1"/>
<circle cx="527.5" cy="765.3" r="3.8" fill="#939393" stroke="#222" stroke-width="1"/>
<circle cx="527.5" cy="778.3" r="3.8" fill="#939393" stroke="#222" stroke-width="1"/>
<circle cx="527.5" cy="807.8" r="3.8" fill="#939393" stroke="#222" stroke-width="1"/>
<circle cx="348.3" cy="753.8" r="3.8" fill="#fc7f7b" stroke="#222" stroke-width="1"/>
<circle cx="348.3" cy="768.2" r="3.8" fill="#fc7f7b" stroke="#222" stroke-width="1"/>
<circle cx="342.5" cy="795.7" r="3.8" fill="#fc7f7b" stroke="#222" stroke-width="1"/>
<circle cx="354" cy="795.7" r="3.8" fill="#fc7f7b" stroke="#222" stroke-width="1"/>
<circle cx="348.3" cy="804.9" r="3.8" fill="#fc7f7b" stroke="#222" stroke-width="1"/>
<circle cx="398" cy="722.3" r="3.8" fill="#fc7f7b" stroke="#222" stroke-width="1"/>
<circle cx="398" cy="745.7" r="3.8" fill="#fc7f7b" stroke="#222" stroke-width="1"/>
<circle cx="392.2" cy="769.7" r="3.8" fill="#fc7f7b" stroke="#222" stroke-width="1"/>
<circle cx="403.8" cy="765.3" r="3.8" fill="#fc7f7b" stroke="#222" stroke-width="1"/>
<circle cx="398" cy="786.4" r="3.8" fill="#fc7f7b" stroke="#222" stroke-width="1"/>
<circle cx="448" cy="717" r="3.8" fill="#fc7f7b" stroke="#222" stroke-width="1"/>
<circle cx="442.2" cy="732" r="3.8" fill="#fc7f7b" stroke="#222" stroke-width="1"/>
<circle cx="453.8" cy="732" r="3.8" fill="#fc7f7b" stroke="#222" stroke-width="1"/>
<circle cx="448" cy="744.2" r="3.8" fill="#fc7f7b" stroke="#222" stroke-width="1"/>
<circle cx="448" cy="769" r="3.8" fill="#fc7f7b" stroke="#222" stroke-width="1"/>
<circle cx="497.7" cy="688.2" r="3.8" fill="#fc7f7b" stroke="#222" stroke-width="1"/>
<circle cx="497.7" cy="716.8" r="3.8" fill="#fc7f7b" stroke="#222" stroke-width="1"/>
<circle cx="491.9" cy="727.7" r="3.8" fill="#fc7f7b" stroke="#222" stroke-width="1"/>
<circle cx="503.5" cy="724.9" r="3.8" fill="#fc7f7b" stroke="#222" stroke-width="1"/>
<circle cx="497.7" cy="758.1" r="3.8" fill="#fc7f7b" stroke="#222" stroke-width="1"/>
<circle cx="547.1" cy="685.8" r="3.8" fill="#fc7f7b" stroke="#222" stroke-width="1"/>
<circle cx="541.9" cy="726.3" r="3.8" fill="#fc7f7b" stroke="#222" stroke-width="1"/>
<circle cx="552.9" cy="723.4" r="3.8" fill="#fc7f7b" stroke="#222" stroke-width="1"/>
<circle cx="547.1" cy="739.9" r="3.8" fill="#fc7f7b" stroke="#222" stroke-width="1"/>
<circle cx="547.1" cy="771.7" r="3.8" fill="#fc7f7b" stroke="#222" stroke-width="1"/>
<line x1="328" y1="670.8" x2="348.3" y2="670.8" stroke="#000" stroke-width="2.4"/>
<text transform="translate(339 661.8) rotate(-45)" x="0" y="0" font-size="23">0.019</text>
<line x1="380" y1="670.8" x2="400.3" y2="670.8" stroke="#000" stroke-width="2.4"/>
<text transform="translate(391 661.8) rotate(-45)" x="0" y="0" font-size="23">0.021</text>
<line x1="431.5" y1="670.8" x2="451.7" y2="670.8" stroke="#000" stroke-width="2.4"/>
<text transform="translate(442.5 661.8) rotate(-45)" x="0" y="0" font-size="23">0.011</text>
<line x1="483.5" y1="670.8" x2="503.8" y2="670.8" stroke="#000" stroke-width="2.4"/>
<text transform="translate(494.5 661.8) rotate(-45)" x="0" y="0" font-size="23">0.043</text>
<line x1="529.5" y1="670.8" x2="549.1" y2="670.8" stroke="#000" stroke-width="2.4"/>
<text transform="translate(540.5 661.8) rotate(-45)" x="0" y="0" font-size="23">0.044</text>
<text x="347.61" y="581.2">CD25</text>
<text transform="translate(84.8 780.5) rotate(-90)" x="-74.93" y="0">CD25 (gMF)</text>
<path d="M794.3 912.1V905H812.5V912.1" fill="#fff" stroke="#222" stroke-width="1.3"/>
<path d="M844.3 912.1V847.7H862.5V912.1" fill="#fff" stroke="#222" stroke-width="1.3"/>
<path d="M864 912.1V729.2H881.9V912.1" fill="#fed47f" stroke="#222" stroke-width="1.3"/>
<path d="M893.5 912.1V772.5H912V912.1" fill="#bfbfbf" stroke="#222" stroke-width="1.3"/>
<path d="M914.1 912.1V742.2H932.3V912.1" fill="#f5a7a3" stroke="#222" stroke-width="1.3"/>
<path d="M943.5 912.1V760.1H962V912.1" fill="#bfbfbf" stroke="#222" stroke-width="1.3"/>
<path d="M964.1 912.1V736.4H982.3V912.1" fill="#f5a7a3" stroke="#222" stroke-width="1.3"/>
<path d="M993.2 912.1V761.6H1011.7V912.1" fill="#bfbfbf" stroke="#222" stroke-width="1.3"/>
<path d="M1013.8 912.1V740.8H1032V912.1" fill="#f5a7a3" stroke="#222" stroke-width="1.3"/>
<path d="M1043.2 912.1V765.3H1061.7V912.1" fill="#bfbfbf" stroke="#222" stroke-width="1.3"/>
<path d="M1063.8 912.1V752.3H1082V912.1" fill="#f5a7a3" stroke="#222" stroke-width="1.3"/>
<path d="M1093.2 912.1V797.7H1111.7V912.1" fill="#bfbfbf" stroke="#222" stroke-width="1.3"/>
<path d="M1113.8 912.1V771.1H1132V912.1" fill="#f5a7a3" stroke="#222" stroke-width="1.3"/>
<line x1="784.2" y1="912.1" x2="1142" y2="912.1" stroke="#111" stroke-width="1.4"/>
<line x1="813.1" y1="912.1" x2="813.1" y2="920.1" stroke="#333" stroke-width="1.3"/>
<line x1="863.1" y1="912.1" x2="863.1" y2="920.1" stroke="#333" stroke-width="1.3"/>
<line x1="912.8" y1="912.1" x2="912.8" y2="920.1" stroke="#333" stroke-width="1.3"/>
<line x1="962.8" y1="912.1" x2="962.8" y2="920.1" stroke="#333" stroke-width="1.3"/>
<line x1="1012.5" y1="912.1" x2="1012.5" y2="920.1" stroke="#333" stroke-width="1.3"/>
<line x1="1062.5" y1="912.1" x2="1062.5" y2="920.1" stroke="#333" stroke-width="1.3"/>
<line x1="1112.5" y1="912.1" x2="1112.5" y2="920.1" stroke="#333" stroke-width="1.3"/>
<line x1="784.2" y1="846.2" x2="1141" y2="846.2" stroke="#2e9e3a" stroke-width="1.6" stroke-dasharray="4.4 1.9"/>
<line x1="784.2" y1="682.4" x2="784.2" y2="912.1" stroke="#222" stroke-width="1.3"/>
<line x1="776.7" y1="682.4" x2="784.2" y2="682.4" stroke="#222" stroke-width="1.3"/>
<text x="682.47" y="692.1">30,000</text>
<line x1="776.7" y1="759" x2="784.2" y2="759" stroke="#222" stroke-width="1.3"/>
<text x="682.47" y="768.7">20,000</text>
<line x1="776.7" y1="835.5" x2="784.2" y2="835.5" stroke="#222" stroke-width="1.3"/>
<text x="682.47" y="845.2">10,000</text>
<line x1="776.7" y1="912.1" x2="784.2" y2="912.1" stroke="#222" stroke-width="1.3"/>
<text x="750.78" y="921.8">0</text>
<line x1="853.4" y1="842.9" x2="853.4" y2="853.5" stroke="#222" stroke-width="1.4"/>
<line x1="848.4" y1="842.9" x2="858.4" y2="842.9" stroke="#222" stroke-width="1.4"/>
<line x1="848.4" y1="853.5" x2="858.4" y2="853.5" stroke="#222" stroke-width="1.4"/>
<line x1="873" y1="725.7" x2="873" y2="733.5" stroke="#222" stroke-width="1.4"/>
<line x1="868" y1="725.7" x2="878" y2="725.7" stroke="#222" stroke-width="1.4"/>
<line x1="868" y1="733.5" x2="878" y2="733.5" stroke="#222" stroke-width="1.4"/>
<line x1="902.8" y1="769.7" x2="902.8" y2="776.3" stroke="#222" stroke-width="1.4"/>
<line x1="897.8" y1="769.7" x2="907.8" y2="769.7" stroke="#222" stroke-width="1.4"/>
<line x1="897.8" y1="776.3" x2="907.8" y2="776.3" stroke="#222" stroke-width="1.4"/>
<line x1="923.2" y1="735.8" x2="923.2" y2="749.9" stroke="#222" stroke-width="1.4"/>
<line x1="918.2" y1="735.8" x2="928.2" y2="735.8" stroke="#222" stroke-width="1.4"/>
<line x1="918.2" y1="749.9" x2="928.2" y2="749.9" stroke="#222" stroke-width="1.4"/>
<line x1="952.8" y1="757.2" x2="952.8" y2="763.9" stroke="#222" stroke-width="1.4"/>
<line x1="947.8" y1="757.2" x2="957.8" y2="757.2" stroke="#222" stroke-width="1.4"/>
<line x1="947.8" y1="763.9" x2="957.8" y2="763.9" stroke="#222" stroke-width="1.4"/>
<line x1="973.2" y1="730.6" x2="973.2" y2="740.8" stroke="#222" stroke-width="1.4"/>
<line x1="968.2" y1="730.6" x2="978.2" y2="730.6" stroke="#222" stroke-width="1.4"/>
<line x1="968.2" y1="740.8" x2="978.2" y2="740.8" stroke="#222" stroke-width="1.4"/>
<line x1="1002.5" y1="754.3" x2="1002.5" y2="768.8" stroke="#222" stroke-width="1.4"/>
<line x1="997.5" y1="754.3" x2="1007.5" y2="754.3" stroke="#222" stroke-width="1.4"/>
<line x1="997.5" y1="768.8" x2="1007.5" y2="768.8" stroke="#222" stroke-width="1.4"/>
<line x1="1022.9" y1="735" x2="1022.9" y2="749.4" stroke="#222" stroke-width="1.4"/>
<line x1="1017.9" y1="735" x2="1027.9" y2="735" stroke="#222" stroke-width="1.4"/>
<line x1="1017.9" y1="749.4" x2="1027.9" y2="749.4" stroke="#222" stroke-width="1.4"/>
<line x1="1052.5" y1="756.6" x2="1052.5" y2="772" stroke="#222" stroke-width="1.4"/>
<line x1="1047.5" y1="756.6" x2="1057.5" y2="756.6" stroke="#222" stroke-width="1.4"/>
<line x1="1047.5" y1="772" x2="1057.5" y2="772" stroke="#222" stroke-width="1.4"/>
<line x1="1072.9" y1="743.6" x2="1072.9" y2="761" stroke="#222" stroke-width="1.4"/>
<line x1="1067.9" y1="743.6" x2="1077.9" y2="743.6" stroke="#222" stroke-width="1.4"/>
<line x1="1067.9" y1="761" x2="1077.9" y2="761" stroke="#222" stroke-width="1.4"/>
<line x1="1102.5" y1="791.3" x2="1102.5" y2="801.5" stroke="#222" stroke-width="1.4"/>
<line x1="1097.5" y1="791.3" x2="1107.5" y2="791.3" stroke="#222" stroke-width="1.4"/>
<line x1="1097.5" y1="801.5" x2="1107.5" y2="801.5" stroke="#222" stroke-width="1.4"/>
<line x1="1122.9" y1="761" x2="1122.9" y2="781.2" stroke="#222" stroke-width="1.4"/>
<line x1="1117.9" y1="761" x2="1127.9" y2="761" stroke="#222" stroke-width="1.4"/>
<line x1="1117.9" y1="781.2" x2="1127.9" y2="781.2" stroke="#222" stroke-width="1.4"/>
<circle cx="796.6" cy="905" r="3.8" fill="#000" stroke="#222" stroke-width="1"/>
<circle cx="803" cy="905" r="3.8" fill="#000" stroke="#222" stroke-width="1"/>
<circle cx="809" cy="905" r="3.8" fill="#000" stroke="#222" stroke-width="1"/>
<circle cx="848" cy="842.8" r="3.8" fill="#fd9a0c" stroke="#222" stroke-width="1"/>
<circle cx="858.8" cy="839.9" r="3.8" fill="#fd9a0c" stroke="#222" stroke-width="1"/>
<circle cx="853" cy="858.7" r="3.8" fill="#fd9a0c" stroke="#222" stroke-width="1"/>
<circle cx="873.2" cy="722.8" r="3.8" fill="#fd9a0c" stroke="#222" stroke-width="1"/>
<circle cx="867.5" cy="732.1" r="3.8" fill="#fd9a0c" stroke="#222" stroke-width="1"/>
<circle cx="878.2" cy="731.5" r="3.8" fill="#fd9a0c" stroke="#222" stroke-width="1"/>
<circle cx="897.8" cy="766.8" r="3.8" fill="#939393" stroke="#222" stroke-width="1"/>
<circle cx="908.8" cy="765.3" r="3.8" fill="#939393" stroke="#222" stroke-width="1"/>
<circle cx="897.2" cy="776.9" r="3.8" fill="#939393" stroke="#222" stroke-width="1"/>
<circle cx="903" cy="776.9" r="3.8" fill="#939393" stroke="#222" stroke-width="1"/>
<circle cx="908.8" cy="776.9" r="3.8" fill="#939393" stroke="#222" stroke-width="1"/>
<circle cx="953.3" cy="751.4" r="3.8" fill="#939393" stroke="#222" stroke-width="1"/>
<circle cx="947" cy="755.2" r="3.8" fill="#939393" stroke="#222" stroke-width="1"/>
<circle cx="959" cy="756.1" r="3.8" fill="#939393" stroke="#222" stroke-width="1"/>
<circle cx="953.3" cy="763" r="3.8" fill="#939393" stroke="#222" stroke-width="1"/>
<circle cx="947" cy="769.7" r="3.8" fill="#939393" stroke="#222" stroke-width="1"/>
<circle cx="997" cy="746" r="3.8" fill="#939393" stroke="#222" stroke-width="1"/>
<circle cx="1008.5" cy="742.2" r="3.8" fill="#939393" stroke="#222" stroke-width="1"/>
<circle cx="1002.7" cy="763.9" r="3.8" fill="#939393" stroke="#222" stroke-width="1"/>
<circle cx="997" cy="776" r="3.8" fill="#939393" stroke="#222" stroke-width="1"/>
<circle cx="1008.5" cy="772" r="3.8" fill="#939393" stroke="#222" stroke-width="1"/>
<circle cx="1053" cy="735" r="3.8" fill="#939393" stroke="#222" stroke-width="1"/>
<circle cx="1053" cy="758.7" r="3.8" fill="#939393" stroke="#222" stroke-width="1"/>
<circle cx="1047.2" cy="779.8" r="3.8" fill="#939393" stroke="#222" stroke-width="1"/>
<circle cx="1058.8" cy="774" r="3.8" fill="#939393" stroke="#222" stroke-width="1"/>
<circle cx="1053" cy="774" r="3.8" fill="#939393" stroke="#222" stroke-width="1"/>
<circle cx="1102.4" cy="774" r="3.8" fill="#939393" stroke="#222" stroke-width="1"/>
<circle cx="1102.4" cy="797.1" r="3.8" fill="#939393" stroke="#222" stroke-width="1"/>
<circle cx="1096.6" cy="805.8" r="3.8" fill="#939393" stroke="#222" stroke-width="1"/>
<circle cx="1108.2" cy="802.9" r="3.8" fill="#939393" stroke="#222" stroke-width="1"/>
<circle cx="1102.4" cy="804.3" r="3.8" fill="#939393" stroke="#222" stroke-width="1"/>
<circle cx="923.2" cy="720" r="3.8" fill="#fc7f7b" stroke="#222" stroke-width="1"/>
<circle cx="917.5" cy="744.5" r="3.8" fill="#fc7f7b" stroke="#222" stroke-width="1"/>
<circle cx="929" cy="744.2" r="3.8" fill="#fc7f7b" stroke="#222" stroke-width="1"/>
<circle cx="923.2" cy="746.5" r="3.8" fill="#fc7f7b" stroke="#222" stroke-width="1"/>
<circle cx="923.2" cy="754.3" r="3.8" fill="#fc7f7b" stroke="#222" stroke-width="1"/>
<circle cx="973.5" cy="717.6" r="3.8" fill="#fc7f7b" stroke="#222" stroke-width="1"/>
<circle cx="967.7" cy="735" r="3.8" fill="#fc7f7b" stroke="#222" stroke-width="1"/>
<circle cx="979.3" cy="732.1" r="3.8" fill="#fc7f7b" stroke="#222" stroke-width="1"/>
<circle cx="967.7" cy="744.2" r="3.8" fill="#fc7f7b" stroke="#222" stroke-width="1"/>
<circle cx="979.3" cy="743" r="3.8" fill="#fc7f7b" stroke="#222" stroke-width="1"/>
<circle cx="1023" cy="719" r="3.8" fill="#fc7f7b" stroke="#222" stroke-width="1"/>
<circle cx="1023" cy="733" r="3.8" fill="#fc7f7b" stroke="#222" stroke-width="1"/>
<circle cx="1017.2" cy="753.8" r="3.8" fill="#fc7f7b" stroke="#222" stroke-width="1"/>
<circle cx="1028.7" cy="749.4" r="3.8" fill="#fc7f7b" stroke="#222" stroke-width="1"/>
<circle cx="1023" cy="746.5" r="3.8" fill="#fc7f7b" stroke="#222" stroke-width="1"/>
<circle cx="1072.7" cy="724.9" r="3.8" fill="#fc7f7b" stroke="#222" stroke-width="1"/>
<circle cx="1072.7" cy="739.3" r="3.8" fill="#fc7f7b" stroke="#222" stroke-width="1"/>
<circle cx="1072.7" cy="758.1" r="3.8" fill="#fc7f7b" stroke="#222" stroke-width="1"/>
<circle cx="1066.9" cy="771.1" r="3.8" fill="#fc7f7b" stroke="#222" stroke-width="1"/>
<circle cx="1078.4" cy="766.8" r="3.8" fill="#fc7f7b" stroke="#222" stroke-width="1"/>
<circle cx="1122.7" cy="748" r="3.8" fill="#fc7f7b" stroke="#222" stroke-width="1"/>
<circle cx="1116.6" cy="762.4" r="3.8" fill="#fc7f7b" stroke="#222" stroke-width="1"/>
<circle cx="1128.1" cy="758.7" r="3.8" fill="#fc7f7b" stroke="#222" stroke-width="1"/>
<circle cx="1122.7" cy="780.6" r="3.8" fill="#fc7f7b" stroke="#222" stroke-width="1"/>
<circle cx="1122.7" cy="800.9" r="3.8" fill="#fc7f7b" stroke="#222" stroke-width="1"/>
<line x1="900" y1="676.3" x2="919.5" y2="676.3" stroke="#000" stroke-width="2.4"/>
<text transform="translate(911 667.3) rotate(-45)" x="0" y="0" font-size="23">0.001</text>
<line x1="952" y1="676.3" x2="972" y2="676.3" stroke="#000" stroke-width="2.4"/>
<text transform="translate(963 667.3) rotate(-45)" x="0" y="0" font-size="23">0.002</text>
<line x1="1003.3" y1="676.3" x2="1023" y2="676.3" stroke="#000" stroke-width="2.4"/>
<text transform="translate(1014.3 667.3) rotate(-45)" x="0" y="0" font-size="23">0.059</text>
<line x1="1055.3" y1="676.3" x2="1075" y2="676.3" stroke="#000" stroke-width="2.4"/>
<text transform="translate(1066.3 667.3) rotate(-45)" x="0" y="0" font-size="23">0.322</text>
<line x1="1101" y1="676.3" x2="1121" y2="676.3" stroke="#000" stroke-width="2.4"/>
<text transform="translate(1112 667.3) rotate(-45)" x="0" y="0" font-size="23">0.043</text>
<text x="929.61" y="581.2">CD86</text>
<text transform="translate(657.6 781.2) rotate(-90)" x="-78.72" y="0">CD86 (gMFI)</text>
<text x="128.98" y="952">IL-21:</text>
<text x="218.32" y="954">−</text>
<text x="272.72" y="954">−</text>
<text x="290.64" y="954">+</text>
<text x="330.04" y="954">+</text>
<text x="379.34" y="954">+</text>
<text x="428.44" y="954">+</text>
<text x="479.04" y="954">+</text>
<text x="529.04" y="954">+</text>
<polygon points="312.1,983.8 556.4,954.3 556.4,1001.7 312.1,1001.7" fill="#b7dde8" stroke="none" stroke-width="1"/>
<text x="50.36" y="994.8" fill="#ff0000">Plasma (%):</text>
<line x1="285.5" y1="994" x2="298.5" y2="994" stroke="#000" stroke-width="1.8"/>
<text x="312.62" y="999.1" font-size="23" fill="#ff0000">1.25</text>
<text x="371.32" y="999.1" font-size="23" fill="#ff0000">2.5</text>
<text x="429.03" y="999.1" font-size="23" fill="#ff0000">5</text>
<text x="473.78" y="999.1" font-size="23" fill="#ff0000">10</text>
<text x="526.08" y="999.1" font-size="23" fill="#ff0000">20</text>
<line x1="208.7" y1="1006.4" x2="248.6" y2="1006.4" stroke="#000" stroke-width="3"/>
<line x1="261.6" y1="1006.4" x2="558.7" y2="1006.4" stroke="#000" stroke-width="3"/>
<text x="129.26" y="1038.2">Days:</text>
<text x="222.41" y="1038.2">0</text>
<text x="406.41" y="1038.2">2</text>
<text x="704.98" y="952">IL-21:</text>
<text x="805.22" y="954">−</text>
<text x="845.92" y="954">−</text>
<text x="864.54" y="954">+</text>
<text x="906.24" y="954">+</text>
<text x="956.24" y="954">+</text>
<text x="1004.44" y="954">+</text>
<text x="1054.44" y="954">+</text>
<text x="1104.44" y="954">+</text>
<polygon points="889,983.8 1133.2,954.3 1133.2,1001.7 889,1001.7" fill="#b7dde8" stroke="none" stroke-width="1"/>
<text x="627.26" y="994.8" fill="#ff0000">Plasma (%):</text>
<line x1="856.9" y1="994" x2="869.9" y2="994" stroke="#000" stroke-width="1.8"/>
<text x="888.92" y="999.1" font-size="23" fill="#ff0000">1.25</text>
<text x="947.62" y="999.1" font-size="23" fill="#ff0000">2.5</text>
<text x="1005.43" y="999.1" font-size="23" fill="#ff0000">5</text>
<text x="1050.58" y="999.1" font-size="23" fill="#ff0000">10</text>
<text x="1102.98" y="999.1" font-size="23" fill="#ff0000">20</text>
<line x1="785" y1="1006.4" x2="824.9" y2="1006.4" stroke="#000" stroke-width="3"/>
<line x1="837.6" y1="1006.4" x2="1134.7" y2="1006.4" stroke="#000" stroke-width="3"/>
<text x="705.26" y="1038.2">Days:</text>
<text x="798.61" y="1038.2">0</text>
<text x="982.61" y="1038.2">2</text>
<rect x="1158.3" y="785.9" width="45.7" height="22.7" fill="#ffc000" stroke="none" stroke-width="0"/>
<rect x="1158.3" y="826.3" width="45.7" height="22.8" fill="#808080" stroke="none" stroke-width="0"/>
<rect x="1158.3" y="866.8" width="45.7" height="22.7" fill="#ff7f7f" stroke="none" stroke-width="0"/>
<line x1="1158.3" y1="918.8" x2="1203.6" y2="918.8" stroke="#00b050" stroke-width="3" stroke-dasharray="8.5 4"/>
<text x="1214.76" y="769.5">No stimulation</text>
<text x="1214.48" y="808">IL-21</text>
<text x="1214.48" y="847.9">IL-21 + HC-Ag plasma</text>
<text x="1214.48" y="888.4">IL-21 + pRD-Ag plasma</text>
<text x="1214.76" y="927.5">No stimulation</text>
<path d="M1671.8 910.6V899.4H1699.2V910.6" fill="#d9d9d9" stroke="#222" stroke-width="1.3"/>
<path d="M1715.1 910.6V804.4H1742.5V910.6" fill="#f5a7a3" stroke="#222" stroke-width="1.3"/>
<line x1="1655.9" y1="682.3" x2="1655.9" y2="910.6" stroke="#222" stroke-width="1.3"/>
<line x1="1648.4" y1="682.3" x2="1655.9" y2="682.3" stroke="#222" stroke-width="1.3"/>
<text x="1602.4" y="692">2.5</text>
<line x1="1648.4" y1="728.2" x2="1655.9" y2="728.2" stroke="#222" stroke-width="1.3"/>
<text x="1602.32" y="737.9">2.0</text>
<line x1="1648.4" y1="774.2" x2="1655.9" y2="774.2" stroke="#222" stroke-width="1.3"/>
<text x="1602.4" y="783.9">1.5</text>
<line x1="1648.4" y1="819.8" x2="1655.9" y2="819.8" stroke="#222" stroke-width="1.3"/>
<text x="1602.32" y="829.5">1.0</text>
<line x1="1648.4" y1="865.3" x2="1655.9" y2="865.3" stroke="#222" stroke-width="1.3"/>
<text x="1602.4" y="875">0.5</text>
<line x1="1648.4" y1="910.6" x2="1655.9" y2="910.6" stroke="#222" stroke-width="1.3"/>
<text x="1625.08" y="920.3">0</text>
<line x1="1648.4" y1="910.6" x2="1757.3" y2="910.6" stroke="#222" stroke-width="1.3"/>
<line x1="1685.3" y1="910.6" x2="1685.3" y2="918.6" stroke="#333" stroke-width="1.3"/>
<line x1="1729.1" y1="910.6" x2="1729.1" y2="918.6" stroke="#333" stroke-width="1.3"/>
<line x1="1685.3" y1="895.5" x2="1685.3" y2="903" stroke="#222" stroke-width="1.4"/>
<line x1="1678.3" y1="895.5" x2="1692.3" y2="895.5" stroke="#222" stroke-width="1.4"/>
<line x1="1678.3" y1="903" x2="1692.3" y2="903" stroke="#222" stroke-width="1.4"/>
<line x1="1729.1" y1="785.7" x2="1729.1" y2="821.7" stroke="#222" stroke-width="1.4"/>
<line x1="1721.7" y1="785.7" x2="1736.5" y2="785.7" stroke="#222" stroke-width="1.4"/>
<line x1="1721.7" y1="821.7" x2="1736.5" y2="821.7" stroke="#222" stroke-width="1.4"/>
<circle cx="1685.3" cy="846.3" r="3.9" fill="#939393" stroke="#222" stroke-width="1"/>
<circle cx="1678.3" cy="896.6" r="3.9" fill="#939393" stroke="#222" stroke-width="1"/>
<circle cx="1685.3" cy="893.8" r="3.9" fill="#939393" stroke="#222" stroke-width="1"/>
<circle cx="1689.4" cy="891" r="3.9" fill="#939393" stroke="#222" stroke-width="1"/>
<circle cx="1681" cy="892.4" r="3.9" fill="#939393" stroke="#222" stroke-width="1"/>
<circle cx="1676.9" cy="903.6" r="3.9" fill="#939393" stroke="#222" stroke-width="1"/>
<circle cx="1689.4" cy="899.4" r="3.9" fill="#939393" stroke="#222" stroke-width="1"/>
<circle cx="1674.1" cy="909.2" r="3.9" fill="#939393" stroke="#222" stroke-width="1"/>
<circle cx="1681" cy="907.8" r="3.9" fill="#939393" stroke="#222" stroke-width="1"/>
<circle cx="1688" cy="909.7" r="3.9" fill="#939393" stroke="#222" stroke-width="1"/>
<circle cx="1695.6" cy="909.2" r="3.9" fill="#939393" stroke="#222" stroke-width="1"/>
<circle cx="1685.3" cy="902.2" r="3.9" fill="#939393" stroke="#222" stroke-width="1"/>
<circle cx="1678.3" cy="903.6" r="3.9" fill="#939393" stroke="#222" stroke-width="1"/>
<circle cx="1729.1" cy="703.9" r="3.9" fill="#fc7f7b" stroke="#222" stroke-width="1"/>
<circle cx="1729.1" cy="744.9" r="3.9" fill="#fc7f7b" stroke="#222" stroke-width="1"/>
<circle cx="1718" cy="775.1" r="3.9" fill="#fc7f7b" stroke="#222" stroke-width="1"/>
<circle cx="1739.7" cy="776.5" r="3.9" fill="#fc7f7b" stroke="#222" stroke-width="1"/>
<circle cx="1729.1" cy="797.4" r="3.9" fill="#fc7f7b" stroke="#222" stroke-width="1"/>
<circle cx="1723.5" cy="812.8" r="3.9" fill="#fc7f7b" stroke="#222" stroke-width="1"/>
<circle cx="1734.7" cy="815" r="3.9" fill="#fc7f7b" stroke="#222" stroke-width="1"/>
<circle cx="1729.1" cy="844.4" r="3.9" fill="#fc7f7b" stroke="#222" stroke-width="1"/>
<circle cx="1729.1" cy="882.6" r="3.9" fill="#fc7f7b" stroke="#222" stroke-width="1"/>
<circle cx="1729.1" cy="910" r="3.9" fill="#fc7f7b" stroke="#222" stroke-width="1"/>
<polygon points="1724.6,777.1 1733.6,777.1 1729.1,769.3" fill="#ffb8b8" stroke="#222" stroke-width="1"/>
<line x1="1681.9" y1="673.1" x2="1727.7" y2="673.1" stroke="#000" stroke-width="2.3"/>
<text x="1660.1" y="666.1" font-size="23">0.00004</text>
<text x="1660.66" y="945.5" word-spacing="1.6">HC pRD</text>
<text transform="translate(1577.7 800.9) rotate(-90)" x="0" y="0" text-anchor="middle">Endotoxin (ng ml<tspan font-size="20" dy="-13">–</tspan><tspan font-size="16.5">1</tspan><tspan font-size="27.3" dy="13">)</tspan></text>
<circle cx="1861.2" cy="759.7" r="11.9" fill="#939393" stroke="#222" stroke-width="1.2"/>
<circle cx="1861.2" cy="798.8" r="11.9" fill="#fc7f7b" stroke="#222" stroke-width="1.2"/>
<polygon points="1848.7,850.5 1875.2,850.5 1862,828.2" fill="#ffb8b8" stroke="#222" stroke-width="1.2"/>
<text x="1883.56" y="769.5">HC-Ag</text>
<text x="1884.04" y="808.6">pRD-Ag</text>
<text x="1884.04" y="847.7">pRD-N</text>
<rect x="200.3" y="1255.8" width="28.3" height="5.6" fill="#f5a7a3" stroke="none" stroke-width="0"/>
<rect x="200.3" y="1283.5" width="28.3" height="103.8" fill="#f5a7a3" stroke="none" stroke-width="0"/>
<path d="M200.3 1261.4V1255.8H228.6V1261.4" fill="none" stroke="#222" stroke-width="1.3"/>
<line x1="200.3" y1="1283.5" x2="200.3" y2="1387.3" stroke="#222" stroke-width="1.3"/>
<line x1="228.6" y1="1283.5" x2="228.6" y2="1387.3" stroke="#222" stroke-width="1.3"/>
<line x1="141.3" y1="1158.2" x2="141.3" y2="1261" stroke="#222" stroke-width="1.3"/>
<line x1="141.3" y1="1281.6" x2="141.3" y2="1387.3" stroke="#222" stroke-width="1.3"/>
<line x1="133.8" y1="1158.2" x2="141.3" y2="1158.2" stroke="#222" stroke-width="1.3"/>
<text x="54.45" y="1167.9">3,000</text>
<line x1="133.8" y1="1193.6" x2="141.3" y2="1193.6" stroke="#222" stroke-width="1.3"/>
<text x="54.45" y="1203.3">2,000</text>
<line x1="133.8" y1="1229.2" x2="141.3" y2="1229.2" stroke="#222" stroke-width="1.3"/>
<text x="54.45" y="1238.9">1,000</text>
<text x="92.4" y="1295">50</text>
<line x1="133.8" y1="1335.7" x2="141.3" y2="1335.7" stroke="#222" stroke-width="1.3"/>
<text x="92.48" y="1345.4">25</text>
<line x1="133.8" y1="1387.3" x2="141.3" y2="1387.3" stroke="#222" stroke-width="1.3"/>
<text x="107.58" y="1397">0</text>
<line x1="135.2" y1="1268" x2="147.5" y2="1255.8" stroke="#222" stroke-width="1.3"/>
<line x1="135.2" y1="1290.2" x2="147.5" y2="1277.9" stroke="#222" stroke-width="1.3"/>
<line x1="133.8" y1="1387.3" x2="243.4" y2="1387.3" stroke="#222" stroke-width="1.3"/>
<line x1="170.4" y1="1387.3" x2="170.4" y2="1395.3" stroke="#333" stroke-width="1.3"/>
<line x1="214.4" y1="1387.3" x2="214.4" y2="1395.3" stroke="#333" stroke-width="1.3"/>
<line x1="214.4" y1="1248.4" x2="214.4" y2="1255.8" stroke="#222" stroke-width="1.4"/>
<line x1="206.7" y1="1248.4" x2="222.1" y2="1248.4" stroke="#222" stroke-width="1.4"/>
<line x1="206.7" y1="1255.8" x2="222.1" y2="1255.8" stroke="#222" stroke-width="1.4"/>
<circle cx="162.5" cy="1387.3" r="3.9" fill="#939393" stroke="#222" stroke-width="1"/>
<circle cx="166" cy="1387.3" r="3.9" fill="#939393" stroke="#222" stroke-width="1"/>
<circle cx="169.5" cy="1387.3" r="3.9" fill="#939393" stroke="#222" stroke-width="1"/>
<circle cx="173" cy="1387.3" r="3.9" fill="#939393" stroke="#222" stroke-width="1"/>
<circle cx="176.5" cy="1387.3" r="3.9" fill="#939393" stroke="#222" stroke-width="1"/>
<circle cx="180" cy="1387.3" r="3.9" fill="#939393" stroke="#222" stroke-width="1"/>
<circle cx="214.4" cy="1172.7" r="3.9" fill="#fc7f7b" stroke="#222" stroke-width="1"/>
<circle cx="214.4" cy="1243.5" r="3.9" fill="#fc7f7b" stroke="#222" stroke-width="1"/>
<circle cx="211.9" cy="1260.2" r="3.9" fill="#fc7f7b" stroke="#222" stroke-width="1"/>
<circle cx="216.3" cy="1259.4" r="3.9" fill="#fc7f7b" stroke="#222" stroke-width="1"/>
<circle cx="211.9" cy="1283.5" r="3.9" fill="#fc7f7b" stroke="#222" stroke-width="1"/>
<circle cx="216.3" cy="1286" r="3.9" fill="#fc7f7b" stroke="#222" stroke-width="1"/>
<circle cx="203.5" cy="1387.3" r="3.9" fill="#fc7f7b" stroke="#222" stroke-width="1"/>
<circle cx="209" cy="1387.3" r="3.9" fill="#fc7f7b" stroke="#222" stroke-width="1"/>
<circle cx="214.4" cy="1387.3" r="3.9" fill="#fc7f7b" stroke="#222" stroke-width="1"/>
<polygon points="218,1388.9 227,1388.9 222.5,1381.1" fill="#ffb8b8" stroke="#222" stroke-width="1"/>
<line x1="167.2" y1="1152" x2="212.6" y2="1152" stroke="#000" stroke-width="2.3"/>
<text x="157.7" y="1140.2" font-size="23">0.0031</text>
<text x="131.76" y="1424.2" word-spacing="1.6">HC pRD</text>
<text transform="translate(25.8 1260.5) rotate(-90)" x="0" y="0" text-anchor="middle">EBV (IU ml<tspan font-size="20" dy="-13">–</tspan><tspan font-size="16.5">1</tspan><tspan font-size="27.3" dy="13">)</tspan></text>
<path d="M479.3 1387.3V1365.6H506.8V1387.3" fill="#f5a7a3" stroke="#222" stroke-width="1.3"/>
<line x1="419.8" y1="1158.2" x2="419.8" y2="1387.3" stroke="#222" stroke-width="1.3"/>
<line x1="412.3" y1="1158.2" x2="419.8" y2="1158.2" stroke="#222" stroke-width="1.3"/>
<text x="358.52" y="1167.9">600</text>
<line x1="412.3" y1="1234.4" x2="419.8" y2="1234.4" stroke="#222" stroke-width="1.3"/>
<text x="358.52" y="1244.1">400</text>
<line x1="412.3" y1="1311" x2="419.8" y2="1311" stroke="#222" stroke-width="1.3"/>
<text x="358.52" y="1320.7">200</text>
<line x1="412.3" y1="1387.3" x2="419.8" y2="1387.3" stroke="#222" stroke-width="1.3"/>
<text x="388.88" y="1397">0</text>
<line x1="412.3" y1="1387.3" x2="522.3" y2="1387.3" stroke="#222" stroke-width="1.3"/>
<line x1="449.8" y1="1387.3" x2="449.8" y2="1395.3" stroke="#333" stroke-width="1.3"/>
<line x1="492.8" y1="1387.3" x2="492.8" y2="1395.3" stroke="#333" stroke-width="1.3"/>
<line x1="492.8" y1="1350" x2="492.8" y2="1380.4" stroke="#222" stroke-width="1.4"/>
<line x1="485.5" y1="1350" x2="500.1" y2="1350" stroke="#222" stroke-width="1.4"/>
<line x1="485.5" y1="1380.4" x2="500.1" y2="1380.4" stroke="#222" stroke-width="1.4"/>
<circle cx="439.5" cy="1387.3" r="3.9" fill="#939393" stroke="#222" stroke-width="1"/>
<circle cx="443.7" cy="1387.3" r="3.9" fill="#939393" stroke="#222" stroke-width="1"/>
<circle cx="447.9" cy="1387.3" r="3.9" fill="#939393" stroke="#222" stroke-width="1"/>
<circle cx="452.1" cy="1387.3" r="3.9" fill="#939393" stroke="#222" stroke-width="1"/>
<circle cx="456.3" cy="1387.3" r="3.9" fill="#939393" stroke="#222" stroke-width="1"/>
<circle cx="460.5" cy="1387.3" r="3.9" fill="#939393" stroke="#222" stroke-width="1"/>
<circle cx="492.8" cy="1196.3" r="3.9" fill="#fc7f7b" stroke="#222" stroke-width="1"/>
<circle cx="492.8" cy="1320.9" r="3.9" fill="#fc7f7b" stroke="#222" stroke-width="1"/>
<circle cx="492.8" cy="1350.9" r="3.9" fill="#fc7f7b" stroke="#222" stroke-width="1"/>
<circle cx="483" cy="1387.3" r="3.9" fill="#fc7f7b" stroke="#222" stroke-width="1"/>
<circle cx="498.5" cy="1387.3" r="3.9" fill="#fc7f7b" stroke="#222" stroke-width="1"/>
<circle cx="503.9" cy="1387.3" r="3.9" fill="#fc7f7b" stroke="#222" stroke-width="1"/>
<circle cx="491" cy="1387.3" r="3.9" fill="#fc7f7b" stroke="#222" stroke-width="1"/>
<polygon points="482.2,1388.9 491.2,1388.9 486.7,1381.1" fill="#ffb8b8" stroke="#222" stroke-width="1"/>
<line x1="447.3" y1="1150.8" x2="492.8" y2="1150.8" stroke="#000" stroke-width="2.3"/>
<text x="444.5" y="1140.2" font-size="23">0.075</text>
<text x="419.26" y="1424.2" word-spacing="1.6">HC pRD</text>
<text transform="translate(330.8 1276.3) rotate(-90)" x="0" y="0" text-anchor="middle">CMV (IU ml<tspan font-size="20" dy="-13">–</tspan><tspan font-size="16.5">1</tspan><tspan font-size="27.3" dy="13">)</tspan></text>
<path d="M689.7 1387.3V1350.4H717.5V1387.3" fill="#d9d9d9" stroke="#222" stroke-width="1.3"/>
<path d="M733.5 1387.3V1309.8H761.3V1387.3" fill="#f5a7a3" stroke="#222" stroke-width="1.3"/>
<line x1="675" y1="1158.2" x2="675" y2="1387.3" stroke="#222" stroke-width="1.3"/>
<line x1="667.5" y1="1158.2" x2="675" y2="1158.2" stroke="#222" stroke-width="1.3"/>
<text x="626.7" y="1167.9">10</text>
<line x1="667.5" y1="1204.1" x2="675" y2="1204.1" stroke="#222" stroke-width="1.3"/>
<text x="642" y="1213.8">8</text>
<line x1="667.5" y1="1249.6" x2="675" y2="1249.6" stroke="#222" stroke-width="1.3"/>
<text x="642.02" y="1259.3">6</text>
<line x1="667.5" y1="1295.8" x2="675" y2="1295.8" stroke="#222" stroke-width="1.3"/>
<text x="641.62" y="1305.5">4</text>
<line x1="667.5" y1="1341.3" x2="675" y2="1341.3" stroke="#222" stroke-width="1.3"/>
<text x="642.19" y="1351">2</text>
<line x1="667.5" y1="1387.3" x2="675" y2="1387.3" stroke="#222" stroke-width="1.3"/>
<text x="641.88" y="1397">0</text>
<line x1="667.5" y1="1387.3" x2="776" y2="1387.3" stroke="#222" stroke-width="1.3"/>
<line x1="703.5" y1="1387.3" x2="703.5" y2="1395.3" stroke="#333" stroke-width="1.3"/>
<line x1="747" y1="1387.3" x2="747" y2="1395.3" stroke="#333" stroke-width="1.3"/>
<line x1="703.5" y1="1344.3" x2="703.5" y2="1356.5" stroke="#222" stroke-width="1.4"/>
<line x1="698" y1="1344.3" x2="709" y2="1344.3" stroke="#222" stroke-width="1.4"/>
<line x1="698" y1="1356.5" x2="709" y2="1356.5" stroke="#222" stroke-width="1.4"/>
<line x1="747.5" y1="1295.6" x2="747.5" y2="1322.6" stroke="#222" stroke-width="1.4"/>
<line x1="740.1" y1="1295.6" x2="754.9" y2="1295.6" stroke="#222" stroke-width="1.4"/>
<line x1="740.1" y1="1322.6" x2="754.9" y2="1322.6" stroke="#222" stroke-width="1.4"/>
<circle cx="703.5" cy="1300.5" r="3.9" fill="#939393" stroke="#222" stroke-width="1"/>
<circle cx="703.5" cy="1343.5" r="3.9" fill="#939393" stroke="#222" stroke-width="1"/>
<circle cx="698.3" cy="1349.2" r="3.9" fill="#939393" stroke="#222" stroke-width="1"/>
<circle cx="708.9" cy="1352.4" r="3.9" fill="#939393" stroke="#222" stroke-width="1"/>
<circle cx="714.5" cy="1349.7" r="3.9" fill="#939393" stroke="#222" stroke-width="1"/>
<circle cx="692.9" cy="1352.4" r="3.9" fill="#939393" stroke="#222" stroke-width="1"/>
<circle cx="698.3" cy="1357.8" r="3.9" fill="#939393" stroke="#222" stroke-width="1"/>
<circle cx="708.9" cy="1361" r="3.9" fill="#939393" stroke="#222" stroke-width="1"/>
<circle cx="714.5" cy="1357" r="3.9" fill="#939393" stroke="#222" stroke-width="1"/>
<circle cx="698.3" cy="1366.9" r="3.9" fill="#939393" stroke="#222" stroke-width="1"/>
<circle cx="703.5" cy="1354" r="3.9" fill="#939393" stroke="#222" stroke-width="1"/>
<circle cx="747.5" cy="1198.7" r="3.9" fill="#fc7f7b" stroke="#222" stroke-width="1"/>
<circle cx="736.7" cy="1291.9" r="3.9" fill="#fc7f7b" stroke="#222" stroke-width="1"/>
<circle cx="736.7" cy="1300" r="3.9" fill="#fc7f7b" stroke="#222" stroke-width="1"/>
<circle cx="758" cy="1300" r="3.9" fill="#fc7f7b" stroke="#222" stroke-width="1"/>
<circle cx="736.7" cy="1309.8" r="3.9" fill="#fc7f7b" stroke="#222" stroke-width="1"/>
<circle cx="758" cy="1307.9" r="3.9" fill="#fc7f7b" stroke="#222" stroke-width="1"/>
<circle cx="747.5" cy="1328.3" r="3.9" fill="#fc7f7b" stroke="#222" stroke-width="1"/>
<circle cx="747.5" cy="1351.6" r="3.9" fill="#fc7f7b" stroke="#222" stroke-width="1"/>
<circle cx="736.7" cy="1364.4" r="3.9" fill="#fc7f7b" stroke="#222" stroke-width="1"/>
<circle cx="758" cy="1360.2" r="3.9" fill="#fc7f7b" stroke="#222" stroke-width="1"/>
<polygon points="753.5,1290.8 762.5,1290.8 758,1283" fill="#ffb8b8" stroke="#222" stroke-width="1"/>
<line x1="702.7" y1="1162.3" x2="748.2" y2="1162.3" stroke="#000" stroke-width="2.3"/>
<text x="693.7" y="1152" font-size="23">0.021</text>
<text x="678.36" y="1424.2" word-spacing="1.6">HC pRD</text>
<text transform="translate(602.9 1274.5) rotate(-90)" x="0" y="0" text-anchor="middle">siL2R (ng ml<tspan font-size="20" dy="-13">–</tspan><tspan font-size="16.5">1</tspan><tspan font-size="27.3" dy="13">)</tspan></text>
<path d="M989.5 1386.5V1358.5H1017.5V1386.5" fill="#d9d9d9" stroke="#222" stroke-width="1.3"/>
<path d="M1032.5 1386.5V1291.9H1060.5V1386.5" fill="#f5a7a3" stroke="#222" stroke-width="1.3"/>
<line x1="974.5" y1="1158.2" x2="974.5" y2="1209.5" stroke="#222" stroke-width="1.3"/>
<line x1="974.5" y1="1234.9" x2="974.5" y2="1386.5" stroke="#222" stroke-width="1.3"/>
<line x1="967" y1="1158.2" x2="974.5" y2="1158.2" stroke="#222" stroke-width="1.3"/>
<text x="902.23" y="1167.9">15.0</text>
<text x="902.23" y="1221.2">10.0</text>
<line x1="967" y1="1261.9" x2="974.5" y2="1261.9" stroke="#222" stroke-width="1.3"/>
<text x="917.42" y="1271.6">4.0</text>
<line x1="967" y1="1324.1" x2="974.5" y2="1324.1" stroke="#222" stroke-width="1.3"/>
<text x="917.42" y="1333.8">2.0</text>
<line x1="967" y1="1386.5" x2="974.5" y2="1386.5" stroke="#222" stroke-width="1.3"/>
<text x="940.18" y="1396.2">0</text>
<line x1="968.3" y1="1216" x2="981.3" y2="1204.1" stroke="#222" stroke-width="1.3"/>
<line x1="968.3" y1="1236.8" x2="981.3" y2="1225" stroke="#222" stroke-width="1.3"/>
<line x1="967" y1="1386.5" x2="1075.5" y2="1386.5" stroke="#222" stroke-width="1.3"/>
<line x1="1003" y1="1386.5" x2="1003" y2="1394.5" stroke="#333" stroke-width="1.3"/>
<line x1="1046.5" y1="1386.5" x2="1046.5" y2="1394.5" stroke="#333" stroke-width="1.3"/>
<line x1="1003" y1="1355.5" x2="1003" y2="1361.5" stroke="#222" stroke-width="1.4"/>
<line x1="998" y1="1355.5" x2="1008" y2="1355.5" stroke="#222" stroke-width="1.4"/>
<line x1="998" y1="1361.5" x2="1008" y2="1361.5" stroke="#222" stroke-width="1.4"/>
<line x1="1046.5" y1="1267.3" x2="1046.5" y2="1316.5" stroke="#222" stroke-width="1.4"/>
<line x1="1039.3" y1="1267.3" x2="1053.7" y2="1267.3" stroke="#222" stroke-width="1.4"/>
<line x1="1039.3" y1="1316.5" x2="1053.7" y2="1316.5" stroke="#222" stroke-width="1.4"/>
<circle cx="1003" cy="1352.9" r="3.9" fill="#939393" stroke="#222" stroke-width="1"/>
<circle cx="999.5" cy="1356" r="3.9" fill="#939393" stroke="#222" stroke-width="1"/>
<circle cx="1006.5" cy="1356" r="3.9" fill="#939393" stroke="#222" stroke-width="1"/>
<circle cx="995.5" cy="1360" r="3.9" fill="#939393" stroke="#222" stroke-width="1"/>
<circle cx="1003" cy="1360" r="3.9" fill="#939393" stroke="#222" stroke-width="1"/>
<circle cx="1010" cy="1359.5" r="3.9" fill="#939393" stroke="#222" stroke-width="1"/>
<circle cx="992" cy="1363.5" r="3.9" fill="#939393" stroke="#222" stroke-width="1"/>
<circle cx="999" cy="1364" r="3.9" fill="#939393" stroke="#222" stroke-width="1"/>
<circle cx="1006.5" cy="1363" r="3.9" fill="#939393" stroke="#222" stroke-width="1"/>
<circle cx="1013.5" cy="1362.5" r="3.9" fill="#939393" stroke="#222" stroke-width="1"/>
<circle cx="1000" cy="1368" r="3.9" fill="#939393" stroke="#222" stroke-width="1"/>
<circle cx="1006.5" cy="1371.3" r="3.9" fill="#939393" stroke="#222" stroke-width="1"/>
<circle cx="1046.5" cy="1173.4" r="3.9" fill="#fc7f7b" stroke="#222" stroke-width="1"/>
<circle cx="1046.5" cy="1233.6" r="3.9" fill="#fc7f7b" stroke="#222" stroke-width="1"/>
<circle cx="1046.5" cy="1266.3" r="3.9" fill="#fc7f7b" stroke="#222" stroke-width="1"/>
<circle cx="1042.8" cy="1298.3" r="3.9" fill="#fc7f7b" stroke="#222" stroke-width="1"/>
<circle cx="1050.2" cy="1295.6" r="3.9" fill="#fc7f7b" stroke="#222" stroke-width="1"/>
<circle cx="1057.1" cy="1316" r="3.9" fill="#fc7f7b" stroke="#222" stroke-width="1"/>
<circle cx="1035.9" cy="1324.6" r="3.9" fill="#fc7f7b" stroke="#222" stroke-width="1"/>
<circle cx="1042.8" cy="1326.6" r="3.9" fill="#fc7f7b" stroke="#222" stroke-width="1"/>
<circle cx="1050.2" cy="1322.1" r="3.9" fill="#fc7f7b" stroke="#222" stroke-width="1"/>
<circle cx="1050.2" cy="1332" r="3.9" fill="#fc7f7b" stroke="#222" stroke-width="1"/>
<circle cx="1057.1" cy="1328.8" r="3.9" fill="#fc7f7b" stroke="#222" stroke-width="1"/>
<circle cx="1039.6" cy="1352.4" r="3.9" fill="#fc7f7b" stroke="#222" stroke-width="1"/>
<circle cx="1046.5" cy="1346.7" r="3.9" fill="#fc7f7b" stroke="#222" stroke-width="1"/>
<circle cx="1053.4" cy="1349.7" r="3.9" fill="#fc7f7b" stroke="#222" stroke-width="1"/>
<polygon points="1031.4,1317.6 1040.4,1317.6 1035.9,1309.8" fill="#ffb8b8" stroke="#222" stroke-width="1"/>
<line x1="976.4" y1="1150" x2="1021.4" y2="1150" stroke="#000" stroke-width="2.3"/>
<text x="970.87" y="1140.2" font-size="23">&lt;0.00001</text>
<text x="979.06" y="1424.2" word-spacing="1.6">HC pRD</text>
<text transform="translate(876.1 1273) rotate(-90)" x="0" y="0" text-anchor="middle">BAFF (ng ml<tspan font-size="20" dy="-13">–</tspan><tspan font-size="16.5">1</tspan><tspan font-size="27.3" dy="13">)</tspan></text>
<path d="M1312.1 1387.3V1304.2H1339.6V1387.3" fill="#f5a7a3" stroke="#222" stroke-width="1.3"/>
<line x1="1253.1" y1="1158.2" x2="1253.1" y2="1210.5" stroke="#222" stroke-width="1.3"/>
<line x1="1253.1" y1="1232.4" x2="1253.1" y2="1387.3" stroke="#222" stroke-width="1.3"/>
<line x1="1245.6" y1="1158.2" x2="1253.1" y2="1158.2" stroke="#222" stroke-width="1.3"/>
<text x="1204.1" y="1167.9">60</text>
<text x="1204.1" y="1222.4">40</text>
<line x1="1245.6" y1="1263.1" x2="1253.1" y2="1263.1" stroke="#222" stroke-width="1.3"/>
<text x="1219.4" y="1272.8">8</text>
<line x1="1245.6" y1="1325.1" x2="1253.1" y2="1325.1" stroke="#222" stroke-width="1.3"/>
<text x="1219.02" y="1334.8">4</text>
<line x1="1245.6" y1="1387.3" x2="1253.1" y2="1387.3" stroke="#222" stroke-width="1.3"/>
<text x="1219.28" y="1397">0</text>
<line x1="1246.2" y1="1216.4" x2="1259.7" y2="1204.1" stroke="#222" stroke-width="1.3"/>
<line x1="1246.2" y1="1237.3" x2="1259.7" y2="1225.5" stroke="#222" stroke-width="1.3"/>
<line x1="1245.6" y1="1387.3" x2="1355.1" y2="1387.3" stroke="#222" stroke-width="1.3"/>
<line x1="1281.8" y1="1387.3" x2="1281.8" y2="1395.3" stroke="#333" stroke-width="1.3"/>
<line x1="1326" y1="1387.3" x2="1326" y2="1395.3" stroke="#333" stroke-width="1.3"/>
<line x1="1326" y1="1250.1" x2="1326" y2="1357.3" stroke="#222" stroke-width="1.4"/>
<line x1="1318.4" y1="1250.1" x2="1333.6" y2="1250.1" stroke="#222" stroke-width="1.4"/>
<line x1="1318.4" y1="1357.3" x2="1333.6" y2="1357.3" stroke="#222" stroke-width="1.4"/>
<circle cx="1283.1" cy="1372.5" r="3.9" fill="#939393" stroke="#222" stroke-width="1"/>
<circle cx="1280.6" cy="1379.4" r="3.9" fill="#939393" stroke="#222" stroke-width="1"/>
<circle cx="1272.5" cy="1387.3" r="3.9" fill="#939393" stroke="#222" stroke-width="1"/>
<circle cx="1276.5" cy="1387.3" r="3.9" fill="#939393" stroke="#222" stroke-width="1"/>
<circle cx="1280.5" cy="1387.3" r="3.9" fill="#939393" stroke="#222" stroke-width="1"/>
<circle cx="1284.5" cy="1387.3" r="3.9" fill="#939393" stroke="#222" stroke-width="1"/>
<circle cx="1288.5" cy="1387.3" r="3.9" fill="#939393" stroke="#222" stroke-width="1"/>
<circle cx="1292.5" cy="1387.3" r="3.9" fill="#939393" stroke="#222" stroke-width="1"/>
<circle cx="1326" cy="1175.9" r="3.9" fill="#fc7f7b" stroke="#222" stroke-width="1"/>
<circle cx="1326" cy="1308.1" r="3.9" fill="#fc7f7b" stroke="#222" stroke-width="1"/>
<circle cx="1326" cy="1343" r="3.9" fill="#fc7f7b" stroke="#222" stroke-width="1"/>
<circle cx="1326" cy="1363.9" r="3.9" fill="#fc7f7b" stroke="#222" stroke-width="1"/>
<circle cx="1327.3" cy="1376.2" r="3.9" fill="#fc7f7b" stroke="#222" stroke-width="1"/>
<circle cx="1324.4" cy="1377.9" r="3.9" fill="#fc7f7b" stroke="#222" stroke-width="1"/>
<circle cx="1317.5" cy="1381.1" r="3.9" fill="#fc7f7b" stroke="#222" stroke-width="1"/>
<circle cx="1322.4" cy="1384.8" r="3.9" fill="#fc7f7b" stroke="#222" stroke-width="1"/>
<circle cx="1315" cy="1387.3" r="3.9" fill="#fc7f7b" stroke="#222" stroke-width="1"/>
<circle cx="1320.5" cy="1387.3" r="3.9" fill="#fc7f7b" stroke="#222" stroke-width="1"/>
<circle cx="1335.5" cy="1387.3" r="3.9" fill="#fc7f7b" stroke="#222" stroke-width="1"/>
<polygon points="1325.8,1388.9 1334.8,1388.9 1330.3,1381.1" fill="#ffb8b8" stroke="#222" stroke-width="1"/>
<line x1="1256.8" y1="1150" x2="1302.2" y2="1150" stroke="#000" stroke-width="2.3"/>
<text x="1253.4" y="1140.2" font-size="23">0.020</text>
<text x="1256.96" y="1424.2" word-spacing="1.6">HC pRD</text>
<text transform="translate(1176.5 1275.6) rotate(-90)" x="0" y="0" text-anchor="middle">IFN-<tspan font-family="Liberation Serif, serif" font-size="26">γ</tspan> (pg ml<tspan font-size="20" dy="-13">–</tspan><tspan font-size="16.5">1</tspan><tspan font-size="27.3" dy="13">)</tspan></text>
<path d="M1590 1387.3V1336.9H1617.7V1387.3" fill="#f5a7a3" stroke="#222" stroke-width="1.3"/>
<line x1="1531" y1="1158.2" x2="1531" y2="1211.5" stroke="#222" stroke-width="1.3"/>
<line x1="1531" y1="1233.6" x2="1531" y2="1387.3" stroke="#222" stroke-width="1.3"/>
<line x1="1523.5" y1="1158.2" x2="1531" y2="1158.2" stroke="#222" stroke-width="1.3"/>
<text x="1481.5" y="1167.9">80</text>
<text x="1481.5" y="1222.4">40</text>
<text x="1481.5" y="1244.1">20</text>
<line x1="1523.5" y1="1270.5" x2="1531" y2="1270.5" stroke="#222" stroke-width="1.3"/>
<text x="1481.58" y="1280.2">15</text>
<line x1="1523.5" y1="1309.3" x2="1531" y2="1309.3" stroke="#222" stroke-width="1.3"/>
<text x="1481.5" y="1319">10</text>
<line x1="1523.5" y1="1348" x2="1531" y2="1348" stroke="#222" stroke-width="1.3"/>
<text x="1496.76" y="1357.7">5</text>
<line x1="1523.5" y1="1387.3" x2="1531" y2="1387.3" stroke="#222" stroke-width="1.3"/>
<text x="1496.68" y="1397">0</text>
<line x1="1524.3" y1="1216.4" x2="1537.8" y2="1203.6" stroke="#222" stroke-width="1.3"/>
<line x1="1524.3" y1="1238.1" x2="1537.8" y2="1225.5" stroke="#222" stroke-width="1.3"/>
<line x1="1523.5" y1="1387.3" x2="1633" y2="1387.3" stroke="#222" stroke-width="1.3"/>
<line x1="1559.2" y1="1387.3" x2="1559.2" y2="1395.3" stroke="#333" stroke-width="1.3"/>
<line x1="1603.7" y1="1387.3" x2="1603.7" y2="1395.3" stroke="#333" stroke-width="1.3"/>
<line x1="1603.7" y1="1303" x2="1603.7" y2="1370" stroke="#222" stroke-width="1.4"/>
<line x1="1596.2" y1="1303" x2="1611.2" y2="1303" stroke="#222" stroke-width="1.4"/>
<line x1="1596.2" y1="1370" x2="1611.2" y2="1370" stroke="#222" stroke-width="1.4"/>
<circle cx="1549.5" cy="1387.3" r="3.9" fill="#939393" stroke="#222" stroke-width="1"/>
<circle cx="1553.5" cy="1387.3" r="3.9" fill="#939393" stroke="#222" stroke-width="1"/>
<circle cx="1557.5" cy="1387.3" r="3.9" fill="#939393" stroke="#222" stroke-width="1"/>
<circle cx="1561.5" cy="1387.3" r="3.9" fill="#939393" stroke="#222" stroke-width="1"/>
<circle cx="1565.5" cy="1387.3" r="3.9" fill="#939393" stroke="#222" stroke-width="1"/>
<circle cx="1569.5" cy="1387.3" r="3.9" fill="#939393" stroke="#222" stroke-width="1"/>
<circle cx="1603.7" cy="1172.2" r="3.9" fill="#fc7f7b" stroke="#222" stroke-width="1"/>
<circle cx="1603.7" cy="1259.9" r="3.9" fill="#fc7f7b" stroke="#222" stroke-width="1"/>
<circle cx="1603.7" cy="1339.8" r="3.9" fill="#fc7f7b" stroke="#222" stroke-width="1"/>
<circle cx="1601.7" cy="1343" r="3.9" fill="#fc7f7b" stroke="#222" stroke-width="1"/>
<circle cx="1605" cy="1346.2" r="3.9" fill="#fc7f7b" stroke="#222" stroke-width="1"/>
<circle cx="1603.7" cy="1370" r="3.9" fill="#fc7f7b" stroke="#222" stroke-width="1"/>
<circle cx="1594" cy="1387.3" r="3.9" fill="#fc7f7b" stroke="#222" stroke-width="1"/>
<circle cx="1599" cy="1387.3" r="3.9" fill="#fc7f7b" stroke="#222" stroke-width="1"/>
<circle cx="1609" cy="1387.3" r="3.9" fill="#fc7f7b" stroke="#222" stroke-width="1"/>
<circle cx="1614" cy="1387.3" r="3.9" fill="#fc7f7b" stroke="#222" stroke-width="1"/>
<polygon points="1599.5,1388.9 1608.5,1388.9 1604,1381.1" fill="#ffb8b8" stroke="#222" stroke-width="1"/>
<line x1="1559.5" y1="1147.6" x2="1605.4" y2="1147.6" stroke="#000" stroke-width="2.3"/>
<text x="1551.1" y="1140.2" font-size="23">0.015</text>
<text x="1535.56" y="1424.2" word-spacing="1.6">HC pRD</text>
<text transform="translate(1453.6 1262) rotate(-90)" x="0" y="0" text-anchor="middle">IL-10 (pg ml<tspan font-size="20" dy="-13">–</tspan><tspan font-size="16.5">1</tspan><tspan font-size="27.3" dy="13">)</tspan></text>
<circle cx="1782" cy="1236" r="11.9" fill="#939393" stroke="#222" stroke-width="1.2"/>
<circle cx="1782" cy="1275.1" r="11.9" fill="#fc7f7b" stroke="#222" stroke-width="1.2"/>
<polygon points="1769.7,1326.5 1796.7,1326.5 1783.2,1303.6" fill="#ffb8b8" stroke="#222" stroke-width="1.2"/>
<text x="1804.76" y="1246.6">HC-Ag</text>
<text x="1805.24" y="1286.4">pRD-Ag</text>
<text x="1805.24" y="1325.2">pRD-N</text>
</svg>
</body></html>
